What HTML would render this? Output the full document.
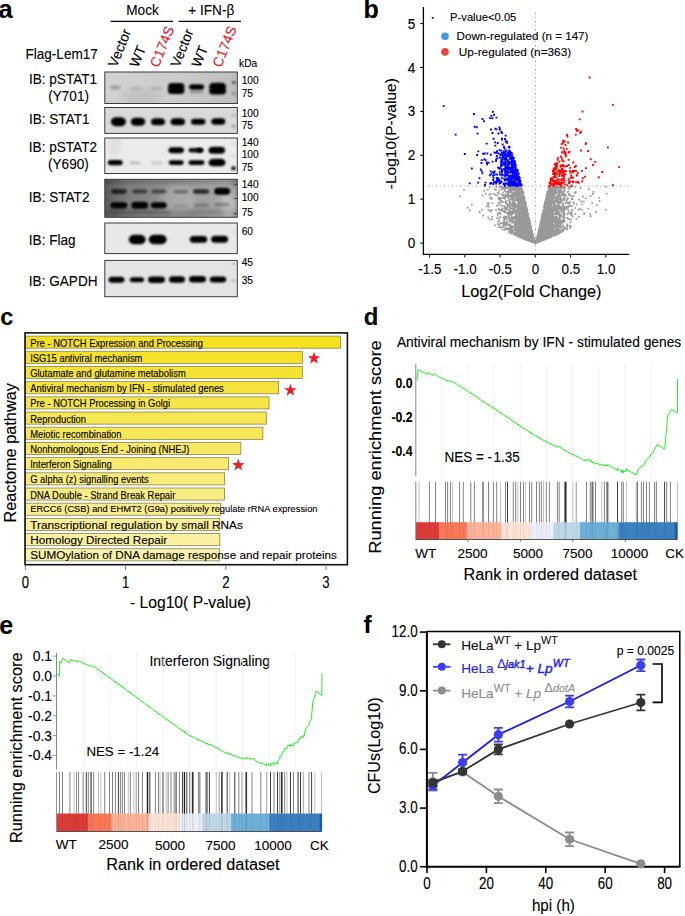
<!DOCTYPE html>
<html><head><meta charset="utf-8"><style>html,body{margin:0;padding:0;background:#fff;overflow:hidden}svg{display:block}text{font-family:"Liberation Sans",sans-serif}</style></head>
<body><svg width="685" height="916" viewBox="0 0 685 916">
<rect width="685" height="916" fill="#fff"/>
<defs>
<filter id="bl0" x="-50%" y="-50%" width="200%" height="200%"><feGaussianBlur stdDeviation="0.6"/></filter>
<filter id="bl1" x="-50%" y="-50%" width="200%" height="200%"><feGaussianBlur stdDeviation="0.9"/></filter>
<filter id="bl2" x="-50%" y="-50%" width="200%" height="200%"><feGaussianBlur stdDeviation="1.2"/></filter>
<filter id="bl3" x="-50%" y="-50%" width="200%" height="200%"><feGaussianBlur stdDeviation="1.6"/></filter>
<filter id="bl4" x="-50%" y="-50%" width="200%" height="200%"><feGaussianBlur stdDeviation="2.2"/></filter>
<filter id="bl5" x="-50%" y="-50%" width="200%" height="200%"><feGaussianBlur stdDeviation="3.0"/></filter>
</defs>
<text x="-1.50" y="17.60" font-size="25.5" fill="#000" text-anchor="start" font-weight="bold"  stroke="#000" stroke-width="0.12">a</text>
<text transform="translate(126.30,15.30) scale(1,1.08)" font-size="13.6" fill="#000" text-anchor="start" stroke="#000" stroke-width="0.12">Mock</text>
<text transform="translate(188.30,15.30) scale(1,1.08)" font-size="13.6" fill="#000" text-anchor="start" stroke="#000" stroke-width="0.12">+ IFN-β</text>
<line x1="110.7" y1="21.4" x2="173" y2="21.4" stroke="#000" stroke-width="1.1"/>
<line x1="178.6" y1="21.4" x2="241" y2="21.4" stroke="#000" stroke-width="1.1"/>
<text transform="translate(25.40,58.60) scale(1,1.1)" font-size="13.6" fill="#000" text-anchor="start" stroke="#000" stroke-width="0.12">Flag-Lem17</text>
<text transform="translate(116.5,68.2) rotate(-68)" font-size="14" fill="#000" stroke="#000" stroke-width="0.12">Vector</text>
<text transform="translate(138.0,68.2) rotate(-68)" font-size="14" fill="#000" stroke="#000" stroke-width="0.12">WT</text>
<text transform="translate(158.5,68.2) rotate(-68)" font-size="14" fill="#e8141c" stroke="#e8141c" stroke-width="0.12">C174S</text>
<text transform="translate(179.0,68.2) rotate(-68)" font-size="14" fill="#000" stroke="#000" stroke-width="0.12">Vector</text>
<text transform="translate(200.0,68.2) rotate(-68)" font-size="14" fill="#000" stroke="#000" stroke-width="0.12">WT</text>
<text transform="translate(221.0,68.2) rotate(-68)" font-size="14" fill="#e8141c" stroke="#e8141c" stroke-width="0.12">C174S</text>
<text x="239.10" y="66.50" font-size="10.2" fill="#000" text-anchor="start"  stroke="#000" stroke-width="0.12">kDa</text>
<text transform="translate(28.90,83.80) scale(1,1.1)" font-size="13.6" fill="#000" text-anchor="start" stroke="#000" stroke-width="0.12">IB: pSTAT1</text>
<text transform="translate(48.20,101.10) scale(1,1.1)" font-size="13.6" fill="#000" text-anchor="start" stroke="#000" stroke-width="0.12">(Y701)</text>
<text transform="translate(28.90,124.40) scale(1,1.1)" font-size="13.6" fill="#000" text-anchor="start" stroke="#000" stroke-width="0.12">IB: STAT1</text>
<text transform="translate(28.80,152.30) scale(1,1.1)" font-size="13.6" fill="#000" text-anchor="start" stroke="#000" stroke-width="0.12">IB: pSTAT2</text>
<text transform="translate(48.00,168.90) scale(1,1.1)" font-size="13.6" fill="#000" text-anchor="start" stroke="#000" stroke-width="0.12">(Y690)</text>
<text transform="translate(28.80,202.10) scale(1,1.1)" font-size="13.6" fill="#000" text-anchor="start" stroke="#000" stroke-width="0.12">IB: STAT2</text>
<text transform="translate(28.80,244.50) scale(1,1.1)" font-size="13.6" fill="#000" text-anchor="start" stroke="#000" stroke-width="0.12">IB: Flag</text>
<text transform="translate(28.80,285.90) scale(1,1.1)" font-size="13.6" fill="#000" text-anchor="start" stroke="#000" stroke-width="0.12">IB: GAPDH</text>
<text x="241.70" y="83.80" font-size="10.2" fill="#000" text-anchor="start"  stroke="#000" stroke-width="0.12">100</text>
<text x="241.70" y="96.60" font-size="10.2" fill="#000" text-anchor="start"  stroke="#000" stroke-width="0.12">75</text>
<text x="241.70" y="116.50" font-size="10.2" fill="#000" text-anchor="start"  stroke="#000" stroke-width="0.12">100</text>
<text x="241.70" y="129.30" font-size="10.2" fill="#000" text-anchor="start"  stroke="#000" stroke-width="0.12">75</text>
<text x="241.70" y="145.70" font-size="10.2" fill="#000" text-anchor="start"  stroke="#000" stroke-width="0.12">140</text>
<text x="241.70" y="158.40" font-size="10.2" fill="#000" text-anchor="start"  stroke="#000" stroke-width="0.12">100</text>
<text x="241.70" y="171.20" font-size="10.2" fill="#000" text-anchor="start"  stroke="#000" stroke-width="0.12">75</text>
<text x="241.70" y="188.30" font-size="10.2" fill="#000" text-anchor="start"  stroke="#000" stroke-width="0.12">140</text>
<text x="241.70" y="201.00" font-size="10.2" fill="#000" text-anchor="start"  stroke="#000" stroke-width="0.12">100</text>
<text x="241.70" y="216.00" font-size="10.2" fill="#000" text-anchor="start"  stroke="#000" stroke-width="0.12">75</text>
<text x="241.70" y="234.70" font-size="10.2" fill="#000" text-anchor="start"  stroke="#000" stroke-width="0.12">60</text>
<text x="241.70" y="266.30" font-size="10.2" fill="#000" text-anchor="start"  stroke="#000" stroke-width="0.12">45</text>
<text x="241.70" y="283.60" font-size="10.2" fill="#000" text-anchor="start"  stroke="#000" stroke-width="0.12">35</text>
<clipPath id="cp1"><rect x="104.8" y="72" width="132.5" height="31.5"/></clipPath>
<g clip-path="url(#cp1)">
<linearGradient id="g1" x1="0" y1="0" x2="1" y2="0"><stop offset="0" stop-color="#d2d2d2"/><stop offset="0.6" stop-color="#cbcbcb"/><stop offset="1" stop-color="#bdbdbd"/></linearGradient><rect x="100" y="70" width="140" height="40" fill="url(#g1)"/><ellipse cx="140" cy="97" rx="20" ry="8" fill="#000" opacity="0.06" filter="url(#bl5)"/>

<rect x="110.50" y="85.75" width="10.00" height="3.50" rx="2.10" ry="1.75" fill="#000" opacity="0.3" filter="url(#bl3)"/>
<rect x="130.00" y="86.75" width="12.00" height="3.50" rx="2.10" ry="1.75" fill="#000" opacity="0.12" filter="url(#bl3)"/>
<rect x="151.00" y="87.00" width="11.00" height="3.00" rx="1.80" ry="1.50" fill="#000" opacity="0.15" filter="url(#bl3)"/>
<rect x="167.95" y="83.10" width="16.50" height="7.00" rx="4.20" ry="3.50" fill="#000" opacity="1" filter="url(#bl1)"/>
<rect x="167.95" y="87.55" width="16.50" height="6.50" rx="3.90" ry="3.25" fill="#000" opacity="1" filter="url(#bl1)"/>
<rect x="189.10" y="84.35" width="15.00" height="5.50" rx="3.30" ry="2.75" fill="#000" opacity="1" filter="url(#bl1)"/>
<rect x="189.60" y="90.50" width="14.00" height="3.00" rx="1.80" ry="1.50" fill="#000" opacity="0.25" filter="url(#bl2)"/>
<rect x="209.10" y="82.85" width="17.00" height="7.50" rx="4.50" ry="3.75" fill="#000" opacity="1" filter="url(#bl1)"/>
<rect x="209.10" y="87.50" width="17.00" height="7.00" rx="4.20" ry="3.50" fill="#000" opacity="1" filter="url(#bl1)"/>
<rect x="231.90" y="80.75" width="4.00" height="3.50" rx="2.00" ry="1.75" fill="#000" opacity="0.55" filter="url(#bl2)"/>
<rect x="231.90" y="91.60" width="4.00" height="4.00" rx="2.00" ry="2.00" fill="#000" opacity="0.25" filter="url(#bl2)"/>
</g>
<rect x="104.8" y="72" width="132.5" height="31.5" fill="none" stroke="#3a3a3a" stroke-width="1"/>
<clipPath id="cp2"><rect x="104.8" y="107.5" width="132.5" height="25.900000000000006"/></clipPath>
<g clip-path="url(#cp2)">
<rect x="100" y="100" width="140" height="40" fill="#d9d9d9"/>

<rect x="110.90" y="117.20" width="15.00" height="9.00" rx="5.40" ry="4.50" fill="#000" opacity="1" filter="url(#bl1)"/>
<rect x="130.75" y="117.70" width="14.50" height="8.00" rx="4.80" ry="4.00" fill="#000" opacity="1" filter="url(#bl1)"/>
<rect x="151.00" y="118.30" width="14.00" height="7.00" rx="4.20" ry="3.50" fill="#000" opacity="1" filter="url(#bl1)"/>
<rect x="170.55" y="118.20" width="14.50" height="7.00" rx="4.20" ry="3.50" fill="#000" opacity="1" filter="url(#bl1)"/>
<rect x="190.95" y="118.70" width="14.50" height="6.00" rx="3.60" ry="3.00" fill="#000" opacity="1" filter="url(#bl1)"/>
<rect x="211.30" y="118.25" width="14.00" height="6.50" rx="3.90" ry="3.25" fill="#000" opacity="1" filter="url(#bl1)"/>
<rect x="231.50" y="114.25" width="4.00" height="2.50" rx="1.50" ry="1.25" fill="#000" opacity="0.25" filter="url(#bl2)"/>
<rect x="231.50" y="124.80" width="4.00" height="3.00" rx="1.80" ry="1.50" fill="#000" opacity="0.3" filter="url(#bl2)"/>
</g>
<rect x="104.8" y="107.5" width="132.5" height="25.900000000000006" fill="none" stroke="#3a3a3a" stroke-width="1"/>
<clipPath id="cp3"><rect x="104.8" y="138" width="132.5" height="35.5"/></clipPath>
<g clip-path="url(#cp3)">
<rect x="100" y="130" width="140" height="50" fill="#ebebeb"/><ellipse cx="115" cy="146" rx="6" ry="10" fill="#000" opacity="0.05" filter="url(#bl4)"/>

<rect x="168.45" y="147.20" width="15.50" height="6.00" rx="3.60" ry="3.00" fill="#000" opacity="1" filter="url(#bl1)"/>
<rect x="188.50" y="147.95" width="15.00" height="4.50" rx="2.70" ry="2.25" fill="#000" opacity="0.95" filter="url(#bl1)"/>
<rect x="196.50" y="147.95" width="6.00" height="4.50" rx="2.70" ry="2.25" fill="#000" opacity="1" filter="url(#bl1)"/>
<rect x="208.55" y="146.70" width="16.50" height="7.00" rx="4.20" ry="3.50" fill="#000" opacity="1" filter="url(#bl1)"/>
<rect x="107.70" y="160.00" width="15.00" height="5.20" rx="3.12" ry="2.60" fill="#000" opacity="1" filter="url(#bl1)"/>
<rect x="129.80" y="161.60" width="11.00" height="2.80" rx="1.68" ry="1.40" fill="#000" opacity="0.18" filter="url(#bl2)"/>
<rect x="151.00" y="161.60" width="12.00" height="2.80" rx="1.68" ry="1.40" fill="#000" opacity="0.14" filter="url(#bl2)"/>
<rect x="168.70" y="160.20" width="15.00" height="4.80" rx="2.88" ry="2.40" fill="#000" opacity="1" filter="url(#bl1)"/>
<rect x="188.50" y="160.20" width="16.00" height="4.80" rx="2.88" ry="2.40" fill="#000" opacity="1" filter="url(#bl1)"/>
<rect x="208.50" y="158.85" width="17.00" height="7.50" rx="4.50" ry="3.75" fill="#000" opacity="1" filter="url(#bl1)"/>
<rect x="231.25" y="166.30" width="4.50" height="4.00" rx="2.25" ry="2.00" fill="#000" opacity="1" filter="url(#bl1)"/>
<rect x="231.50" y="154.80" width="4.00" height="2.00" rx="1.20" ry="1.00" fill="#000" opacity="0.15" filter="url(#bl1)"/>
<rect x="231.50" y="142.40" width="4.00" height="2.00" rx="1.20" ry="1.00" fill="#000" opacity="0.12" filter="url(#bl1)"/>
</g>
<rect x="104.8" y="138" width="132.5" height="35.5" fill="none" stroke="#3a3a3a" stroke-width="1"/>
<clipPath id="cp4"><rect x="104.8" y="179.3" width="132.5" height="38.0"/></clipPath>
<g clip-path="url(#cp4)">
<linearGradient id="g4" x1="0" y1="0" x2="1" y2="0"><stop offset="0" stop-color="#555555"/><stop offset="0.2" stop-color="#7c7c7c"/><stop offset="0.55" stop-color="#959595"/><stop offset="0.9" stop-color="#a8a8a8"/><stop offset="1" stop-color="#8a8a8a"/></linearGradient><rect x="100" y="175" width="140" height="50" fill="url(#g4)"/><rect x="100" y="179" width="140" height="5" fill="#000" opacity="0.15" filter="url(#bl3)"/><rect x="100" y="209" width="140" height="8" fill="#000" opacity="0.12" filter="url(#bl4)"/><ellipse cx="178" cy="200" rx="18" ry="14" fill="#fff" opacity="0.18" filter="url(#bl5)"/><ellipse cx="230" cy="205" rx="8" ry="14" fill="#fff" opacity="0.3" filter="url(#bl5)"/>

<rect x="111.15" y="189.15" width="15.50" height="4.50" rx="2.70" ry="2.25" fill="#000" opacity="0.75" filter="url(#bl1)"/>
<rect x="132.30" y="189.60" width="15.00" height="4.00" rx="2.40" ry="2.00" fill="#000" opacity="0.55" filter="url(#bl1)"/>
<rect x="151.30" y="189.60" width="15.00" height="4.00" rx="2.40" ry="2.00" fill="#000" opacity="0.5" filter="url(#bl1)"/>
<rect x="173.30" y="190.05" width="15.00" height="3.50" rx="2.10" ry="1.75" fill="#000" opacity="0.35" filter="url(#bl1)"/>
<rect x="193.20" y="189.15" width="16.00" height="4.50" rx="2.70" ry="2.25" fill="#000" opacity="0.75" filter="url(#bl1)"/>
<rect x="214.20" y="187.70" width="16.00" height="7.00" rx="4.20" ry="3.50" fill="#000" opacity="1" filter="url(#bl1)"/>
<rect x="110.40" y="202.20" width="17.00" height="6.20" rx="3.72" ry="3.10" fill="#000" opacity="1" filter="url(#bl1)"/>
<rect x="131.30" y="201.80" width="17.00" height="7.00" rx="4.20" ry="3.50" fill="#000" opacity="1" filter="url(#bl1)"/>
<rect x="150.80" y="202.30" width="16.00" height="6.00" rx="3.60" ry="3.00" fill="#000" opacity="1" filter="url(#bl1)"/>
<rect x="173.30" y="204.30" width="15.00" height="3.00" rx="1.80" ry="1.50" fill="#000" opacity="0.12" filter="url(#bl2)"/>
<rect x="193.70" y="203.55" width="15.00" height="3.50" rx="2.10" ry="1.75" fill="#000" opacity="0.22" filter="url(#bl2)"/>
<rect x="214.70" y="202.85" width="15.00" height="3.50" rx="2.10" ry="1.75" fill="#000" opacity="0.28" filter="url(#bl2)"/>
<rect x="110.00" y="210.00" width="60.00" height="4.00" rx="2.40" ry="2.00" fill="#000" opacity="0.15" filter="url(#bl3)"/>
<rect x="170.00" y="210.00" width="60.00" height="4.00" rx="2.40" ry="2.00" fill="#000" opacity="0.06" filter="url(#bl3)"/>
</g>
<rect x="104.8" y="179.3" width="132.5" height="38.0" fill="none" stroke="#3a3a3a" stroke-width="1"/>
<g stroke="#333" stroke-width="0.9"><line x1="233.8" y1="184.8" x2="237" y2="184.8"/><line x1="233.8" y1="198.5" x2="237" y2="198.5"/><line x1="233.8" y1="213.5" x2="237" y2="213.5"/></g>
<clipPath id="cp5"><rect x="104.8" y="223" width="132.5" height="30.599999999999994"/></clipPath>
<g clip-path="url(#cp5)">
<rect x="100" y="220" width="140" height="40" fill="#e8e8e8"/>

<rect x="128.70" y="234.85" width="17.00" height="9.50" rx="5.70" ry="4.75" fill="#000" opacity="1" filter="url(#bl1)"/>
<rect x="148.70" y="234.85" width="18.00" height="9.50" rx="5.70" ry="4.75" fill="#000" opacity="1" filter="url(#bl1)"/>
<rect x="189.75" y="236.00" width="17.50" height="6.80" rx="4.08" ry="3.40" fill="#000" opacity="1" filter="url(#bl1)"/>
<rect x="211.10" y="235.70" width="17.00" height="7.00" rx="4.20" ry="3.50" fill="#000" opacity="1" filter="url(#bl1)"/>
<rect x="232.00" y="231.00" width="3.00" height="2.00" rx="1.20" ry="1.00" fill="#000" opacity="0.1" filter="url(#bl1)"/>
</g>
<rect x="104.8" y="223" width="132.5" height="30.599999999999994" fill="none" stroke="#3a3a3a" stroke-width="1"/>
<clipPath id="cp6"><rect x="104.8" y="260.4" width="132.5" height="36.30000000000001"/></clipPath>
<g clip-path="url(#cp6)">
<rect x="100" y="255" width="140" height="45" fill="#e4e4e4"/>

<rect x="108.50" y="276.70" width="16.00" height="6.00" rx="3.60" ry="3.00" fill="#000" opacity="1" filter="url(#bl1)"/>
<rect x="129.75" y="277.20" width="14.30" height="5.00" rx="3.00" ry="2.50" fill="#000" opacity="1" filter="url(#bl1)"/>
<rect x="148.00" y="276.45" width="17.00" height="6.50" rx="3.90" ry="3.25" fill="#000" opacity="1" filter="url(#bl1)"/>
<rect x="169.00" y="276.25" width="16.00" height="6.50" rx="3.90" ry="3.25" fill="#000" opacity="1" filter="url(#bl1)"/>
<rect x="189.00" y="276.05" width="17.00" height="6.50" rx="3.90" ry="3.25" fill="#000" opacity="1" filter="url(#bl1)"/>
<rect x="209.75" y="276.50" width="16.50" height="6.00" rx="3.60" ry="3.00" fill="#000" opacity="1" filter="url(#bl1)"/>
<rect x="231.75" y="263.00" width="3.50" height="2.00" rx="1.20" ry="1.00" fill="#000" opacity="0.25" filter="url(#bl1)"/>
<rect x="231.50" y="279.25" width="4.00" height="2.50" rx="1.50" ry="1.25" fill="#000" opacity="0.25" filter="url(#bl1)"/>
</g>
<rect x="104.8" y="260.4" width="132.5" height="36.30000000000001" fill="none" stroke="#3a3a3a" stroke-width="1"/>
<text x="363.60" y="17.90" font-size="25" fill="#000" text-anchor="start" font-weight="bold"  stroke="#000" stroke-width="0.12">b</text>
<line x1="423.4" y1="7" x2="423.4" y2="254.6" stroke="#000" stroke-width="1.3"/>
<line x1="422.8" y1="254.3" x2="629.4" y2="254.3" stroke="#000" stroke-width="1.3"/>
<line x1="420.2" y1="243.1" x2="423.4" y2="243.1" stroke="#000" stroke-width="1"/>
<text transform="translate(415.20,248.10) scale(1,1.1)" font-size="13.6" fill="#000" text-anchor="end" stroke="#000" stroke-width="0.12">0</text>
<line x1="420.2" y1="199.2" x2="423.4" y2="199.2" stroke="#000" stroke-width="1"/>
<text transform="translate(415.20,204.20) scale(1,1.1)" font-size="13.6" fill="#000" text-anchor="end" stroke="#000" stroke-width="0.12">1</text>
<line x1="420.2" y1="155.3" x2="423.4" y2="155.3" stroke="#000" stroke-width="1"/>
<text transform="translate(415.20,160.30) scale(1,1.1)" font-size="13.6" fill="#000" text-anchor="end" stroke="#000" stroke-width="0.12">2</text>
<line x1="420.2" y1="111.4" x2="423.4" y2="111.4" stroke="#000" stroke-width="1"/>
<text transform="translate(415.20,116.40) scale(1,1.1)" font-size="13.6" fill="#000" text-anchor="end" stroke="#000" stroke-width="0.12">3</text>
<line x1="420.2" y1="67.5" x2="423.4" y2="67.5" stroke="#000" stroke-width="1"/>
<text transform="translate(415.20,72.50) scale(1,1.1)" font-size="13.6" fill="#000" text-anchor="end" stroke="#000" stroke-width="0.12">4</text>
<line x1="420.2" y1="23.6" x2="423.4" y2="23.6" stroke="#000" stroke-width="1"/>
<text transform="translate(415.20,28.60) scale(1,1.1)" font-size="13.6" fill="#000" text-anchor="end" stroke="#000" stroke-width="0.12">5</text>
<line x1="429.5" y1="254.3" x2="429.5" y2="257.4" stroke="#000" stroke-width="1"/>
<text transform="translate(429.85,273.50) scale(1,1.15)" font-size="13.4" fill="#000" text-anchor="middle" stroke="#000" stroke-width="0.12">-1.5</text>
<line x1="464.8" y1="254.3" x2="464.8" y2="257.4" stroke="#000" stroke-width="1"/>
<text transform="translate(465.10,273.50) scale(1,1.15)" font-size="13.4" fill="#000" text-anchor="middle" stroke="#000" stroke-width="0.12">-1.0</text>
<line x1="500.0" y1="254.3" x2="500.0" y2="257.4" stroke="#000" stroke-width="1"/>
<text transform="translate(500.35,273.50) scale(1,1.15)" font-size="13.4" fill="#000" text-anchor="middle" stroke="#000" stroke-width="0.12">-0.5</text>
<line x1="535.3" y1="254.3" x2="535.3" y2="257.4" stroke="#000" stroke-width="1"/>
<text transform="translate(535.60,273.50) scale(1,1.15)" font-size="13.4" fill="#000" text-anchor="middle" stroke="#000" stroke-width="0.12">0</text>
<line x1="570.5" y1="254.3" x2="570.5" y2="257.4" stroke="#000" stroke-width="1"/>
<text transform="translate(570.85,273.50) scale(1,1.15)" font-size="13.4" fill="#000" text-anchor="middle" stroke="#000" stroke-width="0.12">0.5</text>
<line x1="605.8" y1="254.3" x2="605.8" y2="257.4" stroke="#000" stroke-width="1"/>
<text transform="translate(606.10,273.50) scale(1,1.15)" font-size="13.4" fill="#000" text-anchor="middle" stroke="#000" stroke-width="0.12">1.0</text>
<text x="531.40" y="296.80" font-size="16.3" fill="#000" text-anchor="middle"  stroke="#000" stroke-width="0.12">Log2(Fold Change)</text>
<text transform="translate(396,189.2) rotate(-90)" font-size="14.2" textLength="111" lengthAdjust="spacingAndGlyphs" stroke="#000" stroke-width="0.12">-Log10(P-value)</text>
<line x1="427" y1="186.0" x2="629" y2="186.0" stroke="#9aa8c0" stroke-width="0.7" stroke-dasharray="3,2,1,2"/>
<line x1="535.5" y1="12" x2="535.5" y2="252" stroke="#9aa8c0" stroke-width="0.7" stroke-dasharray="3,2,1,2"/>
<path fill="#999999" d="M521.4 203.5h1.7v1.7h-1.7zM530.8 233.2h1.7v1.7h-1.7zM540.2 234.1h1.7v1.7h-1.7zM515.7 233.7h1.7v1.7h-1.7zM533.3 241.8h1.7v1.7h-1.7zM535.4 241.8h1.7v1.7h-1.7zM528.8 232.0h1.7v1.7h-1.7zM530.0 234.9h1.7v1.7h-1.7zM525.9 230.2h1.7v1.7h-1.7zM543.1 235.6h1.7v1.7h-1.7zM523.5 220.8h1.7v1.7h-1.7zM532.3 239.4h1.7v1.7h-1.7zM516.9 196.3h1.7v1.7h-1.7zM560.4 230.1h1.7v1.7h-1.7zM547.8 213.8h1.7v1.7h-1.7zM550.7 189.9h1.7v1.7h-1.7zM531.4 241.1h1.7v1.7h-1.7zM540.7 221.3h1.7v1.7h-1.7zM551.3 212.4h1.7v1.7h-1.7zM539.1 238.1h1.7v1.7h-1.7zM536.8 236.7h1.7v1.7h-1.7zM510.8 207.4h1.7v1.7h-1.7zM526.1 238.3h1.7v1.7h-1.7zM531.9 240.9h1.7v1.7h-1.7zM514.8 224.1h1.7v1.7h-1.7zM533.3 239.0h1.7v1.7h-1.7zM567.2 217.8h1.7v1.7h-1.7zM532.1 240.7h1.7v1.7h-1.7zM543.9 234.4h1.7v1.7h-1.7zM521.2 224.4h1.7v1.7h-1.7zM515.2 220.8h1.7v1.7h-1.7zM535.6 240.9h1.7v1.7h-1.7zM532.0 239.4h1.7v1.7h-1.7zM527.6 226.5h1.7v1.7h-1.7zM546.9 207.3h1.7v1.7h-1.7zM556.6 227.4h1.7v1.7h-1.7zM539.7 228.6h1.7v1.7h-1.7zM543.5 211.5h1.7v1.7h-1.7zM528.3 236.5h1.7v1.7h-1.7zM527.7 238.0h1.7v1.7h-1.7zM541.5 231.8h1.7v1.7h-1.7zM552.2 228.0h1.7v1.7h-1.7zM514.6 203.2h1.7v1.7h-1.7zM548.9 189.7h1.7v1.7h-1.7zM547.3 227.9h1.7v1.7h-1.7zM537.6 239.6h1.7v1.7h-1.7zM545.6 227.2h1.7v1.7h-1.7zM516.7 186.0h1.7v1.7h-1.7zM546.9 233.8h1.7v1.7h-1.7zM542.2 214.8h1.7v1.7h-1.7zM523.5 228.1h1.7v1.7h-1.7zM483.4 190.0h1.7v1.7h-1.7zM523.5 196.8h1.7v1.7h-1.7zM525.8 228.6h1.7v1.7h-1.7zM519.8 233.0h1.7v1.7h-1.7zM527.2 213.6h1.7v1.7h-1.7zM521.6 211.0h1.7v1.7h-1.7zM542.7 229.5h1.7v1.7h-1.7zM509.8 227.9h1.7v1.7h-1.7zM545.5 232.0h1.7v1.7h-1.7zM547.1 208.6h1.7v1.7h-1.7zM534.5 242.1h1.7v1.7h-1.7zM544.7 212.2h1.7v1.7h-1.7zM529.7 231.6h1.7v1.7h-1.7zM545.7 228.0h1.7v1.7h-1.7zM519.5 201.1h1.7v1.7h-1.7zM546.2 237.1h1.7v1.7h-1.7zM526.8 228.7h1.7v1.7h-1.7zM538.7 240.2h1.7v1.7h-1.7zM519.4 207.4h1.7v1.7h-1.7zM515.8 217.0h1.7v1.7h-1.7zM554.6 230.4h1.7v1.7h-1.7zM544.8 200.2h1.7v1.7h-1.7zM564.1 207.5h1.7v1.7h-1.7zM540.9 240.0h1.7v1.7h-1.7zM554.4 223.7h1.7v1.7h-1.7zM527.4 217.9h1.7v1.7h-1.7zM531.9 238.3h1.7v1.7h-1.7zM534.9 241.5h1.7v1.7h-1.7zM536.2 239.3h1.7v1.7h-1.7zM528.4 226.5h1.7v1.7h-1.7zM524.2 230.9h1.7v1.7h-1.7zM469.0 209.6h1.7v1.7h-1.7zM522.4 199.2h1.7v1.7h-1.7zM505.9 223.1h1.7v1.7h-1.7zM574.5 185.8h1.7v1.7h-1.7zM539.1 231.8h1.7v1.7h-1.7zM525.2 203.0h1.7v1.7h-1.7zM567.6 190.8h1.7v1.7h-1.7zM542.8 228.7h1.7v1.7h-1.7zM546.3 191.8h1.7v1.7h-1.7zM534.3 242.1h1.7v1.7h-1.7zM535.8 241.7h1.7v1.7h-1.7zM540.8 227.6h1.7v1.7h-1.7zM559.5 194.8h1.7v1.7h-1.7zM532.7 239.9h1.7v1.7h-1.7zM540.3 238.8h1.7v1.7h-1.7zM536.8 241.3h1.7v1.7h-1.7zM517.2 234.4h1.7v1.7h-1.7zM545.8 232.6h1.7v1.7h-1.7zM535.1 240.8h1.7v1.7h-1.7zM528.0 228.6h1.7v1.7h-1.7zM523.8 238.0h1.7v1.7h-1.7zM549.5 221.9h1.7v1.7h-1.7zM536.6 241.5h1.7v1.7h-1.7zM538.5 237.2h1.7v1.7h-1.7zM526.6 229.8h1.7v1.7h-1.7zM523.6 216.9h1.7v1.7h-1.7zM539.9 227.6h1.7v1.7h-1.7zM547.2 191.3h1.7v1.7h-1.7zM533.0 241.2h1.7v1.7h-1.7zM540.8 238.6h1.7v1.7h-1.7zM527.6 219.6h1.7v1.7h-1.7zM531.0 235.5h1.7v1.7h-1.7zM543.5 215.6h1.7v1.7h-1.7zM487.5 204.1h1.7v1.7h-1.7zM524.3 237.5h1.7v1.7h-1.7zM540.9 233.9h1.7v1.7h-1.7zM546.9 225.2h1.7v1.7h-1.7zM530.2 240.5h1.7v1.7h-1.7zM542.9 237.5h1.7v1.7h-1.7zM518.0 210.3h1.7v1.7h-1.7zM551.1 226.8h1.7v1.7h-1.7zM516.9 219.6h1.7v1.7h-1.7zM537.7 240.8h1.7v1.7h-1.7zM550.3 235.9h1.7v1.7h-1.7zM528.3 220.7h1.7v1.7h-1.7zM557.9 222.7h1.7v1.7h-1.7zM538.8 228.2h1.7v1.7h-1.7zM521.4 230.3h1.7v1.7h-1.7zM551.5 229.2h1.7v1.7h-1.7zM540.9 225.8h1.7v1.7h-1.7zM512.1 185.7h1.7v1.7h-1.7zM557.5 202.4h1.7v1.7h-1.7zM513.0 202.2h1.7v1.7h-1.7zM545.8 235.4h1.7v1.7h-1.7zM531.3 230.8h1.7v1.7h-1.7zM559.0 201.0h1.7v1.7h-1.7zM546.4 210.1h1.7v1.7h-1.7zM515.8 231.4h1.7v1.7h-1.7zM537.7 230.9h1.7v1.7h-1.7zM540.5 238.1h1.7v1.7h-1.7zM501.8 207.6h1.7v1.7h-1.7zM562.4 224.4h1.7v1.7h-1.7zM549.9 213.2h1.7v1.7h-1.7zM522.3 235.7h1.7v1.7h-1.7zM533.0 241.0h1.7v1.7h-1.7zM535.1 241.8h1.7v1.7h-1.7zM539.9 223.9h1.7v1.7h-1.7zM543.2 234.3h1.7v1.7h-1.7zM525.4 234.8h1.7v1.7h-1.7zM522.1 211.0h1.7v1.7h-1.7zM530.1 238.3h1.7v1.7h-1.7zM544.1 201.8h1.7v1.7h-1.7zM551.0 222.2h1.7v1.7h-1.7zM536.6 239.1h1.7v1.7h-1.7zM536.1 238.2h1.7v1.7h-1.7zM542.5 235.2h1.7v1.7h-1.7zM549.7 189.3h1.7v1.7h-1.7zM533.1 239.5h1.7v1.7h-1.7zM531.8 234.8h1.7v1.7h-1.7zM537.8 236.0h1.7v1.7h-1.7zM544.5 235.5h1.7v1.7h-1.7zM537.7 233.9h1.7v1.7h-1.7zM527.8 229.9h1.7v1.7h-1.7zM534.5 242.2h1.7v1.7h-1.7zM519.3 217.3h1.7v1.7h-1.7zM533.8 241.2h1.7v1.7h-1.7zM539.1 240.0h1.7v1.7h-1.7zM553.2 217.2h1.7v1.7h-1.7zM537.0 237.4h1.7v1.7h-1.7zM532.5 237.8h1.7v1.7h-1.7zM528.8 235.4h1.7v1.7h-1.7zM545.5 207.2h1.7v1.7h-1.7zM518.6 219.9h1.7v1.7h-1.7zM520.9 227.0h1.7v1.7h-1.7zM552.7 193.3h1.7v1.7h-1.7zM548.9 207.9h1.7v1.7h-1.7zM503.6 229.1h1.7v1.7h-1.7zM522.9 228.2h1.7v1.7h-1.7zM506.1 227.7h1.7v1.7h-1.7zM528.3 224.0h1.7v1.7h-1.7zM528.3 232.4h1.7v1.7h-1.7zM546.1 234.0h1.7v1.7h-1.7zM544.6 202.0h1.7v1.7h-1.7zM543.8 236.6h1.7v1.7h-1.7zM538.2 240.3h1.7v1.7h-1.7zM519.4 188.9h1.7v1.7h-1.7zM557.6 213.6h1.7v1.7h-1.7zM539.1 230.3h1.7v1.7h-1.7zM539.0 238.8h1.7v1.7h-1.7zM511.7 201.3h1.7v1.7h-1.7zM525.1 222.4h1.7v1.7h-1.7zM538.3 240.7h1.7v1.7h-1.7zM520.0 230.0h1.7v1.7h-1.7zM527.9 234.8h1.7v1.7h-1.7zM540.5 238.0h1.7v1.7h-1.7zM547.7 234.1h1.7v1.7h-1.7zM543.9 212.6h1.7v1.7h-1.7zM547.3 195.4h1.7v1.7h-1.7zM504.5 218.0h1.7v1.7h-1.7zM519.0 190.3h1.7v1.7h-1.7zM544.3 216.7h1.7v1.7h-1.7zM562.4 230.5h1.7v1.7h-1.7zM540.3 235.8h1.7v1.7h-1.7zM543.5 204.7h1.7v1.7h-1.7zM522.8 210.6h1.7v1.7h-1.7zM548.3 228.3h1.7v1.7h-1.7zM524.5 220.1h1.7v1.7h-1.7zM517.7 193.1h1.7v1.7h-1.7zM516.9 234.3h1.7v1.7h-1.7zM529.2 235.4h1.7v1.7h-1.7zM547.2 190.3h1.7v1.7h-1.7zM526.2 213.9h1.7v1.7h-1.7zM541.3 231.1h1.7v1.7h-1.7zM540.8 217.8h1.7v1.7h-1.7zM549.4 185.6h1.7v1.7h-1.7zM551.3 200.4h1.7v1.7h-1.7zM530.4 237.1h1.7v1.7h-1.7zM518.2 201.0h1.7v1.7h-1.7zM516.5 209.0h1.7v1.7h-1.7zM571.6 198.2h1.7v1.7h-1.7zM550.1 232.2h1.7v1.7h-1.7zM532.9 240.0h1.7v1.7h-1.7zM515.7 221.3h1.7v1.7h-1.7zM519.5 222.2h1.7v1.7h-1.7zM519.8 216.5h1.7v1.7h-1.7zM543.2 237.8h1.7v1.7h-1.7zM510.1 189.4h1.7v1.7h-1.7zM542.4 215.8h1.7v1.7h-1.7zM520.1 191.4h1.7v1.7h-1.7zM532.2 240.7h1.7v1.7h-1.7zM529.4 234.0h1.7v1.7h-1.7zM522.6 237.4h1.7v1.7h-1.7zM552.7 197.5h1.7v1.7h-1.7zM562.6 202.7h1.7v1.7h-1.7zM530.2 228.5h1.7v1.7h-1.7zM541.8 226.0h1.7v1.7h-1.7zM533.7 240.4h1.7v1.7h-1.7zM539.9 223.2h1.7v1.7h-1.7zM533.1 239.7h1.7v1.7h-1.7zM533.2 240.9h1.7v1.7h-1.7zM535.6 240.8h1.7v1.7h-1.7zM542.8 237.8h1.7v1.7h-1.7zM558.6 230.6h1.7v1.7h-1.7zM532.8 238.3h1.7v1.7h-1.7zM540.7 226.2h1.7v1.7h-1.7zM548.3 198.3h1.7v1.7h-1.7zM525.8 234.0h1.7v1.7h-1.7zM531.5 233.0h1.7v1.7h-1.7zM541.8 231.3h1.7v1.7h-1.7zM560.3 191.5h1.7v1.7h-1.7zM546.2 195.5h1.7v1.7h-1.7zM513.3 233.1h1.7v1.7h-1.7zM536.5 240.4h1.7v1.7h-1.7zM537.4 235.1h1.7v1.7h-1.7zM516.5 225.6h1.7v1.7h-1.7zM530.8 234.3h1.7v1.7h-1.7zM526.3 232.3h1.7v1.7h-1.7zM533.5 241.1h1.7v1.7h-1.7zM548.8 191.4h1.7v1.7h-1.7zM537.5 233.1h1.7v1.7h-1.7zM554.7 197.1h1.7v1.7h-1.7zM507.6 215.3h1.7v1.7h-1.7zM544.1 230.7h1.7v1.7h-1.7zM549.6 226.6h1.7v1.7h-1.7zM533.9 241.7h1.7v1.7h-1.7zM541.6 216.9h1.7v1.7h-1.7zM512.7 196.6h1.7v1.7h-1.7zM570.5 213.6h1.7v1.7h-1.7zM538.5 239.8h1.7v1.7h-1.7zM533.0 239.1h1.7v1.7h-1.7zM530.8 239.3h1.7v1.7h-1.7zM514.5 204.6h1.7v1.7h-1.7zM541.7 233.5h1.7v1.7h-1.7zM517.5 188.9h1.7v1.7h-1.7zM521.5 230.1h1.7v1.7h-1.7zM534.0 242.0h1.7v1.7h-1.7zM511.0 186.1h1.7v1.7h-1.7zM542.3 224.8h1.7v1.7h-1.7zM529.3 230.7h1.7v1.7h-1.7zM544.8 222.8h1.7v1.7h-1.7zM532.4 240.9h1.7v1.7h-1.7zM523.4 228.6h1.7v1.7h-1.7zM549.6 201.7h1.7v1.7h-1.7zM531.0 230.9h1.7v1.7h-1.7zM536.8 237.2h1.7v1.7h-1.7zM544.8 233.6h1.7v1.7h-1.7zM532.6 239.5h1.7v1.7h-1.7zM521.7 236.8h1.7v1.7h-1.7zM531.6 241.2h1.7v1.7h-1.7zM535.2 241.6h1.7v1.7h-1.7zM522.2 228.9h1.7v1.7h-1.7zM541.5 227.7h1.7v1.7h-1.7zM551.6 217.2h1.7v1.7h-1.7zM550.2 207.8h1.7v1.7h-1.7zM543.3 221.1h1.7v1.7h-1.7zM545.4 231.7h1.7v1.7h-1.7zM538.0 238.4h1.7v1.7h-1.7zM554.3 219.1h1.7v1.7h-1.7zM519.7 234.0h1.7v1.7h-1.7zM574.1 213.0h1.7v1.7h-1.7zM548.4 207.6h1.7v1.7h-1.7zM544.3 219.0h1.7v1.7h-1.7zM604.9 208.9h1.7v1.7h-1.7zM543.3 234.2h1.7v1.7h-1.7zM534.6 241.8h1.7v1.7h-1.7zM530.3 234.7h1.7v1.7h-1.7zM540.1 223.8h1.7v1.7h-1.7zM556.1 197.7h1.7v1.7h-1.7zM540.8 233.4h1.7v1.7h-1.7zM527.3 224.4h1.7v1.7h-1.7zM555.0 211.3h1.7v1.7h-1.7zM555.5 229.0h1.7v1.7h-1.7zM526.5 221.9h1.7v1.7h-1.7zM537.3 238.8h1.7v1.7h-1.7zM521.8 203.9h1.7v1.7h-1.7zM536.0 240.7h1.7v1.7h-1.7zM553.9 221.1h1.7v1.7h-1.7zM552.8 229.4h1.7v1.7h-1.7zM538.6 239.3h1.7v1.7h-1.7zM539.9 228.9h1.7v1.7h-1.7zM526.0 210.9h1.7v1.7h-1.7zM516.6 235.4h1.7v1.7h-1.7zM533.5 239.9h1.7v1.7h-1.7zM532.4 240.4h1.7v1.7h-1.7zM524.7 216.1h1.7v1.7h-1.7zM512.6 186.2h1.7v1.7h-1.7zM522.8 209.3h1.7v1.7h-1.7zM545.7 229.8h1.7v1.7h-1.7zM519.0 218.5h1.7v1.7h-1.7zM549.7 204.0h1.7v1.7h-1.7zM525.9 207.3h1.7v1.7h-1.7zM532.4 240.3h1.7v1.7h-1.7zM536.6 239.2h1.7v1.7h-1.7zM532.3 239.5h1.7v1.7h-1.7zM533.8 240.7h1.7v1.7h-1.7zM543.4 216.7h1.7v1.7h-1.7zM534.5 242.2h1.7v1.7h-1.7zM546.8 198.6h1.7v1.7h-1.7zM552.5 230.6h1.7v1.7h-1.7zM520.9 188.2h1.7v1.7h-1.7zM533.5 241.7h1.7v1.7h-1.7zM495.6 185.3h1.7v1.7h-1.7zM516.4 195.1h1.7v1.7h-1.7zM542.7 215.8h1.7v1.7h-1.7zM544.2 205.2h1.7v1.7h-1.7zM531.2 239.4h1.7v1.7h-1.7zM512.6 199.4h1.7v1.7h-1.7zM541.1 230.9h1.7v1.7h-1.7zM531.5 240.3h1.7v1.7h-1.7zM552.2 224.8h1.7v1.7h-1.7zM523.2 213.6h1.7v1.7h-1.7zM513.7 232.0h1.7v1.7h-1.7zM540.3 219.4h1.7v1.7h-1.7zM514.0 208.9h1.7v1.7h-1.7zM511.2 191.8h1.7v1.7h-1.7zM537.4 234.8h1.7v1.7h-1.7zM516.8 233.5h1.7v1.7h-1.7zM549.6 203.3h1.7v1.7h-1.7zM543.4 217.8h1.7v1.7h-1.7zM522.1 212.0h1.7v1.7h-1.7zM537.6 240.1h1.7v1.7h-1.7zM526.6 212.2h1.7v1.7h-1.7zM537.5 235.8h1.7v1.7h-1.7zM542.4 216.5h1.7v1.7h-1.7zM558.2 211.0h1.7v1.7h-1.7zM514.9 213.7h1.7v1.7h-1.7zM539.8 229.4h1.7v1.7h-1.7zM518.5 230.5h1.7v1.7h-1.7zM520.4 211.7h1.7v1.7h-1.7zM542.0 227.1h1.7v1.7h-1.7zM566.7 198.4h1.7v1.7h-1.7zM546.0 195.2h1.7v1.7h-1.7zM566.5 213.5h1.7v1.7h-1.7zM535.6 240.5h1.7v1.7h-1.7zM458.9 195.5h1.7v1.7h-1.7zM540.7 235.3h1.7v1.7h-1.7zM536.5 240.5h1.7v1.7h-1.7zM549.1 200.2h1.7v1.7h-1.7zM531.9 235.0h1.7v1.7h-1.7zM543.8 218.2h1.7v1.7h-1.7zM530.5 232.9h1.7v1.7h-1.7zM553.7 207.4h1.7v1.7h-1.7zM522.2 224.1h1.7v1.7h-1.7zM546.3 201.3h1.7v1.7h-1.7zM533.1 241.3h1.7v1.7h-1.7zM521.7 232.4h1.7v1.7h-1.7zM531.9 236.6h1.7v1.7h-1.7zM517.7 215.6h1.7v1.7h-1.7zM537.1 237.2h1.7v1.7h-1.7zM523.6 196.4h1.7v1.7h-1.7zM514.4 189.5h1.7v1.7h-1.7zM556.6 187.3h1.7v1.7h-1.7zM509.2 223.2h1.7v1.7h-1.7zM536.4 239.9h1.7v1.7h-1.7zM518.5 223.5h1.7v1.7h-1.7zM566.9 208.6h1.7v1.7h-1.7zM522.4 227.2h1.7v1.7h-1.7zM538.8 238.4h1.7v1.7h-1.7zM522.9 225.6h1.7v1.7h-1.7zM504.7 223.8h1.7v1.7h-1.7zM553.3 202.2h1.7v1.7h-1.7zM537.6 237.0h1.7v1.7h-1.7zM521.5 225.6h1.7v1.7h-1.7zM544.4 201.5h1.7v1.7h-1.7zM543.7 233.0h1.7v1.7h-1.7zM529.2 233.7h1.7v1.7h-1.7zM544.0 221.1h1.7v1.7h-1.7zM563.1 197.7h1.7v1.7h-1.7zM526.4 230.7h1.7v1.7h-1.7zM524.7 228.9h1.7v1.7h-1.7zM547.6 220.0h1.7v1.7h-1.7zM528.5 224.8h1.7v1.7h-1.7zM532.0 237.1h1.7v1.7h-1.7zM541.6 231.7h1.7v1.7h-1.7zM542.5 231.8h1.7v1.7h-1.7zM541.5 219.2h1.7v1.7h-1.7zM536.3 241.1h1.7v1.7h-1.7zM547.6 229.2h1.7v1.7h-1.7zM536.2 239.6h1.7v1.7h-1.7zM523.2 200.2h1.7v1.7h-1.7zM536.0 241.3h1.7v1.7h-1.7zM536.6 241.5h1.7v1.7h-1.7zM538.3 235.5h1.7v1.7h-1.7zM533.1 240.8h1.7v1.7h-1.7zM556.8 222.4h1.7v1.7h-1.7zM548.6 231.6h1.7v1.7h-1.7zM539.0 225.8h1.7v1.7h-1.7zM508.2 216.5h1.7v1.7h-1.7zM521.9 209.0h1.7v1.7h-1.7zM530.6 234.3h1.7v1.7h-1.7zM517.4 214.2h1.7v1.7h-1.7zM537.4 240.3h1.7v1.7h-1.7zM545.3 214.3h1.7v1.7h-1.7zM571.0 214.3h1.7v1.7h-1.7zM506.5 192.4h1.7v1.7h-1.7zM535.3 241.3h1.7v1.7h-1.7zM532.6 241.3h1.7v1.7h-1.7zM554.2 232.7h1.7v1.7h-1.7zM531.6 235.1h1.7v1.7h-1.7zM544.6 230.9h1.7v1.7h-1.7zM525.5 238.6h1.7v1.7h-1.7zM531.7 239.6h1.7v1.7h-1.7zM549.0 192.8h1.7v1.7h-1.7zM515.7 224.0h1.7v1.7h-1.7zM530.6 237.7h1.7v1.7h-1.7zM542.2 239.4h1.7v1.7h-1.7zM578.2 216.0h1.7v1.7h-1.7zM539.8 236.7h1.7v1.7h-1.7zM523.3 201.2h1.7v1.7h-1.7zM537.1 239.5h1.7v1.7h-1.7zM559.2 188.9h1.7v1.7h-1.7zM532.2 239.3h1.7v1.7h-1.7zM546.6 229.9h1.7v1.7h-1.7zM543.3 205.0h1.7v1.7h-1.7zM549.4 199.2h1.7v1.7h-1.7zM529.3 239.9h1.7v1.7h-1.7zM533.8 240.5h1.7v1.7h-1.7zM530.2 226.6h1.7v1.7h-1.7zM526.1 231.4h1.7v1.7h-1.7zM510.3 195.9h1.7v1.7h-1.7zM521.8 207.2h1.7v1.7h-1.7zM533.5 239.6h1.7v1.7h-1.7zM537.9 235.2h1.7v1.7h-1.7zM519.0 201.7h1.7v1.7h-1.7zM528.8 227.3h1.7v1.7h-1.7zM545.4 220.6h1.7v1.7h-1.7zM543.5 236.2h1.7v1.7h-1.7zM514.6 206.4h1.7v1.7h-1.7zM554.9 213.8h1.7v1.7h-1.7zM545.4 202.8h1.7v1.7h-1.7zM540.8 229.3h1.7v1.7h-1.7zM567.2 202.7h1.7v1.7h-1.7zM551.6 229.3h1.7v1.7h-1.7zM538.4 232.0h1.7v1.7h-1.7zM524.3 229.2h1.7v1.7h-1.7zM563.0 217.1h1.7v1.7h-1.7zM522.3 228.6h1.7v1.7h-1.7zM534.2 241.9h1.7v1.7h-1.7zM544.1 215.3h1.7v1.7h-1.7zM563.4 193.1h1.7v1.7h-1.7zM521.4 230.3h1.7v1.7h-1.7zM515.7 223.1h1.7v1.7h-1.7zM513.3 192.8h1.7v1.7h-1.7zM524.8 238.3h1.7v1.7h-1.7zM544.7 218.7h1.7v1.7h-1.7zM557.5 187.3h1.7v1.7h-1.7zM522.7 234.4h1.7v1.7h-1.7zM522.7 231.1h1.7v1.7h-1.7zM524.9 230.7h1.7v1.7h-1.7zM531.1 240.4h1.7v1.7h-1.7zM518.8 211.5h1.7v1.7h-1.7zM520.8 228.3h1.7v1.7h-1.7zM532.5 241.3h1.7v1.7h-1.7zM545.4 219.4h1.7v1.7h-1.7zM533.7 241.9h1.7v1.7h-1.7zM527.5 219.7h1.7v1.7h-1.7zM529.6 237.9h1.7v1.7h-1.7zM521.4 209.5h1.7v1.7h-1.7zM529.5 226.0h1.7v1.7h-1.7zM526.2 211.8h1.7v1.7h-1.7zM538.0 241.0h1.7v1.7h-1.7zM547.5 231.0h1.7v1.7h-1.7zM528.0 236.5h1.7v1.7h-1.7zM517.1 231.6h1.7v1.7h-1.7zM558.2 225.5h1.7v1.7h-1.7zM534.0 241.9h1.7v1.7h-1.7zM554.3 213.7h1.7v1.7h-1.7zM522.6 221.4h1.7v1.7h-1.7zM534.3 242.0h1.7v1.7h-1.7zM559.2 208.3h1.7v1.7h-1.7zM555.5 223.5h1.7v1.7h-1.7zM530.7 233.4h1.7v1.7h-1.7zM519.7 215.8h1.7v1.7h-1.7zM539.5 231.1h1.7v1.7h-1.7zM517.1 194.7h1.7v1.7h-1.7zM526.3 232.4h1.7v1.7h-1.7zM546.1 221.2h1.7v1.7h-1.7zM534.4 242.2h1.7v1.7h-1.7zM519.2 220.2h1.7v1.7h-1.7zM544.3 230.8h1.7v1.7h-1.7zM543.8 236.4h1.7v1.7h-1.7zM553.4 226.2h1.7v1.7h-1.7zM562.7 228.3h1.7v1.7h-1.7zM549.9 229.2h1.7v1.7h-1.7zM531.7 233.7h1.7v1.7h-1.7zM534.5 242.2h1.7v1.7h-1.7zM552.6 186.3h1.7v1.7h-1.7zM547.9 211.8h1.7v1.7h-1.7zM543.6 217.9h1.7v1.7h-1.7zM520.7 215.5h1.7v1.7h-1.7zM541.2 215.1h1.7v1.7h-1.7zM517.7 206.0h1.7v1.7h-1.7zM545.4 233.3h1.7v1.7h-1.7zM526.8 227.5h1.7v1.7h-1.7zM560.2 214.8h1.7v1.7h-1.7zM521.8 226.3h1.7v1.7h-1.7zM530.0 225.6h1.7v1.7h-1.7zM537.8 238.3h1.7v1.7h-1.7zM541.6 231.5h1.7v1.7h-1.7zM529.7 234.7h1.7v1.7h-1.7zM551.2 200.8h1.7v1.7h-1.7zM528.6 226.5h1.7v1.7h-1.7zM519.1 226.5h1.7v1.7h-1.7zM526.1 239.1h1.7v1.7h-1.7zM534.8 242.1h1.7v1.7h-1.7zM517.9 207.3h1.7v1.7h-1.7zM534.8 242.0h1.7v1.7h-1.7zM550.3 222.9h1.7v1.7h-1.7zM543.5 236.5h1.7v1.7h-1.7zM531.7 237.8h1.7v1.7h-1.7zM505.5 223.9h1.7v1.7h-1.7zM530.5 234.7h1.7v1.7h-1.7zM535.9 240.8h1.7v1.7h-1.7zM540.2 240.1h1.7v1.7h-1.7zM535.0 240.7h1.7v1.7h-1.7zM529.1 224.5h1.7v1.7h-1.7zM538.3 240.4h1.7v1.7h-1.7zM532.0 241.4h1.7v1.7h-1.7zM523.9 201.6h1.7v1.7h-1.7zM541.4 226.5h1.7v1.7h-1.7zM544.8 230.6h1.7v1.7h-1.7zM513.5 225.7h1.7v1.7h-1.7zM549.0 234.2h1.7v1.7h-1.7zM521.9 235.1h1.7v1.7h-1.7zM510.7 197.3h1.7v1.7h-1.7zM545.1 237.7h1.7v1.7h-1.7zM552.5 208.5h1.7v1.7h-1.7zM541.4 232.4h1.7v1.7h-1.7zM551.3 195.9h1.7v1.7h-1.7zM548.1 235.0h1.7v1.7h-1.7zM540.7 224.3h1.7v1.7h-1.7zM534.8 241.9h1.7v1.7h-1.7zM520.7 204.9h1.7v1.7h-1.7zM510.7 215.6h1.7v1.7h-1.7zM535.0 241.5h1.7v1.7h-1.7zM514.1 193.0h1.7v1.7h-1.7zM522.2 233.9h1.7v1.7h-1.7zM529.6 234.0h1.7v1.7h-1.7zM539.7 230.8h1.7v1.7h-1.7zM522.3 228.0h1.7v1.7h-1.7zM527.1 225.7h1.7v1.7h-1.7zM559.1 205.9h1.7v1.7h-1.7zM542.5 222.6h1.7v1.7h-1.7zM515.7 231.2h1.7v1.7h-1.7zM511.6 199.1h1.7v1.7h-1.7zM523.0 221.0h1.7v1.7h-1.7zM526.5 237.6h1.7v1.7h-1.7zM558.1 224.6h1.7v1.7h-1.7zM527.3 237.7h1.7v1.7h-1.7zM523.5 213.9h1.7v1.7h-1.7zM545.9 218.8h1.7v1.7h-1.7zM551.1 186.1h1.7v1.7h-1.7zM527.2 228.1h1.7v1.7h-1.7zM540.1 234.6h1.7v1.7h-1.7zM548.2 221.8h1.7v1.7h-1.7zM548.2 220.4h1.7v1.7h-1.7zM532.2 240.2h1.7v1.7h-1.7zM561.6 212.6h1.7v1.7h-1.7zM532.7 239.1h1.7v1.7h-1.7zM539.3 236.3h1.7v1.7h-1.7zM528.9 225.1h1.7v1.7h-1.7zM536.5 240.7h1.7v1.7h-1.7zM543.5 238.7h1.7v1.7h-1.7zM518.0 188.9h1.7v1.7h-1.7zM567.6 186.8h1.7v1.7h-1.7zM538.1 238.2h1.7v1.7h-1.7zM533.8 240.3h1.7v1.7h-1.7zM540.1 231.1h1.7v1.7h-1.7zM563.0 206.0h1.7v1.7h-1.7zM537.3 238.9h1.7v1.7h-1.7zM523.6 197.2h1.7v1.7h-1.7zM536.9 239.3h1.7v1.7h-1.7zM513.7 206.2h1.7v1.7h-1.7zM518.2 226.1h1.7v1.7h-1.7zM543.1 233.5h1.7v1.7h-1.7zM557.4 187.7h1.7v1.7h-1.7zM549.4 191.0h1.7v1.7h-1.7zM529.9 231.7h1.7v1.7h-1.7zM533.7 241.5h1.7v1.7h-1.7zM530.9 235.1h1.7v1.7h-1.7zM536.4 240.7h1.7v1.7h-1.7zM547.8 234.9h1.7v1.7h-1.7zM527.0 213.1h1.7v1.7h-1.7zM543.9 209.3h1.7v1.7h-1.7zM532.2 241.1h1.7v1.7h-1.7zM550.3 228.6h1.7v1.7h-1.7zM546.0 236.0h1.7v1.7h-1.7zM540.1 238.5h1.7v1.7h-1.7zM533.0 237.6h1.7v1.7h-1.7zM545.2 227.5h1.7v1.7h-1.7zM542.2 220.0h1.7v1.7h-1.7zM550.8 229.2h1.7v1.7h-1.7zM544.5 215.6h1.7v1.7h-1.7zM530.2 237.9h1.7v1.7h-1.7zM556.3 232.5h1.7v1.7h-1.7zM491.2 216.0h1.7v1.7h-1.7zM522.1 234.3h1.7v1.7h-1.7zM551.5 229.8h1.7v1.7h-1.7zM507.1 191.0h1.7v1.7h-1.7zM558.5 222.3h1.7v1.7h-1.7zM523.2 219.1h1.7v1.7h-1.7zM524.2 232.4h1.7v1.7h-1.7zM545.6 229.2h1.7v1.7h-1.7zM525.0 214.4h1.7v1.7h-1.7zM535.2 240.5h1.7v1.7h-1.7zM528.1 231.5h1.7v1.7h-1.7zM523.3 236.3h1.7v1.7h-1.7zM522.7 192.4h1.7v1.7h-1.7zM533.6 241.0h1.7v1.7h-1.7zM520.7 224.6h1.7v1.7h-1.7zM559.6 188.5h1.7v1.7h-1.7zM531.5 238.6h1.7v1.7h-1.7zM526.5 227.3h1.7v1.7h-1.7zM558.2 191.1h1.7v1.7h-1.7zM536.6 237.3h1.7v1.7h-1.7zM523.3 224.5h1.7v1.7h-1.7zM563.0 192.9h1.7v1.7h-1.7zM500.3 199.7h1.7v1.7h-1.7zM526.8 213.5h1.7v1.7h-1.7zM536.6 239.6h1.7v1.7h-1.7zM528.4 235.0h1.7v1.7h-1.7zM541.9 238.0h1.7v1.7h-1.7zM534.3 241.9h1.7v1.7h-1.7zM496.1 204.4h1.7v1.7h-1.7zM524.5 228.6h1.7v1.7h-1.7zM528.3 234.6h1.7v1.7h-1.7zM532.0 240.5h1.7v1.7h-1.7zM523.2 232.2h1.7v1.7h-1.7zM511.8 220.6h1.7v1.7h-1.7zM540.9 234.8h1.7v1.7h-1.7zM554.8 216.5h1.7v1.7h-1.7zM529.9 239.3h1.7v1.7h-1.7zM548.7 226.1h1.7v1.7h-1.7zM549.1 233.6h1.7v1.7h-1.7zM521.4 223.9h1.7v1.7h-1.7zM530.9 238.0h1.7v1.7h-1.7zM517.6 198.3h1.7v1.7h-1.7zM512.9 195.6h1.7v1.7h-1.7zM540.6 225.7h1.7v1.7h-1.7zM511.2 209.7h1.7v1.7h-1.7zM539.1 226.1h1.7v1.7h-1.7zM525.4 232.4h1.7v1.7h-1.7zM527.5 237.1h1.7v1.7h-1.7zM545.5 220.9h1.7v1.7h-1.7zM516.7 210.3h1.7v1.7h-1.7zM526.5 229.2h1.7v1.7h-1.7zM548.0 192.6h1.7v1.7h-1.7zM538.2 238.0h1.7v1.7h-1.7zM516.9 196.9h1.7v1.7h-1.7zM533.6 241.1h1.7v1.7h-1.7zM501.3 204.7h1.7v1.7h-1.7zM517.5 235.1h1.7v1.7h-1.7zM525.0 227.2h1.7v1.7h-1.7zM528.1 229.0h1.7v1.7h-1.7zM533.6 241.3h1.7v1.7h-1.7zM555.2 196.6h1.7v1.7h-1.7zM491.1 218.6h1.7v1.7h-1.7zM543.5 226.6h1.7v1.7h-1.7zM488.7 218.4h1.7v1.7h-1.7zM515.9 209.5h1.7v1.7h-1.7zM554.4 203.7h1.7v1.7h-1.7zM557.6 204.0h1.7v1.7h-1.7zM511.5 185.3h1.7v1.7h-1.7zM534.2 241.9h1.7v1.7h-1.7zM549.1 233.0h1.7v1.7h-1.7zM543.2 213.7h1.7v1.7h-1.7zM536.6 241.3h1.7v1.7h-1.7zM560.9 186.0h1.7v1.7h-1.7zM521.1 211.1h1.7v1.7h-1.7zM524.9 206.8h1.7v1.7h-1.7zM530.1 235.4h1.7v1.7h-1.7zM542.2 229.0h1.7v1.7h-1.7zM563.8 199.1h1.7v1.7h-1.7zM531.4 240.7h1.7v1.7h-1.7zM533.6 241.1h1.7v1.7h-1.7zM529.5 235.3h1.7v1.7h-1.7zM536.1 240.8h1.7v1.7h-1.7zM541.3 222.5h1.7v1.7h-1.7zM537.5 240.2h1.7v1.7h-1.7zM530.3 239.7h1.7v1.7h-1.7zM501.9 194.0h1.7v1.7h-1.7zM529.4 227.6h1.7v1.7h-1.7zM542.0 221.6h1.7v1.7h-1.7zM536.5 240.8h1.7v1.7h-1.7zM513.3 226.2h1.7v1.7h-1.7zM543.6 221.0h1.7v1.7h-1.7zM550.4 208.3h1.7v1.7h-1.7zM523.5 234.5h1.7v1.7h-1.7zM529.2 230.8h1.7v1.7h-1.7zM529.8 231.5h1.7v1.7h-1.7zM522.5 218.2h1.7v1.7h-1.7zM545.5 225.0h1.7v1.7h-1.7zM535.6 241.7h1.7v1.7h-1.7zM513.4 206.7h1.7v1.7h-1.7zM529.9 240.2h1.7v1.7h-1.7zM517.1 199.8h1.7v1.7h-1.7zM542.9 237.9h1.7v1.7h-1.7zM519.3 194.7h1.7v1.7h-1.7zM534.3 241.8h1.7v1.7h-1.7zM545.7 199.3h1.7v1.7h-1.7zM546.0 230.1h1.7v1.7h-1.7zM529.8 238.1h1.7v1.7h-1.7zM525.1 238.1h1.7v1.7h-1.7zM521.8 211.1h1.7v1.7h-1.7zM522.1 225.6h1.7v1.7h-1.7zM546.0 198.5h1.7v1.7h-1.7zM537.1 238.2h1.7v1.7h-1.7zM538.1 237.2h1.7v1.7h-1.7zM529.1 240.1h1.7v1.7h-1.7zM498.6 209.4h1.7v1.7h-1.7zM524.2 231.2h1.7v1.7h-1.7zM539.5 235.0h1.7v1.7h-1.7zM516.6 206.5h1.7v1.7h-1.7zM559.4 202.5h1.7v1.7h-1.7zM523.4 234.0h1.7v1.7h-1.7zM551.1 222.8h1.7v1.7h-1.7zM519.3 193.6h1.7v1.7h-1.7zM524.7 235.9h1.7v1.7h-1.7zM546.0 236.6h1.7v1.7h-1.7zM513.2 199.4h1.7v1.7h-1.7zM544.4 213.9h1.7v1.7h-1.7zM522.7 238.0h1.7v1.7h-1.7zM524.1 234.3h1.7v1.7h-1.7zM543.1 208.8h1.7v1.7h-1.7zM527.8 236.5h1.7v1.7h-1.7zM540.4 238.2h1.7v1.7h-1.7zM523.9 226.7h1.7v1.7h-1.7zM532.1 240.0h1.7v1.7h-1.7zM545.8 194.6h1.7v1.7h-1.7zM548.1 222.8h1.7v1.7h-1.7zM562.9 209.0h1.7v1.7h-1.7zM523.3 195.5h1.7v1.7h-1.7zM547.8 190.8h1.7v1.7h-1.7zM550.1 232.4h1.7v1.7h-1.7zM522.7 197.5h1.7v1.7h-1.7zM523.6 229.3h1.7v1.7h-1.7zM551.3 205.7h1.7v1.7h-1.7zM515.0 227.3h1.7v1.7h-1.7zM525.4 238.9h1.7v1.7h-1.7zM545.1 203.0h1.7v1.7h-1.7zM506.5 190.9h1.7v1.7h-1.7zM535.2 240.8h1.7v1.7h-1.7zM543.9 223.6h1.7v1.7h-1.7zM543.5 232.0h1.7v1.7h-1.7zM510.1 232.2h1.7v1.7h-1.7zM535.5 240.2h1.7v1.7h-1.7zM542.6 225.1h1.7v1.7h-1.7zM520.8 202.1h1.7v1.7h-1.7zM509.2 218.4h1.7v1.7h-1.7zM589.3 213.2h1.7v1.7h-1.7zM529.0 228.9h1.7v1.7h-1.7zM521.3 226.7h1.7v1.7h-1.7zM540.6 236.2h1.7v1.7h-1.7zM534.2 242.0h1.7v1.7h-1.7zM538.2 238.7h1.7v1.7h-1.7zM528.0 236.6h1.7v1.7h-1.7zM519.3 225.0h1.7v1.7h-1.7zM540.7 223.4h1.7v1.7h-1.7zM529.0 221.1h1.7v1.7h-1.7zM515.4 209.5h1.7v1.7h-1.7zM532.8 241.3h1.7v1.7h-1.7zM539.5 222.8h1.7v1.7h-1.7zM530.9 239.1h1.7v1.7h-1.7zM534.8 241.8h1.7v1.7h-1.7zM543.8 210.4h1.7v1.7h-1.7zM543.1 236.6h1.7v1.7h-1.7zM536.0 240.1h1.7v1.7h-1.7zM519.1 217.3h1.7v1.7h-1.7zM529.7 235.3h1.7v1.7h-1.7zM544.4 236.6h1.7v1.7h-1.7zM522.1 195.7h1.7v1.7h-1.7zM512.6 221.5h1.7v1.7h-1.7zM529.0 226.8h1.7v1.7h-1.7zM541.1 229.9h1.7v1.7h-1.7zM547.7 225.6h1.7v1.7h-1.7zM523.2 229.3h1.7v1.7h-1.7zM532.2 240.5h1.7v1.7h-1.7zM525.8 225.5h1.7v1.7h-1.7zM523.3 217.7h1.7v1.7h-1.7zM560.0 222.1h1.7v1.7h-1.7zM554.3 223.6h1.7v1.7h-1.7zM535.1 241.6h1.7v1.7h-1.7zM550.0 235.4h1.7v1.7h-1.7zM554.9 193.2h1.7v1.7h-1.7zM538.4 240.6h1.7v1.7h-1.7zM526.0 233.7h1.7v1.7h-1.7zM549.2 185.6h1.7v1.7h-1.7zM533.7 240.2h1.7v1.7h-1.7zM520.0 185.7h1.7v1.7h-1.7zM523.5 197.5h1.7v1.7h-1.7zM529.7 233.4h1.7v1.7h-1.7zM554.5 226.1h1.7v1.7h-1.7zM528.8 232.3h1.7v1.7h-1.7zM508.1 217.5h1.7v1.7h-1.7zM550.4 214.9h1.7v1.7h-1.7zM540.7 219.7h1.7v1.7h-1.7zM527.6 232.1h1.7v1.7h-1.7zM530.7 239.5h1.7v1.7h-1.7zM550.3 223.7h1.7v1.7h-1.7zM514.7 206.9h1.7v1.7h-1.7zM519.0 190.5h1.7v1.7h-1.7zM542.6 234.5h1.7v1.7h-1.7zM529.1 237.2h1.7v1.7h-1.7zM538.4 238.5h1.7v1.7h-1.7zM530.2 227.3h1.7v1.7h-1.7zM533.2 240.8h1.7v1.7h-1.7zM569.4 194.3h1.7v1.7h-1.7zM519.7 215.0h1.7v1.7h-1.7zM516.6 208.2h1.7v1.7h-1.7zM528.9 230.3h1.7v1.7h-1.7zM518.9 198.1h1.7v1.7h-1.7zM501.5 201.3h1.7v1.7h-1.7zM528.5 238.5h1.7v1.7h-1.7zM525.7 230.3h1.7v1.7h-1.7zM548.6 218.7h1.7v1.7h-1.7zM545.5 221.1h1.7v1.7h-1.7zM511.1 212.2h1.7v1.7h-1.7zM533.4 241.4h1.7v1.7h-1.7zM535.7 241.6h1.7v1.7h-1.7zM543.6 236.2h1.7v1.7h-1.7zM511.3 188.8h1.7v1.7h-1.7zM530.5 233.7h1.7v1.7h-1.7zM544.3 219.2h1.7v1.7h-1.7zM527.6 222.1h1.7v1.7h-1.7zM536.0 240.5h1.7v1.7h-1.7zM560.3 207.0h1.7v1.7h-1.7zM535.5 241.4h1.7v1.7h-1.7zM514.4 228.4h1.7v1.7h-1.7zM548.7 234.2h1.7v1.7h-1.7zM525.0 238.2h1.7v1.7h-1.7zM558.6 189.4h1.7v1.7h-1.7zM541.5 225.3h1.7v1.7h-1.7zM513.8 222.5h1.7v1.7h-1.7zM544.9 209.0h1.7v1.7h-1.7zM515.9 229.3h1.7v1.7h-1.7zM524.8 222.6h1.7v1.7h-1.7zM522.4 225.1h1.7v1.7h-1.7zM539.8 222.1h1.7v1.7h-1.7zM521.2 218.3h1.7v1.7h-1.7zM521.9 190.1h1.7v1.7h-1.7zM505.9 209.0h1.7v1.7h-1.7zM496.0 217.4h1.7v1.7h-1.7zM551.5 200.1h1.7v1.7h-1.7zM520.8 226.6h1.7v1.7h-1.7zM509.9 207.8h1.7v1.7h-1.7zM550.0 222.4h1.7v1.7h-1.7zM546.4 196.2h1.7v1.7h-1.7zM512.6 199.7h1.7v1.7h-1.7zM510.9 190.3h1.7v1.7h-1.7zM543.1 235.3h1.7v1.7h-1.7zM539.8 232.5h1.7v1.7h-1.7zM523.6 219.9h1.7v1.7h-1.7zM540.2 236.3h1.7v1.7h-1.7zM533.2 241.5h1.7v1.7h-1.7zM518.4 228.9h1.7v1.7h-1.7zM545.0 222.4h1.7v1.7h-1.7zM538.9 237.3h1.7v1.7h-1.7zM540.1 225.5h1.7v1.7h-1.7zM551.7 214.3h1.7v1.7h-1.7zM542.1 225.2h1.7v1.7h-1.7zM544.2 200.7h1.7v1.7h-1.7zM541.1 234.4h1.7v1.7h-1.7zM539.4 237.7h1.7v1.7h-1.7zM551.6 218.6h1.7v1.7h-1.7zM546.1 212.5h1.7v1.7h-1.7zM536.2 236.9h1.7v1.7h-1.7zM526.7 226.8h1.7v1.7h-1.7zM511.1 211.4h1.7v1.7h-1.7zM529.0 226.5h1.7v1.7h-1.7zM526.5 236.7h1.7v1.7h-1.7zM545.4 233.6h1.7v1.7h-1.7zM537.1 239.5h1.7v1.7h-1.7zM535.1 241.7h1.7v1.7h-1.7zM529.0 223.5h1.7v1.7h-1.7zM545.1 200.7h1.7v1.7h-1.7zM521.4 225.6h1.7v1.7h-1.7zM531.4 241.1h1.7v1.7h-1.7zM522.4 199.2h1.7v1.7h-1.7zM535.7 240.2h1.7v1.7h-1.7zM519.9 191.9h1.7v1.7h-1.7zM547.9 224.4h1.7v1.7h-1.7zM525.0 213.8h1.7v1.7h-1.7zM547.3 206.1h1.7v1.7h-1.7zM540.1 229.8h1.7v1.7h-1.7zM521.8 203.0h1.7v1.7h-1.7zM551.2 229.5h1.7v1.7h-1.7zM546.7 235.6h1.7v1.7h-1.7zM537.1 240.2h1.7v1.7h-1.7zM547.6 228.8h1.7v1.7h-1.7zM538.5 240.5h1.7v1.7h-1.7zM535.1 242.0h1.7v1.7h-1.7zM557.9 220.8h1.7v1.7h-1.7zM537.7 231.7h1.7v1.7h-1.7zM542.6 213.6h1.7v1.7h-1.7zM515.3 232.6h1.7v1.7h-1.7zM518.3 232.4h1.7v1.7h-1.7zM522.7 225.6h1.7v1.7h-1.7zM527.7 232.4h1.7v1.7h-1.7zM527.4 237.9h1.7v1.7h-1.7zM538.7 229.2h1.7v1.7h-1.7zM533.8 240.9h1.7v1.7h-1.7zM502.6 216.4h1.7v1.7h-1.7zM519.9 219.3h1.7v1.7h-1.7zM532.6 240.9h1.7v1.7h-1.7zM532.6 241.4h1.7v1.7h-1.7zM521.5 194.9h1.7v1.7h-1.7zM540.7 239.3h1.7v1.7h-1.7zM521.8 198.4h1.7v1.7h-1.7zM553.6 201.7h1.7v1.7h-1.7zM535.1 241.0h1.7v1.7h-1.7zM519.3 195.7h1.7v1.7h-1.7zM527.8 232.7h1.7v1.7h-1.7zM524.3 200.9h1.7v1.7h-1.7zM561.0 209.2h1.7v1.7h-1.7zM528.2 219.9h1.7v1.7h-1.7zM510.4 189.7h1.7v1.7h-1.7zM525.0 220.6h1.7v1.7h-1.7zM524.4 229.5h1.7v1.7h-1.7zM530.1 238.8h1.7v1.7h-1.7zM537.0 239.1h1.7v1.7h-1.7zM529.4 237.6h1.7v1.7h-1.7zM551.5 222.3h1.7v1.7h-1.7zM544.4 210.3h1.7v1.7h-1.7zM548.7 225.2h1.7v1.7h-1.7zM526.5 235.2h1.7v1.7h-1.7zM546.8 199.2h1.7v1.7h-1.7zM518.2 235.5h1.7v1.7h-1.7zM521.3 193.0h1.7v1.7h-1.7zM559.9 222.7h1.7v1.7h-1.7zM552.7 234.5h1.7v1.7h-1.7zM534.2 242.1h1.7v1.7h-1.7zM534.3 242.0h1.7v1.7h-1.7zM551.7 218.8h1.7v1.7h-1.7zM538.3 240.5h1.7v1.7h-1.7zM538.2 232.5h1.7v1.7h-1.7zM524.4 203.4h1.7v1.7h-1.7zM522.1 231.8h1.7v1.7h-1.7zM529.1 234.1h1.7v1.7h-1.7zM499.6 216.3h1.7v1.7h-1.7zM524.6 213.7h1.7v1.7h-1.7zM524.8 234.1h1.7v1.7h-1.7zM605.7 185.9h1.7v1.7h-1.7zM536.7 240.3h1.7v1.7h-1.7zM546.9 211.2h1.7v1.7h-1.7zM545.7 219.2h1.7v1.7h-1.7zM532.5 240.4h1.7v1.7h-1.7zM537.4 238.4h1.7v1.7h-1.7zM571.5 209.5h1.7v1.7h-1.7zM514.8 219.3h1.7v1.7h-1.7zM529.6 239.9h1.7v1.7h-1.7zM549.6 220.6h1.7v1.7h-1.7zM548.0 224.5h1.7v1.7h-1.7zM510.9 226.9h1.7v1.7h-1.7zM535.4 241.9h1.7v1.7h-1.7zM581.3 209.1h1.7v1.7h-1.7zM530.1 237.1h1.7v1.7h-1.7zM550.4 221.2h1.7v1.7h-1.7zM526.6 220.7h1.7v1.7h-1.7zM527.8 232.6h1.7v1.7h-1.7zM537.1 233.3h1.7v1.7h-1.7zM536.7 235.7h1.7v1.7h-1.7zM542.9 230.0h1.7v1.7h-1.7zM537.1 241.0h1.7v1.7h-1.7zM550.4 232.4h1.7v1.7h-1.7zM526.5 229.1h1.7v1.7h-1.7zM525.4 237.6h1.7v1.7h-1.7zM546.1 223.6h1.7v1.7h-1.7zM551.3 192.0h1.7v1.7h-1.7zM519.4 233.1h1.7v1.7h-1.7zM517.4 203.7h1.7v1.7h-1.7zM536.0 241.3h1.7v1.7h-1.7zM522.1 235.5h1.7v1.7h-1.7zM542.0 231.0h1.7v1.7h-1.7zM546.9 230.4h1.7v1.7h-1.7zM533.5 241.8h1.7v1.7h-1.7zM556.1 195.5h1.7v1.7h-1.7zM539.2 226.9h1.7v1.7h-1.7zM546.7 235.6h1.7v1.7h-1.7zM526.4 224.3h1.7v1.7h-1.7zM506.5 204.2h1.7v1.7h-1.7zM550.9 189.2h1.7v1.7h-1.7zM509.4 208.1h1.7v1.7h-1.7zM521.8 208.2h1.7v1.7h-1.7zM489.3 197.0h1.7v1.7h-1.7zM523.1 236.0h1.7v1.7h-1.7zM536.4 235.7h1.7v1.7h-1.7zM541.0 238.9h1.7v1.7h-1.7zM535.1 241.8h1.7v1.7h-1.7zM526.5 218.4h1.7v1.7h-1.7zM558.8 217.3h1.7v1.7h-1.7zM557.2 191.1h1.7v1.7h-1.7zM544.5 214.3h1.7v1.7h-1.7zM524.6 225.1h1.7v1.7h-1.7zM549.2 221.3h1.7v1.7h-1.7zM529.5 236.3h1.7v1.7h-1.7zM542.5 217.9h1.7v1.7h-1.7zM552.3 209.6h1.7v1.7h-1.7zM569.1 225.1h1.7v1.7h-1.7zM532.6 237.0h1.7v1.7h-1.7zM529.1 229.2h1.7v1.7h-1.7zM505.8 194.7h1.7v1.7h-1.7zM527.3 237.0h1.7v1.7h-1.7zM539.0 236.9h1.7v1.7h-1.7zM521.9 226.7h1.7v1.7h-1.7zM518.2 218.0h1.7v1.7h-1.7zM525.4 238.1h1.7v1.7h-1.7zM539.9 237.5h1.7v1.7h-1.7zM541.9 227.6h1.7v1.7h-1.7zM548.6 219.6h1.7v1.7h-1.7zM549.7 229.9h1.7v1.7h-1.7zM520.6 219.9h1.7v1.7h-1.7zM530.6 238.5h1.7v1.7h-1.7zM529.1 233.4h1.7v1.7h-1.7zM541.5 232.0h1.7v1.7h-1.7zM542.0 211.9h1.7v1.7h-1.7zM550.1 216.1h1.7v1.7h-1.7zM559.7 213.9h1.7v1.7h-1.7zM551.2 223.0h1.7v1.7h-1.7zM515.6 228.9h1.7v1.7h-1.7zM517.5 202.5h1.7v1.7h-1.7zM542.2 220.5h1.7v1.7h-1.7zM515.8 217.7h1.7v1.7h-1.7zM529.1 222.8h1.7v1.7h-1.7zM534.5 242.2h1.7v1.7h-1.7zM529.3 222.6h1.7v1.7h-1.7zM510.7 198.2h1.7v1.7h-1.7zM533.9 241.0h1.7v1.7h-1.7zM518.6 233.9h1.7v1.7h-1.7zM542.1 224.7h1.7v1.7h-1.7zM519.3 231.6h1.7v1.7h-1.7zM537.4 239.5h1.7v1.7h-1.7zM545.1 210.3h1.7v1.7h-1.7zM503.2 209.4h1.7v1.7h-1.7zM543.0 238.9h1.7v1.7h-1.7zM568.0 218.3h1.7v1.7h-1.7zM533.6 241.1h1.7v1.7h-1.7zM572.9 202.8h1.7v1.7h-1.7zM538.3 232.7h1.7v1.7h-1.7zM525.2 211.8h1.7v1.7h-1.7zM544.3 214.9h1.7v1.7h-1.7zM551.6 214.9h1.7v1.7h-1.7zM530.8 239.5h1.7v1.7h-1.7zM515.8 205.1h1.7v1.7h-1.7zM533.6 241.9h1.7v1.7h-1.7zM533.4 241.5h1.7v1.7h-1.7zM535.9 239.1h1.7v1.7h-1.7zM528.1 240.0h1.7v1.7h-1.7zM549.3 197.8h1.7v1.7h-1.7zM546.5 210.2h1.7v1.7h-1.7zM540.3 240.0h1.7v1.7h-1.7zM552.6 227.2h1.7v1.7h-1.7zM546.8 219.5h1.7v1.7h-1.7zM534.1 241.9h1.7v1.7h-1.7zM516.7 203.3h1.7v1.7h-1.7zM549.4 232.0h1.7v1.7h-1.7zM546.7 232.0h1.7v1.7h-1.7zM534.9 242.0h1.7v1.7h-1.7zM546.3 237.4h1.7v1.7h-1.7zM503.7 223.9h1.7v1.7h-1.7zM540.1 233.8h1.7v1.7h-1.7zM546.6 237.4h1.7v1.7h-1.7zM523.2 218.8h1.7v1.7h-1.7zM520.7 217.8h1.7v1.7h-1.7zM549.5 185.7h1.7v1.7h-1.7zM541.2 228.4h1.7v1.7h-1.7zM522.5 210.8h1.7v1.7h-1.7zM553.0 227.9h1.7v1.7h-1.7zM531.0 238.5h1.7v1.7h-1.7zM528.9 239.1h1.7v1.7h-1.7zM544.0 229.1h1.7v1.7h-1.7zM540.1 220.9h1.7v1.7h-1.7zM533.8 241.5h1.7v1.7h-1.7zM494.4 224.6h1.7v1.7h-1.7zM529.7 236.4h1.7v1.7h-1.7zM522.9 211.0h1.7v1.7h-1.7zM537.5 238.7h1.7v1.7h-1.7zM543.8 225.2h1.7v1.7h-1.7zM562.4 219.7h1.7v1.7h-1.7zM550.3 188.1h1.7v1.7h-1.7zM525.8 235.2h1.7v1.7h-1.7zM531.2 234.9h1.7v1.7h-1.7zM526.6 221.4h1.7v1.7h-1.7zM533.3 239.3h1.7v1.7h-1.7zM522.6 213.1h1.7v1.7h-1.7zM545.9 231.7h1.7v1.7h-1.7zM542.9 224.2h1.7v1.7h-1.7zM518.6 218.5h1.7v1.7h-1.7zM561.3 190.8h1.7v1.7h-1.7zM524.2 214.8h1.7v1.7h-1.7zM520.5 235.7h1.7v1.7h-1.7zM539.7 237.0h1.7v1.7h-1.7zM563.6 216.4h1.7v1.7h-1.7zM524.1 237.5h1.7v1.7h-1.7zM521.6 228.1h1.7v1.7h-1.7zM514.1 216.2h1.7v1.7h-1.7zM545.3 236.9h1.7v1.7h-1.7zM532.4 240.9h1.7v1.7h-1.7zM521.2 191.6h1.7v1.7h-1.7zM529.0 231.4h1.7v1.7h-1.7zM532.9 239.9h1.7v1.7h-1.7zM530.6 239.0h1.7v1.7h-1.7zM549.2 229.1h1.7v1.7h-1.7zM526.3 209.3h1.7v1.7h-1.7zM541.7 239.4h1.7v1.7h-1.7zM527.8 227.1h1.7v1.7h-1.7zM543.8 226.0h1.7v1.7h-1.7zM572.9 195.0h1.7v1.7h-1.7zM543.5 237.1h1.7v1.7h-1.7zM542.2 232.7h1.7v1.7h-1.7zM547.6 234.5h1.7v1.7h-1.7zM549.5 203.1h1.7v1.7h-1.7zM549.8 200.7h1.7v1.7h-1.7zM542.4 221.9h1.7v1.7h-1.7zM529.3 237.1h1.7v1.7h-1.7zM571.4 197.2h1.7v1.7h-1.7zM516.2 199.4h1.7v1.7h-1.7zM530.9 230.6h1.7v1.7h-1.7zM540.0 237.4h1.7v1.7h-1.7zM505.5 228.2h1.7v1.7h-1.7zM537.7 235.4h1.7v1.7h-1.7zM555.9 223.5h1.7v1.7h-1.7zM552.9 189.5h1.7v1.7h-1.7zM545.4 221.8h1.7v1.7h-1.7zM554.6 188.1h1.7v1.7h-1.7zM545.4 220.4h1.7v1.7h-1.7zM535.0 241.1h1.7v1.7h-1.7zM536.4 239.5h1.7v1.7h-1.7zM538.4 236.4h1.7v1.7h-1.7zM527.8 226.3h1.7v1.7h-1.7zM543.8 230.2h1.7v1.7h-1.7zM538.0 239.5h1.7v1.7h-1.7zM562.4 186.5h1.7v1.7h-1.7zM522.9 225.0h1.7v1.7h-1.7zM520.1 215.7h1.7v1.7h-1.7zM528.2 234.4h1.7v1.7h-1.7zM534.9 241.1h1.7v1.7h-1.7zM542.6 237.2h1.7v1.7h-1.7zM534.3 242.1h1.7v1.7h-1.7zM524.1 212.4h1.7v1.7h-1.7zM503.3 219.9h1.7v1.7h-1.7zM538.7 228.1h1.7v1.7h-1.7zM516.9 210.0h1.7v1.7h-1.7zM541.6 231.3h1.7v1.7h-1.7zM556.5 205.0h1.7v1.7h-1.7zM516.4 213.4h1.7v1.7h-1.7zM547.1 229.0h1.7v1.7h-1.7zM546.4 205.9h1.7v1.7h-1.7zM539.2 233.6h1.7v1.7h-1.7zM526.7 227.6h1.7v1.7h-1.7zM522.5 205.0h1.7v1.7h-1.7zM549.9 223.5h1.7v1.7h-1.7zM524.4 204.3h1.7v1.7h-1.7zM536.6 235.6h1.7v1.7h-1.7zM522.2 199.3h1.7v1.7h-1.7zM520.2 217.0h1.7v1.7h-1.7zM519.4 202.4h1.7v1.7h-1.7zM557.7 189.6h1.7v1.7h-1.7zM504.1 189.1h1.7v1.7h-1.7zM524.0 214.7h1.7v1.7h-1.7zM532.6 240.8h1.7v1.7h-1.7zM552.2 228.0h1.7v1.7h-1.7zM538.1 239.4h1.7v1.7h-1.7zM539.3 238.4h1.7v1.7h-1.7zM558.2 186.2h1.7v1.7h-1.7zM542.0 218.1h1.7v1.7h-1.7zM528.0 220.1h1.7v1.7h-1.7zM539.3 237.5h1.7v1.7h-1.7zM521.9 198.5h1.7v1.7h-1.7zM532.1 237.9h1.7v1.7h-1.7zM524.4 230.2h1.7v1.7h-1.7zM562.5 210.1h1.7v1.7h-1.7zM543.5 238.0h1.7v1.7h-1.7zM525.8 206.5h1.7v1.7h-1.7zM530.6 238.8h1.7v1.7h-1.7zM535.4 241.8h1.7v1.7h-1.7zM530.7 231.2h1.7v1.7h-1.7zM519.9 191.5h1.7v1.7h-1.7zM545.7 214.1h1.7v1.7h-1.7zM534.7 242.2h1.7v1.7h-1.7zM537.8 239.9h1.7v1.7h-1.7zM522.1 229.2h1.7v1.7h-1.7zM526.3 232.7h1.7v1.7h-1.7zM533.4 239.8h1.7v1.7h-1.7zM541.1 225.1h1.7v1.7h-1.7zM553.1 220.4h1.7v1.7h-1.7zM522.1 233.8h1.7v1.7h-1.7zM540.8 217.4h1.7v1.7h-1.7zM545.9 233.6h1.7v1.7h-1.7zM527.0 237.5h1.7v1.7h-1.7zM541.8 225.3h1.7v1.7h-1.7zM523.7 221.8h1.7v1.7h-1.7zM525.6 222.7h1.7v1.7h-1.7zM520.1 215.2h1.7v1.7h-1.7zM527.2 238.2h1.7v1.7h-1.7zM536.7 241.0h1.7v1.7h-1.7zM548.5 221.2h1.7v1.7h-1.7zM538.3 239.8h1.7v1.7h-1.7zM524.9 222.0h1.7v1.7h-1.7zM543.3 222.2h1.7v1.7h-1.7zM554.8 209.1h1.7v1.7h-1.7zM537.2 239.8h1.7v1.7h-1.7zM503.8 205.6h1.7v1.7h-1.7zM525.1 224.9h1.7v1.7h-1.7zM540.7 218.2h1.7v1.7h-1.7zM519.5 232.1h1.7v1.7h-1.7zM540.1 231.8h1.7v1.7h-1.7zM566.1 199.2h1.7v1.7h-1.7zM548.4 232.4h1.7v1.7h-1.7zM544.8 224.5h1.7v1.7h-1.7zM550.3 197.5h1.7v1.7h-1.7zM536.0 241.0h1.7v1.7h-1.7zM513.1 212.1h1.7v1.7h-1.7zM530.5 235.8h1.7v1.7h-1.7zM539.8 227.7h1.7v1.7h-1.7zM523.9 233.9h1.7v1.7h-1.7zM543.5 212.3h1.7v1.7h-1.7zM526.5 224.0h1.7v1.7h-1.7zM542.0 235.5h1.7v1.7h-1.7zM516.4 218.2h1.7v1.7h-1.7zM522.4 205.2h1.7v1.7h-1.7zM523.2 195.9h1.7v1.7h-1.7zM538.4 232.8h1.7v1.7h-1.7zM517.7 204.2h1.7v1.7h-1.7zM530.2 233.3h1.7v1.7h-1.7zM543.1 229.8h1.7v1.7h-1.7zM529.1 221.4h1.7v1.7h-1.7zM516.4 211.4h1.7v1.7h-1.7zM544.4 224.9h1.7v1.7h-1.7zM558.1 191.0h1.7v1.7h-1.7zM552.3 206.2h1.7v1.7h-1.7zM532.1 237.0h1.7v1.7h-1.7zM541.3 228.8h1.7v1.7h-1.7zM504.1 207.3h1.7v1.7h-1.7zM550.3 224.5h1.7v1.7h-1.7zM543.7 214.3h1.7v1.7h-1.7zM555.9 187.0h1.7v1.7h-1.7zM517.5 220.1h1.7v1.7h-1.7zM550.6 203.8h1.7v1.7h-1.7zM555.8 218.7h1.7v1.7h-1.7zM557.9 219.0h1.7v1.7h-1.7zM510.5 224.9h1.7v1.7h-1.7zM555.0 211.6h1.7v1.7h-1.7zM520.9 236.8h1.7v1.7h-1.7zM552.8 220.8h1.7v1.7h-1.7zM521.3 189.0h1.7v1.7h-1.7zM527.9 237.7h1.7v1.7h-1.7zM540.1 231.6h1.7v1.7h-1.7zM546.4 230.9h1.7v1.7h-1.7zM528.3 222.3h1.7v1.7h-1.7zM536.7 239.0h1.7v1.7h-1.7zM534.5 242.2h1.7v1.7h-1.7zM514.1 187.9h1.7v1.7h-1.7zM522.1 214.3h1.7v1.7h-1.7zM556.4 199.2h1.7v1.7h-1.7zM525.5 219.7h1.7v1.7h-1.7zM527.3 235.5h1.7v1.7h-1.7zM520.0 214.6h1.7v1.7h-1.7zM535.3 241.3h1.7v1.7h-1.7zM543.8 218.3h1.7v1.7h-1.7zM542.4 236.1h1.7v1.7h-1.7zM537.3 234.5h1.7v1.7h-1.7zM536.5 241.1h1.7v1.7h-1.7zM511.3 229.0h1.7v1.7h-1.7zM519.2 212.2h1.7v1.7h-1.7zM531.1 232.1h1.7v1.7h-1.7zM541.0 236.1h1.7v1.7h-1.7zM530.4 240.6h1.7v1.7h-1.7zM529.6 240.0h1.7v1.7h-1.7zM527.6 236.7h1.7v1.7h-1.7zM545.8 233.1h1.7v1.7h-1.7zM518.6 215.5h1.7v1.7h-1.7zM519.0 209.7h1.7v1.7h-1.7zM539.6 225.0h1.7v1.7h-1.7zM568.3 201.9h1.7v1.7h-1.7zM526.3 233.1h1.7v1.7h-1.7zM520.8 214.7h1.7v1.7h-1.7zM518.0 204.0h1.7v1.7h-1.7zM525.9 214.7h1.7v1.7h-1.7zM540.6 235.5h1.7v1.7h-1.7zM530.0 227.3h1.7v1.7h-1.7zM537.1 237.7h1.7v1.7h-1.7zM539.9 228.7h1.7v1.7h-1.7zM551.7 215.6h1.7v1.7h-1.7zM547.2 198.6h1.7v1.7h-1.7zM540.1 228.5h1.7v1.7h-1.7zM549.2 204.3h1.7v1.7h-1.7zM533.7 241.7h1.7v1.7h-1.7zM550.6 198.6h1.7v1.7h-1.7zM512.2 202.0h1.7v1.7h-1.7zM529.5 234.4h1.7v1.7h-1.7zM550.5 233.7h1.7v1.7h-1.7zM542.6 234.6h1.7v1.7h-1.7zM540.9 231.8h1.7v1.7h-1.7zM556.6 225.7h1.7v1.7h-1.7zM542.5 217.3h1.7v1.7h-1.7zM537.6 233.8h1.7v1.7h-1.7zM532.1 240.4h1.7v1.7h-1.7zM522.6 226.6h1.7v1.7h-1.7zM544.5 231.3h1.7v1.7h-1.7zM510.4 229.2h1.7v1.7h-1.7zM545.5 215.1h1.7v1.7h-1.7zM516.5 231.8h1.7v1.7h-1.7zM536.1 239.6h1.7v1.7h-1.7zM541.0 236.4h1.7v1.7h-1.7zM520.1 235.4h1.7v1.7h-1.7zM546.8 192.7h1.7v1.7h-1.7zM546.1 233.6h1.7v1.7h-1.7zM511.4 213.0h1.7v1.7h-1.7zM542.7 230.2h1.7v1.7h-1.7zM517.2 225.7h1.7v1.7h-1.7zM525.5 233.4h1.7v1.7h-1.7zM517.7 198.9h1.7v1.7h-1.7zM525.1 223.8h1.7v1.7h-1.7zM543.4 235.6h1.7v1.7h-1.7zM507.6 189.8h1.7v1.7h-1.7zM525.2 237.6h1.7v1.7h-1.7zM546.3 228.8h1.7v1.7h-1.7zM535.4 240.3h1.7v1.7h-1.7zM538.6 234.0h1.7v1.7h-1.7zM553.9 197.5h1.7v1.7h-1.7zM546.8 203.7h1.7v1.7h-1.7zM534.2 242.1h1.7v1.7h-1.7zM552.9 189.0h1.7v1.7h-1.7zM539.7 221.4h1.7v1.7h-1.7zM546.1 226.6h1.7v1.7h-1.7zM549.3 213.7h1.7v1.7h-1.7zM525.2 233.4h1.7v1.7h-1.7zM495.3 186.3h1.7v1.7h-1.7zM523.7 207.3h1.7v1.7h-1.7zM532.2 239.9h1.7v1.7h-1.7zM548.5 195.5h1.7v1.7h-1.7zM559.3 229.8h1.7v1.7h-1.7zM534.4 242.2h1.7v1.7h-1.7zM532.5 239.8h1.7v1.7h-1.7zM542.8 233.4h1.7v1.7h-1.7zM536.2 237.6h1.7v1.7h-1.7zM535.6 239.4h1.7v1.7h-1.7zM546.0 235.8h1.7v1.7h-1.7zM545.7 206.3h1.7v1.7h-1.7zM552.6 223.5h1.7v1.7h-1.7zM525.7 231.4h1.7v1.7h-1.7zM529.1 229.3h1.7v1.7h-1.7zM511.8 219.3h1.7v1.7h-1.7zM540.8 238.1h1.7v1.7h-1.7zM546.3 232.8h1.7v1.7h-1.7zM542.5 216.9h1.7v1.7h-1.7zM522.2 218.9h1.7v1.7h-1.7zM516.5 221.8h1.7v1.7h-1.7zM533.9 242.0h1.7v1.7h-1.7zM541.5 231.1h1.7v1.7h-1.7zM528.8 232.2h1.7v1.7h-1.7zM556.7 201.5h1.7v1.7h-1.7zM534.1 241.6h1.7v1.7h-1.7zM552.6 185.7h1.7v1.7h-1.7zM514.2 224.7h1.7v1.7h-1.7zM540.3 238.6h1.7v1.7h-1.7zM544.6 238.0h1.7v1.7h-1.7zM532.5 238.2h1.7v1.7h-1.7zM518.6 191.8h1.7v1.7h-1.7zM552.3 207.1h1.7v1.7h-1.7zM531.3 238.5h1.7v1.7h-1.7zM531.4 239.9h1.7v1.7h-1.7zM521.3 198.2h1.7v1.7h-1.7zM510.4 204.7h1.7v1.7h-1.7zM510.0 196.0h1.7v1.7h-1.7zM557.1 186.5h1.7v1.7h-1.7zM531.4 232.8h1.7v1.7h-1.7zM543.1 229.4h1.7v1.7h-1.7zM538.2 238.9h1.7v1.7h-1.7zM539.1 236.1h1.7v1.7h-1.7zM527.2 227.3h1.7v1.7h-1.7zM544.8 214.1h1.7v1.7h-1.7zM524.6 221.6h1.7v1.7h-1.7zM536.9 239.6h1.7v1.7h-1.7zM537.4 233.1h1.7v1.7h-1.7zM500.4 226.4h1.7v1.7h-1.7zM554.7 187.0h1.7v1.7h-1.7zM540.0 238.6h1.7v1.7h-1.7zM522.8 207.3h1.7v1.7h-1.7zM531.2 233.7h1.7v1.7h-1.7zM535.1 241.7h1.7v1.7h-1.7zM538.8 239.9h1.7v1.7h-1.7zM515.2 232.3h1.7v1.7h-1.7zM531.1 233.4h1.7v1.7h-1.7zM523.4 225.2h1.7v1.7h-1.7zM551.0 226.9h1.7v1.7h-1.7zM530.1 231.6h1.7v1.7h-1.7zM514.2 222.3h1.7v1.7h-1.7zM558.8 232.4h1.7v1.7h-1.7zM517.7 220.1h1.7v1.7h-1.7zM527.1 228.5h1.7v1.7h-1.7zM544.3 215.0h1.7v1.7h-1.7zM540.5 237.5h1.7v1.7h-1.7zM541.2 236.6h1.7v1.7h-1.7zM548.0 185.2h1.7v1.7h-1.7zM509.3 226.6h1.7v1.7h-1.7zM526.8 220.2h1.7v1.7h-1.7zM521.9 228.8h1.7v1.7h-1.7zM537.1 240.1h1.7v1.7h-1.7zM519.0 233.5h1.7v1.7h-1.7zM529.2 235.6h1.7v1.7h-1.7zM527.8 232.9h1.7v1.7h-1.7zM532.8 241.2h1.7v1.7h-1.7zM528.7 238.8h1.7v1.7h-1.7zM559.2 217.8h1.7v1.7h-1.7zM545.3 235.1h1.7v1.7h-1.7zM564.3 228.1h1.7v1.7h-1.7zM529.1 236.5h1.7v1.7h-1.7zM528.7 219.8h1.7v1.7h-1.7zM521.5 211.5h1.7v1.7h-1.7zM535.9 240.9h1.7v1.7h-1.7zM544.5 226.2h1.7v1.7h-1.7zM537.4 240.0h1.7v1.7h-1.7zM539.1 228.7h1.7v1.7h-1.7zM529.2 238.5h1.7v1.7h-1.7zM530.1 237.2h1.7v1.7h-1.7zM535.8 239.5h1.7v1.7h-1.7zM498.7 224.3h1.7v1.7h-1.7zM533.1 241.3h1.7v1.7h-1.7zM550.2 227.0h1.7v1.7h-1.7zM549.2 231.1h1.7v1.7h-1.7zM508.9 211.1h1.7v1.7h-1.7zM555.4 218.4h1.7v1.7h-1.7zM517.6 185.6h1.7v1.7h-1.7zM519.7 226.1h1.7v1.7h-1.7zM539.8 238.9h1.7v1.7h-1.7zM543.7 234.6h1.7v1.7h-1.7zM552.0 232.1h1.7v1.7h-1.7zM527.5 233.5h1.7v1.7h-1.7zM520.1 221.5h1.7v1.7h-1.7zM533.8 240.6h1.7v1.7h-1.7zM526.3 208.4h1.7v1.7h-1.7zM556.5 211.2h1.7v1.7h-1.7zM522.3 216.8h1.7v1.7h-1.7zM538.2 229.7h1.7v1.7h-1.7zM527.7 237.0h1.7v1.7h-1.7zM536.2 240.3h1.7v1.7h-1.7zM532.0 238.5h1.7v1.7h-1.7zM575.8 203.6h1.7v1.7h-1.7zM521.4 228.3h1.7v1.7h-1.7zM542.5 213.8h1.7v1.7h-1.7zM524.8 222.3h1.7v1.7h-1.7zM559.0 190.6h1.7v1.7h-1.7zM558.4 195.5h1.7v1.7h-1.7zM534.4 242.2h1.7v1.7h-1.7zM527.7 235.8h1.7v1.7h-1.7zM529.2 231.7h1.7v1.7h-1.7zM539.7 236.6h1.7v1.7h-1.7zM541.5 230.8h1.7v1.7h-1.7zM548.7 187.6h1.7v1.7h-1.7zM497.7 192.3h1.7v1.7h-1.7zM520.5 207.1h1.7v1.7h-1.7zM562.1 229.1h1.7v1.7h-1.7zM550.9 222.4h1.7v1.7h-1.7zM538.2 233.3h1.7v1.7h-1.7zM548.8 186.0h1.7v1.7h-1.7zM538.4 238.5h1.7v1.7h-1.7zM528.9 231.5h1.7v1.7h-1.7zM539.3 237.8h1.7v1.7h-1.7zM523.2 227.5h1.7v1.7h-1.7zM534.2 242.0h1.7v1.7h-1.7zM528.5 238.5h1.7v1.7h-1.7zM536.5 240.4h1.7v1.7h-1.7zM535.8 241.6h1.7v1.7h-1.7zM518.1 232.2h1.7v1.7h-1.7zM520.9 199.0h1.7v1.7h-1.7zM539.7 228.7h1.7v1.7h-1.7zM548.9 230.4h1.7v1.7h-1.7zM575.6 218.0h1.7v1.7h-1.7zM551.3 230.5h1.7v1.7h-1.7zM540.0 227.6h1.7v1.7h-1.7zM522.3 236.1h1.7v1.7h-1.7zM533.0 241.7h1.7v1.7h-1.7zM543.8 229.2h1.7v1.7h-1.7zM544.0 218.8h1.7v1.7h-1.7zM518.8 215.4h1.7v1.7h-1.7zM501.4 210.2h1.7v1.7h-1.7zM519.2 228.8h1.7v1.7h-1.7zM527.1 224.1h1.7v1.7h-1.7zM530.6 240.2h1.7v1.7h-1.7zM555.0 217.0h1.7v1.7h-1.7zM518.7 222.3h1.7v1.7h-1.7zM550.6 227.7h1.7v1.7h-1.7zM526.3 212.4h1.7v1.7h-1.7zM525.7 217.3h1.7v1.7h-1.7zM567.8 194.1h1.7v1.7h-1.7zM525.8 235.9h1.7v1.7h-1.7zM582.2 195.7h1.7v1.7h-1.7zM523.8 225.9h1.7v1.7h-1.7zM535.6 241.2h1.7v1.7h-1.7zM535.6 241.2h1.7v1.7h-1.7zM547.8 205.6h1.7v1.7h-1.7zM527.6 236.1h1.7v1.7h-1.7zM556.5 227.4h1.7v1.7h-1.7zM526.6 239.0h1.7v1.7h-1.7zM540.3 236.5h1.7v1.7h-1.7zM532.2 238.2h1.7v1.7h-1.7zM552.1 189.3h1.7v1.7h-1.7zM548.5 230.0h1.7v1.7h-1.7zM520.7 212.7h1.7v1.7h-1.7zM536.8 235.3h1.7v1.7h-1.7zM518.3 233.7h1.7v1.7h-1.7zM539.0 236.7h1.7v1.7h-1.7zM534.6 241.9h1.7v1.7h-1.7zM537.2 240.1h1.7v1.7h-1.7zM552.6 228.1h1.7v1.7h-1.7zM539.3 239.4h1.7v1.7h-1.7zM508.9 230.5h1.7v1.7h-1.7zM557.9 231.5h1.7v1.7h-1.7zM525.0 205.0h1.7v1.7h-1.7zM508.7 189.8h1.7v1.7h-1.7zM523.9 231.2h1.7v1.7h-1.7zM530.4 236.8h1.7v1.7h-1.7zM542.1 237.9h1.7v1.7h-1.7zM532.7 241.5h1.7v1.7h-1.7zM537.7 239.7h1.7v1.7h-1.7zM543.6 227.2h1.7v1.7h-1.7zM520.1 209.9h1.7v1.7h-1.7zM529.6 228.6h1.7v1.7h-1.7zM507.2 194.1h1.7v1.7h-1.7zM521.9 191.0h1.7v1.7h-1.7zM529.0 239.9h1.7v1.7h-1.7zM518.1 200.4h1.7v1.7h-1.7zM518.5 227.2h1.7v1.7h-1.7zM515.3 223.4h1.7v1.7h-1.7zM521.9 230.2h1.7v1.7h-1.7zM542.4 238.7h1.7v1.7h-1.7zM550.4 212.7h1.7v1.7h-1.7zM550.8 232.3h1.7v1.7h-1.7zM530.6 234.8h1.7v1.7h-1.7zM533.0 241.7h1.7v1.7h-1.7zM547.4 236.6h1.7v1.7h-1.7zM528.2 222.4h1.7v1.7h-1.7zM523.1 228.8h1.7v1.7h-1.7zM531.6 236.8h1.7v1.7h-1.7zM521.1 226.8h1.7v1.7h-1.7zM521.8 236.1h1.7v1.7h-1.7zM529.8 231.9h1.7v1.7h-1.7zM519.0 204.9h1.7v1.7h-1.7zM542.2 229.1h1.7v1.7h-1.7zM532.0 239.2h1.7v1.7h-1.7zM530.6 240.1h1.7v1.7h-1.7zM539.7 231.9h1.7v1.7h-1.7zM546.6 194.0h1.7v1.7h-1.7zM533.0 239.9h1.7v1.7h-1.7zM535.0 241.7h1.7v1.7h-1.7zM535.8 240.9h1.7v1.7h-1.7zM536.0 240.1h1.7v1.7h-1.7zM544.1 236.2h1.7v1.7h-1.7zM517.1 211.3h1.7v1.7h-1.7zM530.6 240.8h1.7v1.7h-1.7zM554.0 226.5h1.7v1.7h-1.7zM536.3 239.2h1.7v1.7h-1.7zM508.2 186.2h1.7v1.7h-1.7zM543.3 206.6h1.7v1.7h-1.7zM560.2 229.4h1.7v1.7h-1.7zM520.9 228.0h1.7v1.7h-1.7zM507.1 192.0h1.7v1.7h-1.7zM550.7 202.3h1.7v1.7h-1.7zM499.2 226.5h1.7v1.7h-1.7zM536.9 237.0h1.7v1.7h-1.7zM540.3 234.0h1.7v1.7h-1.7zM556.5 196.3h1.7v1.7h-1.7zM511.1 195.2h1.7v1.7h-1.7zM538.9 239.0h1.7v1.7h-1.7zM514.8 224.7h1.7v1.7h-1.7zM526.9 223.3h1.7v1.7h-1.7zM525.1 230.1h1.7v1.7h-1.7zM518.8 208.0h1.7v1.7h-1.7zM530.5 231.5h1.7v1.7h-1.7zM508.0 215.3h1.7v1.7h-1.7zM547.5 234.1h1.7v1.7h-1.7zM525.6 231.9h1.7v1.7h-1.7zM522.4 236.0h1.7v1.7h-1.7zM501.2 222.4h1.7v1.7h-1.7zM545.5 197.9h1.7v1.7h-1.7zM463.1 189.0h1.7v1.7h-1.7zM527.5 239.7h1.7v1.7h-1.7zM559.7 196.7h1.7v1.7h-1.7zM516.4 214.9h1.7v1.7h-1.7zM536.4 238.2h1.7v1.7h-1.7zM533.8 241.9h1.7v1.7h-1.7zM537.9 240.6h1.7v1.7h-1.7zM521.5 223.7h1.7v1.7h-1.7zM556.1 209.3h1.7v1.7h-1.7zM529.0 237.1h1.7v1.7h-1.7zM534.9 242.1h1.7v1.7h-1.7zM525.7 206.9h1.7v1.7h-1.7zM527.2 239.6h1.7v1.7h-1.7zM545.4 234.7h1.7v1.7h-1.7zM548.2 186.0h1.7v1.7h-1.7zM545.8 220.9h1.7v1.7h-1.7zM538.4 229.3h1.7v1.7h-1.7zM538.3 236.3h1.7v1.7h-1.7zM561.0 229.5h1.7v1.7h-1.7zM537.1 239.7h1.7v1.7h-1.7zM556.2 213.6h1.7v1.7h-1.7zM519.8 217.9h1.7v1.7h-1.7zM537.6 235.2h1.7v1.7h-1.7zM543.9 205.0h1.7v1.7h-1.7zM523.5 234.1h1.7v1.7h-1.7zM537.3 235.1h1.7v1.7h-1.7zM523.0 229.9h1.7v1.7h-1.7zM562.7 208.1h1.7v1.7h-1.7zM526.0 234.7h1.7v1.7h-1.7zM535.4 241.6h1.7v1.7h-1.7zM522.4 235.5h1.7v1.7h-1.7zM540.7 236.5h1.7v1.7h-1.7zM556.7 196.9h1.7v1.7h-1.7zM538.9 239.4h1.7v1.7h-1.7zM535.5 241.6h1.7v1.7h-1.7zM541.7 226.5h1.7v1.7h-1.7zM546.0 209.1h1.7v1.7h-1.7zM537.4 237.1h1.7v1.7h-1.7zM543.4 221.1h1.7v1.7h-1.7zM541.0 221.6h1.7v1.7h-1.7zM528.8 236.0h1.7v1.7h-1.7zM541.6 236.1h1.7v1.7h-1.7zM544.0 238.7h1.7v1.7h-1.7zM524.7 217.2h1.7v1.7h-1.7zM549.6 217.9h1.7v1.7h-1.7zM545.2 236.5h1.7v1.7h-1.7zM536.6 241.1h1.7v1.7h-1.7zM524.1 232.4h1.7v1.7h-1.7zM532.7 240.5h1.7v1.7h-1.7zM531.2 230.5h1.7v1.7h-1.7zM540.9 238.1h1.7v1.7h-1.7zM523.4 226.5h1.7v1.7h-1.7zM543.4 205.2h1.7v1.7h-1.7zM541.9 237.2h1.7v1.7h-1.7zM543.0 235.1h1.7v1.7h-1.7zM524.0 230.6h1.7v1.7h-1.7zM530.7 239.6h1.7v1.7h-1.7zM544.5 225.8h1.7v1.7h-1.7zM533.9 241.7h1.7v1.7h-1.7zM551.9 226.8h1.7v1.7h-1.7zM546.2 204.0h1.7v1.7h-1.7zM530.4 239.7h1.7v1.7h-1.7zM526.3 232.6h1.7v1.7h-1.7zM538.2 240.1h1.7v1.7h-1.7zM568.6 188.0h1.7v1.7h-1.7zM533.5 240.5h1.7v1.7h-1.7zM543.8 210.9h1.7v1.7h-1.7zM543.9 230.2h1.7v1.7h-1.7zM538.3 238.7h1.7v1.7h-1.7zM538.7 239.1h1.7v1.7h-1.7zM534.7 241.8h1.7v1.7h-1.7zM533.5 240.1h1.7v1.7h-1.7zM557.3 224.9h1.7v1.7h-1.7zM539.8 232.8h1.7v1.7h-1.7zM526.3 213.2h1.7v1.7h-1.7zM564.0 207.3h1.7v1.7h-1.7zM549.9 235.8h1.7v1.7h-1.7zM531.9 240.4h1.7v1.7h-1.7zM533.0 241.1h1.7v1.7h-1.7zM529.5 229.2h1.7v1.7h-1.7zM547.6 186.8h1.7v1.7h-1.7zM538.0 233.1h1.7v1.7h-1.7zM531.2 241.0h1.7v1.7h-1.7zM518.2 210.4h1.7v1.7h-1.7zM558.4 231.2h1.7v1.7h-1.7zM537.9 231.0h1.7v1.7h-1.7zM566.2 228.5h1.7v1.7h-1.7zM545.2 223.2h1.7v1.7h-1.7zM546.2 235.7h1.7v1.7h-1.7zM532.3 241.4h1.7v1.7h-1.7zM542.8 239.0h1.7v1.7h-1.7zM551.3 200.1h1.7v1.7h-1.7zM529.2 222.1h1.7v1.7h-1.7zM527.4 234.8h1.7v1.7h-1.7zM518.1 221.2h1.7v1.7h-1.7zM537.7 241.0h1.7v1.7h-1.7zM539.4 237.2h1.7v1.7h-1.7zM538.6 234.6h1.7v1.7h-1.7zM518.0 218.8h1.7v1.7h-1.7zM547.3 218.3h1.7v1.7h-1.7zM544.7 232.4h1.7v1.7h-1.7zM533.9 241.8h1.7v1.7h-1.7zM541.6 221.0h1.7v1.7h-1.7zM538.8 239.0h1.7v1.7h-1.7zM542.3 234.5h1.7v1.7h-1.7zM532.0 237.8h1.7v1.7h-1.7zM542.0 236.1h1.7v1.7h-1.7zM529.4 235.5h1.7v1.7h-1.7zM499.7 209.1h1.7v1.7h-1.7zM520.6 236.9h1.7v1.7h-1.7zM512.5 216.8h1.7v1.7h-1.7zM524.7 226.5h1.7v1.7h-1.7zM558.7 205.6h1.7v1.7h-1.7zM538.9 232.7h1.7v1.7h-1.7zM534.2 241.5h1.7v1.7h-1.7zM529.7 227.2h1.7v1.7h-1.7zM543.0 234.4h1.7v1.7h-1.7zM496.9 214.8h1.7v1.7h-1.7zM540.3 235.5h1.7v1.7h-1.7zM530.4 239.6h1.7v1.7h-1.7zM541.5 234.0h1.7v1.7h-1.7zM525.4 233.6h1.7v1.7h-1.7zM545.0 231.2h1.7v1.7h-1.7zM518.7 231.2h1.7v1.7h-1.7zM513.9 223.8h1.7v1.7h-1.7zM517.4 190.6h1.7v1.7h-1.7zM533.9 241.6h1.7v1.7h-1.7zM529.2 238.7h1.7v1.7h-1.7zM536.0 238.4h1.7v1.7h-1.7zM532.2 241.4h1.7v1.7h-1.7zM543.0 215.2h1.7v1.7h-1.7zM522.1 232.8h1.7v1.7h-1.7zM540.6 232.0h1.7v1.7h-1.7zM538.2 238.4h1.7v1.7h-1.7zM541.1 238.3h1.7v1.7h-1.7zM551.8 217.8h1.7v1.7h-1.7zM539.2 227.1h1.7v1.7h-1.7zM536.4 241.5h1.7v1.7h-1.7zM534.5 242.1h1.7v1.7h-1.7zM547.9 227.2h1.7v1.7h-1.7zM539.7 226.3h1.7v1.7h-1.7zM543.3 226.8h1.7v1.7h-1.7zM568.4 192.9h1.7v1.7h-1.7zM551.6 192.8h1.7v1.7h-1.7zM547.4 207.4h1.7v1.7h-1.7zM532.4 239.9h1.7v1.7h-1.7zM531.1 232.0h1.7v1.7h-1.7zM526.2 232.6h1.7v1.7h-1.7zM551.1 227.3h1.7v1.7h-1.7zM535.3 241.7h1.7v1.7h-1.7zM509.5 212.1h1.7v1.7h-1.7zM525.4 229.5h1.7v1.7h-1.7zM547.7 219.0h1.7v1.7h-1.7zM527.4 231.5h1.7v1.7h-1.7zM560.1 223.5h1.7v1.7h-1.7zM546.5 219.3h1.7v1.7h-1.7zM538.4 240.3h1.7v1.7h-1.7zM526.0 227.3h1.7v1.7h-1.7zM517.8 200.5h1.7v1.7h-1.7zM521.4 191.4h1.7v1.7h-1.7zM478.6 210.7h1.7v1.7h-1.7zM533.3 239.9h1.7v1.7h-1.7zM530.7 236.2h1.7v1.7h-1.7zM538.3 229.8h1.7v1.7h-1.7zM521.0 196.7h1.7v1.7h-1.7zM535.9 241.5h1.7v1.7h-1.7zM529.0 229.1h1.7v1.7h-1.7zM553.2 187.6h1.7v1.7h-1.7zM533.1 238.0h1.7v1.7h-1.7zM524.1 229.3h1.7v1.7h-1.7zM563.4 193.6h1.7v1.7h-1.7zM503.2 197.1h1.7v1.7h-1.7zM538.7 230.2h1.7v1.7h-1.7zM547.9 199.6h1.7v1.7h-1.7zM520.1 221.2h1.7v1.7h-1.7zM526.7 213.7h1.7v1.7h-1.7zM558.9 215.2h1.7v1.7h-1.7zM538.1 233.3h1.7v1.7h-1.7zM546.1 228.6h1.7v1.7h-1.7zM553.0 220.5h1.7v1.7h-1.7zM543.1 223.5h1.7v1.7h-1.7zM529.5 240.4h1.7v1.7h-1.7zM527.4 216.7h1.7v1.7h-1.7zM549.0 203.6h1.7v1.7h-1.7zM519.6 202.7h1.7v1.7h-1.7zM605.8 192.8h1.7v1.7h-1.7zM504.6 193.6h1.7v1.7h-1.7zM551.9 208.0h1.7v1.7h-1.7zM524.9 234.2h1.7v1.7h-1.7zM532.5 237.3h1.7v1.7h-1.7zM523.0 210.0h1.7v1.7h-1.7zM522.6 230.9h1.7v1.7h-1.7zM537.1 234.2h1.7v1.7h-1.7zM536.7 241.0h1.7v1.7h-1.7zM555.4 212.7h1.7v1.7h-1.7zM526.0 231.7h1.7v1.7h-1.7zM537.7 240.1h1.7v1.7h-1.7zM519.1 199.7h1.7v1.7h-1.7zM578.3 198.8h1.7v1.7h-1.7zM525.0 220.9h1.7v1.7h-1.7zM535.0 240.4h1.7v1.7h-1.7zM547.8 230.9h1.7v1.7h-1.7zM542.0 228.1h1.7v1.7h-1.7zM527.3 236.8h1.7v1.7h-1.7zM487.9 201.9h1.7v1.7h-1.7zM536.3 240.7h1.7v1.7h-1.7zM526.3 228.7h1.7v1.7h-1.7zM538.8 234.9h1.7v1.7h-1.7zM538.1 238.4h1.7v1.7h-1.7zM549.8 190.5h1.7v1.7h-1.7zM543.2 217.5h1.7v1.7h-1.7zM555.0 228.8h1.7v1.7h-1.7zM550.3 223.4h1.7v1.7h-1.7zM531.4 237.4h1.7v1.7h-1.7zM515.5 219.1h1.7v1.7h-1.7zM557.1 220.9h1.7v1.7h-1.7zM522.1 226.9h1.7v1.7h-1.7zM525.2 224.9h1.7v1.7h-1.7zM535.9 241.0h1.7v1.7h-1.7zM537.9 239.2h1.7v1.7h-1.7zM523.6 220.9h1.7v1.7h-1.7zM534.0 242.1h1.7v1.7h-1.7zM538.3 227.9h1.7v1.7h-1.7zM564.0 186.1h1.7v1.7h-1.7zM514.0 229.0h1.7v1.7h-1.7zM521.8 207.9h1.7v1.7h-1.7zM522.2 217.8h1.7v1.7h-1.7zM522.2 203.1h1.7v1.7h-1.7zM520.7 186.0h1.7v1.7h-1.7zM533.7 241.9h1.7v1.7h-1.7zM527.1 223.7h1.7v1.7h-1.7zM527.8 217.3h1.7v1.7h-1.7zM539.8 223.3h1.7v1.7h-1.7zM532.0 238.8h1.7v1.7h-1.7zM548.0 236.5h1.7v1.7h-1.7zM541.8 224.6h1.7v1.7h-1.7zM513.3 229.6h1.7v1.7h-1.7zM528.5 237.8h1.7v1.7h-1.7zM529.3 231.3h1.7v1.7h-1.7zM543.5 228.1h1.7v1.7h-1.7zM531.2 230.8h1.7v1.7h-1.7zM466.8 206.7h1.7v1.7h-1.7zM516.1 228.2h1.7v1.7h-1.7zM497.8 201.8h1.7v1.7h-1.7zM509.2 230.7h1.7v1.7h-1.7zM517.3 221.1h1.7v1.7h-1.7zM532.7 239.4h1.7v1.7h-1.7zM531.3 232.7h1.7v1.7h-1.7zM536.3 240.8h1.7v1.7h-1.7zM529.6 225.9h1.7v1.7h-1.7zM512.6 197.1h1.7v1.7h-1.7zM525.3 230.4h1.7v1.7h-1.7zM550.5 225.3h1.7v1.7h-1.7zM501.5 228.4h1.7v1.7h-1.7zM504.7 202.1h1.7v1.7h-1.7zM524.4 209.9h1.7v1.7h-1.7zM543.1 234.0h1.7v1.7h-1.7zM514.5 206.5h1.7v1.7h-1.7zM507.6 212.0h1.7v1.7h-1.7zM530.5 231.8h1.7v1.7h-1.7zM559.7 231.5h1.7v1.7h-1.7zM541.8 218.7h1.7v1.7h-1.7zM548.1 227.7h1.7v1.7h-1.7zM540.2 231.7h1.7v1.7h-1.7zM558.6 215.7h1.7v1.7h-1.7zM525.1 214.0h1.7v1.7h-1.7zM530.6 238.9h1.7v1.7h-1.7zM584.9 197.4h1.7v1.7h-1.7zM553.5 186.3h1.7v1.7h-1.7zM546.6 227.3h1.7v1.7h-1.7zM545.4 235.3h1.7v1.7h-1.7zM527.7 220.4h1.7v1.7h-1.7zM513.7 193.9h1.7v1.7h-1.7zM524.3 234.5h1.7v1.7h-1.7zM530.2 232.3h1.7v1.7h-1.7zM525.1 236.6h1.7v1.7h-1.7zM530.2 238.2h1.7v1.7h-1.7zM544.6 237.5h1.7v1.7h-1.7zM546.4 206.7h1.7v1.7h-1.7zM569.7 221.3h1.7v1.7h-1.7zM530.1 225.5h1.7v1.7h-1.7zM513.9 220.1h1.7v1.7h-1.7zM556.1 191.7h1.7v1.7h-1.7zM511.9 193.1h1.7v1.7h-1.7zM546.8 225.4h1.7v1.7h-1.7zM539.1 234.2h1.7v1.7h-1.7zM557.3 206.4h1.7v1.7h-1.7zM524.9 238.1h1.7v1.7h-1.7zM550.9 211.7h1.7v1.7h-1.7zM516.6 206.1h1.7v1.7h-1.7zM529.1 227.0h1.7v1.7h-1.7zM535.3 240.2h1.7v1.7h-1.7zM546.7 221.4h1.7v1.7h-1.7zM520.7 236.2h1.7v1.7h-1.7zM570.1 205.3h1.7v1.7h-1.7zM550.5 198.6h1.7v1.7h-1.7zM524.4 238.2h1.7v1.7h-1.7zM539.9 228.4h1.7v1.7h-1.7zM549.7 199.1h1.7v1.7h-1.7zM547.7 186.4h1.7v1.7h-1.7zM528.6 237.2h1.7v1.7h-1.7zM526.7 219.9h1.7v1.7h-1.7zM526.1 230.7h1.7v1.7h-1.7zM508.7 195.6h1.7v1.7h-1.7zM570.8 211.5h1.7v1.7h-1.7zM505.8 190.9h1.7v1.7h-1.7zM549.9 230.7h1.7v1.7h-1.7zM531.9 236.2h1.7v1.7h-1.7zM523.9 233.7h1.7v1.7h-1.7zM527.4 216.4h1.7v1.7h-1.7zM546.5 194.4h1.7v1.7h-1.7zM512.7 199.7h1.7v1.7h-1.7zM552.4 191.8h1.7v1.7h-1.7zM522.2 194.2h1.7v1.7h-1.7zM530.0 230.3h1.7v1.7h-1.7zM546.4 236.0h1.7v1.7h-1.7zM579.0 208.0h1.7v1.7h-1.7zM521.4 229.0h1.7v1.7h-1.7zM546.9 237.5h1.7v1.7h-1.7zM548.0 226.3h1.7v1.7h-1.7zM529.6 239.1h1.7v1.7h-1.7zM527.2 215.4h1.7v1.7h-1.7zM537.4 236.6h1.7v1.7h-1.7zM563.5 226.4h1.7v1.7h-1.7zM521.8 212.5h1.7v1.7h-1.7zM560.9 220.4h1.7v1.7h-1.7zM547.8 203.9h1.7v1.7h-1.7zM522.9 221.6h1.7v1.7h-1.7zM535.8 241.6h1.7v1.7h-1.7zM536.3 238.0h1.7v1.7h-1.7zM516.7 205.3h1.7v1.7h-1.7zM535.4 241.5h1.7v1.7h-1.7zM530.1 237.1h1.7v1.7h-1.7zM536.8 236.1h1.7v1.7h-1.7zM541.6 231.1h1.7v1.7h-1.7zM535.6 241.7h1.7v1.7h-1.7zM549.2 199.1h1.7v1.7h-1.7zM526.2 211.8h1.7v1.7h-1.7zM534.5 242.2h1.7v1.7h-1.7zM531.3 233.8h1.7v1.7h-1.7zM515.3 213.3h1.7v1.7h-1.7zM555.9 233.8h1.7v1.7h-1.7zM554.4 232.4h1.7v1.7h-1.7zM541.0 228.5h1.7v1.7h-1.7zM533.3 241.7h1.7v1.7h-1.7zM559.3 202.3h1.7v1.7h-1.7zM522.1 231.0h1.7v1.7h-1.7zM535.3 241.9h1.7v1.7h-1.7zM542.3 216.0h1.7v1.7h-1.7zM546.3 222.4h1.7v1.7h-1.7zM534.0 241.4h1.7v1.7h-1.7zM547.2 217.3h1.7v1.7h-1.7zM529.4 232.1h1.7v1.7h-1.7zM522.8 217.7h1.7v1.7h-1.7zM510.8 188.6h1.7v1.7h-1.7zM533.9 242.0h1.7v1.7h-1.7zM526.7 228.6h1.7v1.7h-1.7zM526.3 238.6h1.7v1.7h-1.7zM545.6 198.5h1.7v1.7h-1.7zM550.6 190.8h1.7v1.7h-1.7zM525.3 224.3h1.7v1.7h-1.7zM543.7 211.6h1.7v1.7h-1.7zM547.2 228.2h1.7v1.7h-1.7zM527.5 223.7h1.7v1.7h-1.7zM520.1 215.5h1.7v1.7h-1.7zM519.5 235.8h1.7v1.7h-1.7zM561.1 200.9h1.7v1.7h-1.7zM518.2 187.3h1.7v1.7h-1.7zM536.5 240.4h1.7v1.7h-1.7zM526.2 231.5h1.7v1.7h-1.7zM549.8 236.3h1.7v1.7h-1.7zM510.9 186.7h1.7v1.7h-1.7zM526.9 235.8h1.7v1.7h-1.7zM532.2 241.4h1.7v1.7h-1.7zM527.6 224.5h1.7v1.7h-1.7zM537.2 239.5h1.7v1.7h-1.7zM498.7 197.4h1.7v1.7h-1.7zM530.2 227.0h1.7v1.7h-1.7zM532.0 234.0h1.7v1.7h-1.7zM517.2 226.8h1.7v1.7h-1.7zM531.0 238.6h1.7v1.7h-1.7zM530.7 230.0h1.7v1.7h-1.7zM531.9 237.2h1.7v1.7h-1.7zM545.5 235.8h1.7v1.7h-1.7zM553.8 216.8h1.7v1.7h-1.7zM534.3 242.2h1.7v1.7h-1.7zM536.3 241.1h1.7v1.7h-1.7zM562.0 192.8h1.7v1.7h-1.7zM515.6 233.1h1.7v1.7h-1.7zM583.5 212.3h1.7v1.7h-1.7zM533.6 241.7h1.7v1.7h-1.7zM548.3 199.3h1.7v1.7h-1.7zM518.6 224.9h1.7v1.7h-1.7zM528.6 226.9h1.7v1.7h-1.7zM556.0 207.7h1.7v1.7h-1.7zM512.8 204.3h1.7v1.7h-1.7zM538.7 234.6h1.7v1.7h-1.7zM531.4 239.7h1.7v1.7h-1.7zM537.0 236.9h1.7v1.7h-1.7zM523.8 198.9h1.7v1.7h-1.7zM549.2 234.1h1.7v1.7h-1.7zM559.3 205.4h1.7v1.7h-1.7zM525.6 231.4h1.7v1.7h-1.7zM542.9 222.8h1.7v1.7h-1.7zM535.1 240.8h1.7v1.7h-1.7zM550.1 198.3h1.7v1.7h-1.7zM522.9 237.6h1.7v1.7h-1.7zM523.6 203.0h1.7v1.7h-1.7zM532.2 235.4h1.7v1.7h-1.7zM523.5 198.9h1.7v1.7h-1.7zM522.3 234.5h1.7v1.7h-1.7zM521.0 190.9h1.7v1.7h-1.7zM535.6 240.9h1.7v1.7h-1.7zM550.9 210.4h1.7v1.7h-1.7zM523.0 226.6h1.7v1.7h-1.7zM542.6 235.2h1.7v1.7h-1.7zM536.5 238.1h1.7v1.7h-1.7zM532.3 237.0h1.7v1.7h-1.7zM523.8 229.0h1.7v1.7h-1.7zM549.2 227.2h1.7v1.7h-1.7zM533.9 241.3h1.7v1.7h-1.7zM529.1 222.0h1.7v1.7h-1.7zM542.8 209.5h1.7v1.7h-1.7zM539.0 236.7h1.7v1.7h-1.7zM515.0 214.4h1.7v1.7h-1.7zM541.3 226.5h1.7v1.7h-1.7zM539.9 238.4h1.7v1.7h-1.7zM527.5 223.4h1.7v1.7h-1.7zM531.7 241.3h1.7v1.7h-1.7zM545.4 229.1h1.7v1.7h-1.7zM535.1 241.7h1.7v1.7h-1.7zM541.9 213.9h1.7v1.7h-1.7zM511.2 231.3h1.7v1.7h-1.7zM551.1 188.4h1.7v1.7h-1.7zM515.3 189.5h1.7v1.7h-1.7zM540.4 219.8h1.7v1.7h-1.7zM537.9 235.8h1.7v1.7h-1.7zM541.8 229.0h1.7v1.7h-1.7zM544.5 235.2h1.7v1.7h-1.7zM544.8 210.7h1.7v1.7h-1.7zM524.9 213.1h1.7v1.7h-1.7zM519.7 213.2h1.7v1.7h-1.7zM524.7 236.0h1.7v1.7h-1.7zM537.7 237.0h1.7v1.7h-1.7zM523.8 199.0h1.7v1.7h-1.7zM520.5 218.5h1.7v1.7h-1.7zM510.6 213.8h1.7v1.7h-1.7zM531.0 236.4h1.7v1.7h-1.7zM536.6 239.2h1.7v1.7h-1.7zM546.7 223.0h1.7v1.7h-1.7zM527.8 221.2h1.7v1.7h-1.7zM552.2 200.7h1.7v1.7h-1.7zM526.8 232.9h1.7v1.7h-1.7zM529.8 224.9h1.7v1.7h-1.7zM514.8 223.7h1.7v1.7h-1.7zM525.8 224.4h1.7v1.7h-1.7zM556.7 222.3h1.7v1.7h-1.7zM556.8 232.9h1.7v1.7h-1.7zM550.0 234.7h1.7v1.7h-1.7zM548.6 219.4h1.7v1.7h-1.7zM532.2 236.8h1.7v1.7h-1.7zM528.2 229.8h1.7v1.7h-1.7zM517.3 206.2h1.7v1.7h-1.7zM550.4 233.3h1.7v1.7h-1.7zM542.5 211.5h1.7v1.7h-1.7zM559.8 219.7h1.7v1.7h-1.7zM534.3 242.1h1.7v1.7h-1.7zM532.0 240.1h1.7v1.7h-1.7zM527.8 221.8h1.7v1.7h-1.7zM544.2 232.5h1.7v1.7h-1.7zM529.0 232.8h1.7v1.7h-1.7zM556.9 198.4h1.7v1.7h-1.7zM530.9 239.0h1.7v1.7h-1.7zM551.5 225.3h1.7v1.7h-1.7zM554.7 185.2h1.7v1.7h-1.7zM556.1 206.9h1.7v1.7h-1.7zM537.3 233.2h1.7v1.7h-1.7zM533.8 241.9h1.7v1.7h-1.7zM487.5 209.1h1.7v1.7h-1.7zM555.2 232.0h1.7v1.7h-1.7zM520.4 210.0h1.7v1.7h-1.7zM549.0 210.5h1.7v1.7h-1.7zM563.4 194.6h1.7v1.7h-1.7zM549.7 189.9h1.7v1.7h-1.7zM538.1 236.4h1.7v1.7h-1.7zM548.3 207.0h1.7v1.7h-1.7zM524.7 225.5h1.7v1.7h-1.7zM514.3 231.9h1.7v1.7h-1.7zM519.1 235.5h1.7v1.7h-1.7zM513.3 208.0h1.7v1.7h-1.7zM544.2 222.2h1.7v1.7h-1.7zM531.1 238.3h1.7v1.7h-1.7zM510.7 205.0h1.7v1.7h-1.7zM520.3 232.7h1.7v1.7h-1.7zM500.6 188.6h1.7v1.7h-1.7zM538.2 240.4h1.7v1.7h-1.7zM549.9 193.1h1.7v1.7h-1.7zM536.9 240.6h1.7v1.7h-1.7zM520.3 217.6h1.7v1.7h-1.7zM542.5 229.9h1.7v1.7h-1.7zM554.1 192.6h1.7v1.7h-1.7zM521.3 222.3h1.7v1.7h-1.7zM528.6 228.1h1.7v1.7h-1.7zM532.8 238.7h1.7v1.7h-1.7zM548.8 224.3h1.7v1.7h-1.7zM535.3 241.2h1.7v1.7h-1.7zM542.6 212.7h1.7v1.7h-1.7zM532.8 238.6h1.7v1.7h-1.7zM531.2 238.3h1.7v1.7h-1.7zM560.8 230.0h1.7v1.7h-1.7zM524.3 209.3h1.7v1.7h-1.7zM518.9 188.5h1.7v1.7h-1.7zM529.7 233.0h1.7v1.7h-1.7zM523.8 223.4h1.7v1.7h-1.7zM531.7 239.6h1.7v1.7h-1.7zM542.8 225.3h1.7v1.7h-1.7zM525.2 206.9h1.7v1.7h-1.7zM541.1 223.5h1.7v1.7h-1.7zM531.8 232.8h1.7v1.7h-1.7zM520.0 205.8h1.7v1.7h-1.7zM545.6 233.4h1.7v1.7h-1.7zM521.6 194.0h1.7v1.7h-1.7zM542.9 235.0h1.7v1.7h-1.7zM544.6 225.6h1.7v1.7h-1.7zM533.9 240.9h1.7v1.7h-1.7zM540.9 219.4h1.7v1.7h-1.7zM536.0 239.5h1.7v1.7h-1.7zM525.3 208.4h1.7v1.7h-1.7zM532.9 241.1h1.7v1.7h-1.7zM546.3 237.7h1.7v1.7h-1.7zM532.6 239.5h1.7v1.7h-1.7zM544.6 214.0h1.7v1.7h-1.7zM544.1 215.5h1.7v1.7h-1.7zM527.3 238.6h1.7v1.7h-1.7zM526.7 232.0h1.7v1.7h-1.7zM506.8 204.7h1.7v1.7h-1.7zM543.5 225.3h1.7v1.7h-1.7zM521.9 218.7h1.7v1.7h-1.7zM546.5 191.5h1.7v1.7h-1.7zM526.0 215.7h1.7v1.7h-1.7zM497.9 212.2h1.7v1.7h-1.7zM549.8 225.0h1.7v1.7h-1.7zM534.9 241.4h1.7v1.7h-1.7zM552.8 224.2h1.7v1.7h-1.7zM532.1 241.4h1.7v1.7h-1.7zM540.5 235.1h1.7v1.7h-1.7zM518.1 225.1h1.7v1.7h-1.7zM546.6 191.1h1.7v1.7h-1.7zM526.6 238.0h1.7v1.7h-1.7zM530.9 237.3h1.7v1.7h-1.7zM574.5 207.3h1.7v1.7h-1.7zM528.7 230.1h1.7v1.7h-1.7zM533.7 240.6h1.7v1.7h-1.7zM536.3 240.5h1.7v1.7h-1.7zM525.5 233.1h1.7v1.7h-1.7zM540.4 230.4h1.7v1.7h-1.7zM508.2 209.5h1.7v1.7h-1.7zM528.7 232.8h1.7v1.7h-1.7zM525.3 233.5h1.7v1.7h-1.7zM526.9 223.8h1.7v1.7h-1.7zM535.5 241.4h1.7v1.7h-1.7zM529.9 230.8h1.7v1.7h-1.7zM569.6 226.0h1.7v1.7h-1.7zM529.1 232.5h1.7v1.7h-1.7zM553.6 187.1h1.7v1.7h-1.7zM518.0 216.3h1.7v1.7h-1.7zM558.0 228.7h1.7v1.7h-1.7zM534.9 241.1h1.7v1.7h-1.7zM529.0 234.3h1.7v1.7h-1.7zM567.2 202.0h1.7v1.7h-1.7zM538.0 232.5h1.7v1.7h-1.7zM533.0 239.6h1.7v1.7h-1.7zM549.7 235.8h1.7v1.7h-1.7zM531.1 239.0h1.7v1.7h-1.7zM537.0 234.5h1.7v1.7h-1.7zM516.2 191.7h1.7v1.7h-1.7zM528.9 236.8h1.7v1.7h-1.7zM545.3 230.1h1.7v1.7h-1.7zM543.6 218.9h1.7v1.7h-1.7zM529.2 239.6h1.7v1.7h-1.7zM561.7 229.9h1.7v1.7h-1.7zM547.7 187.8h1.7v1.7h-1.7zM548.1 218.3h1.7v1.7h-1.7zM513.2 196.2h1.7v1.7h-1.7zM540.1 238.8h1.7v1.7h-1.7zM538.1 240.2h1.7v1.7h-1.7zM552.4 211.5h1.7v1.7h-1.7zM540.1 230.3h1.7v1.7h-1.7zM521.9 207.7h1.7v1.7h-1.7zM550.3 196.9h1.7v1.7h-1.7zM515.8 216.0h1.7v1.7h-1.7zM523.1 197.2h1.7v1.7h-1.7zM562.7 191.0h1.7v1.7h-1.7zM542.1 235.9h1.7v1.7h-1.7zM543.2 231.6h1.7v1.7h-1.7zM510.3 210.9h1.7v1.7h-1.7zM546.8 206.0h1.7v1.7h-1.7zM538.1 236.1h1.7v1.7h-1.7zM518.6 200.8h1.7v1.7h-1.7zM548.2 187.2h1.7v1.7h-1.7zM537.8 230.0h1.7v1.7h-1.7zM575.0 191.2h1.7v1.7h-1.7zM541.2 237.4h1.7v1.7h-1.7zM556.0 198.6h1.7v1.7h-1.7zM519.9 223.8h1.7v1.7h-1.7zM546.6 208.0h1.7v1.7h-1.7zM518.8 219.7h1.7v1.7h-1.7zM521.3 225.8h1.7v1.7h-1.7zM491.5 202.4h1.7v1.7h-1.7zM534.2 242.2h1.7v1.7h-1.7zM537.2 239.0h1.7v1.7h-1.7zM545.8 205.7h1.7v1.7h-1.7zM540.4 221.8h1.7v1.7h-1.7zM543.5 234.8h1.7v1.7h-1.7zM529.6 239.8h1.7v1.7h-1.7zM538.1 232.7h1.7v1.7h-1.7zM527.7 237.2h1.7v1.7h-1.7zM546.4 202.0h1.7v1.7h-1.7zM504.1 190.1h1.7v1.7h-1.7zM565.3 207.7h1.7v1.7h-1.7zM542.2 237.6h1.7v1.7h-1.7zM588.0 188.6h1.7v1.7h-1.7zM527.3 230.8h1.7v1.7h-1.7zM522.5 225.3h1.7v1.7h-1.7zM502.7 221.5h1.7v1.7h-1.7zM530.1 227.7h1.7v1.7h-1.7zM525.3 224.3h1.7v1.7h-1.7zM543.9 202.2h1.7v1.7h-1.7zM526.1 220.4h1.7v1.7h-1.7zM548.4 236.3h1.7v1.7h-1.7zM528.4 235.8h1.7v1.7h-1.7zM550.9 187.2h1.7v1.7h-1.7zM555.1 226.9h1.7v1.7h-1.7zM505.0 216.9h1.7v1.7h-1.7zM546.6 225.2h1.7v1.7h-1.7zM525.1 214.6h1.7v1.7h-1.7zM504.9 194.5h1.7v1.7h-1.7zM533.9 241.7h1.7v1.7h-1.7zM554.9 218.3h1.7v1.7h-1.7zM545.0 201.8h1.7v1.7h-1.7zM535.4 241.9h1.7v1.7h-1.7zM530.7 229.4h1.7v1.7h-1.7zM562.2 219.8h1.7v1.7h-1.7zM533.5 240.4h1.7v1.7h-1.7zM535.9 239.1h1.7v1.7h-1.7zM526.3 222.3h1.7v1.7h-1.7zM531.0 240.8h1.7v1.7h-1.7zM556.5 220.0h1.7v1.7h-1.7zM535.6 241.2h1.7v1.7h-1.7zM537.4 240.4h1.7v1.7h-1.7zM529.5 233.5h1.7v1.7h-1.7zM557.6 219.6h1.7v1.7h-1.7zM549.6 221.3h1.7v1.7h-1.7zM540.2 226.2h1.7v1.7h-1.7zM532.3 238.4h1.7v1.7h-1.7zM542.9 236.0h1.7v1.7h-1.7zM531.6 235.4h1.7v1.7h-1.7zM537.1 239.1h1.7v1.7h-1.7zM542.3 239.1h1.7v1.7h-1.7zM514.8 189.1h1.7v1.7h-1.7zM553.2 206.2h1.7v1.7h-1.7zM516.6 225.9h1.7v1.7h-1.7zM550.6 188.7h1.7v1.7h-1.7zM511.8 210.9h1.7v1.7h-1.7zM506.8 195.9h1.7v1.7h-1.7zM529.6 227.6h1.7v1.7h-1.7zM515.8 196.9h1.7v1.7h-1.7zM534.2 241.8h1.7v1.7h-1.7zM543.4 233.0h1.7v1.7h-1.7zM524.7 235.4h1.7v1.7h-1.7zM517.1 219.6h1.7v1.7h-1.7zM520.7 206.9h1.7v1.7h-1.7zM519.1 213.0h1.7v1.7h-1.7zM558.3 217.4h1.7v1.7h-1.7zM490.2 193.0h1.7v1.7h-1.7zM550.2 209.0h1.7v1.7h-1.7zM537.3 240.4h1.7v1.7h-1.7zM546.3 234.6h1.7v1.7h-1.7zM516.2 187.1h1.7v1.7h-1.7zM539.2 224.4h1.7v1.7h-1.7zM542.0 235.3h1.7v1.7h-1.7zM550.1 227.2h1.7v1.7h-1.7zM537.1 238.6h1.7v1.7h-1.7zM548.9 190.5h1.7v1.7h-1.7zM550.0 232.0h1.7v1.7h-1.7zM544.2 238.7h1.7v1.7h-1.7zM537.9 238.9h1.7v1.7h-1.7zM538.6 229.0h1.7v1.7h-1.7zM554.4 192.0h1.7v1.7h-1.7zM523.3 212.1h1.7v1.7h-1.7zM534.2 242.0h1.7v1.7h-1.7zM532.4 237.3h1.7v1.7h-1.7zM539.4 236.7h1.7v1.7h-1.7zM509.2 229.1h1.7v1.7h-1.7zM524.1 228.9h1.7v1.7h-1.7zM543.0 221.8h1.7v1.7h-1.7zM535.2 241.0h1.7v1.7h-1.7zM531.9 239.7h1.7v1.7h-1.7zM538.0 229.3h1.7v1.7h-1.7zM540.6 239.7h1.7v1.7h-1.7zM532.3 234.7h1.7v1.7h-1.7zM555.8 220.5h1.7v1.7h-1.7zM526.8 239.0h1.7v1.7h-1.7zM535.0 241.8h1.7v1.7h-1.7zM498.2 202.8h1.7v1.7h-1.7zM527.3 238.1h1.7v1.7h-1.7zM527.9 228.5h1.7v1.7h-1.7zM522.6 191.6h1.7v1.7h-1.7zM546.6 232.8h1.7v1.7h-1.7zM533.0 241.4h1.7v1.7h-1.7zM542.7 233.6h1.7v1.7h-1.7zM552.9 208.0h1.7v1.7h-1.7zM488.0 205.9h1.7v1.7h-1.7zM548.0 234.1h1.7v1.7h-1.7zM547.7 214.7h1.7v1.7h-1.7zM544.4 207.1h1.7v1.7h-1.7zM542.6 223.7h1.7v1.7h-1.7zM525.5 238.8h1.7v1.7h-1.7zM544.1 237.3h1.7v1.7h-1.7zM522.9 226.7h1.7v1.7h-1.7zM541.9 232.2h1.7v1.7h-1.7zM531.7 234.7h1.7v1.7h-1.7zM528.6 237.3h1.7v1.7h-1.7zM519.2 230.6h1.7v1.7h-1.7zM533.8 241.7h1.7v1.7h-1.7zM547.9 222.6h1.7v1.7h-1.7zM551.0 214.7h1.7v1.7h-1.7zM528.8 238.8h1.7v1.7h-1.7zM560.0 215.0h1.7v1.7h-1.7zM529.9 235.0h1.7v1.7h-1.7zM541.2 222.0h1.7v1.7h-1.7zM552.1 195.7h1.7v1.7h-1.7zM542.2 228.7h1.7v1.7h-1.7zM531.8 235.2h1.7v1.7h-1.7zM532.5 236.1h1.7v1.7h-1.7zM526.2 227.3h1.7v1.7h-1.7zM543.3 233.9h1.7v1.7h-1.7zM530.5 240.3h1.7v1.7h-1.7zM553.0 209.1h1.7v1.7h-1.7zM545.1 214.3h1.7v1.7h-1.7zM589.7 195.3h1.7v1.7h-1.7zM557.7 189.2h1.7v1.7h-1.7zM528.8 233.0h1.7v1.7h-1.7zM525.3 228.2h1.7v1.7h-1.7zM579.8 187.2h1.7v1.7h-1.7zM524.9 227.1h1.7v1.7h-1.7zM535.7 240.9h1.7v1.7h-1.7zM533.4 241.1h1.7v1.7h-1.7zM545.4 222.3h1.7v1.7h-1.7zM522.3 206.5h1.7v1.7h-1.7zM527.6 234.1h1.7v1.7h-1.7zM529.4 235.5h1.7v1.7h-1.7zM531.5 239.8h1.7v1.7h-1.7zM508.4 224.8h1.7v1.7h-1.7zM531.1 230.8h1.7v1.7h-1.7zM524.3 221.0h1.7v1.7h-1.7zM542.1 236.4h1.7v1.7h-1.7zM536.9 234.0h1.7v1.7h-1.7zM560.1 190.0h1.7v1.7h-1.7zM534.1 241.5h1.7v1.7h-1.7zM539.2 237.5h1.7v1.7h-1.7zM560.7 206.6h1.7v1.7h-1.7zM557.0 200.6h1.7v1.7h-1.7zM543.2 238.8h1.7v1.7h-1.7zM523.6 225.1h1.7v1.7h-1.7zM523.8 224.9h1.7v1.7h-1.7zM530.9 234.2h1.7v1.7h-1.7zM543.3 223.8h1.7v1.7h-1.7zM542.7 218.6h1.7v1.7h-1.7zM525.8 235.8h1.7v1.7h-1.7zM528.7 231.6h1.7v1.7h-1.7zM562.6 218.3h1.7v1.7h-1.7zM534.7 242.0h1.7v1.7h-1.7zM549.2 223.5h1.7v1.7h-1.7zM523.8 235.8h1.7v1.7h-1.7zM565.9 205.9h1.7v1.7h-1.7zM548.0 237.2h1.7v1.7h-1.7zM533.2 241.0h1.7v1.7h-1.7zM528.1 226.1h1.7v1.7h-1.7zM523.9 238.2h1.7v1.7h-1.7zM545.0 216.0h1.7v1.7h-1.7zM532.3 237.7h1.7v1.7h-1.7zM502.3 224.3h1.7v1.7h-1.7zM536.0 238.0h1.7v1.7h-1.7zM528.2 225.4h1.7v1.7h-1.7zM569.5 227.0h1.7v1.7h-1.7zM533.9 241.9h1.7v1.7h-1.7zM563.9 207.0h1.7v1.7h-1.7zM531.8 239.0h1.7v1.7h-1.7zM538.4 240.5h1.7v1.7h-1.7zM533.5 241.3h1.7v1.7h-1.7zM523.0 207.3h1.7v1.7h-1.7zM510.3 217.7h1.7v1.7h-1.7zM531.3 235.8h1.7v1.7h-1.7zM555.3 199.9h1.7v1.7h-1.7zM530.0 228.4h1.7v1.7h-1.7zM514.5 204.9h1.7v1.7h-1.7zM533.0 241.3h1.7v1.7h-1.7zM518.9 188.8h1.7v1.7h-1.7zM548.4 206.0h1.7v1.7h-1.7zM527.6 228.4h1.7v1.7h-1.7zM533.6 241.5h1.7v1.7h-1.7zM503.3 219.3h1.7v1.7h-1.7zM509.4 194.6h1.7v1.7h-1.7zM551.7 230.7h1.7v1.7h-1.7zM546.3 227.5h1.7v1.7h-1.7zM534.6 241.8h1.7v1.7h-1.7zM529.4 238.5h1.7v1.7h-1.7zM524.0 218.0h1.7v1.7h-1.7zM550.5 205.5h1.7v1.7h-1.7zM532.9 241.2h1.7v1.7h-1.7zM522.2 192.1h1.7v1.7h-1.7zM536.4 237.7h1.7v1.7h-1.7zM549.4 216.6h1.7v1.7h-1.7zM566.6 227.6h1.7v1.7h-1.7zM508.8 207.2h1.7v1.7h-1.7zM566.6 225.1h1.7v1.7h-1.7zM533.3 241.5h1.7v1.7h-1.7zM503.6 218.4h1.7v1.7h-1.7zM526.5 222.4h1.7v1.7h-1.7zM559.3 199.7h1.7v1.7h-1.7zM518.1 234.6h1.7v1.7h-1.7zM562.8 205.1h1.7v1.7h-1.7zM555.0 197.8h1.7v1.7h-1.7zM522.8 225.5h1.7v1.7h-1.7zM546.4 192.4h1.7v1.7h-1.7zM527.3 212.8h1.7v1.7h-1.7zM531.0 235.7h1.7v1.7h-1.7zM542.0 237.9h1.7v1.7h-1.7zM532.1 234.7h1.7v1.7h-1.7zM547.6 236.8h1.7v1.7h-1.7zM571.0 198.6h1.7v1.7h-1.7zM524.9 230.2h1.7v1.7h-1.7zM540.7 236.7h1.7v1.7h-1.7zM544.2 233.4h1.7v1.7h-1.7zM511.9 191.7h1.7v1.7h-1.7zM520.4 213.4h1.7v1.7h-1.7zM530.2 237.2h1.7v1.7h-1.7zM528.7 231.2h1.7v1.7h-1.7zM514.8 189.6h1.7v1.7h-1.7zM552.4 188.8h1.7v1.7h-1.7zM570.6 195.2h1.7v1.7h-1.7zM537.9 240.1h1.7v1.7h-1.7zM539.4 238.4h1.7v1.7h-1.7zM547.9 213.1h1.7v1.7h-1.7zM526.0 232.1h1.7v1.7h-1.7zM557.9 210.7h1.7v1.7h-1.7zM534.0 241.2h1.7v1.7h-1.7zM521.5 225.1h1.7v1.7h-1.7zM563.6 221.1h1.7v1.7h-1.7zM537.8 238.9h1.7v1.7h-1.7zM519.0 189.8h1.7v1.7h-1.7zM513.1 209.9h1.7v1.7h-1.7zM534.2 241.9h1.7v1.7h-1.7zM529.1 225.3h1.7v1.7h-1.7zM534.2 242.2h1.7v1.7h-1.7zM533.3 241.0h1.7v1.7h-1.7zM522.2 203.8h1.7v1.7h-1.7zM524.6 236.5h1.7v1.7h-1.7zM557.5 207.5h1.7v1.7h-1.7zM554.9 204.7h1.7v1.7h-1.7zM533.0 240.0h1.7v1.7h-1.7zM537.8 238.7h1.7v1.7h-1.7zM543.4 232.7h1.7v1.7h-1.7zM533.0 240.1h1.7v1.7h-1.7zM559.4 191.9h1.7v1.7h-1.7zM542.3 227.4h1.7v1.7h-1.7zM547.7 210.2h1.7v1.7h-1.7zM509.4 231.2h1.7v1.7h-1.7zM534.8 241.6h1.7v1.7h-1.7zM510.9 232.9h1.7v1.7h-1.7zM512.3 220.9h1.7v1.7h-1.7zM545.5 227.4h1.7v1.7h-1.7zM546.2 230.4h1.7v1.7h-1.7zM543.0 234.9h1.7v1.7h-1.7zM525.6 219.3h1.7v1.7h-1.7zM539.3 239.6h1.7v1.7h-1.7zM560.5 198.1h1.7v1.7h-1.7zM542.8 230.7h1.7v1.7h-1.7zM528.8 220.2h1.7v1.7h-1.7zM543.9 222.5h1.7v1.7h-1.7zM524.8 213.5h1.7v1.7h-1.7zM526.8 236.0h1.7v1.7h-1.7zM530.2 228.0h1.7v1.7h-1.7zM556.5 222.4h1.7v1.7h-1.7zM508.5 194.6h1.7v1.7h-1.7zM541.1 226.7h1.7v1.7h-1.7zM542.7 227.1h1.7v1.7h-1.7zM550.0 209.5h1.7v1.7h-1.7zM535.5 240.3h1.7v1.7h-1.7zM542.8 225.2h1.7v1.7h-1.7zM531.8 236.5h1.7v1.7h-1.7zM532.2 239.8h1.7v1.7h-1.7zM537.2 239.4h1.7v1.7h-1.7zM549.1 200.2h1.7v1.7h-1.7zM558.6 220.5h1.7v1.7h-1.7zM540.6 237.3h1.7v1.7h-1.7zM548.8 196.9h1.7v1.7h-1.7zM535.4 240.9h1.7v1.7h-1.7zM545.9 203.4h1.7v1.7h-1.7zM500.9 208.4h1.7v1.7h-1.7zM543.8 238.3h1.7v1.7h-1.7zM528.2 237.8h1.7v1.7h-1.7zM519.4 213.5h1.7v1.7h-1.7zM545.5 204.4h1.7v1.7h-1.7zM540.3 239.8h1.7v1.7h-1.7zM558.1 205.1h1.7v1.7h-1.7zM543.0 223.0h1.7v1.7h-1.7zM538.6 235.1h1.7v1.7h-1.7zM523.7 232.1h1.7v1.7h-1.7zM530.4 232.7h1.7v1.7h-1.7zM557.0 202.9h1.7v1.7h-1.7zM568.0 205.6h1.7v1.7h-1.7zM544.8 225.3h1.7v1.7h-1.7zM533.7 241.9h1.7v1.7h-1.7zM549.6 229.7h1.7v1.7h-1.7zM539.6 234.9h1.7v1.7h-1.7zM544.1 224.0h1.7v1.7h-1.7zM526.1 227.0h1.7v1.7h-1.7zM546.7 196.8h1.7v1.7h-1.7zM526.9 215.2h1.7v1.7h-1.7zM544.2 231.9h1.7v1.7h-1.7zM551.9 227.1h1.7v1.7h-1.7zM511.4 197.2h1.7v1.7h-1.7zM541.9 239.3h1.7v1.7h-1.7zM543.0 221.7h1.7v1.7h-1.7zM534.8 241.5h1.7v1.7h-1.7zM545.1 206.9h1.7v1.7h-1.7zM535.2 240.1h1.7v1.7h-1.7zM524.1 218.6h1.7v1.7h-1.7zM512.3 205.3h1.7v1.7h-1.7zM574.6 192.0h1.7v1.7h-1.7zM543.5 228.6h1.7v1.7h-1.7zM516.4 231.0h1.7v1.7h-1.7zM539.6 238.9h1.7v1.7h-1.7zM537.1 237.1h1.7v1.7h-1.7zM531.6 239.2h1.7v1.7h-1.7zM518.9 216.1h1.7v1.7h-1.7zM523.0 226.2h1.7v1.7h-1.7zM523.5 197.6h1.7v1.7h-1.7zM529.7 230.0h1.7v1.7h-1.7zM540.4 227.9h1.7v1.7h-1.7zM541.4 238.6h1.7v1.7h-1.7zM514.8 229.1h1.7v1.7h-1.7zM511.6 216.4h1.7v1.7h-1.7zM527.3 229.5h1.7v1.7h-1.7zM508.6 224.0h1.7v1.7h-1.7zM547.7 196.5h1.7v1.7h-1.7zM522.2 191.8h1.7v1.7h-1.7zM544.1 225.2h1.7v1.7h-1.7zM555.3 216.1h1.7v1.7h-1.7zM528.4 232.8h1.7v1.7h-1.7zM532.1 241.3h1.7v1.7h-1.7zM536.9 240.5h1.7v1.7h-1.7zM518.7 185.3h1.7v1.7h-1.7zM536.1 237.4h1.7v1.7h-1.7zM536.1 238.6h1.7v1.7h-1.7zM521.4 221.6h1.7v1.7h-1.7zM542.6 232.5h1.7v1.7h-1.7zM525.0 226.1h1.7v1.7h-1.7zM515.2 233.7h1.7v1.7h-1.7zM522.5 201.1h1.7v1.7h-1.7zM533.8 240.6h1.7v1.7h-1.7zM547.0 230.8h1.7v1.7h-1.7zM532.7 239.0h1.7v1.7h-1.7zM522.8 232.9h1.7v1.7h-1.7zM540.3 225.8h1.7v1.7h-1.7zM517.0 225.4h1.7v1.7h-1.7zM552.1 230.0h1.7v1.7h-1.7zM534.7 242.0h1.7v1.7h-1.7zM553.2 206.8h1.7v1.7h-1.7zM504.2 227.1h1.7v1.7h-1.7zM541.1 238.3h1.7v1.7h-1.7zM547.3 226.2h1.7v1.7h-1.7zM538.3 239.6h1.7v1.7h-1.7zM513.4 225.7h1.7v1.7h-1.7zM527.8 226.9h1.7v1.7h-1.7zM530.8 240.0h1.7v1.7h-1.7zM542.2 234.3h1.7v1.7h-1.7zM510.8 229.0h1.7v1.7h-1.7zM547.8 202.3h1.7v1.7h-1.7zM529.2 239.8h1.7v1.7h-1.7zM491.1 197.5h1.7v1.7h-1.7zM524.7 202.6h1.7v1.7h-1.7zM521.8 237.6h1.7v1.7h-1.7zM528.9 235.7h1.7v1.7h-1.7zM508.9 211.3h1.7v1.7h-1.7zM531.6 233.2h1.7v1.7h-1.7zM527.5 235.0h1.7v1.7h-1.7zM538.6 237.1h1.7v1.7h-1.7zM546.5 192.1h1.7v1.7h-1.7zM525.0 218.2h1.7v1.7h-1.7zM521.4 223.6h1.7v1.7h-1.7zM518.4 202.0h1.7v1.7h-1.7zM511.6 197.8h1.7v1.7h-1.7zM523.4 232.2h1.7v1.7h-1.7zM565.1 194.8h1.7v1.7h-1.7zM531.1 238.7h1.7v1.7h-1.7zM535.2 240.6h1.7v1.7h-1.7zM516.9 214.7h1.7v1.7h-1.7zM543.7 234.0h1.7v1.7h-1.7zM523.2 198.8h1.7v1.7h-1.7zM536.4 239.9h1.7v1.7h-1.7zM537.3 238.7h1.7v1.7h-1.7zM530.6 237.5h1.7v1.7h-1.7zM544.0 238.2h1.7v1.7h-1.7zM538.4 229.9h1.7v1.7h-1.7zM550.2 229.4h1.7v1.7h-1.7zM538.9 240.3h1.7v1.7h-1.7zM562.8 185.7h1.7v1.7h-1.7zM530.3 233.9h1.7v1.7h-1.7zM512.6 225.6h1.7v1.7h-1.7zM520.2 190.3h1.7v1.7h-1.7zM502.4 188.0h1.7v1.7h-1.7zM533.5 241.2h1.7v1.7h-1.7zM541.8 224.0h1.7v1.7h-1.7zM519.8 189.4h1.7v1.7h-1.7zM511.9 192.4h1.7v1.7h-1.7zM523.3 233.5h1.7v1.7h-1.7zM547.2 226.9h1.7v1.7h-1.7zM553.7 195.9h1.7v1.7h-1.7zM531.6 239.3h1.7v1.7h-1.7zM556.4 228.4h1.7v1.7h-1.7zM531.8 241.2h1.7v1.7h-1.7zM533.1 241.0h1.7v1.7h-1.7zM534.0 241.1h1.7v1.7h-1.7zM537.2 240.3h1.7v1.7h-1.7zM518.9 195.3h1.7v1.7h-1.7zM544.1 233.6h1.7v1.7h-1.7zM525.9 232.6h1.7v1.7h-1.7zM518.7 205.6h1.7v1.7h-1.7zM534.3 242.1h1.7v1.7h-1.7zM544.2 228.8h1.7v1.7h-1.7zM538.0 240.5h1.7v1.7h-1.7zM517.8 235.6h1.7v1.7h-1.7zM523.2 234.1h1.7v1.7h-1.7zM539.7 239.6h1.7v1.7h-1.7zM538.1 236.7h1.7v1.7h-1.7zM521.4 198.7h1.7v1.7h-1.7zM514.5 223.6h1.7v1.7h-1.7zM516.2 197.1h1.7v1.7h-1.7zM508.5 213.1h1.7v1.7h-1.7zM533.5 240.3h1.7v1.7h-1.7zM536.6 241.0h1.7v1.7h-1.7zM537.2 237.9h1.7v1.7h-1.7zM518.8 228.4h1.7v1.7h-1.7zM532.4 236.5h1.7v1.7h-1.7zM518.1 222.2h1.7v1.7h-1.7zM537.0 235.9h1.7v1.7h-1.7zM537.9 237.5h1.7v1.7h-1.7zM499.7 197.0h1.7v1.7h-1.7zM539.9 239.3h1.7v1.7h-1.7zM519.4 218.1h1.7v1.7h-1.7zM536.2 237.2h1.7v1.7h-1.7zM517.8 195.0h1.7v1.7h-1.7zM564.4 227.0h1.7v1.7h-1.7zM523.7 222.8h1.7v1.7h-1.7zM561.1 187.4h1.7v1.7h-1.7zM557.7 228.3h1.7v1.7h-1.7zM555.3 216.7h1.7v1.7h-1.7zM504.4 222.1h1.7v1.7h-1.7zM538.6 239.1h1.7v1.7h-1.7zM545.9 193.8h1.7v1.7h-1.7zM523.4 234.1h1.7v1.7h-1.7zM505.5 187.3h1.7v1.7h-1.7zM534.2 242.0h1.7v1.7h-1.7zM541.9 211.4h1.7v1.7h-1.7zM539.3 239.1h1.7v1.7h-1.7zM556.0 230.8h1.7v1.7h-1.7zM541.7 218.8h1.7v1.7h-1.7zM541.8 231.8h1.7v1.7h-1.7zM515.4 221.0h1.7v1.7h-1.7zM522.1 214.3h1.7v1.7h-1.7zM545.3 229.6h1.7v1.7h-1.7zM535.3 240.6h1.7v1.7h-1.7zM516.0 234.1h1.7v1.7h-1.7zM537.9 232.7h1.7v1.7h-1.7zM506.3 207.7h1.7v1.7h-1.7zM550.9 209.0h1.7v1.7h-1.7zM531.8 237.0h1.7v1.7h-1.7zM523.9 237.7h1.7v1.7h-1.7zM556.0 185.4h1.7v1.7h-1.7zM528.3 233.9h1.7v1.7h-1.7zM510.9 191.5h1.7v1.7h-1.7zM554.8 216.8h1.7v1.7h-1.7zM548.8 193.4h1.7v1.7h-1.7zM554.4 225.8h1.7v1.7h-1.7zM546.9 200.0h1.7v1.7h-1.7zM541.9 238.5h1.7v1.7h-1.7zM522.6 216.7h1.7v1.7h-1.7zM547.2 191.4h1.7v1.7h-1.7zM532.5 240.0h1.7v1.7h-1.7zM540.2 230.8h1.7v1.7h-1.7zM533.0 237.8h1.7v1.7h-1.7zM525.1 218.9h1.7v1.7h-1.7zM549.2 201.0h1.7v1.7h-1.7zM528.4 226.8h1.7v1.7h-1.7zM552.5 211.0h1.7v1.7h-1.7zM526.2 216.2h1.7v1.7h-1.7zM518.0 204.2h1.7v1.7h-1.7zM553.4 221.4h1.7v1.7h-1.7zM530.7 230.8h1.7v1.7h-1.7zM520.7 214.8h1.7v1.7h-1.7zM548.5 216.3h1.7v1.7h-1.7zM547.9 207.4h1.7v1.7h-1.7zM570.3 218.6h1.7v1.7h-1.7zM525.5 206.6h1.7v1.7h-1.7zM540.9 234.5h1.7v1.7h-1.7zM538.8 239.4h1.7v1.7h-1.7zM542.6 224.9h1.7v1.7h-1.7zM525.3 212.7h1.7v1.7h-1.7zM521.2 216.8h1.7v1.7h-1.7zM528.7 227.3h1.7v1.7h-1.7zM531.0 233.5h1.7v1.7h-1.7zM518.0 233.5h1.7v1.7h-1.7zM538.0 240.1h1.7v1.7h-1.7zM551.8 231.9h1.7v1.7h-1.7zM546.7 236.0h1.7v1.7h-1.7zM527.3 225.0h1.7v1.7h-1.7zM532.2 238.6h1.7v1.7h-1.7zM543.6 205.2h1.7v1.7h-1.7zM496.6 194.6h1.7v1.7h-1.7zM539.2 231.0h1.7v1.7h-1.7zM551.8 229.1h1.7v1.7h-1.7zM558.8 230.9h1.7v1.7h-1.7zM509.3 206.0h1.7v1.7h-1.7zM555.1 189.0h1.7v1.7h-1.7zM522.1 191.4h1.7v1.7h-1.7zM515.1 210.3h1.7v1.7h-1.7zM542.1 230.5h1.7v1.7h-1.7zM554.8 221.5h1.7v1.7h-1.7zM542.4 238.5h1.7v1.7h-1.7zM527.9 229.0h1.7v1.7h-1.7zM546.3 219.3h1.7v1.7h-1.7zM524.4 218.6h1.7v1.7h-1.7zM553.0 216.0h1.7v1.7h-1.7zM539.2 234.7h1.7v1.7h-1.7zM532.6 238.9h1.7v1.7h-1.7zM533.8 241.3h1.7v1.7h-1.7zM517.0 216.7h1.7v1.7h-1.7zM525.6 237.7h1.7v1.7h-1.7zM544.5 232.4h1.7v1.7h-1.7zM522.4 226.3h1.7v1.7h-1.7zM532.8 239.6h1.7v1.7h-1.7zM567.7 209.8h1.7v1.7h-1.7zM526.3 237.0h1.7v1.7h-1.7zM544.9 215.8h1.7v1.7h-1.7zM535.4 239.9h1.7v1.7h-1.7zM527.4 231.9h1.7v1.7h-1.7zM520.5 197.7h1.7v1.7h-1.7zM530.1 239.7h1.7v1.7h-1.7zM515.8 197.2h1.7v1.7h-1.7zM559.0 225.6h1.7v1.7h-1.7zM545.8 236.1h1.7v1.7h-1.7zM484.2 185.6h1.7v1.7h-1.7zM539.9 231.9h1.7v1.7h-1.7zM526.3 234.1h1.7v1.7h-1.7zM544.7 236.6h1.7v1.7h-1.7zM556.8 220.6h1.7v1.7h-1.7zM556.0 205.9h1.7v1.7h-1.7zM540.2 231.9h1.7v1.7h-1.7zM541.3 221.2h1.7v1.7h-1.7zM531.5 238.7h1.7v1.7h-1.7zM548.6 233.8h1.7v1.7h-1.7zM533.0 238.7h1.7v1.7h-1.7zM542.1 233.6h1.7v1.7h-1.7zM535.6 239.4h1.7v1.7h-1.7zM537.8 238.0h1.7v1.7h-1.7zM543.1 229.7h1.7v1.7h-1.7zM521.6 233.8h1.7v1.7h-1.7zM557.6 192.5h1.7v1.7h-1.7zM527.3 230.6h1.7v1.7h-1.7zM540.6 227.8h1.7v1.7h-1.7zM536.9 241.3h1.7v1.7h-1.7zM517.7 224.2h1.7v1.7h-1.7zM529.9 225.4h1.7v1.7h-1.7zM531.7 240.9h1.7v1.7h-1.7zM496.8 212.7h1.7v1.7h-1.7zM534.2 241.7h1.7v1.7h-1.7zM525.3 233.0h1.7v1.7h-1.7zM534.9 241.6h1.7v1.7h-1.7zM507.9 210.0h1.7v1.7h-1.7zM532.2 236.9h1.7v1.7h-1.7zM523.8 221.6h1.7v1.7h-1.7zM549.6 201.7h1.7v1.7h-1.7zM517.2 231.6h1.7v1.7h-1.7zM538.5 239.4h1.7v1.7h-1.7zM507.3 228.3h1.7v1.7h-1.7zM534.2 241.8h1.7v1.7h-1.7zM529.8 236.0h1.7v1.7h-1.7zM524.9 226.1h1.7v1.7h-1.7zM567.5 186.9h1.7v1.7h-1.7zM531.7 232.6h1.7v1.7h-1.7zM541.8 225.6h1.7v1.7h-1.7zM559.8 192.0h1.7v1.7h-1.7zM537.2 238.3h1.7v1.7h-1.7zM587.5 207.9h1.7v1.7h-1.7zM538.5 238.8h1.7v1.7h-1.7zM539.3 239.5h1.7v1.7h-1.7zM540.0 239.2h1.7v1.7h-1.7zM521.9 194.7h1.7v1.7h-1.7zM518.2 233.7h1.7v1.7h-1.7zM545.4 225.8h1.7v1.7h-1.7zM514.4 227.8h1.7v1.7h-1.7zM537.6 238.6h1.7v1.7h-1.7zM527.3 231.8h1.7v1.7h-1.7zM538.0 239.5h1.7v1.7h-1.7zM521.6 221.0h1.7v1.7h-1.7zM532.9 238.8h1.7v1.7h-1.7zM520.0 200.6h1.7v1.7h-1.7zM543.3 226.8h1.7v1.7h-1.7zM555.7 229.1h1.7v1.7h-1.7zM515.5 190.3h1.7v1.7h-1.7zM534.1 241.9h1.7v1.7h-1.7zM537.2 239.6h1.7v1.7h-1.7zM531.2 239.5h1.7v1.7h-1.7zM553.8 202.8h1.7v1.7h-1.7zM532.1 235.7h1.7v1.7h-1.7zM558.8 194.3h1.7v1.7h-1.7zM507.6 214.8h1.7v1.7h-1.7zM560.6 209.9h1.7v1.7h-1.7zM524.3 219.5h1.7v1.7h-1.7zM513.0 195.1h1.7v1.7h-1.7zM595.0 211.2h1.7v1.7h-1.7zM560.6 230.7h1.7v1.7h-1.7zM547.2 231.5h1.7v1.7h-1.7zM527.2 233.3h1.7v1.7h-1.7zM538.7 232.0h1.7v1.7h-1.7zM524.7 202.5h1.7v1.7h-1.7zM519.3 222.9h1.7v1.7h-1.7zM550.6 230.1h1.7v1.7h-1.7zM528.6 238.3h1.7v1.7h-1.7zM521.3 193.8h1.7v1.7h-1.7zM524.8 205.5h1.7v1.7h-1.7zM518.0 232.1h1.7v1.7h-1.7zM566.2 216.9h1.7v1.7h-1.7zM544.9 229.2h1.7v1.7h-1.7zM530.9 240.4h1.7v1.7h-1.7zM516.4 208.8h1.7v1.7h-1.7zM551.4 199.2h1.7v1.7h-1.7zM534.9 241.2h1.7v1.7h-1.7zM539.3 227.5h1.7v1.7h-1.7zM563.4 190.3h1.7v1.7h-1.7zM531.8 236.1h1.7v1.7h-1.7zM555.0 208.2h1.7v1.7h-1.7zM551.3 199.9h1.7v1.7h-1.7zM523.6 202.2h1.7v1.7h-1.7zM530.2 240.0h1.7v1.7h-1.7zM538.2 238.8h1.7v1.7h-1.7zM529.4 237.3h1.7v1.7h-1.7zM533.7 240.7h1.7v1.7h-1.7zM527.9 236.1h1.7v1.7h-1.7zM523.0 225.8h1.7v1.7h-1.7zM497.7 207.7h1.7v1.7h-1.7zM533.0 241.7h1.7v1.7h-1.7zM521.7 229.0h1.7v1.7h-1.7zM542.0 238.0h1.7v1.7h-1.7zM527.3 215.4h1.7v1.7h-1.7zM519.6 210.4h1.7v1.7h-1.7zM496.8 223.2h1.7v1.7h-1.7zM487.4 216.5h1.7v1.7h-1.7zM529.9 240.3h1.7v1.7h-1.7zM536.0 241.6h1.7v1.7h-1.7zM557.8 213.2h1.7v1.7h-1.7zM540.2 238.0h1.7v1.7h-1.7zM534.1 241.9h1.7v1.7h-1.7zM537.6 238.4h1.7v1.7h-1.7zM553.7 202.2h1.7v1.7h-1.7zM536.6 240.4h1.7v1.7h-1.7zM529.3 233.3h1.7v1.7h-1.7zM516.0 231.0h1.7v1.7h-1.7zM537.6 231.0h1.7v1.7h-1.7zM531.8 235.0h1.7v1.7h-1.7zM540.8 225.5h1.7v1.7h-1.7zM546.2 210.1h1.7v1.7h-1.7zM533.4 241.6h1.7v1.7h-1.7zM498.1 217.6h1.7v1.7h-1.7zM529.9 232.8h1.7v1.7h-1.7zM550.7 191.2h1.7v1.7h-1.7zM532.7 237.2h1.7v1.7h-1.7zM569.8 225.8h1.7v1.7h-1.7zM542.5 208.8h1.7v1.7h-1.7zM540.0 232.3h1.7v1.7h-1.7zM513.8 202.7h1.7v1.7h-1.7zM532.8 238.7h1.7v1.7h-1.7zM551.9 198.4h1.7v1.7h-1.7zM527.3 225.8h1.7v1.7h-1.7zM493.6 188.2h1.7v1.7h-1.7zM554.1 233.4h1.7v1.7h-1.7zM525.8 219.6h1.7v1.7h-1.7zM526.6 221.9h1.7v1.7h-1.7zM527.5 238.8h1.7v1.7h-1.7zM548.6 196.3h1.7v1.7h-1.7zM516.8 209.0h1.7v1.7h-1.7zM524.7 231.6h1.7v1.7h-1.7zM528.1 232.4h1.7v1.7h-1.7zM510.3 225.5h1.7v1.7h-1.7zM552.1 201.3h1.7v1.7h-1.7zM547.9 201.0h1.7v1.7h-1.7zM499.8 213.0h1.7v1.7h-1.7zM554.0 232.8h1.7v1.7h-1.7zM532.3 239.0h1.7v1.7h-1.7zM535.3 241.5h1.7v1.7h-1.7zM530.1 237.1h1.7v1.7h-1.7zM522.2 204.6h1.7v1.7h-1.7zM541.1 219.3h1.7v1.7h-1.7zM529.0 233.7h1.7v1.7h-1.7zM536.2 238.9h1.7v1.7h-1.7zM526.9 230.8h1.7v1.7h-1.7zM518.5 185.5h1.7v1.7h-1.7zM519.8 189.9h1.7v1.7h-1.7zM540.8 238.4h1.7v1.7h-1.7zM518.8 202.6h1.7v1.7h-1.7zM527.4 238.1h1.7v1.7h-1.7zM561.7 203.2h1.7v1.7h-1.7zM527.1 231.5h1.7v1.7h-1.7zM537.9 234.4h1.7v1.7h-1.7zM541.1 234.8h1.7v1.7h-1.7zM539.1 226.9h1.7v1.7h-1.7zM572.8 201.4h1.7v1.7h-1.7zM540.2 220.6h1.7v1.7h-1.7zM536.6 241.0h1.7v1.7h-1.7zM523.7 204.9h1.7v1.7h-1.7zM542.6 218.2h1.7v1.7h-1.7zM533.1 238.7h1.7v1.7h-1.7zM517.4 231.5h1.7v1.7h-1.7zM515.0 234.2h1.7v1.7h-1.7zM515.2 222.8h1.7v1.7h-1.7zM519.4 198.7h1.7v1.7h-1.7zM524.3 232.4h1.7v1.7h-1.7zM548.0 195.4h1.7v1.7h-1.7zM532.6 238.9h1.7v1.7h-1.7zM546.2 197.3h1.7v1.7h-1.7zM535.1 240.5h1.7v1.7h-1.7zM519.6 233.3h1.7v1.7h-1.7zM529.0 232.4h1.7v1.7h-1.7zM558.1 221.6h1.7v1.7h-1.7zM547.0 235.8h1.7v1.7h-1.7zM561.8 194.8h1.7v1.7h-1.7zM541.2 232.5h1.7v1.7h-1.7zM546.1 218.8h1.7v1.7h-1.7zM535.5 239.6h1.7v1.7h-1.7zM538.0 239.4h1.7v1.7h-1.7zM542.9 217.2h1.7v1.7h-1.7zM535.8 241.0h1.7v1.7h-1.7zM542.8 238.0h1.7v1.7h-1.7zM528.9 232.7h1.7v1.7h-1.7zM521.7 209.5h1.7v1.7h-1.7zM528.6 222.2h1.7v1.7h-1.7zM520.0 231.8h1.7v1.7h-1.7zM540.8 239.9h1.7v1.7h-1.7zM531.4 234.8h1.7v1.7h-1.7zM527.3 236.9h1.7v1.7h-1.7zM527.9 228.3h1.7v1.7h-1.7zM542.7 216.3h1.7v1.7h-1.7zM522.9 213.8h1.7v1.7h-1.7zM517.4 221.1h1.7v1.7h-1.7zM548.7 224.5h1.7v1.7h-1.7zM535.3 241.2h1.7v1.7h-1.7zM511.2 196.6h1.7v1.7h-1.7zM488.3 193.9h1.7v1.7h-1.7zM535.9 239.0h1.7v1.7h-1.7zM533.8 241.5h1.7v1.7h-1.7zM515.2 230.1h1.7v1.7h-1.7zM532.7 238.0h1.7v1.7h-1.7zM527.9 224.5h1.7v1.7h-1.7zM539.2 237.0h1.7v1.7h-1.7zM551.0 220.2h1.7v1.7h-1.7zM550.2 213.4h1.7v1.7h-1.7zM506.5 212.0h1.7v1.7h-1.7zM561.5 220.9h1.7v1.7h-1.7zM525.2 231.1h1.7v1.7h-1.7zM558.7 195.0h1.7v1.7h-1.7zM542.8 214.4h1.7v1.7h-1.7zM548.8 235.4h1.7v1.7h-1.7zM548.7 202.1h1.7v1.7h-1.7zM540.3 221.7h1.7v1.7h-1.7zM498.1 196.9h1.7v1.7h-1.7zM521.0 222.0h1.7v1.7h-1.7zM552.2 218.3h1.7v1.7h-1.7zM515.9 233.2h1.7v1.7h-1.7zM518.8 234.5h1.7v1.7h-1.7zM526.1 228.7h1.7v1.7h-1.7zM557.9 223.8h1.7v1.7h-1.7zM481.7 194.6h1.7v1.7h-1.7zM540.6 232.4h1.7v1.7h-1.7zM530.0 233.2h1.7v1.7h-1.7zM540.4 237.7h1.7v1.7h-1.7zM534.5 242.2h1.7v1.7h-1.7zM546.9 208.8h1.7v1.7h-1.7zM534.8 242.0h1.7v1.7h-1.7zM503.8 224.4h1.7v1.7h-1.7zM523.6 211.0h1.7v1.7h-1.7zM548.9 198.7h1.7v1.7h-1.7zM518.0 207.6h1.7v1.7h-1.7zM537.1 233.4h1.7v1.7h-1.7zM527.7 221.2h1.7v1.7h-1.7zM540.3 230.5h1.7v1.7h-1.7zM535.4 240.7h1.7v1.7h-1.7zM540.7 233.5h1.7v1.7h-1.7zM555.2 208.3h1.7v1.7h-1.7zM516.8 219.5h1.7v1.7h-1.7zM538.7 238.2h1.7v1.7h-1.7zM539.7 234.7h1.7v1.7h-1.7zM548.9 204.2h1.7v1.7h-1.7zM550.4 211.4h1.7v1.7h-1.7zM531.8 233.7h1.7v1.7h-1.7zM552.6 234.9h1.7v1.7h-1.7zM544.8 201.4h1.7v1.7h-1.7zM549.4 227.0h1.7v1.7h-1.7zM529.4 235.1h1.7v1.7h-1.7zM552.6 202.8h1.7v1.7h-1.7zM519.8 198.6h1.7v1.7h-1.7zM545.4 200.3h1.7v1.7h-1.7zM541.0 224.7h1.7v1.7h-1.7zM554.3 219.8h1.7v1.7h-1.7zM522.6 231.5h1.7v1.7h-1.7zM556.0 216.2h1.7v1.7h-1.7zM545.5 225.4h1.7v1.7h-1.7zM534.1 241.9h1.7v1.7h-1.7zM526.6 209.8h1.7v1.7h-1.7zM534.4 242.1h1.7v1.7h-1.7zM542.8 232.3h1.7v1.7h-1.7zM530.4 240.9h1.7v1.7h-1.7zM523.1 206.8h1.7v1.7h-1.7zM520.1 215.4h1.7v1.7h-1.7zM554.7 229.2h1.7v1.7h-1.7zM531.2 238.2h1.7v1.7h-1.7zM544.2 234.6h1.7v1.7h-1.7zM535.5 239.8h1.7v1.7h-1.7zM539.6 233.2h1.7v1.7h-1.7zM530.4 237.3h1.7v1.7h-1.7zM543.9 238.5h1.7v1.7h-1.7zM520.8 236.1h1.7v1.7h-1.7zM502.4 187.8h1.7v1.7h-1.7zM545.9 236.4h1.7v1.7h-1.7zM517.2 193.2h1.7v1.7h-1.7zM529.4 234.9h1.7v1.7h-1.7zM543.3 234.3h1.7v1.7h-1.7zM543.9 236.1h1.7v1.7h-1.7zM535.9 240.9h1.7v1.7h-1.7zM539.5 240.1h1.7v1.7h-1.7zM523.4 198.2h1.7v1.7h-1.7zM519.1 236.5h1.7v1.7h-1.7zM547.2 233.7h1.7v1.7h-1.7zM545.2 197.8h1.7v1.7h-1.7zM516.5 225.4h1.7v1.7h-1.7zM507.8 212.7h1.7v1.7h-1.7zM533.7 241.6h1.7v1.7h-1.7zM551.4 194.2h1.7v1.7h-1.7zM540.8 232.8h1.7v1.7h-1.7zM539.6 230.4h1.7v1.7h-1.7zM566.7 224.0h1.7v1.7h-1.7zM514.9 218.9h1.7v1.7h-1.7zM535.7 241.3h1.7v1.7h-1.7zM520.9 198.1h1.7v1.7h-1.7zM522.8 199.8h1.7v1.7h-1.7zM525.3 224.6h1.7v1.7h-1.7zM519.0 203.1h1.7v1.7h-1.7zM556.3 226.3h1.7v1.7h-1.7zM489.0 186.6h1.7v1.7h-1.7zM553.4 213.1h1.7v1.7h-1.7zM517.2 235.7h1.7v1.7h-1.7zM518.5 208.7h1.7v1.7h-1.7zM549.8 193.9h1.7v1.7h-1.7zM548.4 215.0h1.7v1.7h-1.7zM539.4 236.4h1.7v1.7h-1.7zM530.9 232.1h1.7v1.7h-1.7zM544.1 226.0h1.7v1.7h-1.7zM541.3 232.0h1.7v1.7h-1.7zM511.1 189.4h1.7v1.7h-1.7zM543.3 205.2h1.7v1.7h-1.7zM519.8 235.5h1.7v1.7h-1.7zM591.3 202.2h1.7v1.7h-1.7zM531.8 238.1h1.7v1.7h-1.7zM545.3 229.8h1.7v1.7h-1.7zM537.0 236.4h1.7v1.7h-1.7zM533.2 238.8h1.7v1.7h-1.7zM523.5 227.5h1.7v1.7h-1.7zM535.8 240.7h1.7v1.7h-1.7zM537.6 238.1h1.7v1.7h-1.7zM539.3 240.4h1.7v1.7h-1.7zM510.4 197.7h1.7v1.7h-1.7zM520.1 199.7h1.7v1.7h-1.7zM527.2 224.8h1.7v1.7h-1.7zM518.1 210.5h1.7v1.7h-1.7zM562.4 214.8h1.7v1.7h-1.7zM515.6 188.3h1.7v1.7h-1.7zM541.1 218.2h1.7v1.7h-1.7zM536.0 237.8h1.7v1.7h-1.7zM540.6 227.7h1.7v1.7h-1.7zM544.9 200.0h1.7v1.7h-1.7zM541.0 227.0h1.7v1.7h-1.7zM553.0 204.5h1.7v1.7h-1.7zM521.3 211.0h1.7v1.7h-1.7zM529.1 238.9h1.7v1.7h-1.7zM529.6 239.4h1.7v1.7h-1.7zM552.2 216.1h1.7v1.7h-1.7zM533.8 241.4h1.7v1.7h-1.7zM538.7 229.5h1.7v1.7h-1.7zM544.2 224.9h1.7v1.7h-1.7zM536.6 239.4h1.7v1.7h-1.7zM551.5 223.4h1.7v1.7h-1.7zM534.3 242.2h1.7v1.7h-1.7zM530.6 240.0h1.7v1.7h-1.7zM536.0 238.9h1.7v1.7h-1.7zM538.6 239.4h1.7v1.7h-1.7zM531.2 241.1h1.7v1.7h-1.7zM537.6 236.0h1.7v1.7h-1.7zM519.1 210.3h1.7v1.7h-1.7zM534.3 242.1h1.7v1.7h-1.7zM505.5 212.0h1.7v1.7h-1.7zM509.6 213.6h1.7v1.7h-1.7zM520.2 201.4h1.7v1.7h-1.7zM535.6 239.1h1.7v1.7h-1.7zM558.0 204.2h1.7v1.7h-1.7zM543.6 220.1h1.7v1.7h-1.7zM537.6 234.3h1.7v1.7h-1.7zM519.0 229.8h1.7v1.7h-1.7zM552.0 219.7h1.7v1.7h-1.7zM530.7 232.4h1.7v1.7h-1.7zM554.5 189.4h1.7v1.7h-1.7zM529.4 236.3h1.7v1.7h-1.7zM544.4 217.9h1.7v1.7h-1.7zM513.9 202.8h1.7v1.7h-1.7zM553.6 200.7h1.7v1.7h-1.7zM526.0 225.4h1.7v1.7h-1.7zM530.1 237.4h1.7v1.7h-1.7zM520.5 216.3h1.7v1.7h-1.7zM538.8 236.7h1.7v1.7h-1.7zM510.2 189.4h1.7v1.7h-1.7zM522.6 237.0h1.7v1.7h-1.7zM541.2 231.8h1.7v1.7h-1.7zM545.6 237.8h1.7v1.7h-1.7zM519.7 234.4h1.7v1.7h-1.7zM549.1 219.0h1.7v1.7h-1.7zM552.1 192.2h1.7v1.7h-1.7zM515.4 217.5h1.7v1.7h-1.7zM542.4 237.0h1.7v1.7h-1.7zM528.1 234.9h1.7v1.7h-1.7zM561.5 222.0h1.7v1.7h-1.7zM524.9 217.4h1.7v1.7h-1.7zM537.3 239.9h1.7v1.7h-1.7zM547.5 228.6h1.7v1.7h-1.7zM513.5 232.3h1.7v1.7h-1.7zM548.4 215.1h1.7v1.7h-1.7zM548.9 209.4h1.7v1.7h-1.7zM547.9 225.7h1.7v1.7h-1.7zM541.6 213.9h1.7v1.7h-1.7zM539.9 235.3h1.7v1.7h-1.7zM554.7 230.3h1.7v1.7h-1.7zM528.6 239.6h1.7v1.7h-1.7zM549.6 199.0h1.7v1.7h-1.7zM511.8 230.1h1.7v1.7h-1.7zM541.1 236.6h1.7v1.7h-1.7zM518.2 209.6h1.7v1.7h-1.7zM531.0 238.9h1.7v1.7h-1.7zM522.9 228.4h1.7v1.7h-1.7zM550.9 199.7h1.7v1.7h-1.7zM524.8 233.1h1.7v1.7h-1.7zM511.3 197.0h1.7v1.7h-1.7zM533.2 240.1h1.7v1.7h-1.7zM537.0 239.4h1.7v1.7h-1.7zM561.5 206.7h1.7v1.7h-1.7zM516.4 220.7h1.7v1.7h-1.7zM527.7 230.1h1.7v1.7h-1.7zM547.5 230.9h1.7v1.7h-1.7zM520.9 225.6h1.7v1.7h-1.7zM550.8 223.6h1.7v1.7h-1.7zM535.9 239.2h1.7v1.7h-1.7zM549.8 206.5h1.7v1.7h-1.7zM544.4 227.9h1.7v1.7h-1.7zM537.9 239.4h1.7v1.7h-1.7zM539.3 232.4h1.7v1.7h-1.7zM531.2 241.1h1.7v1.7h-1.7zM522.4 234.2h1.7v1.7h-1.7zM547.6 229.9h1.7v1.7h-1.7zM530.1 231.4h1.7v1.7h-1.7zM557.2 185.3h1.7v1.7h-1.7zM540.4 225.1h1.7v1.7h-1.7zM538.4 239.1h1.7v1.7h-1.7zM550.7 194.9h1.7v1.7h-1.7zM524.2 233.0h1.7v1.7h-1.7zM544.6 238.0h1.7v1.7h-1.7zM523.8 204.3h1.7v1.7h-1.7zM547.8 234.7h1.7v1.7h-1.7zM538.9 234.3h1.7v1.7h-1.7zM533.0 238.0h1.7v1.7h-1.7zM528.9 230.2h1.7v1.7h-1.7zM527.2 239.2h1.7v1.7h-1.7zM493.2 192.9h1.7v1.7h-1.7zM533.0 241.0h1.7v1.7h-1.7zM525.5 228.2h1.7v1.7h-1.7zM548.2 229.7h1.7v1.7h-1.7zM533.2 241.1h1.7v1.7h-1.7zM547.1 227.0h1.7v1.7h-1.7zM531.5 238.2h1.7v1.7h-1.7zM541.7 232.2h1.7v1.7h-1.7zM506.6 206.5h1.7v1.7h-1.7zM552.3 230.4h1.7v1.7h-1.7zM532.6 241.2h1.7v1.7h-1.7zM537.7 231.2h1.7v1.7h-1.7zM521.3 222.6h1.7v1.7h-1.7zM542.6 230.2h1.7v1.7h-1.7zM570.9 205.3h1.7v1.7h-1.7zM527.8 233.8h1.7v1.7h-1.7zM547.5 195.1h1.7v1.7h-1.7zM523.9 229.9h1.7v1.7h-1.7zM553.3 188.6h1.7v1.7h-1.7zM554.9 207.2h1.7v1.7h-1.7zM521.7 222.3h1.7v1.7h-1.7zM522.5 213.0h1.7v1.7h-1.7zM526.0 224.4h1.7v1.7h-1.7zM525.9 212.1h1.7v1.7h-1.7zM528.4 230.4h1.7v1.7h-1.7zM526.4 232.4h1.7v1.7h-1.7zM533.0 238.9h1.7v1.7h-1.7zM538.3 239.8h1.7v1.7h-1.7zM512.1 203.4h1.7v1.7h-1.7zM550.0 223.4h1.7v1.7h-1.7zM524.0 228.6h1.7v1.7h-1.7zM518.0 197.6h1.7v1.7h-1.7zM543.5 221.1h1.7v1.7h-1.7zM515.6 190.8h1.7v1.7h-1.7zM537.0 239.8h1.7v1.7h-1.7zM537.1 238.4h1.7v1.7h-1.7zM513.9 195.0h1.7v1.7h-1.7zM538.5 231.3h1.7v1.7h-1.7zM527.8 235.1h1.7v1.7h-1.7zM543.2 221.3h1.7v1.7h-1.7zM547.4 204.9h1.7v1.7h-1.7zM539.9 229.4h1.7v1.7h-1.7zM532.3 241.0h1.7v1.7h-1.7zM544.1 238.5h1.7v1.7h-1.7zM529.7 237.8h1.7v1.7h-1.7zM542.7 238.9h1.7v1.7h-1.7zM538.5 239.1h1.7v1.7h-1.7zM542.4 233.1h1.7v1.7h-1.7zM529.5 229.7h1.7v1.7h-1.7zM550.4 214.8h1.7v1.7h-1.7zM539.0 236.6h1.7v1.7h-1.7zM546.5 194.1h1.7v1.7h-1.7zM520.3 231.7h1.7v1.7h-1.7zM541.1 224.7h1.7v1.7h-1.7zM525.6 210.3h1.7v1.7h-1.7zM530.7 238.4h1.7v1.7h-1.7zM550.7 208.8h1.7v1.7h-1.7zM533.0 239.5h1.7v1.7h-1.7zM553.6 194.7h1.7v1.7h-1.7zM540.1 221.0h1.7v1.7h-1.7zM512.5 221.3h1.7v1.7h-1.7zM549.1 212.3h1.7v1.7h-1.7zM497.8 202.0h1.7v1.7h-1.7zM530.7 234.9h1.7v1.7h-1.7zM569.5 201.2h1.7v1.7h-1.7zM537.7 237.8h1.7v1.7h-1.7zM505.7 187.1h1.7v1.7h-1.7zM516.1 198.7h1.7v1.7h-1.7zM510.3 198.4h1.7v1.7h-1.7zM551.6 210.2h1.7v1.7h-1.7zM523.7 212.7h1.7v1.7h-1.7zM525.8 212.6h1.7v1.7h-1.7zM535.9 239.0h1.7v1.7h-1.7zM549.3 227.1h1.7v1.7h-1.7zM550.9 233.7h1.7v1.7h-1.7zM529.7 236.8h1.7v1.7h-1.7zM513.1 233.8h1.7v1.7h-1.7zM538.8 240.2h1.7v1.7h-1.7zM546.9 190.2h1.7v1.7h-1.7zM523.3 231.6h1.7v1.7h-1.7zM523.2 223.3h1.7v1.7h-1.7zM549.7 234.5h1.7v1.7h-1.7zM539.6 233.1h1.7v1.7h-1.7zM547.2 226.7h1.7v1.7h-1.7zM540.3 233.6h1.7v1.7h-1.7zM531.1 240.5h1.7v1.7h-1.7zM547.4 222.9h1.7v1.7h-1.7zM544.6 238.3h1.7v1.7h-1.7zM547.5 193.7h1.7v1.7h-1.7zM519.6 225.5h1.7v1.7h-1.7zM531.9 237.5h1.7v1.7h-1.7zM547.5 213.4h1.7v1.7h-1.7zM527.2 239.0h1.7v1.7h-1.7zM525.4 211.9h1.7v1.7h-1.7zM520.0 215.8h1.7v1.7h-1.7zM520.1 206.4h1.7v1.7h-1.7zM524.5 228.3h1.7v1.7h-1.7zM551.4 211.1h1.7v1.7h-1.7zM529.6 235.7h1.7v1.7h-1.7zM539.4 238.3h1.7v1.7h-1.7zM542.3 218.4h1.7v1.7h-1.7zM526.0 208.9h1.7v1.7h-1.7zM550.9 234.3h1.7v1.7h-1.7zM499.4 203.9h1.7v1.7h-1.7zM508.6 220.1h1.7v1.7h-1.7zM535.9 239.4h1.7v1.7h-1.7zM558.9 214.0h1.7v1.7h-1.7zM554.9 192.7h1.7v1.7h-1.7zM520.8 190.2h1.7v1.7h-1.7zM537.1 240.9h1.7v1.7h-1.7zM529.4 231.6h1.7v1.7h-1.7zM551.1 205.5h1.7v1.7h-1.7zM528.3 220.0h1.7v1.7h-1.7zM568.0 201.5h1.7v1.7h-1.7zM513.1 186.7h1.7v1.7h-1.7zM566.4 223.6h1.7v1.7h-1.7zM486.8 202.3h1.7v1.7h-1.7zM520.9 235.3h1.7v1.7h-1.7zM533.5 240.6h1.7v1.7h-1.7zM548.8 235.5h1.7v1.7h-1.7zM525.6 215.2h1.7v1.7h-1.7zM524.4 207.6h1.7v1.7h-1.7zM522.9 236.9h1.7v1.7h-1.7zM502.2 194.5h1.7v1.7h-1.7zM525.8 215.8h1.7v1.7h-1.7zM553.2 209.2h1.7v1.7h-1.7zM554.9 225.6h1.7v1.7h-1.7zM539.4 239.2h1.7v1.7h-1.7zM520.1 200.6h1.7v1.7h-1.7zM529.3 227.0h1.7v1.7h-1.7zM539.5 237.7h1.7v1.7h-1.7zM540.4 238.6h1.7v1.7h-1.7zM548.3 222.6h1.7v1.7h-1.7zM524.9 236.3h1.7v1.7h-1.7zM536.5 239.1h1.7v1.7h-1.7zM521.9 235.5h1.7v1.7h-1.7zM505.3 215.7h1.7v1.7h-1.7zM521.2 229.0h1.7v1.7h-1.7zM530.6 240.3h1.7v1.7h-1.7zM546.1 235.2h1.7v1.7h-1.7zM529.0 224.7h1.7v1.7h-1.7zM560.4 201.1h1.7v1.7h-1.7zM542.5 237.3h1.7v1.7h-1.7zM551.7 218.7h1.7v1.7h-1.7zM540.2 227.6h1.7v1.7h-1.7zM536.3 236.6h1.7v1.7h-1.7zM526.0 217.2h1.7v1.7h-1.7zM531.2 240.3h1.7v1.7h-1.7zM532.2 238.4h1.7v1.7h-1.7zM538.7 236.4h1.7v1.7h-1.7zM543.7 220.5h1.7v1.7h-1.7zM562.9 197.5h1.7v1.7h-1.7zM521.2 217.9h1.7v1.7h-1.7zM555.4 207.8h1.7v1.7h-1.7zM538.7 235.3h1.7v1.7h-1.7zM530.6 240.2h1.7v1.7h-1.7zM550.8 210.8h1.7v1.7h-1.7zM548.6 232.2h1.7v1.7h-1.7zM532.9 237.5h1.7v1.7h-1.7zM539.5 235.5h1.7v1.7h-1.7zM520.9 218.5h1.7v1.7h-1.7zM560.3 211.6h1.7v1.7h-1.7zM563.1 211.9h1.7v1.7h-1.7zM526.5 227.6h1.7v1.7h-1.7zM541.9 214.5h1.7v1.7h-1.7zM520.7 197.9h1.7v1.7h-1.7zM532.6 240.5h1.7v1.7h-1.7zM561.7 203.5h1.7v1.7h-1.7zM519.4 222.8h1.7v1.7h-1.7zM542.1 219.1h1.7v1.7h-1.7zM529.4 235.9h1.7v1.7h-1.7zM539.3 239.6h1.7v1.7h-1.7zM537.8 239.9h1.7v1.7h-1.7zM534.9 241.3h1.7v1.7h-1.7zM535.7 241.5h1.7v1.7h-1.7zM553.3 191.5h1.7v1.7h-1.7zM528.5 240.0h1.7v1.7h-1.7zM547.6 219.0h1.7v1.7h-1.7zM498.6 186.4h1.7v1.7h-1.7zM551.2 229.2h1.7v1.7h-1.7zM514.4 185.6h1.7v1.7h-1.7zM533.6 241.5h1.7v1.7h-1.7zM531.0 237.3h1.7v1.7h-1.7zM527.0 235.7h1.7v1.7h-1.7zM535.9 240.7h1.7v1.7h-1.7zM517.3 233.5h1.7v1.7h-1.7zM504.2 210.9h1.7v1.7h-1.7zM514.8 211.4h1.7v1.7h-1.7zM547.0 215.9h1.7v1.7h-1.7zM551.1 232.2h1.7v1.7h-1.7zM537.4 238.4h1.7v1.7h-1.7zM563.8 188.9h1.7v1.7h-1.7zM524.7 229.8h1.7v1.7h-1.7zM528.3 230.9h1.7v1.7h-1.7zM544.8 227.5h1.7v1.7h-1.7zM545.9 213.3h1.7v1.7h-1.7zM515.2 214.7h1.7v1.7h-1.7zM548.1 188.3h1.7v1.7h-1.7zM534.2 242.1h1.7v1.7h-1.7zM523.0 196.6h1.7v1.7h-1.7zM555.8 218.6h1.7v1.7h-1.7zM551.5 218.5h1.7v1.7h-1.7zM547.7 230.9h1.7v1.7h-1.7zM540.9 239.5h1.7v1.7h-1.7zM528.4 236.7h1.7v1.7h-1.7zM548.9 192.9h1.7v1.7h-1.7zM531.1 230.1h1.7v1.7h-1.7zM534.4 242.2h1.7v1.7h-1.7zM549.5 199.0h1.7v1.7h-1.7zM528.6 240.0h1.7v1.7h-1.7zM525.3 224.0h1.7v1.7h-1.7zM546.4 211.5h1.7v1.7h-1.7zM511.1 186.6h1.7v1.7h-1.7zM531.7 239.2h1.7v1.7h-1.7zM561.9 207.9h1.7v1.7h-1.7zM520.0 199.8h1.7v1.7h-1.7zM513.6 233.7h1.7v1.7h-1.7zM545.5 207.4h1.7v1.7h-1.7zM534.4 242.2h1.7v1.7h-1.7zM511.6 212.3h1.7v1.7h-1.7zM545.7 221.7h1.7v1.7h-1.7zM541.2 221.4h1.7v1.7h-1.7zM544.8 198.7h1.7v1.7h-1.7zM535.4 240.0h1.7v1.7h-1.7zM523.7 234.9h1.7v1.7h-1.7zM555.0 207.0h1.7v1.7h-1.7zM528.7 239.7h1.7v1.7h-1.7zM540.4 222.7h1.7v1.7h-1.7zM550.8 234.5h1.7v1.7h-1.7zM524.0 221.2h1.7v1.7h-1.7zM521.1 191.0h1.7v1.7h-1.7zM526.5 229.6h1.7v1.7h-1.7zM508.9 213.2h1.7v1.7h-1.7zM545.9 207.4h1.7v1.7h-1.7zM533.6 241.2h1.7v1.7h-1.7zM531.8 241.0h1.7v1.7h-1.7zM540.1 223.6h1.7v1.7h-1.7zM529.9 230.8h1.7v1.7h-1.7zM552.1 231.5h1.7v1.7h-1.7zM525.1 233.2h1.7v1.7h-1.7zM545.2 230.4h1.7v1.7h-1.7zM524.8 205.7h1.7v1.7h-1.7zM535.9 240.6h1.7v1.7h-1.7zM537.3 237.2h1.7v1.7h-1.7zM520.6 186.5h1.7v1.7h-1.7zM502.3 226.3h1.7v1.7h-1.7zM535.7 240.3h1.7v1.7h-1.7zM532.8 240.0h1.7v1.7h-1.7zM533.1 238.2h1.7v1.7h-1.7zM536.7 236.7h1.7v1.7h-1.7zM531.5 241.0h1.7v1.7h-1.7zM534.1 241.5h1.7v1.7h-1.7zM523.2 226.9h1.7v1.7h-1.7zM556.7 190.7h1.7v1.7h-1.7zM514.1 204.1h1.7v1.7h-1.7zM553.4 195.1h1.7v1.7h-1.7zM550.1 197.5h1.7v1.7h-1.7zM524.0 208.4h1.7v1.7h-1.7zM558.8 208.0h1.7v1.7h-1.7zM557.5 225.6h1.7v1.7h-1.7zM520.0 218.2h1.7v1.7h-1.7zM547.0 221.5h1.7v1.7h-1.7zM510.2 220.5h1.7v1.7h-1.7zM515.0 210.7h1.7v1.7h-1.7zM553.7 234.8h1.7v1.7h-1.7zM529.9 239.4h1.7v1.7h-1.7zM505.2 206.7h1.7v1.7h-1.7zM547.4 192.9h1.7v1.7h-1.7zM554.3 213.3h1.7v1.7h-1.7zM504.0 196.0h1.7v1.7h-1.7zM525.8 223.0h1.7v1.7h-1.7zM569.2 213.4h1.7v1.7h-1.7zM516.0 214.6h1.7v1.7h-1.7zM546.4 228.6h1.7v1.7h-1.7zM548.6 191.9h1.7v1.7h-1.7zM535.1 240.2h1.7v1.7h-1.7zM533.8 241.2h1.7v1.7h-1.7zM564.6 194.8h1.7v1.7h-1.7zM529.4 222.8h1.7v1.7h-1.7zM545.8 227.2h1.7v1.7h-1.7zM543.5 210.2h1.7v1.7h-1.7zM501.1 222.3h1.7v1.7h-1.7zM514.5 199.0h1.7v1.7h-1.7zM542.3 229.8h1.7v1.7h-1.7zM524.9 238.0h1.7v1.7h-1.7zM519.8 187.7h1.7v1.7h-1.7zM532.2 235.4h1.7v1.7h-1.7zM538.0 234.5h1.7v1.7h-1.7zM508.6 227.5h1.7v1.7h-1.7zM537.1 238.1h1.7v1.7h-1.7zM548.4 230.9h1.7v1.7h-1.7zM537.4 234.3h1.7v1.7h-1.7zM536.7 240.9h1.7v1.7h-1.7zM518.0 228.3h1.7v1.7h-1.7zM534.7 241.9h1.7v1.7h-1.7zM537.2 240.2h1.7v1.7h-1.7zM515.8 221.0h1.7v1.7h-1.7zM522.0 200.2h1.7v1.7h-1.7zM514.1 227.2h1.7v1.7h-1.7zM537.1 233.1h1.7v1.7h-1.7zM525.9 227.2h1.7v1.7h-1.7zM560.1 226.0h1.7v1.7h-1.7zM519.1 190.1h1.7v1.7h-1.7zM546.2 198.3h1.7v1.7h-1.7zM530.6 231.4h1.7v1.7h-1.7zM528.4 236.7h1.7v1.7h-1.7zM533.0 240.1h1.7v1.7h-1.7zM507.2 196.3h1.7v1.7h-1.7zM542.8 234.7h1.7v1.7h-1.7zM535.1 241.0h1.7v1.7h-1.7zM549.6 209.8h1.7v1.7h-1.7zM523.1 232.7h1.7v1.7h-1.7zM522.3 236.8h1.7v1.7h-1.7zM537.6 240.3h1.7v1.7h-1.7zM541.6 213.3h1.7v1.7h-1.7zM512.5 209.9h1.7v1.7h-1.7zM502.7 191.5h1.7v1.7h-1.7zM536.3 236.4h1.7v1.7h-1.7zM533.6 241.7h1.7v1.7h-1.7zM571.8 215.7h1.7v1.7h-1.7zM571.5 208.8h1.7v1.7h-1.7zM546.6 193.2h1.7v1.7h-1.7zM546.2 194.4h1.7v1.7h-1.7zM550.4 217.7h1.7v1.7h-1.7zM528.3 220.2h1.7v1.7h-1.7zM518.9 214.1h1.7v1.7h-1.7zM517.0 210.7h1.7v1.7h-1.7zM545.3 220.0h1.7v1.7h-1.7zM525.9 224.4h1.7v1.7h-1.7zM537.9 238.8h1.7v1.7h-1.7zM512.4 200.6h1.7v1.7h-1.7zM534.5 242.1h1.7v1.7h-1.7zM528.7 219.4h1.7v1.7h-1.7zM552.7 218.1h1.7v1.7h-1.7zM554.1 218.8h1.7v1.7h-1.7zM580.3 200.6h1.7v1.7h-1.7zM538.0 234.9h1.7v1.7h-1.7zM528.5 229.9h1.7v1.7h-1.7zM560.5 200.6h1.7v1.7h-1.7zM557.1 208.8h1.7v1.7h-1.7zM537.2 235.4h1.7v1.7h-1.7zM544.3 201.0h1.7v1.7h-1.7zM534.5 242.1h1.7v1.7h-1.7zM538.0 241.0h1.7v1.7h-1.7zM539.6 232.8h1.7v1.7h-1.7zM536.1 238.1h1.7v1.7h-1.7zM530.9 235.0h1.7v1.7h-1.7zM536.3 239.2h1.7v1.7h-1.7zM510.5 226.1h1.7v1.7h-1.7zM547.1 214.1h1.7v1.7h-1.7zM543.2 206.1h1.7v1.7h-1.7zM549.0 234.9h1.7v1.7h-1.7zM548.9 230.4h1.7v1.7h-1.7zM536.4 241.0h1.7v1.7h-1.7zM543.1 224.2h1.7v1.7h-1.7zM535.1 241.0h1.7v1.7h-1.7zM537.1 237.9h1.7v1.7h-1.7zM509.7 218.9h1.7v1.7h-1.7zM598.4 196.9h1.7v1.7h-1.7zM521.9 230.4h1.7v1.7h-1.7zM551.1 213.0h1.7v1.7h-1.7zM543.0 235.7h1.7v1.7h-1.7zM533.4 240.4h1.7v1.7h-1.7zM535.1 241.7h1.7v1.7h-1.7zM518.7 202.8h1.7v1.7h-1.7zM515.7 210.0h1.7v1.7h-1.7zM517.5 231.7h1.7v1.7h-1.7zM531.4 236.6h1.7v1.7h-1.7zM540.1 238.1h1.7v1.7h-1.7zM513.4 229.7h1.7v1.7h-1.7zM529.0 239.0h1.7v1.7h-1.7zM519.9 228.5h1.7v1.7h-1.7zM510.9 195.0h1.7v1.7h-1.7zM532.6 240.3h1.7v1.7h-1.7zM503.9 187.6h1.7v1.7h-1.7zM531.7 239.0h1.7v1.7h-1.7zM514.8 188.1h1.7v1.7h-1.7zM539.9 239.7h1.7v1.7h-1.7zM537.0 237.8h1.7v1.7h-1.7zM546.5 229.7h1.7v1.7h-1.7zM550.4 224.7h1.7v1.7h-1.7zM532.9 237.9h1.7v1.7h-1.7zM549.2 216.9h1.7v1.7h-1.7zM539.1 233.1h1.7v1.7h-1.7zM547.9 199.2h1.7v1.7h-1.7zM533.9 241.3h1.7v1.7h-1.7zM531.9 235.2h1.7v1.7h-1.7zM536.7 236.0h1.7v1.7h-1.7zM526.7 237.5h1.7v1.7h-1.7zM516.5 194.0h1.7v1.7h-1.7zM521.4 195.3h1.7v1.7h-1.7zM528.1 237.3h1.7v1.7h-1.7zM549.8 223.4h1.7v1.7h-1.7zM552.8 198.5h1.7v1.7h-1.7zM531.7 239.6h1.7v1.7h-1.7zM525.4 226.7h1.7v1.7h-1.7zM481.3 208.8h1.7v1.7h-1.7zM548.2 200.1h1.7v1.7h-1.7zM518.9 232.7h1.7v1.7h-1.7zM554.9 211.9h1.7v1.7h-1.7zM532.5 238.5h1.7v1.7h-1.7zM542.2 232.9h1.7v1.7h-1.7zM543.6 215.1h1.7v1.7h-1.7zM526.6 235.1h1.7v1.7h-1.7zM548.3 220.1h1.7v1.7h-1.7zM546.9 216.0h1.7v1.7h-1.7zM548.2 234.5h1.7v1.7h-1.7zM518.8 185.3h1.7v1.7h-1.7zM512.1 207.4h1.7v1.7h-1.7zM528.7 237.2h1.7v1.7h-1.7zM564.4 206.3h1.7v1.7h-1.7zM537.8 236.8h1.7v1.7h-1.7zM549.8 211.7h1.7v1.7h-1.7zM537.5 235.8h1.7v1.7h-1.7zM541.2 224.7h1.7v1.7h-1.7zM545.5 237.1h1.7v1.7h-1.7zM555.9 206.4h1.7v1.7h-1.7zM565.5 201.0h1.7v1.7h-1.7zM526.4 214.3h1.7v1.7h-1.7zM537.8 236.4h1.7v1.7h-1.7zM555.5 205.5h1.7v1.7h-1.7zM540.5 233.9h1.7v1.7h-1.7zM518.7 193.0h1.7v1.7h-1.7zM528.7 229.5h1.7v1.7h-1.7zM539.9 238.6h1.7v1.7h-1.7zM538.7 239.4h1.7v1.7h-1.7zM503.2 223.2h1.7v1.7h-1.7zM568.9 204.5h1.7v1.7h-1.7zM521.4 207.2h1.7v1.7h-1.7zM561.2 209.7h1.7v1.7h-1.7zM505.3 186.8h1.7v1.7h-1.7zM532.7 238.3h1.7v1.7h-1.7zM556.4 209.4h1.7v1.7h-1.7zM528.7 239.3h1.7v1.7h-1.7zM515.0 220.0h1.7v1.7h-1.7zM545.0 203.3h1.7v1.7h-1.7zM521.6 224.3h1.7v1.7h-1.7zM543.3 235.5h1.7v1.7h-1.7zM536.5 236.3h1.7v1.7h-1.7zM549.8 220.1h1.7v1.7h-1.7zM499.5 198.8h1.7v1.7h-1.7zM536.0 240.8h1.7v1.7h-1.7zM573.8 191.6h1.7v1.7h-1.7zM519.1 226.2h1.7v1.7h-1.7zM558.2 198.5h1.7v1.7h-1.7zM527.0 239.4h1.7v1.7h-1.7zM550.7 234.6h1.7v1.7h-1.7zM519.0 197.7h1.7v1.7h-1.7zM549.6 232.4h1.7v1.7h-1.7zM559.5 197.0h1.7v1.7h-1.7zM523.1 221.6h1.7v1.7h-1.7zM596.2 204.6h1.7v1.7h-1.7zM540.6 230.9h1.7v1.7h-1.7zM545.5 195.5h1.7v1.7h-1.7zM505.9 224.2h1.7v1.7h-1.7zM517.7 207.5h1.7v1.7h-1.7zM514.3 209.3h1.7v1.7h-1.7zM538.1 240.7h1.7v1.7h-1.7zM548.6 191.0h1.7v1.7h-1.7zM528.1 238.4h1.7v1.7h-1.7zM525.2 237.9h1.7v1.7h-1.7zM537.3 239.2h1.7v1.7h-1.7zM532.1 237.8h1.7v1.7h-1.7zM526.3 208.7h1.7v1.7h-1.7zM531.8 239.6h1.7v1.7h-1.7zM536.8 240.6h1.7v1.7h-1.7zM543.1 230.8h1.7v1.7h-1.7zM532.8 240.6h1.7v1.7h-1.7zM539.9 229.8h1.7v1.7h-1.7zM513.1 199.9h1.7v1.7h-1.7zM540.1 232.1h1.7v1.7h-1.7zM517.7 199.5h1.7v1.7h-1.7zM526.8 229.3h1.7v1.7h-1.7zM522.0 210.0h1.7v1.7h-1.7zM528.7 238.8h1.7v1.7h-1.7zM541.0 233.6h1.7v1.7h-1.7zM528.3 227.9h1.7v1.7h-1.7zM535.0 241.1h1.7v1.7h-1.7zM534.1 241.8h1.7v1.7h-1.7zM531.7 240.1h1.7v1.7h-1.7zM532.5 240.4h1.7v1.7h-1.7zM529.0 239.5h1.7v1.7h-1.7zM563.8 212.9h1.7v1.7h-1.7zM522.8 210.4h1.7v1.7h-1.7zM527.8 239.9h1.7v1.7h-1.7zM527.6 239.1h1.7v1.7h-1.7zM563.8 212.8h1.7v1.7h-1.7zM540.7 235.0h1.7v1.7h-1.7zM538.8 230.6h1.7v1.7h-1.7zM537.9 238.3h1.7v1.7h-1.7zM519.1 224.0h1.7v1.7h-1.7zM537.7 237.5h1.7v1.7h-1.7zM517.7 224.3h1.7v1.7h-1.7zM504.1 210.5h1.7v1.7h-1.7zM530.4 229.6h1.7v1.7h-1.7zM527.7 234.4h1.7v1.7h-1.7zM553.6 186.5h1.7v1.7h-1.7zM559.7 225.2h1.7v1.7h-1.7zM523.5 232.9h1.7v1.7h-1.7zM527.4 229.8h1.7v1.7h-1.7zM547.9 234.1h1.7v1.7h-1.7zM529.3 236.2h1.7v1.7h-1.7zM546.1 227.1h1.7v1.7h-1.7zM514.1 223.0h1.7v1.7h-1.7zM558.7 222.5h1.7v1.7h-1.7zM538.2 233.5h1.7v1.7h-1.7zM549.2 235.2h1.7v1.7h-1.7zM533.1 240.3h1.7v1.7h-1.7zM519.4 207.3h1.7v1.7h-1.7zM544.7 235.2h1.7v1.7h-1.7zM536.4 240.9h1.7v1.7h-1.7zM537.5 234.6h1.7v1.7h-1.7zM522.0 226.9h1.7v1.7h-1.7zM540.3 228.0h1.7v1.7h-1.7zM532.6 240.2h1.7v1.7h-1.7zM518.1 231.9h1.7v1.7h-1.7zM541.4 227.1h1.7v1.7h-1.7zM491.1 209.2h1.7v1.7h-1.7zM542.5 209.5h1.7v1.7h-1.7zM535.0 241.0h1.7v1.7h-1.7zM532.5 239.5h1.7v1.7h-1.7zM543.9 219.4h1.7v1.7h-1.7zM544.2 212.9h1.7v1.7h-1.7zM543.4 229.8h1.7v1.7h-1.7zM516.9 205.5h1.7v1.7h-1.7zM527.0 232.7h1.7v1.7h-1.7zM527.0 212.9h1.7v1.7h-1.7zM535.7 241.7h1.7v1.7h-1.7zM529.7 238.5h1.7v1.7h-1.7zM540.8 235.0h1.7v1.7h-1.7zM567.3 206.4h1.7v1.7h-1.7zM519.8 227.1h1.7v1.7h-1.7zM532.6 239.9h1.7v1.7h-1.7zM527.0 237.6h1.7v1.7h-1.7zM543.6 213.8h1.7v1.7h-1.7zM538.7 227.4h1.7v1.7h-1.7zM542.6 233.3h1.7v1.7h-1.7zM541.7 238.3h1.7v1.7h-1.7zM544.8 206.5h1.7v1.7h-1.7zM543.0 233.3h1.7v1.7h-1.7zM534.0 241.2h1.7v1.7h-1.7zM531.6 240.0h1.7v1.7h-1.7zM545.0 234.5h1.7v1.7h-1.7zM533.5 240.4h1.7v1.7h-1.7zM547.4 210.9h1.7v1.7h-1.7zM521.1 202.6h1.7v1.7h-1.7zM532.3 240.7h1.7v1.7h-1.7zM551.0 192.0h1.7v1.7h-1.7zM521.8 201.7h1.7v1.7h-1.7zM541.8 235.9h1.7v1.7h-1.7zM513.5 185.6h1.7v1.7h-1.7zM521.8 222.4h1.7v1.7h-1.7zM549.4 218.8h1.7v1.7h-1.7zM548.6 208.6h1.7v1.7h-1.7zM540.8 236.8h1.7v1.7h-1.7zM563.1 214.6h1.7v1.7h-1.7zM546.9 228.4h1.7v1.7h-1.7zM546.9 221.8h1.7v1.7h-1.7zM535.5 241.1h1.7v1.7h-1.7zM511.8 231.5h1.7v1.7h-1.7zM518.1 199.0h1.7v1.7h-1.7zM534.8 241.3h1.7v1.7h-1.7zM514.7 205.2h1.7v1.7h-1.7zM537.3 238.9h1.7v1.7h-1.7zM529.3 239.8h1.7v1.7h-1.7zM512.8 217.9h1.7v1.7h-1.7zM518.1 193.8h1.7v1.7h-1.7zM539.5 240.1h1.7v1.7h-1.7zM555.6 212.5h1.7v1.7h-1.7zM538.5 237.8h1.7v1.7h-1.7zM539.9 222.0h1.7v1.7h-1.7zM533.6 241.9h1.7v1.7h-1.7zM552.6 226.3h1.7v1.7h-1.7zM531.9 238.5h1.7v1.7h-1.7zM547.9 234.3h1.7v1.7h-1.7zM527.4 235.7h1.7v1.7h-1.7zM538.9 233.0h1.7v1.7h-1.7zM537.9 233.9h1.7v1.7h-1.7zM551.2 226.7h1.7v1.7h-1.7zM523.8 227.7h1.7v1.7h-1.7zM539.4 231.5h1.7v1.7h-1.7zM509.5 191.1h1.7v1.7h-1.7zM529.8 240.2h1.7v1.7h-1.7zM508.2 216.1h1.7v1.7h-1.7zM548.2 218.7h1.7v1.7h-1.7zM553.1 234.5h1.7v1.7h-1.7zM536.1 241.5h1.7v1.7h-1.7zM541.8 223.7h1.7v1.7h-1.7zM533.8 241.7h1.7v1.7h-1.7zM527.8 233.3h1.7v1.7h-1.7zM543.9 229.8h1.7v1.7h-1.7zM517.1 219.5h1.7v1.7h-1.7zM531.9 239.4h1.7v1.7h-1.7zM528.7 221.4h1.7v1.7h-1.7zM522.8 202.0h1.7v1.7h-1.7zM534.6 242.0h1.7v1.7h-1.7zM547.1 234.4h1.7v1.7h-1.7zM533.6 240.7h1.7v1.7h-1.7zM506.8 186.8h1.7v1.7h-1.7zM538.5 229.7h1.7v1.7h-1.7zM545.5 233.1h1.7v1.7h-1.7zM522.1 223.1h1.7v1.7h-1.7zM559.5 222.5h1.7v1.7h-1.7zM546.0 214.8h1.7v1.7h-1.7zM537.4 233.1h1.7v1.7h-1.7zM528.2 229.9h1.7v1.7h-1.7zM528.2 226.0h1.7v1.7h-1.7zM540.3 226.8h1.7v1.7h-1.7zM543.6 235.7h1.7v1.7h-1.7zM528.7 234.7h1.7v1.7h-1.7zM518.4 231.1h1.7v1.7h-1.7zM520.8 228.6h1.7v1.7h-1.7zM569.9 211.5h1.7v1.7h-1.7zM524.8 218.2h1.7v1.7h-1.7zM519.8 214.6h1.7v1.7h-1.7zM561.6 216.4h1.7v1.7h-1.7zM544.9 237.3h1.7v1.7h-1.7zM562.2 220.4h1.7v1.7h-1.7zM534.0 242.1h1.7v1.7h-1.7zM535.6 239.3h1.7v1.7h-1.7zM510.5 217.0h1.7v1.7h-1.7zM508.1 191.0h1.7v1.7h-1.7zM529.5 234.1h1.7v1.7h-1.7zM548.8 229.0h1.7v1.7h-1.7zM547.0 192.8h1.7v1.7h-1.7zM520.0 193.1h1.7v1.7h-1.7zM518.9 212.8h1.7v1.7h-1.7zM558.9 226.8h1.7v1.7h-1.7zM530.7 235.8h1.7v1.7h-1.7zM528.9 227.2h1.7v1.7h-1.7zM551.9 227.2h1.7v1.7h-1.7zM519.2 221.5h1.7v1.7h-1.7zM524.2 235.7h1.7v1.7h-1.7zM561.6 194.0h1.7v1.7h-1.7zM532.4 239.1h1.7v1.7h-1.7zM536.4 236.6h1.7v1.7h-1.7zM528.5 219.6h1.7v1.7h-1.7zM533.5 240.0h1.7v1.7h-1.7zM523.6 228.1h1.7v1.7h-1.7zM528.4 221.9h1.7v1.7h-1.7zM522.8 231.8h1.7v1.7h-1.7zM547.5 205.0h1.7v1.7h-1.7zM550.7 193.2h1.7v1.7h-1.7zM539.5 239.3h1.7v1.7h-1.7zM521.5 233.9h1.7v1.7h-1.7zM526.1 220.7h1.7v1.7h-1.7zM553.9 221.0h1.7v1.7h-1.7zM561.3 228.8h1.7v1.7h-1.7zM539.2 234.9h1.7v1.7h-1.7zM546.3 194.8h1.7v1.7h-1.7zM529.9 230.7h1.7v1.7h-1.7zM554.6 187.9h1.7v1.7h-1.7zM538.6 233.6h1.7v1.7h-1.7zM506.4 219.5h1.7v1.7h-1.7zM528.9 228.8h1.7v1.7h-1.7zM529.5 227.5h1.7v1.7h-1.7zM536.4 240.1h1.7v1.7h-1.7zM563.6 213.6h1.7v1.7h-1.7zM567.0 196.9h1.7v1.7h-1.7zM542.2 238.1h1.7v1.7h-1.7zM531.9 236.2h1.7v1.7h-1.7zM543.3 236.5h1.7v1.7h-1.7zM530.4 240.1h1.7v1.7h-1.7zM547.7 205.1h1.7v1.7h-1.7zM541.9 231.5h1.7v1.7h-1.7zM526.2 231.3h1.7v1.7h-1.7zM549.0 222.8h1.7v1.7h-1.7zM517.9 210.7h1.7v1.7h-1.7zM522.2 230.6h1.7v1.7h-1.7zM558.3 211.7h1.7v1.7h-1.7zM527.4 230.8h1.7v1.7h-1.7zM518.9 192.9h1.7v1.7h-1.7zM497.9 226.2h1.7v1.7h-1.7zM517.9 231.2h1.7v1.7h-1.7zM538.6 237.7h1.7v1.7h-1.7zM555.0 222.8h1.7v1.7h-1.7zM531.2 239.2h1.7v1.7h-1.7zM537.0 237.9h1.7v1.7h-1.7zM524.5 205.0h1.7v1.7h-1.7zM505.5 221.4h1.7v1.7h-1.7zM548.2 221.2h1.7v1.7h-1.7zM533.6 241.3h1.7v1.7h-1.7zM549.2 224.1h1.7v1.7h-1.7zM536.6 239.3h1.7v1.7h-1.7zM541.0 237.9h1.7v1.7h-1.7zM533.8 240.8h1.7v1.7h-1.7zM534.4 242.1h1.7v1.7h-1.7zM524.6 212.3h1.7v1.7h-1.7zM527.0 224.0h1.7v1.7h-1.7zM505.1 208.5h1.7v1.7h-1.7zM530.1 238.7h1.7v1.7h-1.7zM522.0 198.2h1.7v1.7h-1.7zM520.7 196.0h1.7v1.7h-1.7zM524.7 226.1h1.7v1.7h-1.7zM535.9 241.1h1.7v1.7h-1.7zM524.2 237.7h1.7v1.7h-1.7zM533.8 241.0h1.7v1.7h-1.7zM529.0 228.6h1.7v1.7h-1.7zM519.8 227.3h1.7v1.7h-1.7zM524.9 229.7h1.7v1.7h-1.7zM506.5 227.2h1.7v1.7h-1.7zM551.5 196.6h1.7v1.7h-1.7zM568.6 186.1h1.7v1.7h-1.7zM535.5 241.6h1.7v1.7h-1.7zM534.1 242.1h1.7v1.7h-1.7zM523.8 208.9h1.7v1.7h-1.7zM549.2 232.8h1.7v1.7h-1.7zM531.3 238.9h1.7v1.7h-1.7zM566.0 225.5h1.7v1.7h-1.7zM526.4 232.7h1.7v1.7h-1.7zM538.8 230.2h1.7v1.7h-1.7zM539.4 231.4h1.7v1.7h-1.7zM549.2 214.4h1.7v1.7h-1.7zM533.6 241.2h1.7v1.7h-1.7zM531.8 239.5h1.7v1.7h-1.7zM538.1 239.9h1.7v1.7h-1.7zM515.2 192.5h1.7v1.7h-1.7zM536.3 236.7h1.7v1.7h-1.7zM526.6 224.3h1.7v1.7h-1.7zM532.3 238.8h1.7v1.7h-1.7zM517.9 231.8h1.7v1.7h-1.7zM589.8 215.2h1.7v1.7h-1.7zM533.6 241.2h1.7v1.7h-1.7zM540.2 238.7h1.7v1.7h-1.7zM553.3 230.8h1.7v1.7h-1.7zM535.3 241.9h1.7v1.7h-1.7zM529.7 232.7h1.7v1.7h-1.7zM528.1 234.4h1.7v1.7h-1.7zM545.4 212.7h1.7v1.7h-1.7zM540.9 233.1h1.7v1.7h-1.7zM505.7 216.5h1.7v1.7h-1.7zM555.3 189.9h1.7v1.7h-1.7zM508.3 214.1h1.7v1.7h-1.7zM519.6 228.7h1.7v1.7h-1.7zM524.3 215.3h1.7v1.7h-1.7zM540.2 239.1h1.7v1.7h-1.7zM542.4 218.1h1.7v1.7h-1.7zM520.1 224.8h1.7v1.7h-1.7zM516.2 219.4h1.7v1.7h-1.7zM531.2 239.9h1.7v1.7h-1.7zM556.3 231.5h1.7v1.7h-1.7zM532.7 240.2h1.7v1.7h-1.7zM548.8 194.4h1.7v1.7h-1.7zM598.7 200.1h1.7v1.7h-1.7zM555.8 229.1h1.7v1.7h-1.7zM534.8 241.5h1.7v1.7h-1.7zM522.4 206.6h1.7v1.7h-1.7zM538.4 235.3h1.7v1.7h-1.7zM521.6 227.6h1.7v1.7h-1.7zM529.1 237.8h1.7v1.7h-1.7zM545.8 225.1h1.7v1.7h-1.7zM528.8 238.8h1.7v1.7h-1.7zM528.4 227.8h1.7v1.7h-1.7zM527.2 238.3h1.7v1.7h-1.7zM544.6 208.7h1.7v1.7h-1.7zM546.8 219.1h1.7v1.7h-1.7zM530.2 232.7h1.7v1.7h-1.7zM527.0 230.7h1.7v1.7h-1.7zM551.8 235.1h1.7v1.7h-1.7zM527.2 217.7h1.7v1.7h-1.7zM546.6 206.4h1.7v1.7h-1.7zM542.0 218.8h1.7v1.7h-1.7zM515.3 229.2h1.7v1.7h-1.7zM529.8 230.6h1.7v1.7h-1.7zM544.0 233.7h1.7v1.7h-1.7zM511.9 205.6h1.7v1.7h-1.7zM526.5 237.7h1.7v1.7h-1.7zM543.0 239.1h1.7v1.7h-1.7zM526.4 235.3h1.7v1.7h-1.7zM538.6 239.4h1.7v1.7h-1.7zM543.9 218.0h1.7v1.7h-1.7zM532.7 241.5h1.7v1.7h-1.7zM526.5 224.9h1.7v1.7h-1.7zM509.0 203.2h1.7v1.7h-1.7zM551.1 220.2h1.7v1.7h-1.7zM529.4 232.6h1.7v1.7h-1.7zM520.1 224.0h1.7v1.7h-1.7zM547.3 220.8h1.7v1.7h-1.7zM550.6 215.3h1.7v1.7h-1.7zM529.1 222.7h1.7v1.7h-1.7zM533.0 241.2h1.7v1.7h-1.7zM549.6 227.8h1.7v1.7h-1.7zM526.1 236.8h1.7v1.7h-1.7zM532.4 240.5h1.7v1.7h-1.7zM526.5 230.6h1.7v1.7h-1.7zM558.3 232.9h1.7v1.7h-1.7zM549.7 197.8h1.7v1.7h-1.7zM537.6 239.6h1.7v1.7h-1.7zM542.3 236.8h1.7v1.7h-1.7zM533.1 240.9h1.7v1.7h-1.7zM532.5 239.6h1.7v1.7h-1.7zM577.6 208.9h1.7v1.7h-1.7zM545.9 231.8h1.7v1.7h-1.7zM531.3 238.5h1.7v1.7h-1.7zM552.6 198.7h1.7v1.7h-1.7zM537.6 239.1h1.7v1.7h-1.7zM499.4 199.8h1.7v1.7h-1.7zM547.2 199.1h1.7v1.7h-1.7zM519.0 230.7h1.7v1.7h-1.7zM533.8 241.8h1.7v1.7h-1.7zM523.7 234.8h1.7v1.7h-1.7zM512.4 186.0h1.7v1.7h-1.7zM545.9 213.0h1.7v1.7h-1.7zM546.9 231.4h1.7v1.7h-1.7zM549.0 188.2h1.7v1.7h-1.7zM535.1 241.3h1.7v1.7h-1.7zM521.2 197.0h1.7v1.7h-1.7zM531.3 234.5h1.7v1.7h-1.7zM528.5 227.3h1.7v1.7h-1.7zM526.2 227.7h1.7v1.7h-1.7zM539.2 239.9h1.7v1.7h-1.7zM525.2 234.2h1.7v1.7h-1.7zM555.4 222.2h1.7v1.7h-1.7zM521.3 231.2h1.7v1.7h-1.7zM535.0 241.5h1.7v1.7h-1.7zM563.1 217.1h1.7v1.7h-1.7zM534.0 241.7h1.7v1.7h-1.7zM548.8 202.8h1.7v1.7h-1.7zM549.3 195.1h1.7v1.7h-1.7zM546.1 195.2h1.7v1.7h-1.7zM543.1 237.0h1.7v1.7h-1.7zM516.2 196.8h1.7v1.7h-1.7zM543.6 204.8h1.7v1.7h-1.7zM513.2 208.4h1.7v1.7h-1.7zM538.1 236.6h1.7v1.7h-1.7zM528.0 217.3h1.7v1.7h-1.7zM520.7 209.8h1.7v1.7h-1.7zM538.8 229.4h1.7v1.7h-1.7zM515.6 217.4h1.7v1.7h-1.7zM564.8 202.0h1.7v1.7h-1.7zM523.3 214.7h1.7v1.7h-1.7zM538.5 238.8h1.7v1.7h-1.7zM519.6 186.3h1.7v1.7h-1.7zM516.5 206.6h1.7v1.7h-1.7zM525.0 206.4h1.7v1.7h-1.7zM531.1 232.6h1.7v1.7h-1.7zM544.1 238.2h1.7v1.7h-1.7zM557.0 223.6h1.7v1.7h-1.7zM518.7 207.2h1.7v1.7h-1.7zM508.8 211.6h1.7v1.7h-1.7zM512.4 185.5h1.7v1.7h-1.7zM541.1 221.3h1.7v1.7h-1.7zM552.6 200.1h1.7v1.7h-1.7zM486.1 205.6h1.7v1.7h-1.7zM522.1 237.6h1.7v1.7h-1.7zM529.4 238.2h1.7v1.7h-1.7zM513.3 203.6h1.7v1.7h-1.7zM523.4 222.1h1.7v1.7h-1.7zM544.1 236.9h1.7v1.7h-1.7zM536.9 236.3h1.7v1.7h-1.7zM535.8 239.9h1.7v1.7h-1.7zM545.5 215.7h1.7v1.7h-1.7zM507.3 228.7h1.7v1.7h-1.7zM530.3 230.4h1.7v1.7h-1.7zM591.9 193.1h1.7v1.7h-1.7zM522.8 222.6h1.7v1.7h-1.7zM532.7 238.6h1.7v1.7h-1.7zM541.1 233.1h1.7v1.7h-1.7zM548.8 188.2h1.7v1.7h-1.7zM557.1 207.2h1.7v1.7h-1.7zM515.2 189.5h1.7v1.7h-1.7zM541.3 227.5h1.7v1.7h-1.7zM527.2 215.1h1.7v1.7h-1.7zM550.6 194.7h1.7v1.7h-1.7zM537.2 233.8h1.7v1.7h-1.7zM555.9 206.3h1.7v1.7h-1.7zM537.4 237.8h1.7v1.7h-1.7zM522.8 229.1h1.7v1.7h-1.7zM527.0 222.0h1.7v1.7h-1.7zM545.4 202.8h1.7v1.7h-1.7zM519.2 224.9h1.7v1.7h-1.7zM549.5 221.3h1.7v1.7h-1.7zM523.4 235.3h1.7v1.7h-1.7zM528.9 237.1h1.7v1.7h-1.7zM533.8 242.0h1.7v1.7h-1.7zM535.4 240.2h1.7v1.7h-1.7zM510.6 229.9h1.7v1.7h-1.7zM536.1 241.3h1.7v1.7h-1.7zM546.1 219.6h1.7v1.7h-1.7zM524.8 238.8h1.7v1.7h-1.7zM561.9 199.2h1.7v1.7h-1.7zM508.1 195.9h1.7v1.7h-1.7zM533.8 241.2h1.7v1.7h-1.7zM526.7 238.9h1.7v1.7h-1.7zM531.3 239.4h1.7v1.7h-1.7zM553.0 194.8h1.7v1.7h-1.7zM517.4 197.2h1.7v1.7h-1.7zM530.9 238.1h1.7v1.7h-1.7zM527.9 233.1h1.7v1.7h-1.7zM511.0 185.8h1.7v1.7h-1.7zM479.0 211.4h1.7v1.7h-1.7zM526.4 218.2h1.7v1.7h-1.7zM552.1 217.6h1.7v1.7h-1.7zM533.4 239.5h1.7v1.7h-1.7zM538.6 228.5h1.7v1.7h-1.7zM499.3 222.4h1.7v1.7h-1.7zM534.5 242.1h1.7v1.7h-1.7zM553.1 200.0h1.7v1.7h-1.7zM532.2 240.7h1.7v1.7h-1.7zM552.2 210.3h1.7v1.7h-1.7zM533.2 239.9h1.7v1.7h-1.7zM556.5 230.1h1.7v1.7h-1.7zM526.0 231.6h1.7v1.7h-1.7zM546.6 236.1h1.7v1.7h-1.7zM541.7 233.5h1.7v1.7h-1.7zM532.8 241.3h1.7v1.7h-1.7zM550.6 222.4h1.7v1.7h-1.7zM537.6 240.1h1.7v1.7h-1.7zM532.2 238.8h1.7v1.7h-1.7zM530.6 234.0h1.7v1.7h-1.7zM527.2 232.2h1.7v1.7h-1.7zM557.3 212.4h1.7v1.7h-1.7zM550.9 234.9h1.7v1.7h-1.7zM513.9 203.0h1.7v1.7h-1.7zM542.6 218.1h1.7v1.7h-1.7zM521.7 216.8h1.7v1.7h-1.7zM510.0 230.2h1.7v1.7h-1.7zM529.8 240.6h1.7v1.7h-1.7zM544.1 227.3h1.7v1.7h-1.7zM525.1 215.9h1.7v1.7h-1.7zM528.6 224.1h1.7v1.7h-1.7zM538.8 236.0h1.7v1.7h-1.7zM530.9 234.0h1.7v1.7h-1.7zM548.8 231.2h1.7v1.7h-1.7zM489.9 196.8h1.7v1.7h-1.7zM544.3 206.0h1.7v1.7h-1.7zM527.0 235.6h1.7v1.7h-1.7zM552.7 227.6h1.7v1.7h-1.7zM528.4 234.5h1.7v1.7h-1.7zM497.8 198.0h1.7v1.7h-1.7zM522.4 212.2h1.7v1.7h-1.7zM535.3 241.5h1.7v1.7h-1.7zM528.5 221.6h1.7v1.7h-1.7zM538.5 231.0h1.7v1.7h-1.7zM521.5 230.9h1.7v1.7h-1.7zM545.1 199.1h1.7v1.7h-1.7zM536.3 240.7h1.7v1.7h-1.7zM523.1 217.9h1.7v1.7h-1.7zM518.1 233.1h1.7v1.7h-1.7zM552.4 202.1h1.7v1.7h-1.7zM538.6 237.9h1.7v1.7h-1.7zM537.1 237.6h1.7v1.7h-1.7zM532.7 241.6h1.7v1.7h-1.7zM530.9 237.9h1.7v1.7h-1.7zM543.4 232.0h1.7v1.7h-1.7zM526.8 235.3h1.7v1.7h-1.7zM541.5 232.1h1.7v1.7h-1.7zM540.9 229.8h1.7v1.7h-1.7zM539.2 237.9h1.7v1.7h-1.7zM561.9 205.6h1.7v1.7h-1.7zM551.1 193.3h1.7v1.7h-1.7zM559.7 186.5h1.7v1.7h-1.7zM519.0 218.2h1.7v1.7h-1.7zM516.3 194.8h1.7v1.7h-1.7zM527.4 218.5h1.7v1.7h-1.7zM563.9 187.2h1.7v1.7h-1.7zM536.9 240.2h1.7v1.7h-1.7zM583.3 213.4h1.7v1.7h-1.7zM535.8 239.4h1.7v1.7h-1.7zM531.2 239.6h1.7v1.7h-1.7zM534.7 241.5h1.7v1.7h-1.7zM519.7 236.4h1.7v1.7h-1.7zM535.2 240.7h1.7v1.7h-1.7zM528.4 229.0h1.7v1.7h-1.7zM546.4 230.8h1.7v1.7h-1.7zM542.2 231.2h1.7v1.7h-1.7zM558.2 222.3h1.7v1.7h-1.7zM541.2 228.9h1.7v1.7h-1.7zM532.7 241.0h1.7v1.7h-1.7zM512.6 194.0h1.7v1.7h-1.7zM548.0 193.4h1.7v1.7h-1.7zM543.2 223.6h1.7v1.7h-1.7zM547.0 215.1h1.7v1.7h-1.7zM559.6 226.2h1.7v1.7h-1.7zM524.1 233.1h1.7v1.7h-1.7zM551.4 211.2h1.7v1.7h-1.7zM527.5 225.8h1.7v1.7h-1.7zM542.3 235.6h1.7v1.7h-1.7zM522.7 221.6h1.7v1.7h-1.7zM524.5 236.4h1.7v1.7h-1.7zM490.4 198.1h1.7v1.7h-1.7zM532.9 239.8h1.7v1.7h-1.7zM513.9 226.1h1.7v1.7h-1.7zM515.8 194.3h1.7v1.7h-1.7zM524.6 237.6h1.7v1.7h-1.7zM531.9 238.2h1.7v1.7h-1.7zM523.4 202.6h1.7v1.7h-1.7zM533.1 239.7h1.7v1.7h-1.7zM535.4 239.8h1.7v1.7h-1.7zM500.5 201.2h1.7v1.7h-1.7zM556.1 230.7h1.7v1.7h-1.7zM525.2 215.0h1.7v1.7h-1.7zM543.3 225.2h1.7v1.7h-1.7zM534.3 242.1h1.7v1.7h-1.7zM538.6 237.6h1.7v1.7h-1.7zM526.7 234.4h1.7v1.7h-1.7zM521.2 216.8h1.7v1.7h-1.7zM542.9 236.4h1.7v1.7h-1.7zM503.6 215.7h1.7v1.7h-1.7zM523.8 205.9h1.7v1.7h-1.7zM516.4 193.3h1.7v1.7h-1.7zM517.2 218.9h1.7v1.7h-1.7zM542.8 219.7h1.7v1.7h-1.7zM532.6 238.8h1.7v1.7h-1.7zM538.5 240.4h1.7v1.7h-1.7zM532.9 241.4h1.7v1.7h-1.7zM515.9 215.1h1.7v1.7h-1.7zM532.3 236.2h1.7v1.7h-1.7zM526.0 225.0h1.7v1.7h-1.7zM534.4 242.0h1.7v1.7h-1.7zM531.8 240.3h1.7v1.7h-1.7zM549.6 232.2h1.7v1.7h-1.7zM535.6 241.4h1.7v1.7h-1.7zM557.8 190.3h1.7v1.7h-1.7zM536.8 238.3h1.7v1.7h-1.7zM549.2 229.2h1.7v1.7h-1.7zM550.9 205.8h1.7v1.7h-1.7zM563.3 214.5h1.7v1.7h-1.7zM539.5 225.5h1.7v1.7h-1.7zM530.8 240.9h1.7v1.7h-1.7zM546.9 225.3h1.7v1.7h-1.7zM519.1 222.5h1.7v1.7h-1.7zM557.1 194.6h1.7v1.7h-1.7zM533.7 241.8h1.7v1.7h-1.7zM519.0 186.8h1.7v1.7h-1.7zM536.5 236.1h1.7v1.7h-1.7zM522.3 231.6h1.7v1.7h-1.7zM523.9 211.7h1.7v1.7h-1.7zM529.0 239.3h1.7v1.7h-1.7zM522.2 232.8h1.7v1.7h-1.7zM526.2 236.0h1.7v1.7h-1.7zM498.1 219.7h1.7v1.7h-1.7zM530.8 235.5h1.7v1.7h-1.7zM525.0 215.2h1.7v1.7h-1.7zM523.1 196.7h1.7v1.7h-1.7zM541.9 236.6h1.7v1.7h-1.7zM547.5 213.0h1.7v1.7h-1.7zM524.0 236.2h1.7v1.7h-1.7zM504.2 226.4h1.7v1.7h-1.7zM543.9 226.8h1.7v1.7h-1.7zM534.7 242.1h1.7v1.7h-1.7zM544.2 236.7h1.7v1.7h-1.7zM530.0 235.4h1.7v1.7h-1.7zM542.2 231.5h1.7v1.7h-1.7zM546.8 236.4h1.7v1.7h-1.7zM520.8 233.1h1.7v1.7h-1.7zM528.9 229.9h1.7v1.7h-1.7zM537.1 240.4h1.7v1.7h-1.7zM534.7 241.9h1.7v1.7h-1.7zM547.5 229.3h1.7v1.7h-1.7zM541.6 226.5h1.7v1.7h-1.7zM519.5 234.3h1.7v1.7h-1.7zM546.4 224.2h1.7v1.7h-1.7zM513.2 205.1h1.7v1.7h-1.7zM546.1 215.4h1.7v1.7h-1.7zM535.7 239.0h1.7v1.7h-1.7zM539.9 240.0h1.7v1.7h-1.7zM523.0 208.2h1.7v1.7h-1.7zM538.7 228.1h1.7v1.7h-1.7zM541.0 220.5h1.7v1.7h-1.7zM525.8 236.6h1.7v1.7h-1.7zM482.3 214.7h1.7v1.7h-1.7zM523.4 228.0h1.7v1.7h-1.7zM540.5 235.4h1.7v1.7h-1.7zM521.4 221.1h1.7v1.7h-1.7zM538.9 231.8h1.7v1.7h-1.7zM519.0 196.7h1.7v1.7h-1.7zM526.4 236.4h1.7v1.7h-1.7zM558.5 218.6h1.7v1.7h-1.7zM517.4 207.4h1.7v1.7h-1.7zM545.7 199.1h1.7v1.7h-1.7zM535.2 241.2h1.7v1.7h-1.7zM528.4 235.4h1.7v1.7h-1.7zM545.4 224.8h1.7v1.7h-1.7zM514.6 231.9h1.7v1.7h-1.7zM525.2 230.3h1.7v1.7h-1.7zM545.1 212.1h1.7v1.7h-1.7zM531.3 236.2h1.7v1.7h-1.7zM541.5 232.1h1.7v1.7h-1.7zM547.5 229.1h1.7v1.7h-1.7zM543.1 236.3h1.7v1.7h-1.7zM541.0 215.5h1.7v1.7h-1.7zM539.7 237.5h1.7v1.7h-1.7zM518.8 214.8h1.7v1.7h-1.7zM519.2 198.9h1.7v1.7h-1.7zM549.4 225.7h1.7v1.7h-1.7zM498.8 211.9h1.7v1.7h-1.7zM547.5 232.6h1.7v1.7h-1.7zM546.5 231.2h1.7v1.7h-1.7zM532.1 238.5h1.7v1.7h-1.7zM545.9 232.5h1.7v1.7h-1.7zM528.8 238.4h1.7v1.7h-1.7zM524.8 205.5h1.7v1.7h-1.7zM540.5 237.3h1.7v1.7h-1.7zM525.1 229.6h1.7v1.7h-1.7zM549.4 229.6h1.7v1.7h-1.7zM532.0 241.3h1.7v1.7h-1.7zM533.1 240.3h1.7v1.7h-1.7zM526.6 228.9h1.7v1.7h-1.7zM543.5 210.0h1.7v1.7h-1.7zM522.8 235.4h1.7v1.7h-1.7zM504.8 200.9h1.7v1.7h-1.7zM530.1 234.6h1.7v1.7h-1.7zM541.9 230.4h1.7v1.7h-1.7zM527.5 227.5h1.7v1.7h-1.7zM540.9 225.5h1.7v1.7h-1.7zM530.6 239.1h1.7v1.7h-1.7zM548.2 234.9h1.7v1.7h-1.7zM517.7 197.9h1.7v1.7h-1.7zM518.8 187.9h1.7v1.7h-1.7zM551.1 228.2h1.7v1.7h-1.7zM514.7 191.5h1.7v1.7h-1.7zM517.4 219.9h1.7v1.7h-1.7zM516.3 214.1h1.7v1.7h-1.7zM562.5 229.6h1.7v1.7h-1.7zM547.1 193.9h1.7v1.7h-1.7zM534.4 242.2h1.7v1.7h-1.7zM536.2 240.3h1.7v1.7h-1.7zM531.2 234.4h1.7v1.7h-1.7zM542.3 234.0h1.7v1.7h-1.7zM527.2 230.3h1.7v1.7h-1.7zM503.6 211.2h1.7v1.7h-1.7zM544.5 224.2h1.7v1.7h-1.7zM532.5 239.9h1.7v1.7h-1.7zM547.5 223.7h1.7v1.7h-1.7zM554.6 223.3h1.7v1.7h-1.7zM538.0 237.1h1.7v1.7h-1.7zM526.2 234.7h1.7v1.7h-1.7zM547.3 193.5h1.7v1.7h-1.7zM533.6 241.2h1.7v1.7h-1.7zM517.1 185.6h1.7v1.7h-1.7zM532.2 234.6h1.7v1.7h-1.7zM527.2 217.4h1.7v1.7h-1.7zM529.7 230.5h1.7v1.7h-1.7zM536.6 237.5h1.7v1.7h-1.7zM533.4 241.3h1.7v1.7h-1.7zM523.0 237.7h1.7v1.7h-1.7zM531.4 240.6h1.7v1.7h-1.7zM538.6 235.9h1.7v1.7h-1.7zM538.2 239.5h1.7v1.7h-1.7zM536.8 238.4h1.7v1.7h-1.7zM551.8 198.6h1.7v1.7h-1.7zM541.1 235.2h1.7v1.7h-1.7zM526.1 234.5h1.7v1.7h-1.7zM543.0 220.5h1.7v1.7h-1.7zM526.2 230.6h1.7v1.7h-1.7zM507.8 186.7h1.7v1.7h-1.7zM528.4 218.3h1.7v1.7h-1.7zM544.1 202.5h1.7v1.7h-1.7zM557.3 229.3h1.7v1.7h-1.7zM511.5 186.8h1.7v1.7h-1.7zM555.6 222.2h1.7v1.7h-1.7zM523.9 222.5h1.7v1.7h-1.7zM496.7 205.0h1.7v1.7h-1.7zM544.0 227.8h1.7v1.7h-1.7zM514.1 217.2h1.7v1.7h-1.7zM519.8 233.6h1.7v1.7h-1.7zM536.5 237.9h1.7v1.7h-1.7zM538.6 238.4h1.7v1.7h-1.7zM540.1 223.6h1.7v1.7h-1.7zM533.5 241.2h1.7v1.7h-1.7zM530.2 238.7h1.7v1.7h-1.7zM545.1 208.7h1.7v1.7h-1.7zM543.0 218.1h1.7v1.7h-1.7zM531.7 236.6h1.7v1.7h-1.7zM539.3 235.9h1.7v1.7h-1.7zM521.0 205.2h1.7v1.7h-1.7zM537.6 238.0h1.7v1.7h-1.7zM508.8 205.8h1.7v1.7h-1.7zM528.2 218.7h1.7v1.7h-1.7zM544.3 225.7h1.7v1.7h-1.7zM553.2 191.1h1.7v1.7h-1.7zM519.7 203.1h1.7v1.7h-1.7zM526.8 239.3h1.7v1.7h-1.7zM563.8 219.3h1.7v1.7h-1.7zM536.5 241.5h1.7v1.7h-1.7zM560.0 220.4h1.7v1.7h-1.7zM538.6 240.4h1.7v1.7h-1.7zM515.6 185.4h1.7v1.7h-1.7zM549.1 228.6h1.7v1.7h-1.7zM485.0 192.8h1.7v1.7h-1.7zM521.0 209.2h1.7v1.7h-1.7zM550.6 209.7h1.7v1.7h-1.7zM549.3 220.0h1.7v1.7h-1.7zM530.6 240.5h1.7v1.7h-1.7zM556.2 185.8h1.7v1.7h-1.7zM537.6 237.8h1.7v1.7h-1.7zM535.1 240.9h1.7v1.7h-1.7zM522.4 222.3h1.7v1.7h-1.7zM546.2 236.8h1.7v1.7h-1.7zM546.7 194.3h1.7v1.7h-1.7zM502.1 201.4h1.7v1.7h-1.7zM498.5 189.7h1.7v1.7h-1.7zM524.7 234.1h1.7v1.7h-1.7zM528.7 234.6h1.7v1.7h-1.7zM537.2 233.9h1.7v1.7h-1.7zM544.9 233.3h1.7v1.7h-1.7zM555.4 209.8h1.7v1.7h-1.7zM525.8 219.0h1.7v1.7h-1.7zM536.3 240.9h1.7v1.7h-1.7zM559.8 230.5h1.7v1.7h-1.7zM537.7 234.2h1.7v1.7h-1.7zM545.1 225.7h1.7v1.7h-1.7zM519.6 236.4h1.7v1.7h-1.7zM532.0 238.0h1.7v1.7h-1.7zM520.0 206.0h1.7v1.7h-1.7zM544.1 235.3h1.7v1.7h-1.7zM561.7 187.8h1.7v1.7h-1.7zM522.0 226.5h1.7v1.7h-1.7zM524.8 218.4h1.7v1.7h-1.7zM525.6 224.2h1.7v1.7h-1.7zM530.0 240.2h1.7v1.7h-1.7zM521.7 225.6h1.7v1.7h-1.7zM564.2 194.0h1.7v1.7h-1.7zM535.9 239.4h1.7v1.7h-1.7zM569.7 186.0h1.7v1.7h-1.7zM529.6 238.0h1.7v1.7h-1.7zM535.3 241.5h1.7v1.7h-1.7zM539.2 238.0h1.7v1.7h-1.7zM538.9 231.7h1.7v1.7h-1.7zM529.6 235.3h1.7v1.7h-1.7zM556.5 217.6h1.7v1.7h-1.7zM549.3 228.4h1.7v1.7h-1.7zM556.4 197.7h1.7v1.7h-1.7zM528.4 237.1h1.7v1.7h-1.7zM537.0 234.5h1.7v1.7h-1.7zM538.0 235.8h1.7v1.7h-1.7zM555.9 224.4h1.7v1.7h-1.7zM515.5 227.8h1.7v1.7h-1.7zM523.3 207.7h1.7v1.7h-1.7zM541.8 238.5h1.7v1.7h-1.7zM533.9 241.2h1.7v1.7h-1.7zM514.7 229.0h1.7v1.7h-1.7zM540.5 225.2h1.7v1.7h-1.7zM529.3 238.8h1.7v1.7h-1.7zM550.4 197.8h1.7v1.7h-1.7zM520.4 222.8h1.7v1.7h-1.7zM538.0 234.9h1.7v1.7h-1.7zM531.6 240.5h1.7v1.7h-1.7zM520.8 192.7h1.7v1.7h-1.7zM517.3 195.8h1.7v1.7h-1.7zM531.9 241.2h1.7v1.7h-1.7zM527.8 225.1h1.7v1.7h-1.7zM539.8 227.2h1.7v1.7h-1.7zM516.4 220.3h1.7v1.7h-1.7zM531.9 239.3h1.7v1.7h-1.7zM545.9 220.8h1.7v1.7h-1.7zM517.5 186.9h1.7v1.7h-1.7zM532.8 239.4h1.7v1.7h-1.7zM548.6 230.1h1.7v1.7h-1.7zM525.4 231.1h1.7v1.7h-1.7zM535.3 241.0h1.7v1.7h-1.7zM513.4 211.8h1.7v1.7h-1.7zM563.4 209.3h1.7v1.7h-1.7zM540.7 231.5h1.7v1.7h-1.7zM542.4 233.7h1.7v1.7h-1.7zM551.6 191.2h1.7v1.7h-1.7zM529.3 223.0h1.7v1.7h-1.7zM519.4 213.4h1.7v1.7h-1.7zM539.0 238.2h1.7v1.7h-1.7zM521.4 226.6h1.7v1.7h-1.7zM529.0 236.6h1.7v1.7h-1.7zM524.4 235.1h1.7v1.7h-1.7zM516.3 227.3h1.7v1.7h-1.7zM550.9 228.5h1.7v1.7h-1.7zM542.2 237.7h1.7v1.7h-1.7zM543.2 220.3h1.7v1.7h-1.7zM550.6 213.2h1.7v1.7h-1.7zM548.9 220.7h1.7v1.7h-1.7zM533.0 239.8h1.7v1.7h-1.7zM535.8 239.2h1.7v1.7h-1.7zM535.9 239.1h1.7v1.7h-1.7zM530.8 231.4h1.7v1.7h-1.7zM557.8 223.8h1.7v1.7h-1.7zM531.7 239.7h1.7v1.7h-1.7zM521.8 218.2h1.7v1.7h-1.7zM515.2 217.4h1.7v1.7h-1.7zM524.6 213.5h1.7v1.7h-1.7zM528.9 239.2h1.7v1.7h-1.7zM544.1 212.7h1.7v1.7h-1.7zM566.5 191.3h1.7v1.7h-1.7zM536.3 240.5h1.7v1.7h-1.7zM532.8 240.0h1.7v1.7h-1.7zM522.1 216.6h1.7v1.7h-1.7zM556.6 196.7h1.7v1.7h-1.7zM544.4 220.7h1.7v1.7h-1.7zM545.8 233.5h1.7v1.7h-1.7zM529.2 235.5h1.7v1.7h-1.7zM549.5 193.9h1.7v1.7h-1.7zM520.7 191.9h1.7v1.7h-1.7zM567.6 212.0h1.7v1.7h-1.7zM523.6 233.0h1.7v1.7h-1.7zM526.2 221.7h1.7v1.7h-1.7zM503.2 217.2h1.7v1.7h-1.7zM533.3 239.6h1.7v1.7h-1.7zM520.8 219.5h1.7v1.7h-1.7zM542.0 222.7h1.7v1.7h-1.7zM559.3 185.4h1.7v1.7h-1.7zM542.6 234.1h1.7v1.7h-1.7zM533.7 240.1h1.7v1.7h-1.7zM550.6 233.1h1.7v1.7h-1.7zM556.1 199.7h1.7v1.7h-1.7zM534.1 241.2h1.7v1.7h-1.7zM531.8 238.3h1.7v1.7h-1.7zM558.9 206.9h1.7v1.7h-1.7zM537.2 240.1h1.7v1.7h-1.7zM534.6 242.1h1.7v1.7h-1.7zM535.3 241.9h1.7v1.7h-1.7zM525.9 218.1h1.7v1.7h-1.7zM536.9 235.3h1.7v1.7h-1.7zM541.9 214.8h1.7v1.7h-1.7zM542.7 229.7h1.7v1.7h-1.7zM549.1 209.7h1.7v1.7h-1.7zM517.7 212.2h1.7v1.7h-1.7zM537.3 237.6h1.7v1.7h-1.7zM526.9 236.8h1.7v1.7h-1.7zM535.7 241.1h1.7v1.7h-1.7zM537.5 235.6h1.7v1.7h-1.7zM581.1 203.5h1.7v1.7h-1.7zM526.6 223.8h1.7v1.7h-1.7zM544.3 235.6h1.7v1.7h-1.7zM502.8 186.7h1.7v1.7h-1.7zM515.6 194.3h1.7v1.7h-1.7zM552.4 197.6h1.7v1.7h-1.7zM524.5 226.5h1.7v1.7h-1.7zM546.5 195.9h1.7v1.7h-1.7zM542.9 227.5h1.7v1.7h-1.7zM519.8 225.6h1.7v1.7h-1.7zM521.0 189.4h1.7v1.7h-1.7zM522.9 237.4h1.7v1.7h-1.7zM521.4 227.3h1.7v1.7h-1.7zM547.9 234.6h1.7v1.7h-1.7zM531.9 240.9h1.7v1.7h-1.7zM544.0 231.7h1.7v1.7h-1.7zM545.8 237.4h1.7v1.7h-1.7zM535.4 240.4h1.7v1.7h-1.7zM546.3 218.8h1.7v1.7h-1.7zM547.3 231.4h1.7v1.7h-1.7zM515.0 232.9h1.7v1.7h-1.7zM539.8 237.7h1.7v1.7h-1.7zM529.0 232.1h1.7v1.7h-1.7zM592.4 191.1h1.7v1.7h-1.7zM509.3 207.5h1.7v1.7h-1.7zM545.5 209.8h1.7v1.7h-1.7zM511.4 212.6h1.7v1.7h-1.7zM513.5 229.7h1.7v1.7h-1.7zM517.8 222.5h1.7v1.7h-1.7zM534.7 242.1h1.7v1.7h-1.7zM538.0 237.9h1.7v1.7h-1.7zM547.5 218.1h1.7v1.7h-1.7zM522.9 221.3h1.7v1.7h-1.7zM513.5 222.8h1.7v1.7h-1.7zM516.4 217.5h1.7v1.7h-1.7zM507.8 224.3h1.7v1.7h-1.7zM532.4 238.0h1.7v1.7h-1.7zM549.7 199.6h1.7v1.7h-1.7zM531.8 235.7h1.7v1.7h-1.7zM537.5 233.9h1.7v1.7h-1.7zM522.0 225.3h1.7v1.7h-1.7zM513.1 211.6h1.7v1.7h-1.7zM543.2 227.5h1.7v1.7h-1.7zM518.8 198.7h1.7v1.7h-1.7zM532.0 238.9h1.7v1.7h-1.7zM524.0 206.0h1.7v1.7h-1.7zM550.5 216.2h1.7v1.7h-1.7zM549.1 214.3h1.7v1.7h-1.7zM568.5 202.4h1.7v1.7h-1.7zM546.8 237.6h1.7v1.7h-1.7zM501.8 185.5h1.7v1.7h-1.7zM545.6 234.8h1.7v1.7h-1.7zM539.5 229.4h1.7v1.7h-1.7zM524.6 222.7h1.7v1.7h-1.7zM543.3 236.5h1.7v1.7h-1.7zM544.3 208.6h1.7v1.7h-1.7zM532.1 239.1h1.7v1.7h-1.7zM547.7 200.0h1.7v1.7h-1.7zM529.3 227.6h1.7v1.7h-1.7zM529.4 236.9h1.7v1.7h-1.7zM531.5 238.9h1.7v1.7h-1.7zM544.5 232.4h1.7v1.7h-1.7zM520.7 190.9h1.7v1.7h-1.7zM542.4 238.5h1.7v1.7h-1.7zM527.5 235.8h1.7v1.7h-1.7zM522.8 232.8h1.7v1.7h-1.7zM516.6 199.7h1.7v1.7h-1.7zM512.2 200.9h1.7v1.7h-1.7zM541.0 219.0h1.7v1.7h-1.7zM520.7 221.5h1.7v1.7h-1.7zM535.0 241.6h1.7v1.7h-1.7zM530.6 239.0h1.7v1.7h-1.7zM550.4 217.0h1.7v1.7h-1.7zM529.6 240.5h1.7v1.7h-1.7zM489.1 209.8h1.7v1.7h-1.7zM532.9 237.7h1.7v1.7h-1.7zM518.3 188.4h1.7v1.7h-1.7zM533.1 240.5h1.7v1.7h-1.7zM532.4 239.4h1.7v1.7h-1.7zM534.0 241.0h1.7v1.7h-1.7zM516.5 192.3h1.7v1.7h-1.7zM554.4 190.7h1.7v1.7h-1.7zM537.4 236.6h1.7v1.7h-1.7zM495.1 189.1h1.7v1.7h-1.7zM500.5 193.3h1.7v1.7h-1.7zM543.1 238.3h1.7v1.7h-1.7zM552.4 201.4h1.7v1.7h-1.7zM553.5 220.3h1.7v1.7h-1.7zM519.2 220.1h1.7v1.7h-1.7zM534.1 241.8h1.7v1.7h-1.7zM506.6 212.8h1.7v1.7h-1.7zM527.4 230.4h1.7v1.7h-1.7zM535.8 238.3h1.7v1.7h-1.7zM526.6 233.9h1.7v1.7h-1.7zM535.9 240.5h1.7v1.7h-1.7zM516.0 188.5h1.7v1.7h-1.7zM523.2 228.9h1.7v1.7h-1.7zM542.9 233.2h1.7v1.7h-1.7zM528.5 222.8h1.7v1.7h-1.7zM525.6 209.5h1.7v1.7h-1.7zM527.5 232.8h1.7v1.7h-1.7zM528.0 229.6h1.7v1.7h-1.7zM538.8 236.4h1.7v1.7h-1.7zM535.4 240.9h1.7v1.7h-1.7zM547.4 209.5h1.7v1.7h-1.7zM531.3 237.7h1.7v1.7h-1.7zM500.4 186.5h1.7v1.7h-1.7zM535.8 240.7h1.7v1.7h-1.7zM522.2 215.9h1.7v1.7h-1.7zM536.1 241.1h1.7v1.7h-1.7zM504.5 200.8h1.7v1.7h-1.7zM529.4 229.5h1.7v1.7h-1.7zM515.7 227.2h1.7v1.7h-1.7zM536.3 239.3h1.7v1.7h-1.7zM524.8 221.9h1.7v1.7h-1.7zM514.9 212.4h1.7v1.7h-1.7zM524.9 237.3h1.7v1.7h-1.7zM524.1 224.3h1.7v1.7h-1.7zM542.0 238.9h1.7v1.7h-1.7zM541.3 231.9h1.7v1.7h-1.7zM545.8 198.1h1.7v1.7h-1.7zM532.0 234.8h1.7v1.7h-1.7zM537.7 239.9h1.7v1.7h-1.7zM555.4 191.9h1.7v1.7h-1.7zM541.0 217.4h1.7v1.7h-1.7zM547.8 195.7h1.7v1.7h-1.7zM529.3 235.7h1.7v1.7h-1.7zM541.9 238.2h1.7v1.7h-1.7zM527.7 235.6h1.7v1.7h-1.7zM536.4 239.6h1.7v1.7h-1.7zM517.2 185.5h1.7v1.7h-1.7zM541.5 236.2h1.7v1.7h-1.7zM543.5 236.8h1.7v1.7h-1.7zM532.4 239.3h1.7v1.7h-1.7zM519.5 211.8h1.7v1.7h-1.7zM541.5 234.1h1.7v1.7h-1.7zM536.3 237.6h1.7v1.7h-1.7zM549.7 230.1h1.7v1.7h-1.7zM523.7 216.4h1.7v1.7h-1.7zM554.4 200.1h1.7v1.7h-1.7zM540.3 239.7h1.7v1.7h-1.7zM543.2 237.1h1.7v1.7h-1.7zM555.9 199.3h1.7v1.7h-1.7zM521.3 227.7h1.7v1.7h-1.7zM553.6 203.1h1.7v1.7h-1.7zM514.3 223.9h1.7v1.7h-1.7zM525.6 222.5h1.7v1.7h-1.7zM542.8 223.7h1.7v1.7h-1.7zM532.1 240.7h1.7v1.7h-1.7zM521.6 202.1h1.7v1.7h-1.7zM515.9 193.5h1.7v1.7h-1.7zM544.7 231.5h1.7v1.7h-1.7zM532.6 241.1h1.7v1.7h-1.7zM526.7 235.1h1.7v1.7h-1.7zM536.3 240.3h1.7v1.7h-1.7zM532.7 237.5h1.7v1.7h-1.7zM540.0 236.4h1.7v1.7h-1.7zM543.7 218.1h1.7v1.7h-1.7zM535.3 241.6h1.7v1.7h-1.7zM520.1 230.5h1.7v1.7h-1.7zM528.0 230.9h1.7v1.7h-1.7zM534.9 241.9h1.7v1.7h-1.7zM520.9 232.2h1.7v1.7h-1.7zM541.0 239.3h1.7v1.7h-1.7zM538.6 236.9h1.7v1.7h-1.7zM535.6 241.2h1.7v1.7h-1.7zM535.3 241.4h1.7v1.7h-1.7zM527.9 225.5h1.7v1.7h-1.7zM519.2 197.6h1.7v1.7h-1.7zM543.0 231.0h1.7v1.7h-1.7zM539.6 234.7h1.7v1.7h-1.7zM536.4 240.8h1.7v1.7h-1.7zM543.9 204.3h1.7v1.7h-1.7zM534.6 242.1h1.7v1.7h-1.7zM540.5 233.2h1.7v1.7h-1.7zM543.3 237.2h1.7v1.7h-1.7zM557.8 191.8h1.7v1.7h-1.7zM519.8 233.9h1.7v1.7h-1.7zM548.3 235.6h1.7v1.7h-1.7zM523.6 196.8h1.7v1.7h-1.7zM530.8 233.6h1.7v1.7h-1.7zM561.0 194.0h1.7v1.7h-1.7zM546.8 210.3h1.7v1.7h-1.7zM537.1 239.6h1.7v1.7h-1.7zM514.5 222.8h1.7v1.7h-1.7zM516.1 190.0h1.7v1.7h-1.7zM529.5 225.1h1.7v1.7h-1.7zM555.7 234.0h1.7v1.7h-1.7zM534.8 241.9h1.7v1.7h-1.7zM518.1 186.9h1.7v1.7h-1.7zM528.0 219.7h1.7v1.7h-1.7zM561.7 220.1h1.7v1.7h-1.7zM507.1 193.8h1.7v1.7h-1.7zM520.3 211.3h1.7v1.7h-1.7zM540.6 223.8h1.7v1.7h-1.7zM535.1 241.7h1.7v1.7h-1.7zM545.5 233.3h1.7v1.7h-1.7zM539.7 223.1h1.7v1.7h-1.7zM521.1 210.8h1.7v1.7h-1.7zM522.7 237.0h1.7v1.7h-1.7zM513.4 188.8h1.7v1.7h-1.7zM536.1 239.1h1.7v1.7h-1.7zM543.4 238.2h1.7v1.7h-1.7zM510.2 224.9h1.7v1.7h-1.7zM508.0 204.3h1.7v1.7h-1.7zM557.6 225.0h1.7v1.7h-1.7zM545.0 234.2h1.7v1.7h-1.7zM521.6 232.3h1.7v1.7h-1.7zM542.0 233.0h1.7v1.7h-1.7zM518.5 232.1h1.7v1.7h-1.7zM531.1 233.9h1.7v1.7h-1.7zM557.1 207.7h1.7v1.7h-1.7zM525.3 228.6h1.7v1.7h-1.7zM529.8 228.5h1.7v1.7h-1.7zM523.3 214.2h1.7v1.7h-1.7zM550.1 230.5h1.7v1.7h-1.7zM519.1 224.6h1.7v1.7h-1.7zM532.6 237.7h1.7v1.7h-1.7zM526.7 235.6h1.7v1.7h-1.7zM554.5 226.5h1.7v1.7h-1.7zM554.8 188.2h1.7v1.7h-1.7zM550.9 222.6h1.7v1.7h-1.7zM564.2 197.1h1.7v1.7h-1.7zM531.6 238.9h1.7v1.7h-1.7zM545.6 235.6h1.7v1.7h-1.7zM536.1 241.7h1.7v1.7h-1.7zM527.6 226.0h1.7v1.7h-1.7zM515.8 189.8h1.7v1.7h-1.7zM546.0 235.7h1.7v1.7h-1.7zM513.8 187.3h1.7v1.7h-1.7zM533.5 241.9h1.7v1.7h-1.7zM525.3 220.9h1.7v1.7h-1.7zM503.3 221.7h1.7v1.7h-1.7zM502.5 186.7h1.7v1.7h-1.7zM519.4 196.1h1.7v1.7h-1.7zM524.8 210.5h1.7v1.7h-1.7zM542.8 222.8h1.7v1.7h-1.7zM542.9 214.2h1.7v1.7h-1.7zM551.1 185.9h1.7v1.7h-1.7zM563.7 186.1h1.7v1.7h-1.7zM519.0 232.6h1.7v1.7h-1.7zM536.6 241.4h1.7v1.7h-1.7zM525.2 233.6h1.7v1.7h-1.7zM525.8 218.2h1.7v1.7h-1.7zM536.8 236.0h1.7v1.7h-1.7zM523.1 207.4h1.7v1.7h-1.7zM532.4 238.7h1.7v1.7h-1.7zM520.2 218.9h1.7v1.7h-1.7zM537.6 235.1h1.7v1.7h-1.7zM511.2 229.7h1.7v1.7h-1.7zM522.8 211.9h1.7v1.7h-1.7zM513.5 208.9h1.7v1.7h-1.7zM545.6 217.2h1.7v1.7h-1.7zM519.6 229.3h1.7v1.7h-1.7zM539.8 236.6h1.7v1.7h-1.7zM524.3 202.7h1.7v1.7h-1.7zM539.7 239.7h1.7v1.7h-1.7zM551.6 228.5h1.7v1.7h-1.7zM539.2 236.8h1.7v1.7h-1.7zM544.3 229.0h1.7v1.7h-1.7zM523.1 205.9h1.7v1.7h-1.7zM541.9 211.9h1.7v1.7h-1.7zM525.7 239.0h1.7v1.7h-1.7zM535.2 242.0h1.7v1.7h-1.7zM542.3 221.3h1.7v1.7h-1.7zM528.5 239.4h1.7v1.7h-1.7zM531.2 238.0h1.7v1.7h-1.7zM540.7 219.5h1.7v1.7h-1.7zM563.6 216.4h1.7v1.7h-1.7zM517.2 187.4h1.7v1.7h-1.7zM548.9 191.1h1.7v1.7h-1.7zM531.8 239.9h1.7v1.7h-1.7zM539.1 235.7h1.7v1.7h-1.7zM542.4 217.7h1.7v1.7h-1.7zM548.0 209.5h1.7v1.7h-1.7zM562.0 225.7h1.7v1.7h-1.7zM510.7 202.8h1.7v1.7h-1.7zM521.9 234.6h1.7v1.7h-1.7zM522.7 198.1h1.7v1.7h-1.7zM519.5 214.3h1.7v1.7h-1.7zM535.6 240.8h1.7v1.7h-1.7zM471.0 203.9h1.7v1.7h-1.7zM545.6 235.6h1.7v1.7h-1.7zM523.0 204.0h1.7v1.7h-1.7zM537.4 238.1h1.7v1.7h-1.7zM534.3 241.7h1.7v1.7h-1.7zM523.2 201.7h1.7v1.7h-1.7zM532.6 238.7h1.7v1.7h-1.7zM529.8 236.3h1.7v1.7h-1.7zM526.7 214.3h1.7v1.7h-1.7zM497.0 191.8h1.7v1.7h-1.7zM526.0 213.7h1.7v1.7h-1.7zM564.2 196.7h1.7v1.7h-1.7zM516.9 188.6h1.7v1.7h-1.7zM526.5 211.8h1.7v1.7h-1.7zM559.0 216.7h1.7v1.7h-1.7zM523.9 229.2h1.7v1.7h-1.7zM538.1 237.7h1.7v1.7h-1.7zM529.9 239.2h1.7v1.7h-1.7zM517.3 229.2h1.7v1.7h-1.7zM534.0 241.3h1.7v1.7h-1.7zM503.3 209.7h1.7v1.7h-1.7zM559.7 198.2h1.7v1.7h-1.7zM536.1 238.8h1.7v1.7h-1.7zM532.4 239.8h1.7v1.7h-1.7zM528.4 232.7h1.7v1.7h-1.7zM547.8 222.7h1.7v1.7h-1.7zM544.8 231.0h1.7v1.7h-1.7zM537.7 235.9h1.7v1.7h-1.7zM519.4 230.2h1.7v1.7h-1.7zM559.9 199.4h1.7v1.7h-1.7zM523.0 224.3h1.7v1.7h-1.7zM511.6 217.5h1.7v1.7h-1.7zM557.8 201.0h1.7v1.7h-1.7zM541.1 227.3h1.7v1.7h-1.7zM528.2 226.1h1.7v1.7h-1.7zM532.0 234.2h1.7v1.7h-1.7zM538.8 231.5h1.7v1.7h-1.7zM529.3 226.8h1.7v1.7h-1.7zM537.3 239.2h1.7v1.7h-1.7zM518.0 214.0h1.7v1.7h-1.7zM534.1 242.0h1.7v1.7h-1.7zM548.3 213.5h1.7v1.7h-1.7zM543.8 205.5h1.7v1.7h-1.7zM530.2 236.0h1.7v1.7h-1.7zM522.8 224.9h1.7v1.7h-1.7zM529.7 233.5h1.7v1.7h-1.7zM532.2 236.7h1.7v1.7h-1.7zM530.2 239.9h1.7v1.7h-1.7zM547.5 211.0h1.7v1.7h-1.7zM543.5 231.5h1.7v1.7h-1.7zM552.6 211.4h1.7v1.7h-1.7zM525.9 233.8h1.7v1.7h-1.7zM527.0 232.0h1.7v1.7h-1.7zM531.8 239.3h1.7v1.7h-1.7zM540.4 231.6h1.7v1.7h-1.7zM548.2 217.2h1.7v1.7h-1.7zM508.1 231.4h1.7v1.7h-1.7zM542.3 230.2h1.7v1.7h-1.7zM515.3 186.2h1.7v1.7h-1.7zM544.3 227.8h1.7v1.7h-1.7zM523.2 217.2h1.7v1.7h-1.7zM534.4 242.2h1.7v1.7h-1.7zM546.4 214.4h1.7v1.7h-1.7zM560.6 208.1h1.7v1.7h-1.7zM506.9 221.8h1.7v1.7h-1.7zM544.0 238.5h1.7v1.7h-1.7zM494.8 194.1h1.7v1.7h-1.7zM523.8 218.0h1.7v1.7h-1.7zM547.0 217.6h1.7v1.7h-1.7zM530.7 230.0h1.7v1.7h-1.7zM546.8 191.7h1.7v1.7h-1.7zM531.9 237.2h1.7v1.7h-1.7zM516.0 223.1h1.7v1.7h-1.7zM537.7 238.0h1.7v1.7h-1.7zM530.2 232.9h1.7v1.7h-1.7zM525.0 202.1h1.7v1.7h-1.7zM539.6 234.1h1.7v1.7h-1.7zM559.0 225.4h1.7v1.7h-1.7zM549.7 208.2h1.7v1.7h-1.7zM540.3 239.4h1.7v1.7h-1.7zM539.2 239.7h1.7v1.7h-1.7zM537.5 240.6h1.7v1.7h-1.7zM548.6 229.8h1.7v1.7h-1.7zM532.8 241.3h1.7v1.7h-1.7zM519.6 198.5h1.7v1.7h-1.7zM539.8 238.1h1.7v1.7h-1.7zM537.6 235.7h1.7v1.7h-1.7zM539.1 240.0h1.7v1.7h-1.7zM517.8 201.3h1.7v1.7h-1.7zM523.8 229.1h1.7v1.7h-1.7zM558.1 219.7h1.7v1.7h-1.7zM530.0 235.6h1.7v1.7h-1.7zM527.8 235.4h1.7v1.7h-1.7zM550.7 227.9h1.7v1.7h-1.7zM523.0 232.3h1.7v1.7h-1.7zM535.3 240.7h1.7v1.7h-1.7zM497.6 220.9h1.7v1.7h-1.7zM508.7 201.6h1.7v1.7h-1.7zM549.1 231.0h1.7v1.7h-1.7zM540.9 228.6h1.7v1.7h-1.7zM538.2 239.4h1.7v1.7h-1.7zM549.1 186.5h1.7v1.7h-1.7zM536.4 238.7h1.7v1.7h-1.7zM538.4 234.1h1.7v1.7h-1.7zM550.9 195.3h1.7v1.7h-1.7zM528.1 234.7h1.7v1.7h-1.7zM525.6 206.8h1.7v1.7h-1.7zM537.0 240.7h1.7v1.7h-1.7zM527.1 238.6h1.7v1.7h-1.7zM539.9 233.9h1.7v1.7h-1.7zM540.5 227.1h1.7v1.7h-1.7zM582.9 200.8h1.7v1.7h-1.7zM544.4 207.1h1.7v1.7h-1.7zM548.0 197.6h1.7v1.7h-1.7zM526.8 230.8h1.7v1.7h-1.7zM502.4 209.9h1.7v1.7h-1.7zM555.7 201.4h1.7v1.7h-1.7zM549.0 224.3h1.7v1.7h-1.7zM536.5 236.6h1.7v1.7h-1.7zM534.3 242.1h1.7v1.7h-1.7zM532.3 238.2h1.7v1.7h-1.7zM530.5 230.5h1.7v1.7h-1.7zM557.5 228.3h1.7v1.7h-1.7zM507.5 197.7h1.7v1.7h-1.7zM543.1 227.2h1.7v1.7h-1.7zM510.8 219.3h1.7v1.7h-1.7zM521.3 196.3h1.7v1.7h-1.7zM517.9 231.9h1.7v1.7h-1.7zM530.7 238.5h1.7v1.7h-1.7zM539.3 225.0h1.7v1.7h-1.7zM543.1 223.3h1.7v1.7h-1.7zM541.2 220.1h1.7v1.7h-1.7zM540.8 235.2h1.7v1.7h-1.7zM544.8 226.6h1.7v1.7h-1.7zM514.3 209.6h1.7v1.7h-1.7zM530.9 236.1h1.7v1.7h-1.7zM530.6 238.0h1.7v1.7h-1.7zM519.7 233.4h1.7v1.7h-1.7zM523.6 234.8h1.7v1.7h-1.7zM535.5 240.6h1.7v1.7h-1.7zM531.7 241.2h1.7v1.7h-1.7zM548.4 187.1h1.7v1.7h-1.7zM513.7 216.1h1.7v1.7h-1.7zM525.3 238.7h1.7v1.7h-1.7zM563.2 210.5h1.7v1.7h-1.7zM490.0 210.5h1.7v1.7h-1.7zM524.8 206.0h1.7v1.7h-1.7zM529.0 226.5h1.7v1.7h-1.7zM515.4 210.2h1.7v1.7h-1.7zM537.9 239.1h1.7v1.7h-1.7zM522.2 223.7h1.7v1.7h-1.7zM530.8 234.1h1.7v1.7h-1.7zM533.6 241.2h1.7v1.7h-1.7zM507.0 228.0h1.7v1.7h-1.7zM539.6 235.4h1.7v1.7h-1.7zM532.4 239.5h1.7v1.7h-1.7zM514.1 191.3h1.7v1.7h-1.7zM538.7 236.3h1.7v1.7h-1.7zM546.3 226.1h1.7v1.7h-1.7zM530.1 230.6h1.7v1.7h-1.7zM548.6 219.7h1.7v1.7h-1.7zM549.0 207.7h1.7v1.7h-1.7zM535.9 239.0h1.7v1.7h-1.7zM523.7 237.5h1.7v1.7h-1.7zM523.0 211.8h1.7v1.7h-1.7zM524.1 234.1h1.7v1.7h-1.7zM548.9 192.1h1.7v1.7h-1.7zM530.0 236.0h1.7v1.7h-1.7zM511.3 225.6h1.7v1.7h-1.7zM537.5 233.5h1.7v1.7h-1.7zM520.7 228.3h1.7v1.7h-1.7zM510.8 227.2h1.7v1.7h-1.7zM530.4 227.6h1.7v1.7h-1.7zM521.0 208.0h1.7v1.7h-1.7zM531.4 235.3h1.7v1.7h-1.7zM514.1 192.8h1.7v1.7h-1.7zM554.5 204.9h1.7v1.7h-1.7zM525.3 220.5h1.7v1.7h-1.7zM519.3 227.2h1.7v1.7h-1.7zM557.2 213.8h1.7v1.7h-1.7zM545.8 207.7h1.7v1.7h-1.7zM541.1 239.2h1.7v1.7h-1.7zM558.1 205.2h1.7v1.7h-1.7zM524.0 222.8h1.7v1.7h-1.7zM535.8 240.4h1.7v1.7h-1.7zM524.3 218.1h1.7v1.7h-1.7zM539.8 239.5h1.7v1.7h-1.7zM523.2 201.1h1.7v1.7h-1.7zM511.4 226.9h1.7v1.7h-1.7zM549.8 210.0h1.7v1.7h-1.7zM538.5 229.5h1.7v1.7h-1.7zM550.9 219.6h1.7v1.7h-1.7zM517.8 191.7h1.7v1.7h-1.7zM531.1 237.4h1.7v1.7h-1.7zM545.0 214.8h1.7v1.7h-1.7zM533.9 240.9h1.7v1.7h-1.7zM524.9 234.6h1.7v1.7h-1.7zM524.9 226.8h1.7v1.7h-1.7zM538.1 240.4h1.7v1.7h-1.7zM536.0 239.6h1.7v1.7h-1.7zM511.5 221.9h1.7v1.7h-1.7zM508.7 186.3h1.7v1.7h-1.7zM544.1 201.3h1.7v1.7h-1.7zM547.0 201.8h1.7v1.7h-1.7zM542.7 233.3h1.7v1.7h-1.7zM526.1 226.9h1.7v1.7h-1.7zM552.7 233.4h1.7v1.7h-1.7zM506.5 194.6h1.7v1.7h-1.7zM542.8 218.6h1.7v1.7h-1.7zM552.4 214.1h1.7v1.7h-1.7zM520.6 224.0h1.7v1.7h-1.7zM537.6 231.8h1.7v1.7h-1.7zM523.6 205.9h1.7v1.7h-1.7zM560.0 227.1h1.7v1.7h-1.7zM532.4 240.5h1.7v1.7h-1.7zM551.7 201.0h1.7v1.7h-1.7zM558.3 193.5h1.7v1.7h-1.7zM544.1 232.0h1.7v1.7h-1.7zM518.2 205.1h1.7v1.7h-1.7zM553.7 208.5h1.7v1.7h-1.7zM517.0 207.3h1.7v1.7h-1.7zM534.2 242.0h1.7v1.7h-1.7zM541.7 222.8h1.7v1.7h-1.7zM502.9 222.0h1.7v1.7h-1.7zM560.3 209.2h1.7v1.7h-1.7zM538.6 239.6h1.7v1.7h-1.7zM537.1 240.6h1.7v1.7h-1.7zM521.0 192.0h1.7v1.7h-1.7zM522.7 204.4h1.7v1.7h-1.7zM557.4 196.5h1.7v1.7h-1.7zM559.1 206.3h1.7v1.7h-1.7zM534.0 241.2h1.7v1.7h-1.7zM545.9 231.1h1.7v1.7h-1.7zM486.9 188.7h1.7v1.7h-1.7zM541.3 214.1h1.7v1.7h-1.7zM523.7 201.4h1.7v1.7h-1.7zM517.9 209.0h1.7v1.7h-1.7zM520.8 235.1h1.7v1.7h-1.7zM536.6 239.1h1.7v1.7h-1.7zM542.5 226.2h1.7v1.7h-1.7zM533.8 241.4h1.7v1.7h-1.7zM532.9 240.3h1.7v1.7h-1.7zM532.8 238.8h1.7v1.7h-1.7zM554.7 209.6h1.7v1.7h-1.7zM515.4 229.1h1.7v1.7h-1.7zM541.1 236.9h1.7v1.7h-1.7zM544.9 231.3h1.7v1.7h-1.7zM529.0 228.6h1.7v1.7h-1.7zM546.3 227.1h1.7v1.7h-1.7zM522.7 215.3h1.7v1.7h-1.7zM527.9 229.8h1.7v1.7h-1.7zM514.9 191.3h1.7v1.7h-1.7zM542.1 231.5h1.7v1.7h-1.7zM506.4 187.0h1.7v1.7h-1.7zM508.6 203.0h1.7v1.7h-1.7zM523.7 203.6h1.7v1.7h-1.7zM504.1 198.1h1.7v1.7h-1.7zM510.8 194.1h1.7v1.7h-1.7zM518.9 191.7h1.7v1.7h-1.7zM525.9 220.0h1.7v1.7h-1.7zM519.5 191.1h1.7v1.7h-1.7zM510.8 191.4h1.7v1.7h-1.7zM524.1 202.0h1.7v1.7h-1.7zM519.9 198.9h1.7v1.7h-1.7zM513.4 202.8h1.7v1.7h-1.7zM512.5 204.5h1.7v1.7h-1.7zM517.9 220.8h1.7v1.7h-1.7zM521.2 201.6h1.7v1.7h-1.7zM510.4 196.9h1.7v1.7h-1.7zM519.8 209.3h1.7v1.7h-1.7zM528.0 217.0h1.7v1.7h-1.7zM512.2 212.5h1.7v1.7h-1.7zM514.2 197.9h1.7v1.7h-1.7zM507.5 192.2h1.7v1.7h-1.7zM514.0 202.7h1.7v1.7h-1.7zM510.7 188.3h1.7v1.7h-1.7zM512.2 192.7h1.7v1.7h-1.7zM520.7 198.8h1.7v1.7h-1.7zM520.5 213.2h1.7v1.7h-1.7zM509.2 185.8h1.7v1.7h-1.7zM509.1 201.0h1.7v1.7h-1.7zM512.2 186.8h1.7v1.7h-1.7zM517.9 185.9h1.7v1.7h-1.7zM499.2 185.8h1.7v1.7h-1.7zM520.3 212.1h1.7v1.7h-1.7zM523.9 226.6h1.7v1.7h-1.7zM518.1 206.7h1.7v1.7h-1.7zM521.4 203.5h1.7v1.7h-1.7zM521.8 216.1h1.7v1.7h-1.7zM512.9 208.0h1.7v1.7h-1.7zM533.5 240.9h1.7v1.7h-1.7zM515.0 195.3h1.7v1.7h-1.7zM513.0 186.6h1.7v1.7h-1.7zM506.3 202.7h1.7v1.7h-1.7zM520.4 187.0h1.7v1.7h-1.7zM509.5 187.7h1.7v1.7h-1.7zM506.1 217.0h1.7v1.7h-1.7zM504.1 185.5h1.7v1.7h-1.7zM519.7 186.3h1.7v1.7h-1.7zM511.4 187.5h1.7v1.7h-1.7zM523.7 222.6h1.7v1.7h-1.7zM517.0 200.5h1.7v1.7h-1.7zM523.0 204.2h1.7v1.7h-1.7zM529.3 230.7h1.7v1.7h-1.7zM508.6 199.0h1.7v1.7h-1.7zM512.8 187.9h1.7v1.7h-1.7zM517.7 212.6h1.7v1.7h-1.7zM517.2 185.7h1.7v1.7h-1.7zM518.5 219.8h1.7v1.7h-1.7zM517.5 225.0h1.7v1.7h-1.7zM513.9 199.7h1.7v1.7h-1.7zM521.5 203.8h1.7v1.7h-1.7zM508.2 209.4h1.7v1.7h-1.7zM501.6 197.4h1.7v1.7h-1.7zM517.4 216.8h1.7v1.7h-1.7zM526.3 225.7h1.7v1.7h-1.7zM514.0 192.3h1.7v1.7h-1.7zM510.1 198.7h1.7v1.7h-1.7zM515.5 197.9h1.7v1.7h-1.7zM510.5 186.0h1.7v1.7h-1.7zM503.4 205.2h1.7v1.7h-1.7zM512.4 186.3h1.7v1.7h-1.7zM515.2 226.8h1.7v1.7h-1.7zM514.8 195.4h1.7v1.7h-1.7zM514.5 191.2h1.7v1.7h-1.7zM515.2 192.0h1.7v1.7h-1.7zM511.8 195.0h1.7v1.7h-1.7zM518.2 200.8h1.7v1.7h-1.7zM520.9 229.5h1.7v1.7h-1.7zM508.3 200.5h1.7v1.7h-1.7zM514.3 201.9h1.7v1.7h-1.7zM519.7 215.9h1.7v1.7h-1.7zM510.8 186.3h1.7v1.7h-1.7zM520.2 192.8h1.7v1.7h-1.7zM518.6 186.5h1.7v1.7h-1.7zM517.7 203.5h1.7v1.7h-1.7zM510.9 212.6h1.7v1.7h-1.7zM520.4 199.9h1.7v1.7h-1.7zM516.7 205.0h1.7v1.7h-1.7zM536.0 240.0h1.7v1.7h-1.7zM509.4 189.7h1.7v1.7h-1.7zM516.4 196.7h1.7v1.7h-1.7zM502.8 195.1h1.7v1.7h-1.7zM514.6 188.7h1.7v1.7h-1.7zM507.9 210.8h1.7v1.7h-1.7zM511.6 228.0h1.7v1.7h-1.7zM521.5 195.4h1.7v1.7h-1.7zM514.6 199.4h1.7v1.7h-1.7zM519.5 205.0h1.7v1.7h-1.7zM512.1 189.4h1.7v1.7h-1.7zM521.0 232.0h1.7v1.7h-1.7zM505.8 200.0h1.7v1.7h-1.7zM517.7 202.3h1.7v1.7h-1.7zM519.4 188.5h1.7v1.7h-1.7zM508.6 188.3h1.7v1.7h-1.7zM526.4 233.4h1.7v1.7h-1.7zM518.5 187.6h1.7v1.7h-1.7zM515.5 193.0h1.7v1.7h-1.7zM495.2 209.1h1.7v1.7h-1.7zM505.1 195.5h1.7v1.7h-1.7zM512.3 204.7h1.7v1.7h-1.7zM509.7 187.6h1.7v1.7h-1.7zM509.6 191.5h1.7v1.7h-1.7zM510.7 195.4h1.7v1.7h-1.7zM527.7 229.0h1.7v1.7h-1.7zM504.0 186.0h1.7v1.7h-1.7zM512.1 207.8h1.7v1.7h-1.7zM518.6 219.1h1.7v1.7h-1.7zM521.0 220.8h1.7v1.7h-1.7zM516.1 191.2h1.7v1.7h-1.7z"/>
<path fill="#0000ff" d="M503.4 162.6h1.9v1.9h-1.9zM494.4 144.7h1.9v1.9h-1.9zM510.6 157.0h1.9v1.9h-1.9zM514.0 169.2h1.9v1.9h-1.9zM508.1 176.9h1.9v1.9h-1.9zM500.0 163.7h1.9v1.9h-1.9zM514.2 173.0h1.9v1.9h-1.9zM508.1 175.9h1.9v1.9h-1.9zM508.6 178.9h1.9v1.9h-1.9zM514.0 160.5h1.9v1.9h-1.9zM509.9 169.3h1.9v1.9h-1.9zM515.7 185.1h1.9v1.9h-1.9zM519.0 182.9h1.9v1.9h-1.9zM492.1 171.2h1.9v1.9h-1.9zM485.8 161.4h1.9v1.9h-1.9zM505.7 178.7h1.9v1.9h-1.9zM504.3 175.3h1.9v1.9h-1.9zM519.3 183.3h1.9v1.9h-1.9zM504.1 174.4h1.9v1.9h-1.9zM507.8 161.1h1.9v1.9h-1.9zM516.0 177.8h1.9v1.9h-1.9zM503.3 177.9h1.9v1.9h-1.9zM510.3 157.9h1.9v1.9h-1.9zM509.9 176.2h1.9v1.9h-1.9zM480.5 162.1h1.9v1.9h-1.9zM496.1 150.2h1.9v1.9h-1.9zM516.3 181.8h1.9v1.9h-1.9zM512.5 164.9h1.9v1.9h-1.9zM506.3 177.6h1.9v1.9h-1.9zM499.0 173.5h1.9v1.9h-1.9zM515.9 178.2h1.9v1.9h-1.9zM509.6 181.5h1.9v1.9h-1.9zM482.2 152.8h1.9v1.9h-1.9zM502.2 152.2h1.9v1.9h-1.9zM515.7 173.3h1.9v1.9h-1.9zM502.8 183.3h1.9v1.9h-1.9zM506.6 179.7h1.9v1.9h-1.9zM512.9 183.5h1.9v1.9h-1.9zM483.4 158.3h1.9v1.9h-1.9zM510.5 181.1h1.9v1.9h-1.9zM508.5 183.4h1.9v1.9h-1.9zM499.5 154.1h1.9v1.9h-1.9zM502.0 161.6h1.9v1.9h-1.9zM516.6 169.0h1.9v1.9h-1.9zM518.6 179.1h1.9v1.9h-1.9zM499.9 160.5h1.9v1.9h-1.9zM512.6 179.5h1.9v1.9h-1.9zM503.7 182.9h1.9v1.9h-1.9zM495.5 128.4h1.9v1.9h-1.9zM507.1 166.5h1.9v1.9h-1.9zM512.6 181.3h1.9v1.9h-1.9zM505.6 182.7h1.9v1.9h-1.9zM494.9 180.7h1.9v1.9h-1.9zM511.6 171.0h1.9v1.9h-1.9zM504.0 151.7h1.9v1.9h-1.9zM516.2 173.5h1.9v1.9h-1.9zM511.6 164.1h1.9v1.9h-1.9zM504.6 167.5h1.9v1.9h-1.9zM510.4 175.4h1.9v1.9h-1.9zM512.5 168.3h1.9v1.9h-1.9zM514.3 173.0h1.9v1.9h-1.9zM517.8 179.8h1.9v1.9h-1.9zM511.9 162.5h1.9v1.9h-1.9zM517.6 178.6h1.9v1.9h-1.9zM505.4 178.3h1.9v1.9h-1.9zM504.0 184.8h1.9v1.9h-1.9zM511.3 156.2h1.9v1.9h-1.9zM501.4 174.7h1.9v1.9h-1.9zM496.1 177.1h1.9v1.9h-1.9zM497.5 177.4h1.9v1.9h-1.9zM489.5 182.9h1.9v1.9h-1.9zM493.8 173.8h1.9v1.9h-1.9zM481.5 172.4h1.9v1.9h-1.9zM490.0 128.6h1.9v1.9h-1.9zM500.7 169.3h1.9v1.9h-1.9zM501.1 171.3h1.9v1.9h-1.9zM496.0 176.9h1.9v1.9h-1.9zM520.6 184.1h1.9v1.9h-1.9zM514.2 171.0h1.9v1.9h-1.9zM510.2 171.0h1.9v1.9h-1.9zM503.8 179.3h1.9v1.9h-1.9zM501.2 132.2h1.9v1.9h-1.9zM477.4 150.4h1.9v1.9h-1.9zM504.3 172.0h1.9v1.9h-1.9zM517.6 181.1h1.9v1.9h-1.9zM504.2 161.9h1.9v1.9h-1.9zM514.2 183.4h1.9v1.9h-1.9zM517.7 172.8h1.9v1.9h-1.9zM493.5 151.5h1.9v1.9h-1.9zM487.8 161.7h1.9v1.9h-1.9zM509.5 167.8h1.9v1.9h-1.9zM476.2 154.1h1.9v1.9h-1.9zM496.1 173.6h1.9v1.9h-1.9zM513.2 162.2h1.9v1.9h-1.9zM501.2 151.8h1.9v1.9h-1.9zM508.4 168.7h1.9v1.9h-1.9zM515.6 183.6h1.9v1.9h-1.9zM511.0 182.9h1.9v1.9h-1.9zM509.3 174.5h1.9v1.9h-1.9zM517.7 178.8h1.9v1.9h-1.9zM514.5 175.3h1.9v1.9h-1.9zM507.7 164.7h1.9v1.9h-1.9zM505.0 153.2h1.9v1.9h-1.9zM506.8 183.1h1.9v1.9h-1.9zM497.6 152.6h1.9v1.9h-1.9zM500.2 157.4h1.9v1.9h-1.9zM511.7 167.8h1.9v1.9h-1.9zM515.9 176.3h1.9v1.9h-1.9zM507.4 167.1h1.9v1.9h-1.9zM517.3 184.6h1.9v1.9h-1.9zM501.6 154.0h1.9v1.9h-1.9zM500.5 152.6h1.9v1.9h-1.9zM507.6 184.2h1.9v1.9h-1.9zM512.0 161.5h1.9v1.9h-1.9zM498.1 167.6h1.9v1.9h-1.9zM510.1 162.6h1.9v1.9h-1.9zM496.7 180.7h1.9v1.9h-1.9zM498.5 182.5h1.9v1.9h-1.9zM479.8 168.6h1.9v1.9h-1.9zM497.2 166.5h1.9v1.9h-1.9zM507.4 168.5h1.9v1.9h-1.9zM514.9 175.0h1.9v1.9h-1.9zM507.9 154.9h1.9v1.9h-1.9zM488.9 174.3h1.9v1.9h-1.9zM504.7 170.0h1.9v1.9h-1.9zM511.0 165.5h1.9v1.9h-1.9zM519.2 181.8h1.9v1.9h-1.9zM497.5 132.6h1.9v1.9h-1.9zM513.8 183.2h1.9v1.9h-1.9zM494.1 141.4h1.9v1.9h-1.9zM492.7 176.9h1.9v1.9h-1.9zM508.4 179.2h1.9v1.9h-1.9zM512.3 170.9h1.9v1.9h-1.9zM504.8 140.5h1.9v1.9h-1.9zM513.5 184.4h1.9v1.9h-1.9zM514.2 176.8h1.9v1.9h-1.9zM489.2 182.4h1.9v1.9h-1.9zM510.5 181.6h1.9v1.9h-1.9zM516.3 178.5h1.9v1.9h-1.9zM495.5 116.7h1.9v1.9h-1.9zM518.6 177.5h1.9v1.9h-1.9zM512.0 165.5h1.9v1.9h-1.9zM517.2 175.8h1.9v1.9h-1.9zM504.2 167.4h1.9v1.9h-1.9zM481.6 118.1h1.9v1.9h-1.9zM495.8 155.0h1.9v1.9h-1.9zM493.7 170.5h1.9v1.9h-1.9zM516.3 174.2h1.9v1.9h-1.9zM515.7 173.8h1.9v1.9h-1.9zM516.9 173.7h1.9v1.9h-1.9zM509.3 153.8h1.9v1.9h-1.9zM496.8 142.1h1.9v1.9h-1.9zM498.8 180.9h1.9v1.9h-1.9zM499.1 182.0h1.9v1.9h-1.9zM515.0 184.3h1.9v1.9h-1.9zM503.8 154.1h1.9v1.9h-1.9zM494.6 151.9h1.9v1.9h-1.9zM515.3 171.6h1.9v1.9h-1.9zM500.4 181.1h1.9v1.9h-1.9zM513.1 169.8h1.9v1.9h-1.9zM513.1 160.0h1.9v1.9h-1.9zM515.0 173.1h1.9v1.9h-1.9zM515.1 176.8h1.9v1.9h-1.9zM517.5 172.6h1.9v1.9h-1.9zM480.8 170.4h1.9v1.9h-1.9zM514.0 183.5h1.9v1.9h-1.9zM500.9 137.5h1.9v1.9h-1.9zM498.3 179.1h1.9v1.9h-1.9zM492.4 183.0h1.9v1.9h-1.9zM486.4 152.6h1.9v1.9h-1.9zM492.3 179.0h1.9v1.9h-1.9zM477.2 181.7h1.9v1.9h-1.9zM508.0 163.5h1.9v1.9h-1.9zM512.2 181.6h1.9v1.9h-1.9zM513.5 183.8h1.9v1.9h-1.9zM500.2 165.4h1.9v1.9h-1.9zM492.6 137.8h1.9v1.9h-1.9zM514.0 163.9h1.9v1.9h-1.9zM518.0 175.7h1.9v1.9h-1.9zM508.7 182.2h1.9v1.9h-1.9zM504.2 173.3h1.9v1.9h-1.9zM496.4 157.3h1.9v1.9h-1.9zM516.7 184.3h1.9v1.9h-1.9zM517.3 177.3h1.9v1.9h-1.9zM495.1 160.1h1.9v1.9h-1.9zM509.5 162.2h1.9v1.9h-1.9zM485.7 142.7h1.9v1.9h-1.9zM507.9 163.1h1.9v1.9h-1.9zM513.0 156.9h1.9v1.9h-1.9zM505.5 182.3h1.9v1.9h-1.9zM514.8 167.5h1.9v1.9h-1.9zM499.9 149.6h1.9v1.9h-1.9zM504.0 138.1h1.9v1.9h-1.9zM518.9 181.0h1.9v1.9h-1.9zM498.6 149.2h1.9v1.9h-1.9zM506.6 151.3h1.9v1.9h-1.9zM510.6 168.9h1.9v1.9h-1.9zM511.8 166.7h1.9v1.9h-1.9zM510.2 157.2h1.9v1.9h-1.9zM505.1 171.5h1.9v1.9h-1.9zM491.5 132.1h1.9v1.9h-1.9zM483.7 152.6h1.9v1.9h-1.9zM502.6 182.9h1.9v1.9h-1.9zM503.2 157.0h1.9v1.9h-1.9zM515.4 182.5h1.9v1.9h-1.9zM511.3 166.5h1.9v1.9h-1.9zM499.9 180.3h1.9v1.9h-1.9zM510.9 166.2h1.9v1.9h-1.9zM515.9 173.9h1.9v1.9h-1.9zM501.8 174.0h1.9v1.9h-1.9zM506.1 166.4h1.9v1.9h-1.9zM512.3 169.0h1.9v1.9h-1.9zM506.9 159.8h1.9v1.9h-1.9zM519.3 184.3h1.9v1.9h-1.9zM504.6 164.3h1.9v1.9h-1.9zM508.7 150.5h1.9v1.9h-1.9zM498.8 171.2h1.9v1.9h-1.9zM499.1 167.2h1.9v1.9h-1.9zM500.4 168.3h1.9v1.9h-1.9zM512.5 177.7h1.9v1.9h-1.9zM507.8 171.3h1.9v1.9h-1.9zM516.4 169.4h1.9v1.9h-1.9zM484.6 159.2h1.9v1.9h-1.9zM506.5 161.4h1.9v1.9h-1.9zM516.7 172.7h1.9v1.9h-1.9zM515.5 172.8h1.9v1.9h-1.9zM505.2 162.7h1.9v1.9h-1.9zM496.4 178.9h1.9v1.9h-1.9zM518.7 177.1h1.9v1.9h-1.9zM504.7 159.6h1.9v1.9h-1.9zM495.7 151.9h1.9v1.9h-1.9zM503.0 146.0h1.9v1.9h-1.9zM510.6 159.7h1.9v1.9h-1.9zM502.7 182.5h1.9v1.9h-1.9zM486.2 163.3h1.9v1.9h-1.9zM505.2 156.1h1.9v1.9h-1.9zM509.4 150.7h1.9v1.9h-1.9zM513.4 172.9h1.9v1.9h-1.9zM502.7 152.6h1.9v1.9h-1.9zM499.0 128.6h1.9v1.9h-1.9zM514.2 170.5h1.9v1.9h-1.9zM510.1 178.0h1.9v1.9h-1.9zM506.2 141.9h1.9v1.9h-1.9zM512.2 167.7h1.9v1.9h-1.9zM519.2 180.8h1.9v1.9h-1.9zM501.0 138.6h1.9v1.9h-1.9zM489.9 153.8h1.9v1.9h-1.9zM493.1 113.8h1.9v1.9h-1.9zM516.6 172.6h1.9v1.9h-1.9zM514.2 182.3h1.9v1.9h-1.9zM509.5 177.0h1.9v1.9h-1.9zM512.4 159.1h1.9v1.9h-1.9zM519.8 183.1h1.9v1.9h-1.9zM509.4 182.0h1.9v1.9h-1.9zM489.6 170.4h1.9v1.9h-1.9zM491.3 117.3h1.9v1.9h-1.9zM506.1 155.2h1.9v1.9h-1.9zM501.5 153.8h1.9v1.9h-1.9zM501.1 164.6h1.9v1.9h-1.9zM508.5 145.8h1.9v1.9h-1.9zM515.7 178.0h1.9v1.9h-1.9zM517.0 179.2h1.9v1.9h-1.9zM511.4 174.1h1.9v1.9h-1.9zM504.2 163.9h1.9v1.9h-1.9zM508.4 181.0h1.9v1.9h-1.9zM513.0 166.2h1.9v1.9h-1.9zM507.6 178.9h1.9v1.9h-1.9zM520.1 183.5h1.9v1.9h-1.9zM500.7 157.5h1.9v1.9h-1.9zM503.6 147.5h1.9v1.9h-1.9zM512.8 172.2h1.9v1.9h-1.9zM512.9 174.9h1.9v1.9h-1.9zM503.7 158.1h1.9v1.9h-1.9zM500.5 160.5h1.9v1.9h-1.9zM515.4 172.7h1.9v1.9h-1.9zM516.3 170.4h1.9v1.9h-1.9zM505.7 158.1h1.9v1.9h-1.9zM490.3 182.1h1.9v1.9h-1.9zM493.0 181.3h1.9v1.9h-1.9zM511.3 175.6h1.9v1.9h-1.9zM511.0 161.9h1.9v1.9h-1.9zM510.8 180.3h1.9v1.9h-1.9zM517.3 172.9h1.9v1.9h-1.9zM516.2 169.2h1.9v1.9h-1.9zM494.5 127.8h1.9v1.9h-1.9zM501.7 143.5h1.9v1.9h-1.9zM498.5 126.6h1.9v1.9h-1.9zM519.0 180.2h1.9v1.9h-1.9zM503.3 162.4h1.9v1.9h-1.9zM511.8 175.2h1.9v1.9h-1.9zM515.0 184.9h1.9v1.9h-1.9zM513.8 177.6h1.9v1.9h-1.9zM476.6 132.7h1.9v1.9h-1.9zM483.9 184.1h1.9v1.9h-1.9zM511.8 170.0h1.9v1.9h-1.9zM500.0 163.4h1.9v1.9h-1.9zM484.5 181.7h1.9v1.9h-1.9zM514.6 169.3h1.9v1.9h-1.9zM483.0 120.3h1.9v1.9h-1.9zM498.9 156.6h1.9v1.9h-1.9zM510.3 178.7h1.9v1.9h-1.9zM488.9 117.2h1.9v1.9h-1.9zM513.6 164.5h1.9v1.9h-1.9zM509.9 176.2h1.9v1.9h-1.9zM508.0 181.2h1.9v1.9h-1.9zM511.5 157.2h1.9v1.9h-1.9zM504.5 166.0h1.9v1.9h-1.9zM492.9 171.9h1.9v1.9h-1.9zM510.8 163.8h1.9v1.9h-1.9zM504.4 160.0h1.9v1.9h-1.9zM509.7 152.2h1.9v1.9h-1.9zM505.6 153.5h1.9v1.9h-1.9zM490.5 172.8h1.9v1.9h-1.9zM517.2 184.5h1.9v1.9h-1.9zM504.7 134.7h1.9v1.9h-1.9zM509.7 157.4h1.9v1.9h-1.9zM491.6 160.7h1.9v1.9h-1.9zM515.4 176.4h1.9v1.9h-1.9zM478.5 177.2h1.9v1.9h-1.9zM514.0 165.1h1.9v1.9h-1.9zM509.0 157.8h1.9v1.9h-1.9zM510.1 152.0h1.9v1.9h-1.9zM512.6 168.5h1.9v1.9h-1.9zM490.5 114.9h1.9v1.9h-1.9zM516.3 169.4h1.9v1.9h-1.9zM510.9 152.2h1.9v1.9h-1.9zM519.4 179.9h1.9v1.9h-1.9zM504.1 156.5h1.9v1.9h-1.9zM508.9 184.5h1.9v1.9h-1.9zM502.6 155.0h1.9v1.9h-1.9zM514.9 179.1h1.9v1.9h-1.9zM511.2 182.1h1.9v1.9h-1.9zM505.1 156.0h1.9v1.9h-1.9zM508.1 180.1h1.9v1.9h-1.9zM507.8 166.9h1.9v1.9h-1.9zM507.3 167.3h1.9v1.9h-1.9zM507.5 184.6h1.9v1.9h-1.9zM508.4 175.0h1.9v1.9h-1.9zM507.8 146.0h1.9v1.9h-1.9zM514.9 164.3h1.9v1.9h-1.9zM507.8 152.3h1.9v1.9h-1.9zM508.3 162.3h1.9v1.9h-1.9zM501.6 158.8h1.9v1.9h-1.9zM504.2 170.7h1.9v1.9h-1.9zM511.8 175.4h1.9v1.9h-1.9zM505.4 140.3h1.9v1.9h-1.9zM512.0 157.0h1.9v1.9h-1.9zM514.1 180.6h1.9v1.9h-1.9zM505.0 165.0h1.9v1.9h-1.9zM515.2 168.9h1.9v1.9h-1.9zM514.1 162.4h1.9v1.9h-1.9zM504.9 178.5h1.9v1.9h-1.9zM507.0 159.3h1.9v1.9h-1.9zM516.4 178.0h1.9v1.9h-1.9zM510.7 155.1h1.9v1.9h-1.9zM514.7 167.0h1.9v1.9h-1.9zM504.2 150.4h1.9v1.9h-1.9zM512.5 178.6h1.9v1.9h-1.9zM507.1 161.0h1.9v1.9h-1.9zM506.4 154.0h1.9v1.9h-1.9zM513.4 183.2h1.9v1.9h-1.9zM520.2 183.6h1.9v1.9h-1.9zM500.5 173.5h1.9v1.9h-1.9zM503.2 161.6h1.9v1.9h-1.9zM505.8 140.5h1.9v1.9h-1.9zM505.1 149.5h1.9v1.9h-1.9zM510.5 177.2h1.9v1.9h-1.9zM509.6 166.8h1.9v1.9h-1.9zM513.9 164.3h1.9v1.9h-1.9zM511.2 154.6h1.9v1.9h-1.9zM511.3 169.1h1.9v1.9h-1.9zM506.8 172.1h1.9v1.9h-1.9zM512.6 180.4h1.9v1.9h-1.9zM517.7 181.3h1.9v1.9h-1.9zM502.5 161.7h1.9v1.9h-1.9zM511.9 184.1h1.9v1.9h-1.9zM504.0 168.8h1.9v1.9h-1.9zM495.9 179.8h1.9v1.9h-1.9zM508.4 146.6h1.9v1.9h-1.9zM492.0 174.8h1.9v1.9h-1.9zM505.8 174.3h1.9v1.9h-1.9zM509.2 171.6h1.9v1.9h-1.9zM509.8 182.2h1.9v1.9h-1.9zM501.8 156.1h1.9v1.9h-1.9zM512.1 180.3h1.9v1.9h-1.9zM503.4 152.5h1.9v1.9h-1.9zM509.7 184.4h1.9v1.9h-1.9zM504.1 153.3h1.9v1.9h-1.9zM500.5 131.0h1.9v1.9h-1.9zM500.5 161.6h1.9v1.9h-1.9zM509.0 183.6h1.9v1.9h-1.9zM503.1 168.0h1.9v1.9h-1.9zM510.2 181.9h1.9v1.9h-1.9zM503.4 156.5h1.9v1.9h-1.9zM501.6 169.4h1.9v1.9h-1.9zM508.2 149.6h1.9v1.9h-1.9zM505.6 157.7h1.9v1.9h-1.9zM510.2 181.9h1.9v1.9h-1.9zM511.3 154.3h1.9v1.9h-1.9zM508.5 153.3h1.9v1.9h-1.9zM510.9 180.4h1.9v1.9h-1.9zM508.6 156.1h1.9v1.9h-1.9zM508.0 179.4h1.9v1.9h-1.9zM507.6 153.7h1.9v1.9h-1.9zM511.5 169.4h1.9v1.9h-1.9zM510.5 184.7h1.9v1.9h-1.9zM503.2 177.7h1.9v1.9h-1.9zM515.5 182.8h1.9v1.9h-1.9zM514.3 170.3h1.9v1.9h-1.9zM511.6 159.3h1.9v1.9h-1.9zM510.9 164.8h1.9v1.9h-1.9zM508.8 171.3h1.9v1.9h-1.9zM517.5 176.9h1.9v1.9h-1.9zM515.0 184.1h1.9v1.9h-1.9zM509.7 161.3h1.9v1.9h-1.9zM500.8 177.2h1.9v1.9h-1.9zM513.4 171.9h1.9v1.9h-1.9zM506.4 170.2h1.9v1.9h-1.9zM517.6 183.4h1.9v1.9h-1.9zM510.7 159.8h1.9v1.9h-1.9zM514.1 181.2h1.9v1.9h-1.9zM505.6 167.5h1.9v1.9h-1.9zM512.1 182.7h1.9v1.9h-1.9zM500.9 159.5h1.9v1.9h-1.9zM512.2 184.3h1.9v1.9h-1.9zM512.9 166.0h1.9v1.9h-1.9zM506.4 174.0h1.9v1.9h-1.9zM514.5 164.9h1.9v1.9h-1.9zM516.7 170.4h1.9v1.9h-1.9zM511.6 172.0h1.9v1.9h-1.9zM516.5 173.6h1.9v1.9h-1.9zM507.0 163.8h1.9v1.9h-1.9zM506.0 167.9h1.9v1.9h-1.9zM513.4 161.5h1.9v1.9h-1.9zM507.5 164.9h1.9v1.9h-1.9zM511.7 160.7h1.9v1.9h-1.9zM513.7 177.2h1.9v1.9h-1.9zM512.5 179.8h1.9v1.9h-1.9zM508.4 167.1h1.9v1.9h-1.9zM495.2 158.6h1.9v1.9h-1.9zM502.5 150.5h1.9v1.9h-1.9zM504.0 179.5h1.9v1.9h-1.9zM502.5 163.5h1.9v1.9h-1.9zM516.1 177.2h1.9v1.9h-1.9zM495.1 182.6h1.9v1.9h-1.9zM512.4 176.6h1.9v1.9h-1.9zM507.6 175.4h1.9v1.9h-1.9zM512.6 180.8h1.9v1.9h-1.9z"/>
<path fill="#ff0000" d="M562.1 173.4h1.9v1.9h-1.9zM570.2 174.6h1.9v1.9h-1.9zM585.0 142.2h1.9v1.9h-1.9zM564.4 165.4h1.9v1.9h-1.9zM557.4 182.9h1.9v1.9h-1.9zM550.4 179.5h1.9v1.9h-1.9zM557.5 182.9h1.9v1.9h-1.9zM556.0 179.8h1.9v1.9h-1.9zM577.7 181.8h1.9v1.9h-1.9zM570.6 185.0h1.9v1.9h-1.9zM569.4 180.5h1.9v1.9h-1.9zM554.1 181.7h1.9v1.9h-1.9zM569.5 171.6h1.9v1.9h-1.9zM557.2 177.9h1.9v1.9h-1.9zM567.7 164.0h1.9v1.9h-1.9zM560.6 180.3h1.9v1.9h-1.9zM575.2 181.4h1.9v1.9h-1.9zM555.0 173.1h1.9v1.9h-1.9zM553.8 163.7h1.9v1.9h-1.9zM560.6 169.8h1.9v1.9h-1.9zM568.5 150.8h1.9v1.9h-1.9zM561.8 165.0h1.9v1.9h-1.9zM564.7 155.3h1.9v1.9h-1.9zM568.1 182.0h1.9v1.9h-1.9zM552.6 183.2h1.9v1.9h-1.9zM563.2 152.3h1.9v1.9h-1.9zM563.9 173.7h1.9v1.9h-1.9zM572.3 161.6h1.9v1.9h-1.9zM552.1 180.5h1.9v1.9h-1.9zM561.8 178.7h1.9v1.9h-1.9zM564.4 173.6h1.9v1.9h-1.9zM563.3 150.0h1.9v1.9h-1.9zM572.6 180.5h1.9v1.9h-1.9zM560.9 178.1h1.9v1.9h-1.9zM562.7 165.6h1.9v1.9h-1.9zM558.5 175.0h1.9v1.9h-1.9zM569.3 166.9h1.9v1.9h-1.9zM558.5 182.0h1.9v1.9h-1.9zM548.6 182.2h1.9v1.9h-1.9zM563.5 170.4h1.9v1.9h-1.9zM556.3 162.3h1.9v1.9h-1.9zM565.0 154.8h1.9v1.9h-1.9zM553.3 168.6h1.9v1.9h-1.9zM554.1 163.3h1.9v1.9h-1.9zM563.6 179.6h1.9v1.9h-1.9zM557.7 169.0h1.9v1.9h-1.9zM551.0 177.2h1.9v1.9h-1.9zM561.8 142.4h1.9v1.9h-1.9zM575.8 129.8h1.9v1.9h-1.9zM565.7 147.9h1.9v1.9h-1.9zM567.7 158.9h1.9v1.9h-1.9zM551.1 183.3h1.9v1.9h-1.9zM573.3 169.8h1.9v1.9h-1.9zM560.9 168.0h1.9v1.9h-1.9zM553.9 174.4h1.9v1.9h-1.9zM552.7 171.0h1.9v1.9h-1.9zM557.9 181.9h1.9v1.9h-1.9zM552.5 183.1h1.9v1.9h-1.9zM561.8 168.3h1.9v1.9h-1.9zM555.0 171.6h1.9v1.9h-1.9zM551.3 177.9h1.9v1.9h-1.9zM558.8 171.6h1.9v1.9h-1.9zM589.8 158.3h1.9v1.9h-1.9zM549.8 182.8h1.9v1.9h-1.9zM560.4 171.4h1.9v1.9h-1.9zM572.1 171.3h1.9v1.9h-1.9zM554.9 165.6h1.9v1.9h-1.9zM584.7 143.2h1.9v1.9h-1.9zM569.0 170.2h1.9v1.9h-1.9zM569.8 171.3h1.9v1.9h-1.9zM574.9 170.1h1.9v1.9h-1.9zM552.6 175.9h1.9v1.9h-1.9zM556.7 181.2h1.9v1.9h-1.9zM561.1 157.4h1.9v1.9h-1.9zM566.0 165.2h1.9v1.9h-1.9zM576.2 174.6h1.9v1.9h-1.9zM576.9 172.2h1.9v1.9h-1.9zM560.3 169.2h1.9v1.9h-1.9zM549.8 183.4h1.9v1.9h-1.9zM554.9 163.8h1.9v1.9h-1.9zM571.2 176.6h1.9v1.9h-1.9zM580.1 149.5h1.9v1.9h-1.9zM564.5 144.0h1.9v1.9h-1.9zM566.0 133.8h1.9v1.9h-1.9zM554.9 167.7h1.9v1.9h-1.9zM559.9 183.2h1.9v1.9h-1.9zM564.0 183.4h1.9v1.9h-1.9zM569.7 176.9h1.9v1.9h-1.9zM557.0 156.9h1.9v1.9h-1.9zM561.8 182.3h1.9v1.9h-1.9zM570.6 184.6h1.9v1.9h-1.9zM552.9 170.9h1.9v1.9h-1.9zM552.5 170.5h1.9v1.9h-1.9zM577.5 129.4h1.9v1.9h-1.9zM553.9 176.3h1.9v1.9h-1.9zM551.8 170.1h1.9v1.9h-1.9zM559.3 182.6h1.9v1.9h-1.9zM563.2 179.3h1.9v1.9h-1.9zM558.0 183.4h1.9v1.9h-1.9zM560.0 164.5h1.9v1.9h-1.9zM548.5 185.1h1.9v1.9h-1.9zM583.9 175.7h1.9v1.9h-1.9zM563.3 172.4h1.9v1.9h-1.9zM585.1 167.2h1.9v1.9h-1.9zM575.7 174.3h1.9v1.9h-1.9zM581.3 180.6h1.9v1.9h-1.9zM580.9 169.9h1.9v1.9h-1.9zM553.1 172.6h1.9v1.9h-1.9zM566.4 184.3h1.9v1.9h-1.9zM558.3 179.4h1.9v1.9h-1.9zM554.4 181.9h1.9v1.9h-1.9zM557.1 170.4h1.9v1.9h-1.9zM554.0 180.6h1.9v1.9h-1.9zM549.9 179.0h1.9v1.9h-1.9zM563.0 176.8h1.9v1.9h-1.9zM553.4 167.3h1.9v1.9h-1.9zM552.8 168.3h1.9v1.9h-1.9zM548.6 182.7h1.9v1.9h-1.9zM552.2 173.0h1.9v1.9h-1.9zM571.9 176.8h1.9v1.9h-1.9zM561.1 169.4h1.9v1.9h-1.9zM549.7 177.6h1.9v1.9h-1.9zM552.9 169.5h1.9v1.9h-1.9zM573.8 166.0h1.9v1.9h-1.9zM562.9 175.1h1.9v1.9h-1.9zM560.5 178.9h1.9v1.9h-1.9zM560.0 155.5h1.9v1.9h-1.9zM562.6 147.6h1.9v1.9h-1.9zM560.7 143.2h1.9v1.9h-1.9zM553.3 183.4h1.9v1.9h-1.9zM550.1 183.1h1.9v1.9h-1.9zM559.5 165.9h1.9v1.9h-1.9zM552.6 185.0h1.9v1.9h-1.9zM563.8 140.6h1.9v1.9h-1.9zM555.6 163.8h1.9v1.9h-1.9zM564.5 152.9h1.9v1.9h-1.9zM571.8 181.1h1.9v1.9h-1.9zM562.1 139.8h1.9v1.9h-1.9zM567.7 151.6h1.9v1.9h-1.9zM560.3 185.0h1.9v1.9h-1.9zM555.1 179.4h1.9v1.9h-1.9zM581.8 177.3h1.9v1.9h-1.9zM552.7 179.6h1.9v1.9h-1.9zM566.5 135.7h1.9v1.9h-1.9zM558.6 173.0h1.9v1.9h-1.9zM558.6 170.3h1.9v1.9h-1.9zM561.0 151.3h1.9v1.9h-1.9zM555.7 182.3h1.9v1.9h-1.9zM549.3 180.9h1.9v1.9h-1.9zM555.4 183.6h1.9v1.9h-1.9zM571.6 169.9h1.9v1.9h-1.9zM552.1 169.7h1.9v1.9h-1.9zM592.1 164.1h1.9v1.9h-1.9zM562.7 140.8h1.9v1.9h-1.9zM550.9 178.0h1.9v1.9h-1.9zM561.3 159.6h1.9v1.9h-1.9zM555.0 172.0h1.9v1.9h-1.9zM555.0 168.7h1.9v1.9h-1.9zM554.8 162.5h1.9v1.9h-1.9zM562.7 160.4h1.9v1.9h-1.9zM574.8 133.7h1.9v1.9h-1.9zM567.6 178.2h1.9v1.9h-1.9zM560.5 182.3h1.9v1.9h-1.9zM564.6 151.6h1.9v1.9h-1.9zM561.0 174.8h1.9v1.9h-1.9zM567.7 180.4h1.9v1.9h-1.9zM563.6 169.9h1.9v1.9h-1.9zM554.9 166.0h1.9v1.9h-1.9zM560.2 146.7h1.9v1.9h-1.9zM580.2 130.8h1.9v1.9h-1.9zM574.9 165.0h1.9v1.9h-1.9zM558.5 160.7h1.9v1.9h-1.9zM561.8 171.0h1.9v1.9h-1.9zM552.8 167.5h1.9v1.9h-1.9zM563.2 180.5h1.9v1.9h-1.9zM556.3 164.9h1.9v1.9h-1.9zM579.3 132.2h1.9v1.9h-1.9zM555.0 176.2h1.9v1.9h-1.9zM556.3 173.5h1.9v1.9h-1.9zM556.8 158.9h1.9v1.9h-1.9zM567.1 141.5h1.9v1.9h-1.9zM559.0 172.7h1.9v1.9h-1.9zM562.0 164.1h1.9v1.9h-1.9zM576.8 180.7h1.9v1.9h-1.9zM564.9 170.3h1.9v1.9h-1.9zM555.2 166.5h1.9v1.9h-1.9zM559.5 182.2h1.9v1.9h-1.9z"/>
<path fill="#0000ff" d="M442.7 105.2h1.9v1.9h-1.9zM454.7 133.7h1.9v1.9h-1.9zM463.8 153.0h1.9v1.9h-1.9zM473.0 113.1h1.9v1.9h-1.9zM473.7 125.8h1.9v1.9h-1.9zM475.8 126.3h1.9v1.9h-1.9zM468.8 182.4h1.9v1.9h-1.9zM492.0 110.9h1.9v1.9h-1.9zM480.8 159.2h1.9v1.9h-1.9zM470.9 167.5h1.9v1.9h-1.9z"/>
<path fill="#ff0000" d="M588.6 76.6h1.9v1.9h-1.9zM611.9 103.9h1.9v1.9h-1.9zM581.6 110.5h1.9v1.9h-1.9zM578.8 118.4h1.9v1.9h-1.9zM575.2 128.0h1.9v1.9h-1.9zM607.0 146.4h1.9v1.9h-1.9zM618.2 166.2h1.9v1.9h-1.9zM601.3 171.0h1.9v1.9h-1.9zM587.2 150.0h1.9v1.9h-1.9zM594.3 160.9h1.9v1.9h-1.9zM611.9 184.2h1.9v1.9h-1.9zM597.8 176.3h1.9v1.9h-1.9z"/>
<rect x="431.8" y="17" width="1.8" height="1.8" fill="#0000ff"/>
<text x="450.10" y="21.30" font-size="11.2" fill="#000" text-anchor="start"  stroke="#000" stroke-width="0.12">P-value&lt;0.05</text>
<circle cx="445" cy="36.2" r="3.8" fill="#3d9be9"/>
<text x="456.60" y="40.30" font-size="11.6" fill="#000" text-anchor="start"  stroke="#000" stroke-width="0.12">Down-regulated (n = 147)</text>
<circle cx="445" cy="51.9" r="3.8" fill="#e8453c"/>
<text x="458.70" y="56.20" font-size="11.8" fill="#000" text-anchor="start"  stroke="#000" stroke-width="0.12">Up-regulated (n=363)</text>
<text x="0.30" y="325.40" font-size="23.5" fill="#000" text-anchor="start" font-weight="bold"  stroke="#000" stroke-width="0.12">c</text>
<rect x="25.6" y="336.10" width="315.00" height="12.1" fill="rgb(245,225,30)" stroke="#8c8250" stroke-width="0.8"/>
<text transform="translate(30.20,346.70) scale(1,1.12)" font-size="9.4" fill="#000" text-anchor="start" stroke="#000" stroke-width="0.12">Pre - NOTCH Expression and Processing</text>
<rect x="25.6" y="351.29" width="276.70" height="12.1" fill="rgb(245,226,40)" stroke="#8c8250" stroke-width="0.8"/>
<text transform="translate(30.20,361.89) scale(1,1.12)" font-size="9.4" fill="#000" text-anchor="start" stroke="#000" stroke-width="0.12">ISG15 antiviral mechanism</text>
<rect x="25.6" y="366.48" width="276.70" height="12.1" fill="rgb(245,227,50)" stroke="#8c8250" stroke-width="0.8"/>
<text transform="translate(30.20,377.08) scale(1,1.12)" font-size="9.4" fill="#000" text-anchor="start" stroke="#000" stroke-width="0.12">Glutamate and glutamine metabolism</text>
<rect x="25.6" y="381.67" width="253.00" height="12.1" fill="rgb(246,228,60)" stroke="#8c8250" stroke-width="0.8"/>
<text transform="translate(30.20,392.27) scale(1,1.12)" font-size="9.4" fill="#000" text-anchor="start" stroke="#000" stroke-width="0.12">Antiviral mechanism by IFN - stimulated genes</text>
<rect x="25.6" y="396.86" width="243.40" height="12.1" fill="rgb(246,229,70)" stroke="#8c8250" stroke-width="0.8"/>
<text transform="translate(30.20,407.46) scale(1,1.12)" font-size="9.4" fill="#000" text-anchor="start" stroke="#000" stroke-width="0.12">Pre - NOTCH Processing in Golgi</text>
<rect x="25.6" y="412.05" width="240.70" height="12.1" fill="rgb(246,231,80)" stroke="#8c8250" stroke-width="0.8"/>
<text transform="translate(30.20,422.65) scale(1,1.12)" font-size="9.4" fill="#000" text-anchor="start" stroke="#000" stroke-width="0.12">Reproduction</text>
<rect x="25.6" y="427.24" width="237.30" height="12.1" fill="rgb(247,232,90)" stroke="#8c8250" stroke-width="0.8"/>
<text transform="translate(30.20,437.84) scale(1,1.12)" font-size="9.4" fill="#000" text-anchor="start" stroke="#000" stroke-width="0.12">Meiotic recombination</text>
<rect x="25.6" y="442.43" width="215.20" height="12.1" fill="rgb(247,233,100)" stroke="#8c8250" stroke-width="0.8"/>
<text transform="translate(30.20,453.03) scale(1,1.12)" font-size="9.4" fill="#000" text-anchor="start" stroke="#000" stroke-width="0.12">Nonhomologous End - Joining (NHEJ)</text>
<rect x="25.6" y="457.62" width="203.00" height="12.1" fill="rgb(247,234,110)" stroke="#8c8250" stroke-width="0.8"/>
<text transform="translate(30.20,468.22) scale(1,1.12)" font-size="9.4" fill="#000" text-anchor="start" stroke="#000" stroke-width="0.12">Interferon Signaling</text>
<rect x="25.6" y="472.81" width="198.90" height="12.1" fill="rgb(248,235,120)" stroke="#8c8250" stroke-width="0.8"/>
<text transform="translate(30.20,483.41) scale(1,1.12)" font-size="9.4" fill="#000" text-anchor="start" stroke="#000" stroke-width="0.12">G alpha (z) signalling events</text>
<rect x="25.6" y="488.00" width="198.90" height="12.1" fill="rgb(248,237,130)" stroke="#8c8250" stroke-width="0.8"/>
<text transform="translate(30.20,498.60) scale(1,1.12)" font-size="9.4" fill="#000" text-anchor="start" stroke="#000" stroke-width="0.12">DNA Double - Strand Break Repair</text>
<rect x="25.6" y="503.19" width="195.00" height="12.1" fill="rgb(248,238,140)" stroke="#8c8250" stroke-width="0.8"/>
<text transform="translate(30.20,512.19) scale(1,1.0)" font-size="9.3" fill="#000" text-anchor="start" stroke="#000" stroke-width="0.12">ERCC6 (CSB) and EHMT2 (G9a) positively regulate rRNA expression</text>
<rect x="25.6" y="518.38" width="194.20" height="12.1" fill="rgb(249,239,150)" stroke="#8c8250" stroke-width="0.8"/>
<text transform="translate(30.20,528.98) scale(1,1.0)" font-size="11.8" fill="#000" text-anchor="start" stroke="#000" stroke-width="0.12">Transcriptional regulation by small RNAs</text>
<rect x="25.6" y="533.57" width="194.20" height="12.1" fill="rgb(249,240,160)" stroke="#8c8250" stroke-width="0.8"/>
<text transform="translate(30.20,544.17) scale(1,1.0)" font-size="11.7" fill="#000" text-anchor="start" stroke="#000" stroke-width="0.12">Homology Directed Repair</text>
<rect x="25.6" y="548.76" width="193.90" height="12.1" fill="rgb(250,242,170)" stroke="#8c8250" stroke-width="0.8"/>
<text transform="translate(30.20,559.36) scale(1,1.0)" font-size="11.7" fill="#000" text-anchor="start" stroke="#000" stroke-width="0.12">SUMOylation of DNA damage response and repair proteins</text>
<rect x="25" y="332.9" width="322.4" height="231.8" fill="none" stroke="#111" stroke-width="1.6"/>
<line x1="25.4" y1="565" x2="25.4" y2="570" stroke="#777" stroke-width="1"/>
<text transform="translate(25.40,587.50) scale(1,1.18)" font-size="13.2" fill="#000" text-anchor="middle" stroke="#000" stroke-width="0.12">0</text>
<line x1="125.6" y1="565" x2="125.6" y2="570" stroke="#777" stroke-width="1"/>
<text transform="translate(125.60,587.50) scale(1,1.18)" font-size="13.2" fill="#000" text-anchor="middle" stroke="#000" stroke-width="0.12">1</text>
<line x1="225.8" y1="565" x2="225.8" y2="570" stroke="#777" stroke-width="1"/>
<text transform="translate(225.80,587.50) scale(1,1.18)" font-size="13.2" fill="#000" text-anchor="middle" stroke="#000" stroke-width="0.12">2</text>
<line x1="326.0" y1="565" x2="326.0" y2="570" stroke="#777" stroke-width="1"/>
<text transform="translate(326.00,587.50) scale(1,1.18)" font-size="13.2" fill="#000" text-anchor="middle" stroke="#000" stroke-width="0.12">3</text>
<text x="190.50" y="608.20" font-size="15.7" fill="#000" text-anchor="middle"  stroke="#000" stroke-width="0.12">- Log10( P-value)</text>
<text transform="translate(16.3,522.6) rotate(-90)" font-size="15.8" textLength="139.5" lengthAdjust="spacingAndGlyphs" stroke="#000" stroke-width="0.12">Reactome pathway</text>
<polygon points="314.00,351.70 315.55,356.16 320.28,356.26 316.51,359.12 317.88,363.64 314.00,360.94 310.12,363.64 311.49,359.12 307.72,356.26 312.45,356.16" fill="#ee1c25"/>
<polygon points="290.40,383.70 291.95,388.16 296.68,388.26 292.91,391.12 294.28,395.64 290.40,392.94 286.52,395.64 287.89,391.12 284.12,388.26 288.85,388.16" fill="#ee1c25"/>
<polygon points="238.30,458.60 239.85,463.06 244.58,463.16 240.81,466.02 242.18,470.54 238.30,467.84 234.42,470.54 235.79,466.02 232.02,463.16 236.75,463.06" fill="#ee1c25"/>
<text x="363.80" y="325.20" font-size="24" fill="#000" text-anchor="start" font-weight="bold"  stroke="#000" stroke-width="0.12">d</text>
<text transform="translate(396.90,346.90) scale(1,1.07)" font-size="13.8" fill="#000" text-anchor="start" stroke="#000" stroke-width="0.12">Antiviral mechanism by IFN - stimulated genes</text>
<line x1="441.8" y1="364" x2="441.8" y2="480" stroke="#efefef" stroke-width="0.8"/>
<line x1="468.0" y1="364" x2="468.0" y2="480" stroke="#efefef" stroke-width="0.8"/>
<line x1="494.1" y1="364" x2="494.1" y2="480" stroke="#efefef" stroke-width="0.8"/>
<line x1="520.3" y1="364" x2="520.3" y2="480" stroke="#efefef" stroke-width="0.8"/>
<line x1="546.4" y1="364" x2="546.4" y2="480" stroke="#efefef" stroke-width="0.8"/>
<line x1="572.6" y1="364" x2="572.6" y2="480" stroke="#efefef" stroke-width="0.8"/>
<line x1="598.8" y1="364" x2="598.8" y2="480" stroke="#efefef" stroke-width="0.8"/>
<line x1="624.9" y1="364" x2="624.9" y2="480" stroke="#efefef" stroke-width="0.8"/>
<line x1="651.1" y1="364" x2="651.1" y2="480" stroke="#efefef" stroke-width="0.8"/>
<line x1="415.8" y1="364" x2="415.8" y2="476" stroke="#888" stroke-width="1"/>
<line x1="415.8" y1="481.5" x2="415.8" y2="539.5" stroke="#888" stroke-width="1"/>
<text transform="translate(412.60,387.80) scale(1,1.14)" font-size="12.3" fill="#000" text-anchor="end" font-weight="bold" stroke="#000" stroke-width="0.12">0.0</text>
<text transform="translate(412.60,422.10) scale(1,1.14)" font-size="12.3" fill="#000" text-anchor="end" font-weight="bold" stroke="#000" stroke-width="0.12">-0.2</text>
<text transform="translate(412.60,456.40) scale(1,1.14)" font-size="12.3" fill="#000" text-anchor="end" font-weight="bold" stroke="#000" stroke-width="0.12">-0.4</text>
<polyline points="417.0,380.6 418.0,369.4 427.0,374.5 428.0,372.2 433.0,375.5 434.0,373.8 440.0,377.3 446.0,380.3 452.0,381.5 456.0,383.5 459.6,386.3 459.6,385.4 463.3,388.7 463.3,387.8 470.8,393.7 470.8,392.8 474.4,396.0 474.4,395.1 483.0,401.7 483.0,400.8 488.5,405.3 488.5,404.4 493.4,408.5 493.4,407.6 496.7,410.7 496.7,409.8 500.5,413.2 500.5,412.3 502.3,413.9 505.5,416.5 505.5,415.6 507.5,417.9 507.5,417.0 513.3,421.8 513.3,420.9 515.7,423.4 515.7,422.5 517.9,424.9 517.9,424.0 520.5,426.7 520.5,425.8 523.5,428.7 523.5,427.8 525.0,429.3 525.6,430.1 525.6,429.2 529.5,432.4 529.5,431.5 531.7,433.8 531.7,432.9 536.5,436.6 536.5,435.7 539.4,438.4 539.4,437.5 541.4,439.6 541.4,438.7 543.5,440.8 543.5,439.9 546.3,442.5 546.3,441.6 548.4,443.3 549.4,444.2 549.4,443.3 556.0,446.5 557.4,447.1 557.4,446.2 559.2,447.3 559.2,446.4 560.0,447.0 564.5,450.5 564.5,449.6 565.8,451.4 565.8,450.5 565.9,451.0 572.9,454.9 572.9,454.0 576.3,456.6 576.3,455.7 578.7,457.3 584.0,460.5 586.5,460.7 586.5,459.8 590.0,460.0 590.3,460.7 590.3,459.8 592.1,462.5 592.1,461.6 592.7,462.7 593.1,463.2 593.1,462.3 595.5,463.8 595.5,462.9 600.0,464.5 601.8,465.4 601.8,464.5 604.0,465.5 604.4,465.9 604.4,465.0 606.9,465.7 606.9,464.8 607.3,465.7 607.3,464.8 608.0,465.2 608.0,465.6 608.0,464.8 617.5,470.7 617.5,468.1 620.8,470.9 621.7,472.5 621.7,469.9 623.3,473.1 623.3,470.5 624.0,472.0 626.0,470.0 626.4,471.4 626.4,468.8 630.0,471.5 636.4,474.8 638.3,469.0 641.0,467.0 643.0,466.0 645.0,463.0 646.5,459.7 650.0,457.0 651.1,453.8 653.0,453.0 657.0,444.5 664.7,449.2 665.9,436.3 667.5,416.4 669.0,414.0 671.0,409.4 677.5,412.9 677.5,379.0" fill="none" stroke="#20f020" stroke-width="1"/>
<text transform="translate(444.4,462.2) scale(1,1.07)" font-size="13.5" stroke="#000" stroke-width="0.12">NES = -<tspan dx="1.5">1.35</tspan></text>
<rect x="415.90" y="522.2" width="23.30" height="17.299999999999955" fill="#dc3c38"/>
<rect x="438.90" y="522.2" width="28.10" height="17.299999999999955" fill="#f87757"/>
<rect x="466.70" y="522.2" width="34.60" height="17.299999999999955" fill="#fcb39a"/>
<rect x="501.00" y="522.2" width="29.30" height="17.299999999999955" fill="#fee3d7"/>
<rect x="530.00" y="522.2" width="23.60" height="17.299999999999955" fill="#eceffa"/>
<rect x="553.30" y="522.2" width="26.90" height="17.299999999999955" fill="#bed7e7"/>
<rect x="579.90" y="522.2" width="38.80" height="17.299999999999955" fill="#6eafd8"/>
<rect x="618.40" y="522.2" width="56.70" height="17.299999999999955" fill="#3b80c0"/>
<rect x="674.80" y="522.2" width="2.90" height="17.299999999999955" fill="#1f5aa6"/>
<line x1="419.0" y1="481.7" x2="419.0" y2="522.2" stroke="#000" stroke-opacity="0.28" stroke-width="0.9"/>
<line x1="419.0" y1="522.2" x2="419.0" y2="539.5" stroke="#000" stroke-opacity="0.034" stroke-width="0.9"/>
<line x1="429.4" y1="481.7" x2="429.4" y2="522.2" stroke="#000" stroke-opacity="0.55" stroke-width="0.9"/>
<line x1="429.4" y1="522.2" x2="429.4" y2="539.5" stroke="#000" stroke-opacity="0.066" stroke-width="0.9"/>
<line x1="435.5" y1="481.7" x2="435.5" y2="522.2" stroke="#000" stroke-opacity="0.55" stroke-width="0.9"/>
<line x1="435.5" y1="522.2" x2="435.5" y2="539.5" stroke="#000" stroke-opacity="0.066" stroke-width="0.9"/>
<line x1="445.5" y1="481.7" x2="445.5" y2="522.2" stroke="#000" stroke-opacity="0.55" stroke-width="0.9"/>
<line x1="445.5" y1="522.2" x2="445.5" y2="539.5" stroke="#000" stroke-opacity="0.066" stroke-width="0.9"/>
<line x1="447.6" y1="481.7" x2="447.6" y2="522.2" stroke="#000" stroke-opacity="0.55" stroke-width="0.9"/>
<line x1="447.6" y1="522.2" x2="447.6" y2="539.5" stroke="#000" stroke-opacity="0.066" stroke-width="0.9"/>
<line x1="450.4" y1="481.7" x2="450.4" y2="522.2" stroke="#000" stroke-opacity="0.55" stroke-width="0.9"/>
<line x1="450.4" y1="522.2" x2="450.4" y2="539.5" stroke="#000" stroke-opacity="0.066" stroke-width="0.9"/>
<line x1="452.4" y1="481.7" x2="452.4" y2="522.2" stroke="#000" stroke-opacity="0.28" stroke-width="0.9"/>
<line x1="452.4" y1="522.2" x2="452.4" y2="539.5" stroke="#000" stroke-opacity="0.034" stroke-width="0.9"/>
<line x1="459.6" y1="481.7" x2="459.6" y2="522.2" stroke="#000" stroke-opacity="0.55" stroke-width="0.9"/>
<line x1="459.6" y1="522.2" x2="459.6" y2="539.5" stroke="#000" stroke-opacity="0.066" stroke-width="0.9"/>
<line x1="463.3" y1="481.7" x2="463.3" y2="522.2" stroke="#000" stroke-opacity="0.55" stroke-width="0.9"/>
<line x1="463.3" y1="522.2" x2="463.3" y2="539.5" stroke="#000" stroke-opacity="0.066" stroke-width="0.9"/>
<line x1="470.8" y1="481.7" x2="470.8" y2="522.2" stroke="#000" stroke-opacity="0.55" stroke-width="0.9"/>
<line x1="470.8" y1="522.2" x2="470.8" y2="539.5" stroke="#000" stroke-opacity="0.066" stroke-width="0.9"/>
<line x1="474.4" y1="481.7" x2="474.4" y2="522.2" stroke="#000" stroke-opacity="0.55" stroke-width="0.9"/>
<line x1="474.4" y1="522.2" x2="474.4" y2="539.5" stroke="#000" stroke-opacity="0.066" stroke-width="0.9"/>
<line x1="483.0" y1="481.7" x2="483.0" y2="522.2" stroke="#000" stroke-opacity="0.55" stroke-width="1.5"/>
<line x1="483.0" y1="522.2" x2="483.0" y2="539.5" stroke="#000" stroke-opacity="0.066" stroke-width="1.5"/>
<line x1="488.5" y1="481.7" x2="488.5" y2="522.2" stroke="#000" stroke-opacity="0.55" stroke-width="0.9"/>
<line x1="488.5" y1="522.2" x2="488.5" y2="539.5" stroke="#000" stroke-opacity="0.066" stroke-width="0.9"/>
<line x1="493.4" y1="481.7" x2="493.4" y2="522.2" stroke="#000" stroke-opacity="0.55" stroke-width="0.9"/>
<line x1="493.4" y1="522.2" x2="493.4" y2="539.5" stroke="#000" stroke-opacity="0.066" stroke-width="0.9"/>
<line x1="496.7" y1="481.7" x2="496.7" y2="522.2" stroke="#000" stroke-opacity="0.55" stroke-width="0.9"/>
<line x1="496.7" y1="522.2" x2="496.7" y2="539.5" stroke="#000" stroke-opacity="0.066" stroke-width="0.9"/>
<line x1="500.5" y1="481.7" x2="500.5" y2="522.2" stroke="#000" stroke-opacity="0.28" stroke-width="0.9"/>
<line x1="500.5" y1="522.2" x2="500.5" y2="539.5" stroke="#000" stroke-opacity="0.034" stroke-width="0.9"/>
<line x1="505.5" y1="481.7" x2="505.5" y2="522.2" stroke="#000" stroke-opacity="0.55" stroke-width="0.9"/>
<line x1="505.5" y1="522.2" x2="505.5" y2="539.5" stroke="#000" stroke-opacity="0.066" stroke-width="0.9"/>
<line x1="507.5" y1="481.7" x2="507.5" y2="522.2" stroke="#000" stroke-opacity="0.85" stroke-width="0.9"/>
<line x1="507.5" y1="522.2" x2="507.5" y2="539.5" stroke="#000" stroke-opacity="0.102" stroke-width="0.9"/>
<line x1="513.3" y1="481.7" x2="513.3" y2="522.2" stroke="#000" stroke-opacity="0.55" stroke-width="0.9"/>
<line x1="513.3" y1="522.2" x2="513.3" y2="539.5" stroke="#000" stroke-opacity="0.066" stroke-width="0.9"/>
<line x1="515.7" y1="481.7" x2="515.7" y2="522.2" stroke="#000" stroke-opacity="0.55" stroke-width="0.9"/>
<line x1="515.7" y1="522.2" x2="515.7" y2="539.5" stroke="#000" stroke-opacity="0.066" stroke-width="0.9"/>
<line x1="517.9" y1="481.7" x2="517.9" y2="522.2" stroke="#000" stroke-opacity="0.28" stroke-width="0.9"/>
<line x1="517.9" y1="522.2" x2="517.9" y2="539.5" stroke="#000" stroke-opacity="0.034" stroke-width="0.9"/>
<line x1="520.5" y1="481.7" x2="520.5" y2="522.2" stroke="#000" stroke-opacity="0.55" stroke-width="0.9"/>
<line x1="520.5" y1="522.2" x2="520.5" y2="539.5" stroke="#000" stroke-opacity="0.066" stroke-width="0.9"/>
<line x1="523.5" y1="481.7" x2="523.5" y2="522.2" stroke="#000" stroke-opacity="0.55" stroke-width="0.9"/>
<line x1="523.5" y1="522.2" x2="523.5" y2="539.5" stroke="#000" stroke-opacity="0.066" stroke-width="0.9"/>
<line x1="525.6" y1="481.7" x2="525.6" y2="522.2" stroke="#000" stroke-opacity="0.28" stroke-width="0.9"/>
<line x1="525.6" y1="522.2" x2="525.6" y2="539.5" stroke="#000" stroke-opacity="0.034" stroke-width="0.9"/>
<line x1="529.5" y1="481.7" x2="529.5" y2="522.2" stroke="#000" stroke-opacity="0.55" stroke-width="0.9"/>
<line x1="529.5" y1="522.2" x2="529.5" y2="539.5" stroke="#000" stroke-opacity="0.066" stroke-width="0.9"/>
<line x1="531.7" y1="481.7" x2="531.7" y2="522.2" stroke="#000" stroke-opacity="0.55" stroke-width="0.9"/>
<line x1="531.7" y1="522.2" x2="531.7" y2="539.5" stroke="#000" stroke-opacity="0.066" stroke-width="0.9"/>
<line x1="536.5" y1="481.7" x2="536.5" y2="522.2" stroke="#000" stroke-opacity="0.55" stroke-width="0.9"/>
<line x1="536.5" y1="522.2" x2="536.5" y2="539.5" stroke="#000" stroke-opacity="0.066" stroke-width="0.9"/>
<line x1="539.4" y1="481.7" x2="539.4" y2="522.2" stroke="#000" stroke-opacity="0.55" stroke-width="0.9"/>
<line x1="539.4" y1="522.2" x2="539.4" y2="539.5" stroke="#000" stroke-opacity="0.066" stroke-width="0.9"/>
<line x1="541.4" y1="481.7" x2="541.4" y2="522.2" stroke="#000" stroke-opacity="0.55" stroke-width="0.9"/>
<line x1="541.4" y1="522.2" x2="541.4" y2="539.5" stroke="#000" stroke-opacity="0.066" stroke-width="0.9"/>
<line x1="543.5" y1="481.7" x2="543.5" y2="522.2" stroke="#000" stroke-opacity="0.28" stroke-width="0.9"/>
<line x1="543.5" y1="522.2" x2="543.5" y2="539.5" stroke="#000" stroke-opacity="0.034" stroke-width="0.9"/>
<line x1="546.3" y1="481.7" x2="546.3" y2="522.2" stroke="#000" stroke-opacity="0.55" stroke-width="0.9"/>
<line x1="546.3" y1="522.2" x2="546.3" y2="539.5" stroke="#000" stroke-opacity="0.066" stroke-width="0.9"/>
<line x1="549.4" y1="481.7" x2="549.4" y2="522.2" stroke="#000" stroke-opacity="0.55" stroke-width="0.9"/>
<line x1="549.4" y1="522.2" x2="549.4" y2="539.5" stroke="#000" stroke-opacity="0.066" stroke-width="0.9"/>
<line x1="557.4" y1="481.7" x2="557.4" y2="522.2" stroke="#000" stroke-opacity="0.55" stroke-width="0.9"/>
<line x1="557.4" y1="522.2" x2="557.4" y2="539.5" stroke="#000" stroke-opacity="0.066" stroke-width="0.9"/>
<line x1="559.2" y1="481.7" x2="559.2" y2="522.2" stroke="#000" stroke-opacity="0.55" stroke-width="0.9"/>
<line x1="559.2" y1="522.2" x2="559.2" y2="539.5" stroke="#000" stroke-opacity="0.066" stroke-width="0.9"/>
<line x1="564.5" y1="481.7" x2="564.5" y2="522.2" stroke="#000" stroke-opacity="0.55" stroke-width="0.9"/>
<line x1="564.5" y1="522.2" x2="564.5" y2="539.5" stroke="#000" stroke-opacity="0.066" stroke-width="0.9"/>
<line x1="565.8" y1="481.7" x2="565.8" y2="522.2" stroke="#000" stroke-opacity="0.85" stroke-width="1.5"/>
<line x1="565.8" y1="522.2" x2="565.8" y2="539.5" stroke="#000" stroke-opacity="0.102" stroke-width="1.5"/>
<line x1="572.9" y1="481.7" x2="572.9" y2="522.2" stroke="#000" stroke-opacity="0.28" stroke-width="0.9"/>
<line x1="572.9" y1="522.2" x2="572.9" y2="539.5" stroke="#000" stroke-opacity="0.034" stroke-width="0.9"/>
<line x1="576.3" y1="481.7" x2="576.3" y2="522.2" stroke="#000" stroke-opacity="0.28" stroke-width="1.5"/>
<line x1="576.3" y1="522.2" x2="576.3" y2="539.5" stroke="#000" stroke-opacity="0.034" stroke-width="1.5"/>
<line x1="586.5" y1="481.7" x2="586.5" y2="522.2" stroke="#000" stroke-opacity="0.55" stroke-width="0.9"/>
<line x1="586.5" y1="522.2" x2="586.5" y2="539.5" stroke="#000" stroke-opacity="0.066" stroke-width="0.9"/>
<line x1="590.3" y1="481.7" x2="590.3" y2="522.2" stroke="#000" stroke-opacity="0.55" stroke-width="0.9"/>
<line x1="590.3" y1="522.2" x2="590.3" y2="539.5" stroke="#000" stroke-opacity="0.066" stroke-width="0.9"/>
<line x1="592.1" y1="481.7" x2="592.1" y2="522.2" stroke="#000" stroke-opacity="0.85" stroke-width="0.9"/>
<line x1="592.1" y1="522.2" x2="592.1" y2="539.5" stroke="#000" stroke-opacity="0.102" stroke-width="0.9"/>
<line x1="593.1" y1="481.7" x2="593.1" y2="522.2" stroke="#000" stroke-opacity="0.55" stroke-width="0.9"/>
<line x1="593.1" y1="522.2" x2="593.1" y2="539.5" stroke="#000" stroke-opacity="0.066" stroke-width="0.9"/>
<line x1="595.5" y1="481.7" x2="595.5" y2="522.2" stroke="#000" stroke-opacity="0.55" stroke-width="0.9"/>
<line x1="595.5" y1="522.2" x2="595.5" y2="539.5" stroke="#000" stroke-opacity="0.066" stroke-width="0.9"/>
<line x1="601.8" y1="481.7" x2="601.8" y2="522.2" stroke="#000" stroke-opacity="0.28" stroke-width="0.9"/>
<line x1="601.8" y1="522.2" x2="601.8" y2="539.5" stroke="#000" stroke-opacity="0.034" stroke-width="0.9"/>
<line x1="604.4" y1="481.7" x2="604.4" y2="522.2" stroke="#000" stroke-opacity="0.55" stroke-width="0.9"/>
<line x1="604.4" y1="522.2" x2="604.4" y2="539.5" stroke="#000" stroke-opacity="0.066" stroke-width="0.9"/>
<line x1="606.9" y1="481.7" x2="606.9" y2="522.2" stroke="#000" stroke-opacity="0.55" stroke-width="0.9"/>
<line x1="606.9" y1="522.2" x2="606.9" y2="539.5" stroke="#000" stroke-opacity="0.066" stroke-width="0.9"/>
<line x1="608.0" y1="481.7" x2="608.0" y2="522.2" stroke="#000" stroke-opacity="0.55" stroke-width="0.9"/>
<line x1="608.0" y1="522.2" x2="608.0" y2="539.5" stroke="#000" stroke-opacity="0.066" stroke-width="0.9"/>
<line x1="607.3" y1="481.7" x2="607.3" y2="522.2" stroke="#000" stroke-opacity="0.28" stroke-width="1.5"/>
<line x1="607.3" y1="522.2" x2="607.3" y2="539.5" stroke="#000" stroke-opacity="0.034" stroke-width="1.5"/>
<line x1="617.5" y1="481.7" x2="617.5" y2="522.2" stroke="#000" stroke-opacity="0.85" stroke-width="0.9"/>
<line x1="617.5" y1="522.2" x2="617.5" y2="539.5" stroke="#000" stroke-opacity="0.102" stroke-width="0.9"/>
<line x1="621.7" y1="481.7" x2="621.7" y2="522.2" stroke="#000" stroke-opacity="0.55" stroke-width="0.9"/>
<line x1="621.7" y1="522.2" x2="621.7" y2="539.5" stroke="#000" stroke-opacity="0.066" stroke-width="0.9"/>
<line x1="623.3" y1="481.7" x2="623.3" y2="522.2" stroke="#000" stroke-opacity="0.55" stroke-width="0.9"/>
<line x1="623.3" y1="522.2" x2="623.3" y2="539.5" stroke="#000" stroke-opacity="0.066" stroke-width="0.9"/>
<line x1="626.4" y1="481.7" x2="626.4" y2="522.2" stroke="#000" stroke-opacity="0.28" stroke-width="0.9"/>
<line x1="626.4" y1="522.2" x2="626.4" y2="539.5" stroke="#000" stroke-opacity="0.034" stroke-width="0.9"/>
<line x1="636.5" y1="481.7" x2="636.5" y2="522.2" stroke="#000" stroke-opacity="0.28" stroke-width="1.5"/>
<line x1="636.5" y1="522.2" x2="636.5" y2="539.5" stroke="#000" stroke-opacity="0.034" stroke-width="1.5"/>
<line x1="637.5" y1="481.7" x2="637.5" y2="522.2" stroke="#000" stroke-opacity="0.55" stroke-width="0.9"/>
<line x1="637.5" y1="522.2" x2="637.5" y2="539.5" stroke="#000" stroke-opacity="0.066" stroke-width="0.9"/>
<line x1="641.4" y1="481.7" x2="641.4" y2="522.2" stroke="#000" stroke-opacity="0.55" stroke-width="0.9"/>
<line x1="641.4" y1="522.2" x2="641.4" y2="539.5" stroke="#000" stroke-opacity="0.066" stroke-width="0.9"/>
<line x1="643.5" y1="481.7" x2="643.5" y2="522.2" stroke="#000" stroke-opacity="0.55" stroke-width="0.9"/>
<line x1="643.5" y1="522.2" x2="643.5" y2="539.5" stroke="#000" stroke-opacity="0.066" stroke-width="0.9"/>
<line x1="646.5" y1="481.7" x2="646.5" y2="522.2" stroke="#000" stroke-opacity="0.55" stroke-width="0.9"/>
<line x1="646.5" y1="522.2" x2="646.5" y2="539.5" stroke="#000" stroke-opacity="0.066" stroke-width="0.9"/>
<line x1="649.4" y1="481.7" x2="649.4" y2="522.2" stroke="#000" stroke-opacity="0.55" stroke-width="0.9"/>
<line x1="649.4" y1="522.2" x2="649.4" y2="539.5" stroke="#000" stroke-opacity="0.066" stroke-width="0.9"/>
<line x1="654.6" y1="481.7" x2="654.6" y2="522.2" stroke="#000" stroke-opacity="0.55" stroke-width="0.9"/>
<line x1="654.6" y1="522.2" x2="654.6" y2="539.5" stroke="#000" stroke-opacity="0.066" stroke-width="0.9"/>
<line x1="656.4" y1="481.7" x2="656.4" y2="522.2" stroke="#000" stroke-opacity="0.55" stroke-width="0.9"/>
<line x1="656.4" y1="522.2" x2="656.4" y2="539.5" stroke="#000" stroke-opacity="0.066" stroke-width="0.9"/>
<line x1="664.6" y1="481.7" x2="664.6" y2="522.2" stroke="#000" stroke-opacity="0.85" stroke-width="0.9"/>
<line x1="664.6" y1="522.2" x2="664.6" y2="539.5" stroke="#000" stroke-opacity="0.102" stroke-width="0.9"/>
<line x1="666.7" y1="481.7" x2="666.7" y2="522.2" stroke="#000" stroke-opacity="0.55" stroke-width="0.9"/>
<line x1="666.7" y1="522.2" x2="666.7" y2="539.5" stroke="#000" stroke-opacity="0.066" stroke-width="0.9"/>
<line x1="670.4" y1="481.7" x2="670.4" y2="522.2" stroke="#000" stroke-opacity="0.55" stroke-width="0.9"/>
<line x1="670.4" y1="522.2" x2="670.4" y2="539.5" stroke="#000" stroke-opacity="0.066" stroke-width="0.9"/>
<line x1="677.4" y1="481.7" x2="677.4" y2="522.2" stroke="#000" stroke-opacity="0.28" stroke-width="0.9"/>
<line x1="677.4" y1="522.2" x2="677.4" y2="539.5" stroke="#000" stroke-opacity="0.034" stroke-width="0.9"/>
<line x1="415.8" y1="539.5" x2="677.4" y2="539.5" stroke="#444" stroke-width="0.9"/>
<line x1="467.8" y1="539.5" x2="467.8" y2="542" stroke="#555" stroke-width="0.8"/>
<line x1="520.3" y1="539.5" x2="520.3" y2="542" stroke="#555" stroke-width="0.8"/>
<line x1="572.9" y1="539.5" x2="572.9" y2="542" stroke="#555" stroke-width="0.8"/>
<line x1="625.4" y1="539.5" x2="625.4" y2="542" stroke="#555" stroke-width="0.8"/>
<text x="415.20" y="558.20" font-size="13.5" fill="#000" text-anchor="start"  stroke="#000" stroke-width="0.12">WT</text>
<text x="472.40" y="558.20" font-size="13.5" fill="#000" text-anchor="middle"  stroke="#000" stroke-width="0.12">2500</text>
<text x="528.10" y="558.20" font-size="13.5" fill="#000" text-anchor="middle"  stroke="#000" stroke-width="0.12">5000</text>
<text x="577.50" y="558.20" font-size="13.5" fill="#000" text-anchor="middle"  stroke="#000" stroke-width="0.12">7500</text>
<text x="629.50" y="558.20" font-size="13.5" fill="#000" text-anchor="middle"  stroke="#000" stroke-width="0.12">10000</text>
<text x="665.20" y="558.20" font-size="13.5" fill="#000" text-anchor="start"  stroke="#000" stroke-width="0.12">CK</text>
<text x="463.50" y="579.60" font-size="16.25" fill="#000" text-anchor="start"  stroke="#000" stroke-width="0.12">Rank in ordered dataset</text>
<text transform="translate(380.6,553.8) rotate(-90)" font-size="17.2" textLength="213.5" lengthAdjust="spacingAndGlyphs" stroke="#000" stroke-width="0.12">Running enrichment score</text>
<text x="-0.80" y="633.50" font-size="25" fill="#000" text-anchor="start" font-weight="bold"  stroke="#000" stroke-width="0.12">e</text>
<text x="149.50" y="666.20" font-size="13.9" fill="#000" text-anchor="start"  stroke="#000" stroke-width="0.12">Interferon Signaling</text>
<line x1="83.6" y1="652.7" x2="83.6" y2="770" stroke="#efefef" stroke-width="0.8"/>
<line x1="110.1" y1="652.7" x2="110.1" y2="770" stroke="#efefef" stroke-width="0.8"/>
<line x1="136.6" y1="652.7" x2="136.6" y2="770" stroke="#efefef" stroke-width="0.8"/>
<line x1="163.1" y1="652.7" x2="163.1" y2="770" stroke="#efefef" stroke-width="0.8"/>
<line x1="189.6" y1="652.7" x2="189.6" y2="770" stroke="#efefef" stroke-width="0.8"/>
<line x1="216.1" y1="652.7" x2="216.1" y2="770" stroke="#efefef" stroke-width="0.8"/>
<line x1="242.6" y1="652.7" x2="242.6" y2="770" stroke="#efefef" stroke-width="0.8"/>
<line x1="269.1" y1="652.7" x2="269.1" y2="770" stroke="#efefef" stroke-width="0.8"/>
<line x1="295.6" y1="652.7" x2="295.6" y2="770" stroke="#efefef" stroke-width="0.8"/>
<line x1="56.5" y1="652.7" x2="56.5" y2="769.5" stroke="#888" stroke-width="1"/>
<line x1="52.5" y1="656.1" x2="56.5" y2="656.1" stroke="#888" stroke-width="0.8"/>
<text x="52.00" y="661.15" font-size="13.9" fill="#000" text-anchor="end"  stroke="#000" stroke-width="0.12">0.1</text>
<line x1="52.5" y1="676.0" x2="56.5" y2="676.0" stroke="#888" stroke-width="0.8"/>
<text x="52.00" y="681.00" font-size="13.9" fill="#000" text-anchor="end"  stroke="#000" stroke-width="0.12">0.0</text>
<line x1="52.5" y1="695.9" x2="56.5" y2="695.9" stroke="#888" stroke-width="0.8"/>
<text x="52.00" y="700.85" font-size="13.9" fill="#000" text-anchor="end"  stroke="#000" stroke-width="0.12">-0.1</text>
<line x1="52.5" y1="715.7" x2="56.5" y2="715.7" stroke="#888" stroke-width="0.8"/>
<text x="52.00" y="720.70" font-size="13.9" fill="#000" text-anchor="end"  stroke="#000" stroke-width="0.12">-0.2</text>
<line x1="52.5" y1="735.5" x2="56.5" y2="735.5" stroke="#888" stroke-width="0.8"/>
<text x="52.00" y="740.55" font-size="13.9" fill="#000" text-anchor="end"  stroke="#000" stroke-width="0.12">-0.3</text>
<line x1="52.5" y1="755.4" x2="56.5" y2="755.4" stroke="#888" stroke-width="0.8"/>
<text x="52.00" y="760.40" font-size="13.9" fill="#000" text-anchor="end"  stroke="#000" stroke-width="0.12">-0.4</text>
<polyline points="56.6,674.2 59.6,676.0 59.6,661.6 61.2,663.0 62.6,658.1 69.6,663.2 70.8,659.3 73.0,661.0 74.8,660.6 77.0,661.5 79.4,661.1 85.0,664.0 91.1,666.3 93.5,666.0 95.0,667.0 98.5,670.0 98.5,669.1 100.9,671.8 100.9,670.9 104.7,674.6 104.7,673.7 109.5,678.1 109.5,677.2 112.5,680.3 112.5,679.4 115.4,682.4 115.4,681.5 118.3,684.5 118.3,683.6 118.6,684.7 118.6,683.8 120.6,686.2 120.6,685.3 122.4,687.5 122.4,686.6 124.5,689.1 124.5,688.2 128.3,691.8 128.3,690.9 130.3,693.3 130.3,692.4 133.9,695.9 133.9,695.0 136.3,697.7 136.3,696.8 138.5,699.3 138.5,698.4 142.4,702.2 142.4,701.3 147.5,705.9 147.5,705.0 149.7,707.5 149.7,706.6 155.4,711.7 155.4,710.8 158.4,713.9 158.4,713.0 160.0,714.6 160.0,715.1 160.0,714.1 163.0,717.2 163.0,716.3 166.1,719.4 166.1,718.5 168.1,720.8 168.1,719.9 171.0,722.9 171.0,722.0 174.1,725.1 174.1,724.2 176.1,726.5 176.1,725.6 179.4,728.8 179.4,727.9 182.4,730.9 182.4,730.0 182.6,731.1 182.6,730.2 184.3,732.3 184.3,731.4 184.5,732.4 184.5,731.5 186.6,733.9 186.6,733.0 189.4,735.9 189.4,735.0 189.6,735.6 191.0,736.7 191.0,735.8 192.8,737.5 192.8,736.6 198.9,740.4 198.9,739.5 200.4,741.1 200.4,740.2 206.1,743.8 206.1,742.9 207.4,744.4 207.4,743.5 209.3,744.8 209.4,745.3 209.4,744.4 212.0,745.0 216.3,748.1 216.3,747.2 219.3,749.9 219.3,749.0 221.9,751.4 221.9,750.5 222.4,751.3 227.2,753.5 227.2,752.6 229.6,754.3 229.6,753.4 230.0,754.0 234.7,756.4 234.7,755.5 238.1,757.3 238.8,757.9 238.8,757.0 242.1,758.6 242.1,757.7 244.0,758.5 246.2,758.7 246.2,757.8 246.4,758.7 246.4,757.8 248.0,758.0 252.0,759.3 252.0,758.4 253.8,759.2 256.0,761.0 260.0,763.0 260.8,763.7 260.8,762.8 264.0,764.0 266.6,765.9 266.6,763.3 269.5,765.2 270.5,766.2 270.5,763.6 274.0,764.0 274.0,765.3 274.0,762.7 277.4,763.1 277.5,764.2 277.5,761.6 279.8,758.8 279.8,756.2 280.0,757.0 281.8,755.4 281.8,752.8 284.7,750.8 284.7,748.2 285.2,748.7 287.0,748.6 287.0,746.0 290.0,745.0 290.5,746.5 290.5,744.0 292.0,746.0 293.5,746.1 293.5,743.5 298.1,742.3 298.1,739.7 298.3,740.8 300.0,738.0 300.5,739.0 300.5,736.5 303.4,737.6 303.4,735.0 304.0,736.0 306.2,727.7 309.0,724.8 309.0,722.2 311.4,719.9 311.6,718.6 311.6,716.0 312.7,702.9 316.1,691.1 321.9,695.5 321.9,673.5" fill="none" stroke="#20f020" stroke-width="1"/>
<text x="86.40" y="756.20" font-size="13.3" fill="#000" text-anchor="start"  stroke="#000" stroke-width="0.12">NES = -1.24</text>
<rect x="56.60" y="813.5" width="31.50" height="18.0" fill="#dc3c38"/>
<rect x="87.80" y="813.5" width="24.10" height="18.0" fill="#f87757"/>
<rect x="111.60" y="813.5" width="37.40" height="18.0" fill="#fcb39a"/>
<rect x="148.70" y="813.5" width="31.20" height="18.0" fill="#fee3d7"/>
<rect x="179.60" y="813.5" width="22.70" height="18.0" fill="#eceffa"/>
<rect x="202.00" y="813.5" width="29.40" height="18.0" fill="#bed7e7"/>
<rect x="231.10" y="813.5" width="38.50" height="18.0" fill="#6eafd8"/>
<rect x="269.30" y="813.5" width="50.20" height="18.0" fill="#3b80c0"/>
<rect x="319.20" y="813.5" width="2.90" height="18.0" fill="#1f5aa6"/>
<line x1="59.5" y1="771.9" x2="59.5" y2="813.5" stroke="#000" stroke-opacity="0.55" stroke-width="0.9"/>
<line x1="59.5" y1="813.5" x2="59.5" y2="831.5" stroke="#000" stroke-opacity="0.066" stroke-width="0.9"/>
<line x1="62.5" y1="771.9" x2="62.5" y2="813.5" stroke="#000" stroke-opacity="0.55" stroke-width="0.9"/>
<line x1="62.5" y1="813.5" x2="62.5" y2="831.5" stroke="#000" stroke-opacity="0.066" stroke-width="0.9"/>
<line x1="69.9" y1="771.9" x2="69.9" y2="813.5" stroke="#000" stroke-opacity="0.55" stroke-width="0.9"/>
<line x1="69.9" y1="813.5" x2="69.9" y2="831.5" stroke="#000" stroke-opacity="0.066" stroke-width="0.9"/>
<line x1="74.0" y1="771.9" x2="74.0" y2="813.5" stroke="#000" stroke-opacity="0.28" stroke-width="0.9"/>
<line x1="74.0" y1="813.5" x2="74.0" y2="831.5" stroke="#000" stroke-opacity="0.034" stroke-width="0.9"/>
<line x1="76.4" y1="771.9" x2="76.4" y2="813.5" stroke="#000" stroke-opacity="0.55" stroke-width="0.9"/>
<line x1="76.4" y1="813.5" x2="76.4" y2="831.5" stroke="#000" stroke-opacity="0.066" stroke-width="0.9"/>
<line x1="78.6" y1="771.9" x2="78.6" y2="813.5" stroke="#000" stroke-opacity="0.55" stroke-width="0.9"/>
<line x1="78.6" y1="813.5" x2="78.6" y2="831.5" stroke="#000" stroke-opacity="0.066" stroke-width="0.9"/>
<line x1="83.2" y1="771.9" x2="83.2" y2="813.5" stroke="#000" stroke-opacity="0.55" stroke-width="0.9"/>
<line x1="83.2" y1="813.5" x2="83.2" y2="831.5" stroke="#000" stroke-opacity="0.066" stroke-width="0.9"/>
<line x1="86.3" y1="771.9" x2="86.3" y2="813.5" stroke="#000" stroke-opacity="0.85" stroke-width="0.9"/>
<line x1="86.3" y1="813.5" x2="86.3" y2="831.5" stroke="#000" stroke-opacity="0.102" stroke-width="0.9"/>
<line x1="88.3" y1="771.9" x2="88.3" y2="813.5" stroke="#000" stroke-opacity="0.55" stroke-width="0.9"/>
<line x1="88.3" y1="813.5" x2="88.3" y2="831.5" stroke="#000" stroke-opacity="0.066" stroke-width="0.9"/>
<line x1="90.7" y1="771.9" x2="90.7" y2="813.5" stroke="#000" stroke-opacity="0.55" stroke-width="0.9"/>
<line x1="90.7" y1="813.5" x2="90.7" y2="831.5" stroke="#000" stroke-opacity="0.066" stroke-width="0.9"/>
<line x1="91.4" y1="771.9" x2="91.4" y2="813.5" stroke="#000" stroke-opacity="0.55" stroke-width="0.9"/>
<line x1="91.4" y1="813.5" x2="91.4" y2="831.5" stroke="#000" stroke-opacity="0.066" stroke-width="0.9"/>
<line x1="93.7" y1="771.9" x2="93.7" y2="813.5" stroke="#000" stroke-opacity="0.55" stroke-width="0.9"/>
<line x1="93.7" y1="813.5" x2="93.7" y2="831.5" stroke="#000" stroke-opacity="0.066" stroke-width="0.9"/>
<line x1="98.5" y1="771.9" x2="98.5" y2="813.5" stroke="#000" stroke-opacity="0.28" stroke-width="0.9"/>
<line x1="98.5" y1="813.5" x2="98.5" y2="831.5" stroke="#000" stroke-opacity="0.034" stroke-width="0.9"/>
<line x1="100.9" y1="771.9" x2="100.9" y2="813.5" stroke="#000" stroke-opacity="0.28" stroke-width="0.9"/>
<line x1="100.9" y1="813.5" x2="100.9" y2="831.5" stroke="#000" stroke-opacity="0.034" stroke-width="0.9"/>
<line x1="104.7" y1="771.9" x2="104.7" y2="813.5" stroke="#000" stroke-opacity="0.55" stroke-width="0.9"/>
<line x1="104.7" y1="813.5" x2="104.7" y2="831.5" stroke="#000" stroke-opacity="0.066" stroke-width="0.9"/>
<line x1="109.5" y1="771.9" x2="109.5" y2="813.5" stroke="#000" stroke-opacity="0.55" stroke-width="0.9"/>
<line x1="109.5" y1="813.5" x2="109.5" y2="831.5" stroke="#000" stroke-opacity="0.066" stroke-width="0.9"/>
<line x1="112.5" y1="771.9" x2="112.5" y2="813.5" stroke="#000" stroke-opacity="0.55" stroke-width="0.9"/>
<line x1="112.5" y1="813.5" x2="112.5" y2="831.5" stroke="#000" stroke-opacity="0.066" stroke-width="0.9"/>
<line x1="115.4" y1="771.9" x2="115.4" y2="813.5" stroke="#000" stroke-opacity="0.55" stroke-width="0.9"/>
<line x1="115.4" y1="813.5" x2="115.4" y2="831.5" stroke="#000" stroke-opacity="0.066" stroke-width="0.9"/>
<line x1="118.3" y1="771.9" x2="118.3" y2="813.5" stroke="#000" stroke-opacity="0.55" stroke-width="0.9"/>
<line x1="118.3" y1="813.5" x2="118.3" y2="831.5" stroke="#000" stroke-opacity="0.066" stroke-width="0.9"/>
<line x1="118.6" y1="771.9" x2="118.6" y2="813.5" stroke="#000" stroke-opacity="0.55" stroke-width="0.9"/>
<line x1="118.6" y1="813.5" x2="118.6" y2="831.5" stroke="#000" stroke-opacity="0.066" stroke-width="0.9"/>
<line x1="120.6" y1="771.9" x2="120.6" y2="813.5" stroke="#000" stroke-opacity="0.55" stroke-width="0.9"/>
<line x1="120.6" y1="813.5" x2="120.6" y2="831.5" stroke="#000" stroke-opacity="0.066" stroke-width="0.9"/>
<line x1="122.4" y1="771.9" x2="122.4" y2="813.5" stroke="#000" stroke-opacity="0.55" stroke-width="0.9"/>
<line x1="122.4" y1="813.5" x2="122.4" y2="831.5" stroke="#000" stroke-opacity="0.066" stroke-width="0.9"/>
<line x1="124.5" y1="771.9" x2="124.5" y2="813.5" stroke="#000" stroke-opacity="0.55" stroke-width="0.9"/>
<line x1="124.5" y1="813.5" x2="124.5" y2="831.5" stroke="#000" stroke-opacity="0.066" stroke-width="0.9"/>
<line x1="128.3" y1="771.9" x2="128.3" y2="813.5" stroke="#000" stroke-opacity="0.28" stroke-width="0.9"/>
<line x1="128.3" y1="813.5" x2="128.3" y2="831.5" stroke="#000" stroke-opacity="0.034" stroke-width="0.9"/>
<line x1="130.3" y1="771.9" x2="130.3" y2="813.5" stroke="#000" stroke-opacity="0.55" stroke-width="0.9"/>
<line x1="130.3" y1="813.5" x2="130.3" y2="831.5" stroke="#000" stroke-opacity="0.066" stroke-width="0.9"/>
<line x1="133.9" y1="771.9" x2="133.9" y2="813.5" stroke="#000" stroke-opacity="0.28" stroke-width="0.9"/>
<line x1="133.9" y1="813.5" x2="133.9" y2="831.5" stroke="#000" stroke-opacity="0.034" stroke-width="0.9"/>
<line x1="136.3" y1="771.9" x2="136.3" y2="813.5" stroke="#000" stroke-opacity="0.28" stroke-width="1.5"/>
<line x1="136.3" y1="813.5" x2="136.3" y2="831.5" stroke="#000" stroke-opacity="0.034" stroke-width="1.5"/>
<line x1="138.5" y1="771.9" x2="138.5" y2="813.5" stroke="#000" stroke-opacity="0.55" stroke-width="0.9"/>
<line x1="138.5" y1="813.5" x2="138.5" y2="831.5" stroke="#000" stroke-opacity="0.066" stroke-width="0.9"/>
<line x1="142.4" y1="771.9" x2="142.4" y2="813.5" stroke="#000" stroke-opacity="0.55" stroke-width="0.9"/>
<line x1="142.4" y1="813.5" x2="142.4" y2="831.5" stroke="#000" stroke-opacity="0.066" stroke-width="0.9"/>
<line x1="147.5" y1="771.9" x2="147.5" y2="813.5" stroke="#000" stroke-opacity="0.85" stroke-width="1.5"/>
<line x1="147.5" y1="813.5" x2="147.5" y2="831.5" stroke="#000" stroke-opacity="0.102" stroke-width="1.5"/>
<line x1="149.7" y1="771.9" x2="149.7" y2="813.5" stroke="#000" stroke-opacity="0.55" stroke-width="1.5"/>
<line x1="149.7" y1="813.5" x2="149.7" y2="831.5" stroke="#000" stroke-opacity="0.066" stroke-width="1.5"/>
<line x1="155.4" y1="771.9" x2="155.4" y2="813.5" stroke="#000" stroke-opacity="0.55" stroke-width="0.9"/>
<line x1="155.4" y1="813.5" x2="155.4" y2="831.5" stroke="#000" stroke-opacity="0.066" stroke-width="0.9"/>
<line x1="158.4" y1="771.9" x2="158.4" y2="813.5" stroke="#000" stroke-opacity="0.55" stroke-width="0.9"/>
<line x1="158.4" y1="813.5" x2="158.4" y2="831.5" stroke="#000" stroke-opacity="0.066" stroke-width="0.9"/>
<line x1="160.0" y1="771.9" x2="160.0" y2="813.5" stroke="#000" stroke-opacity="0.28" stroke-width="0.9"/>
<line x1="160.0" y1="813.5" x2="160.0" y2="831.5" stroke="#000" stroke-opacity="0.034" stroke-width="0.9"/>
<line x1="163.0" y1="771.9" x2="163.0" y2="813.5" stroke="#000" stroke-opacity="0.85" stroke-width="0.9"/>
<line x1="163.0" y1="813.5" x2="163.0" y2="831.5" stroke="#000" stroke-opacity="0.102" stroke-width="0.9"/>
<line x1="166.1" y1="771.9" x2="166.1" y2="813.5" stroke="#000" stroke-opacity="0.28" stroke-width="0.9"/>
<line x1="166.1" y1="813.5" x2="166.1" y2="831.5" stroke="#000" stroke-opacity="0.034" stroke-width="0.9"/>
<line x1="168.1" y1="771.9" x2="168.1" y2="813.5" stroke="#000" stroke-opacity="0.55" stroke-width="0.9"/>
<line x1="168.1" y1="813.5" x2="168.1" y2="831.5" stroke="#000" stroke-opacity="0.066" stroke-width="0.9"/>
<line x1="171.0" y1="771.9" x2="171.0" y2="813.5" stroke="#000" stroke-opacity="0.55" stroke-width="0.9"/>
<line x1="171.0" y1="813.5" x2="171.0" y2="831.5" stroke="#000" stroke-opacity="0.066" stroke-width="0.9"/>
<line x1="174.1" y1="771.9" x2="174.1" y2="813.5" stroke="#000" stroke-opacity="0.55" stroke-width="0.9"/>
<line x1="174.1" y1="813.5" x2="174.1" y2="831.5" stroke="#000" stroke-opacity="0.066" stroke-width="0.9"/>
<line x1="176.1" y1="771.9" x2="176.1" y2="813.5" stroke="#000" stroke-opacity="0.55" stroke-width="1.5"/>
<line x1="176.1" y1="813.5" x2="176.1" y2="831.5" stroke="#000" stroke-opacity="0.066" stroke-width="1.5"/>
<line x1="179.4" y1="771.9" x2="179.4" y2="813.5" stroke="#000" stroke-opacity="0.55" stroke-width="0.9"/>
<line x1="179.4" y1="813.5" x2="179.4" y2="831.5" stroke="#000" stroke-opacity="0.066" stroke-width="0.9"/>
<line x1="182.4" y1="771.9" x2="182.4" y2="813.5" stroke="#000" stroke-opacity="0.55" stroke-width="0.9"/>
<line x1="182.4" y1="813.5" x2="182.4" y2="831.5" stroke="#000" stroke-opacity="0.066" stroke-width="0.9"/>
<line x1="184.5" y1="771.9" x2="184.5" y2="813.5" stroke="#000" stroke-opacity="0.85" stroke-width="0.9"/>
<line x1="184.5" y1="813.5" x2="184.5" y2="831.5" stroke="#000" stroke-opacity="0.102" stroke-width="0.9"/>
<line x1="182.6" y1="771.9" x2="182.6" y2="813.5" stroke="#000" stroke-opacity="0.55" stroke-width="0.9"/>
<line x1="182.6" y1="813.5" x2="182.6" y2="831.5" stroke="#000" stroke-opacity="0.066" stroke-width="0.9"/>
<line x1="184.3" y1="771.9" x2="184.3" y2="813.5" stroke="#000" stroke-opacity="0.85" stroke-width="0.9"/>
<line x1="184.3" y1="813.5" x2="184.3" y2="831.5" stroke="#000" stroke-opacity="0.102" stroke-width="0.9"/>
<line x1="186.6" y1="771.9" x2="186.6" y2="813.5" stroke="#000" stroke-opacity="0.55" stroke-width="1.5"/>
<line x1="186.6" y1="813.5" x2="186.6" y2="831.5" stroke="#000" stroke-opacity="0.066" stroke-width="1.5"/>
<line x1="189.4" y1="771.9" x2="189.4" y2="813.5" stroke="#000" stroke-opacity="0.55" stroke-width="0.9"/>
<line x1="189.4" y1="813.5" x2="189.4" y2="831.5" stroke="#000" stroke-opacity="0.066" stroke-width="0.9"/>
<line x1="191.0" y1="771.9" x2="191.0" y2="813.5" stroke="#000" stroke-opacity="0.28" stroke-width="0.9"/>
<line x1="191.0" y1="813.5" x2="191.0" y2="831.5" stroke="#000" stroke-opacity="0.034" stroke-width="0.9"/>
<line x1="192.8" y1="771.9" x2="192.8" y2="813.5" stroke="#000" stroke-opacity="0.85" stroke-width="1.5"/>
<line x1="192.8" y1="813.5" x2="192.8" y2="831.5" stroke="#000" stroke-opacity="0.102" stroke-width="1.5"/>
<line x1="198.9" y1="771.9" x2="198.9" y2="813.5" stroke="#000" stroke-opacity="0.55" stroke-width="1.5"/>
<line x1="198.9" y1="813.5" x2="198.9" y2="831.5" stroke="#000" stroke-opacity="0.066" stroke-width="1.5"/>
<line x1="200.4" y1="771.9" x2="200.4" y2="813.5" stroke="#000" stroke-opacity="0.28" stroke-width="0.9"/>
<line x1="200.4" y1="813.5" x2="200.4" y2="831.5" stroke="#000" stroke-opacity="0.034" stroke-width="0.9"/>
<line x1="206.1" y1="771.9" x2="206.1" y2="813.5" stroke="#000" stroke-opacity="0.55" stroke-width="1.5"/>
<line x1="206.1" y1="813.5" x2="206.1" y2="831.5" stroke="#000" stroke-opacity="0.066" stroke-width="1.5"/>
<line x1="207.4" y1="771.9" x2="207.4" y2="813.5" stroke="#000" stroke-opacity="0.55" stroke-width="0.9"/>
<line x1="207.4" y1="813.5" x2="207.4" y2="831.5" stroke="#000" stroke-opacity="0.066" stroke-width="0.9"/>
<line x1="209.4" y1="771.9" x2="209.4" y2="813.5" stroke="#000" stroke-opacity="0.85" stroke-width="0.9"/>
<line x1="209.4" y1="813.5" x2="209.4" y2="831.5" stroke="#000" stroke-opacity="0.102" stroke-width="0.9"/>
<line x1="216.3" y1="771.9" x2="216.3" y2="813.5" stroke="#000" stroke-opacity="0.28" stroke-width="0.9"/>
<line x1="216.3" y1="813.5" x2="216.3" y2="831.5" stroke="#000" stroke-opacity="0.034" stroke-width="0.9"/>
<line x1="219.3" y1="771.9" x2="219.3" y2="813.5" stroke="#000" stroke-opacity="0.28" stroke-width="1.5"/>
<line x1="219.3" y1="813.5" x2="219.3" y2="831.5" stroke="#000" stroke-opacity="0.034" stroke-width="1.5"/>
<line x1="221.9" y1="771.9" x2="221.9" y2="813.5" stroke="#000" stroke-opacity="0.85" stroke-width="1.5"/>
<line x1="221.9" y1="813.5" x2="221.9" y2="831.5" stroke="#000" stroke-opacity="0.102" stroke-width="1.5"/>
<line x1="227.2" y1="771.9" x2="227.2" y2="813.5" stroke="#000" stroke-opacity="0.85" stroke-width="0.9"/>
<line x1="227.2" y1="813.5" x2="227.2" y2="831.5" stroke="#000" stroke-opacity="0.102" stroke-width="0.9"/>
<line x1="229.6" y1="771.9" x2="229.6" y2="813.5" stroke="#000" stroke-opacity="0.28" stroke-width="0.9"/>
<line x1="229.6" y1="813.5" x2="229.6" y2="831.5" stroke="#000" stroke-opacity="0.034" stroke-width="0.9"/>
<line x1="234.7" y1="771.9" x2="234.7" y2="813.5" stroke="#000" stroke-opacity="0.55" stroke-width="1.5"/>
<line x1="234.7" y1="813.5" x2="234.7" y2="831.5" stroke="#000" stroke-opacity="0.066" stroke-width="1.5"/>
<line x1="238.8" y1="771.9" x2="238.8" y2="813.5" stroke="#000" stroke-opacity="0.55" stroke-width="0.9"/>
<line x1="238.8" y1="813.5" x2="238.8" y2="831.5" stroke="#000" stroke-opacity="0.066" stroke-width="0.9"/>
<line x1="242.1" y1="771.9" x2="242.1" y2="813.5" stroke="#000" stroke-opacity="0.28" stroke-width="1.5"/>
<line x1="242.1" y1="813.5" x2="242.1" y2="831.5" stroke="#000" stroke-opacity="0.034" stroke-width="1.5"/>
<line x1="246.2" y1="771.9" x2="246.2" y2="813.5" stroke="#000" stroke-opacity="0.55" stroke-width="1.5"/>
<line x1="246.2" y1="813.5" x2="246.2" y2="831.5" stroke="#000" stroke-opacity="0.066" stroke-width="1.5"/>
<line x1="246.4" y1="771.9" x2="246.4" y2="813.5" stroke="#000" stroke-opacity="0.55" stroke-width="1.5"/>
<line x1="246.4" y1="813.5" x2="246.4" y2="831.5" stroke="#000" stroke-opacity="0.066" stroke-width="1.5"/>
<line x1="252.0" y1="771.9" x2="252.0" y2="813.5" stroke="#000" stroke-opacity="0.55" stroke-width="0.9"/>
<line x1="252.0" y1="813.5" x2="252.0" y2="831.5" stroke="#000" stroke-opacity="0.066" stroke-width="0.9"/>
<line x1="260.8" y1="771.9" x2="260.8" y2="813.5" stroke="#000" stroke-opacity="0.55" stroke-width="0.9"/>
<line x1="260.8" y1="813.5" x2="260.8" y2="831.5" stroke="#000" stroke-opacity="0.066" stroke-width="0.9"/>
<line x1="266.6" y1="771.9" x2="266.6" y2="813.5" stroke="#000" stroke-opacity="0.28" stroke-width="1.5"/>
<line x1="266.6" y1="813.5" x2="266.6" y2="831.5" stroke="#000" stroke-opacity="0.034" stroke-width="1.5"/>
<line x1="270.5" y1="771.9" x2="270.5" y2="813.5" stroke="#000" stroke-opacity="0.85" stroke-width="0.9"/>
<line x1="270.5" y1="813.5" x2="270.5" y2="831.5" stroke="#000" stroke-opacity="0.102" stroke-width="0.9"/>
<line x1="274.0" y1="771.9" x2="274.0" y2="813.5" stroke="#000" stroke-opacity="0.55" stroke-width="0.9"/>
<line x1="274.0" y1="813.5" x2="274.0" y2="831.5" stroke="#000" stroke-opacity="0.066" stroke-width="0.9"/>
<line x1="277.5" y1="771.9" x2="277.5" y2="813.5" stroke="#000" stroke-opacity="0.85" stroke-width="0.9"/>
<line x1="277.5" y1="813.5" x2="277.5" y2="831.5" stroke="#000" stroke-opacity="0.102" stroke-width="0.9"/>
<line x1="279.8" y1="771.9" x2="279.8" y2="813.5" stroke="#000" stroke-opacity="0.55" stroke-width="0.9"/>
<line x1="279.8" y1="813.5" x2="279.8" y2="831.5" stroke="#000" stroke-opacity="0.066" stroke-width="0.9"/>
<line x1="281.8" y1="771.9" x2="281.8" y2="813.5" stroke="#000" stroke-opacity="0.85" stroke-width="1.5"/>
<line x1="281.8" y1="813.5" x2="281.8" y2="831.5" stroke="#000" stroke-opacity="0.102" stroke-width="1.5"/>
<line x1="284.7" y1="771.9" x2="284.7" y2="813.5" stroke="#000" stroke-opacity="0.55" stroke-width="0.9"/>
<line x1="284.7" y1="813.5" x2="284.7" y2="831.5" stroke="#000" stroke-opacity="0.066" stroke-width="0.9"/>
<line x1="287.0" y1="771.9" x2="287.0" y2="813.5" stroke="#000" stroke-opacity="0.28" stroke-width="0.9"/>
<line x1="287.0" y1="813.5" x2="287.0" y2="831.5" stroke="#000" stroke-opacity="0.034" stroke-width="0.9"/>
<line x1="290.5" y1="771.9" x2="290.5" y2="813.5" stroke="#000" stroke-opacity="0.85" stroke-width="0.9"/>
<line x1="290.5" y1="813.5" x2="290.5" y2="831.5" stroke="#000" stroke-opacity="0.102" stroke-width="0.9"/>
<line x1="293.5" y1="771.9" x2="293.5" y2="813.5" stroke="#000" stroke-opacity="0.55" stroke-width="0.9"/>
<line x1="293.5" y1="813.5" x2="293.5" y2="831.5" stroke="#000" stroke-opacity="0.066" stroke-width="0.9"/>
<line x1="298.1" y1="771.9" x2="298.1" y2="813.5" stroke="#000" stroke-opacity="0.55" stroke-width="1.5"/>
<line x1="298.1" y1="813.5" x2="298.1" y2="831.5" stroke="#000" stroke-opacity="0.066" stroke-width="1.5"/>
<line x1="300.5" y1="771.9" x2="300.5" y2="813.5" stroke="#000" stroke-opacity="0.85" stroke-width="0.9"/>
<line x1="300.5" y1="813.5" x2="300.5" y2="831.5" stroke="#000" stroke-opacity="0.102" stroke-width="0.9"/>
<line x1="303.4" y1="771.9" x2="303.4" y2="813.5" stroke="#000" stroke-opacity="0.28" stroke-width="1.5"/>
<line x1="303.4" y1="813.5" x2="303.4" y2="831.5" stroke="#000" stroke-opacity="0.034" stroke-width="1.5"/>
<line x1="309.0" y1="771.9" x2="309.0" y2="813.5" stroke="#000" stroke-opacity="0.55" stroke-width="0.9"/>
<line x1="309.0" y1="813.5" x2="309.0" y2="831.5" stroke="#000" stroke-opacity="0.066" stroke-width="0.9"/>
<line x1="311.6" y1="771.9" x2="311.6" y2="813.5" stroke="#000" stroke-opacity="0.85" stroke-width="0.9"/>
<line x1="311.6" y1="813.5" x2="311.6" y2="831.5" stroke="#000" stroke-opacity="0.102" stroke-width="0.9"/>
<line x1="314.8" y1="771.9" x2="314.8" y2="813.5" stroke="#000" stroke-opacity="0.28" stroke-width="0.9"/>
<line x1="314.8" y1="813.5" x2="314.8" y2="831.5" stroke="#000" stroke-opacity="0.034" stroke-width="0.9"/>
<line x1="321.5" y1="771.9" x2="321.5" y2="813.5" stroke="#000" stroke-opacity="0.28" stroke-width="0.9"/>
<line x1="321.5" y1="813.5" x2="321.5" y2="831.5" stroke="#000" stroke-opacity="0.034" stroke-width="0.9"/>
<line x1="56.5" y1="831.5" x2="321.8" y2="831.5" stroke="#444" stroke-width="0.9"/><line x1="56.5" y1="771.9" x2="56.5" y2="831.5" stroke="#888" stroke-width="0.9"/>
<text x="55.80" y="848.60" font-size="13.5" fill="#000" text-anchor="start"  stroke="#000" stroke-width="0.12">WT</text>
<text x="98.50" y="848.60" font-size="13.5" fill="#000" text-anchor="start"  stroke="#000" stroke-width="0.12">2500</text>
<text x="155.00" y="849.80" font-size="13.5" fill="#000" text-anchor="start"  stroke="#000" stroke-width="0.12">5000</text>
<text x="205.40" y="849.50" font-size="13.5" fill="#000" text-anchor="start"  stroke="#000" stroke-width="0.12">7500</text>
<text x="254.30" y="849.50" font-size="13.5" fill="#000" text-anchor="start"  stroke="#000" stroke-width="0.12">10000</text>
<text x="310.00" y="849.50" font-size="13.5" fill="#000" text-anchor="start"  stroke="#000" stroke-width="0.12">CK</text>
<text x="106.20" y="870.00" font-size="16.25" fill="#000" text-anchor="start"  stroke="#000" stroke-width="0.12">Rank in ordered dataset</text>
<text transform="translate(22,843) rotate(-90)" font-size="16.3" textLength="190.5" lengthAdjust="spacingAndGlyphs" stroke="#000" stroke-width="0.12">Running enrichment score</text>
<text x="363.60" y="632.70" font-size="24.5" fill="#000" text-anchor="start" font-weight="bold"  stroke="#000" stroke-width="0.12">f</text>
<path d="M426.9,631.6 H679.8 V866.7" fill="none" stroke="#000" stroke-width="1.5"/>
<path d="M426.9,631 V866.7 H680.5" fill="none" stroke="#000" stroke-width="2"/>
<line x1="420" y1="866.7" x2="427" y2="866.7" stroke="#000" stroke-width="1.6"/>
<text transform="translate(417.70,871.70) scale(1,1.2)" font-size="13.4" fill="#000" text-anchor="end" stroke="#000" stroke-width="0.12">0.0</text>
<line x1="420" y1="808.1" x2="427" y2="808.1" stroke="#000" stroke-width="1.6"/>
<text transform="translate(417.70,813.05) scale(1,1.2)" font-size="13.4" fill="#000" text-anchor="end" stroke="#000" stroke-width="0.12">3.0</text>
<line x1="420" y1="749.4" x2="427" y2="749.4" stroke="#000" stroke-width="1.6"/>
<text transform="translate(417.70,754.40) scale(1,1.2)" font-size="13.4" fill="#000" text-anchor="end" stroke="#000" stroke-width="0.12">6.0</text>
<line x1="420" y1="690.8" x2="427" y2="690.8" stroke="#000" stroke-width="1.6"/>
<text transform="translate(417.70,695.75) scale(1,1.2)" font-size="13.4" fill="#000" text-anchor="end" stroke="#000" stroke-width="0.12">9.0</text>
<line x1="420" y1="632.1" x2="427" y2="632.1" stroke="#000" stroke-width="1.6"/>
<text transform="translate(417.70,637.10) scale(1,1.2)" font-size="13.4" fill="#000" text-anchor="end" stroke="#000" stroke-width="0.12">12.0</text>
<line x1="427.0" y1="866.7" x2="427.0" y2="873" stroke="#000" stroke-width="1.6"/>
<text transform="translate(427.00,888.90) scale(1,1.2)" font-size="13.4" fill="#000" text-anchor="middle" stroke="#000" stroke-width="0.12">0</text>
<line x1="486.4" y1="866.7" x2="486.4" y2="873" stroke="#000" stroke-width="1.6"/>
<text transform="translate(486.40,888.90) scale(1,1.2)" font-size="13.4" fill="#000" text-anchor="middle" stroke="#000" stroke-width="0.12">20</text>
<line x1="545.8" y1="866.7" x2="545.8" y2="873" stroke="#000" stroke-width="1.6"/>
<text transform="translate(545.80,888.90) scale(1,1.2)" font-size="13.4" fill="#000" text-anchor="middle" stroke="#000" stroke-width="0.12">40</text>
<line x1="605.2" y1="866.7" x2="605.2" y2="873" stroke="#000" stroke-width="1.6"/>
<text transform="translate(605.20,888.90) scale(1,1.2)" font-size="13.4" fill="#000" text-anchor="middle" stroke="#000" stroke-width="0.12">60</text>
<line x1="664.6" y1="866.7" x2="664.6" y2="873" stroke="#000" stroke-width="1.6"/>
<text transform="translate(664.60,888.90) scale(1,1.2)" font-size="13.4" fill="#000" text-anchor="middle" stroke="#000" stroke-width="0.12">80</text>
<text transform="translate(531.90,911.40) scale(1,1.09)" font-size="15.2" fill="#000" text-anchor="start" stroke="#000" stroke-width="0.12">hpi (h)</text>
<text transform="translate(380.2,794.1) rotate(-90)" font-size="16.1" stroke="#000" stroke-width="0.12">CFUs(Log10)</text>
<polyline points="432.9,781.7 462.6,771.9 498.3,796.3 569.6,839.3 640.8,863.8" fill="none" stroke="#8c8c8c" stroke-width="1.8"/>
<path d="M428.4,772.9 H437.4 M432.9,772.9 V790.5 M428.4,790.5 H437.4" stroke="#8c8c8c" stroke-width="1.8" fill="none"/>
<circle cx="432.9" cy="781.7" r="4.6" fill="#8c8c8c"/>
<path d="M458.1,769.9 H467.1 M462.6,769.9 V773.8 M458.1,773.8 H467.1" stroke="#8c8c8c" stroke-width="1.8" fill="none"/>
<circle cx="462.6" cy="771.9" r="4.6" fill="#8c8c8c"/>
<path d="M493.8,789.5 H502.8 M498.3,789.5 V803.2 M493.8,803.2 H502.8" stroke="#8c8c8c" stroke-width="1.8" fill="none"/>
<circle cx="498.3" cy="796.3" r="4.6" fill="#8c8c8c"/>
<path d="M565.1,832.5 H574.1 M569.6,832.5 V846.2 M565.1,846.2 H574.1" stroke="#8c8c8c" stroke-width="1.8" fill="none"/>
<circle cx="569.6" cy="839.3" r="4.6" fill="#8c8c8c"/>
<circle cx="640.8" cy="863.8" r="4.6" fill="#8c8c8c"/>
<polyline points="432.9,785.6 462.6,762.5 498.3,734.7 569.6,701.5 640.8,665.3" fill="none" stroke="#1a1aee" stroke-width="1.8"/>
<path d="M428.4,781.7 H437.4 M432.9,781.7 V789.5 M428.4,789.5 H437.4" stroke="#3d3df0" stroke-width="1.8" fill="none"/>
<circle cx="432.9" cy="785.6" r="4.6" fill="#3d3df0"/>
<path d="M458.1,754.7 H467.1 M462.6,754.7 V770.3 M458.1,770.3 H467.1" stroke="#3d3df0" stroke-width="1.8" fill="none"/>
<circle cx="462.6" cy="762.5" r="4.6" fill="#3d3df0"/>
<path d="M493.8,727.9 H502.8 M498.3,727.9 V741.6 M493.8,741.6 H502.8" stroke="#3d3df0" stroke-width="1.8" fill="none"/>
<circle cx="498.3" cy="734.7" r="4.6" fill="#3d3df0"/>
<path d="M565.1,695.6 H574.1 M569.6,695.6 V707.4 M565.1,707.4 H574.1" stroke="#3d3df0" stroke-width="1.8" fill="none"/>
<circle cx="569.6" cy="701.5" r="4.6" fill="#3d3df0"/>
<path d="M636.3,659.5 H645.3 M640.8,659.5 V671.2 M636.3,671.2 H645.3" stroke="#3d3df0" stroke-width="1.8" fill="none"/>
<circle cx="640.8" cy="665.3" r="4.6" fill="#3d3df0"/>
<polyline points="432.9,782.8 462.6,771.3 498.3,749.4 569.6,724.0 640.8,702.5" fill="none" stroke="#333333" stroke-width="1.8"/>
<path d="M428.4,779.9 H437.4 M432.9,779.9 V785.8 M428.4,785.8 H437.4" stroke="#333333" stroke-width="1.8" fill="none"/>
<circle cx="432.9" cy="782.8" r="4.6" fill="#333333"/>
<path d="M458.1,769.3 H467.1 M462.6,769.3 V773.3 M458.1,773.3 H467.1" stroke="#333333" stroke-width="1.8" fill="none"/>
<circle cx="462.6" cy="771.3" r="4.6" fill="#333333"/>
<path d="M493.8,744.5 H502.8 M498.3,744.5 V754.3 M493.8,754.3 H502.8" stroke="#333333" stroke-width="1.8" fill="none"/>
<circle cx="498.3" cy="749.4" r="4.6" fill="#333333"/>
<circle cx="569.6" cy="724.0" r="4.6" fill="#333333"/>
<path d="M636.3,694.7 H645.3 M640.8,694.7 V710.3 M636.3,710.3 H645.3" stroke="#333333" stroke-width="1.8" fill="none"/>
<circle cx="640.8" cy="702.5" r="4.6" fill="#333333"/>
<line x1="433" y1="644.3" x2="450.5" y2="644.3" stroke="#333333" stroke-width="1.8"/><circle cx="441.8" cy="644.3" r="4" fill="#333333"/>
<line x1="433" y1="666.8" x2="450.5" y2="666.8" stroke="#3d3df0" stroke-width="1.8"/><circle cx="441.8" cy="666.8" r="4" fill="#3d3df0"/>
<line x1="433" y1="690.6" x2="450.5" y2="690.6" stroke="#8c8c8c" stroke-width="1.8"/><circle cx="441.8" cy="690.6" r="4" fill="#8c8c8c"/>
<text x="461.2" y="650.4" font-size="13.6" fill="#111" stroke="#111" stroke-width="0.12">HeLa<tspan font-size="10.8" dy="-6">WT</tspan><tspan dy="6"> + Lp</tspan><tspan font-size="10.8" dy="-6">WT</tspan></text>
<text x="461.2" y="673.2" font-size="13.6" fill="#2424f0" stroke="#2424f0" stroke-width="0.12">HeLa<tspan font-size="12.5" dy="-5.5"> Δ</tspan><tspan font-size="11" font-style="italic" stroke="#2424f0" stroke-width="0.45">jak1</tspan><tspan dy="5.5" font-style="italic" font-size="13.7" stroke="#2424f0" stroke-width="0.45">+ Lp</tspan><tspan font-size="10.8" dy="-6" font-style="italic" stroke="#2424f0" stroke-width="0.45">WT</tspan></text>
<text x="461.2" y="698.4" font-size="13.6" fill="#8c8c8c" stroke="#8c8c8c" stroke-width="0.12">HeLa<tspan font-size="10.8" dy="-6">WT</tspan><tspan dy="6" font-style="italic"> + Lp</tspan><tspan font-size="12.5" dy="-6.5"> Δ</tspan><tspan font-size="10.8" font-style="italic">dotA</tspan></text>
<text x="616.70" y="654.60" font-size="12.1" fill="#000" text-anchor="start"  stroke="#000" stroke-width="0.12">p = 0.0025</text>
<path d="M652.6,664 H662 V702.4 H652.6" fill="none" stroke="#000" stroke-width="1.6"/>
</svg></body></html>
